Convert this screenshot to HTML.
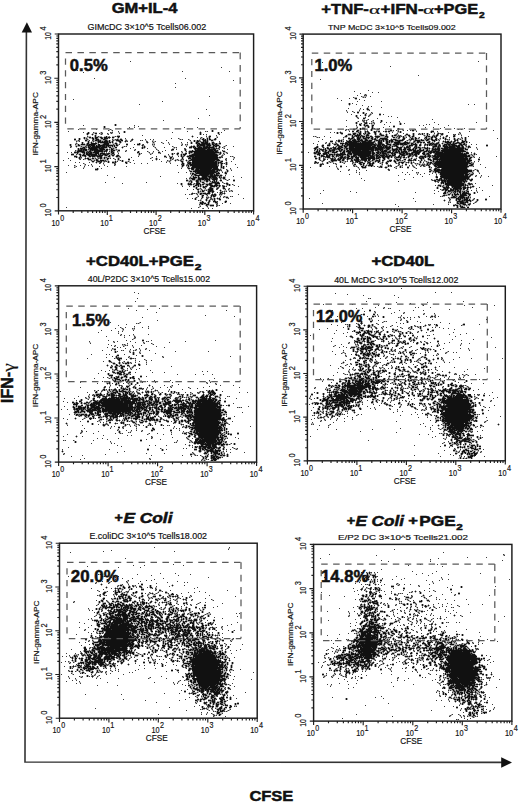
<!DOCTYPE html><html><head><meta charset="utf-8"><style>html,body{margin:0;padding:0;background:#fff;}svg{display:block}</style></head><body>
<svg width="520" height="804" viewBox="0 0 520 804">
<rect width="520" height="804" fill="#fff"/>
<path d="M26.4 31 L25 762 L502 762.4" stroke="#333" stroke-width="1.6" fill="none"/>
<path d="M26.9 22.2 L21.7 32.6 L32 32.6Z" fill="#111"/>
<path d="M512 762.5 L501.2 757.3 L501.2 767.7Z" fill="#111"/>
<text transform="translate(13.05 403.03) rotate(-90) scale(0.946 1)" font-family="Liberation Sans" font-weight="bold" font-style="normal" font-size="16.87" fill="#111"  stroke="#111" stroke-width="0.5">IFN-</text>
<text transform="translate(13.50 371.66) rotate(-90) scale(1.162 1)" font-family="Liberation Serif" font-weight="normal" font-style="normal" font-size="16.54" fill="#111"  stroke="#111" stroke-width="0.18">γ</text>
<text transform="translate(249.39 801.49) scale(1.061 1)" font-family="Liberation Sans" font-weight="bold" font-style="normal" font-size="15.55" fill="#111"  stroke="#111" stroke-width="0.5">CFSE</text>
<text transform="translate(111.69 13.10) scale(1.084 1)" font-family="Liberation Sans" font-weight="bold" font-style="normal" font-size="15.27" fill="#111"  stroke="#111" stroke-width="0.5">GM+IL-4</text>
<text transform="translate(321.34 13.85) scale(1.079 1)" font-family="Liberation Sans" font-weight="bold" font-style="normal" font-size="15.42" fill="#111"  stroke="#111" stroke-width="0.5">+TNF-</text>
<text transform="translate(369.09 13.87) scale(1.579 1)" font-family="Liberation Serif" font-weight="normal" font-style="normal" font-size="13.51" fill="#111"  stroke="#111" stroke-width="0.18">α</text>
<text transform="translate(380.53 13.85) scale(1.104 1)" font-family="Liberation Sans" font-weight="bold" font-style="normal" font-size="15.42" fill="#111"  stroke="#111" stroke-width="0.5">+IFN-</text>
<text transform="translate(423.09 13.87) scale(1.579 1)" font-family="Liberation Serif" font-weight="normal" font-style="normal" font-size="13.51" fill="#111"  stroke="#111" stroke-width="0.18">α</text>
<text transform="translate(434.05 13.70) scale(1.095 1)" font-family="Liberation Sans" font-weight="bold" font-style="normal" font-size="14.98" fill="#111"  stroke="#111" stroke-width="0.5">+PGE</text>
<text transform="translate(479.09 18.05) scale(1.079 1)" font-family="Liberation Sans" font-weight="bold" font-style="normal" font-size="9.46" fill="#111"  stroke="#111" stroke-width="0.5">2</text>
<text transform="translate(86.04 265.50) scale(1.118 1)" font-family="Liberation Sans" font-weight="bold" font-style="normal" font-size="14.98" fill="#111"  stroke="#111" stroke-width="0.5">+CD40L+PGE</text>
<text transform="translate(194.83 269.85) scale(1.221 1)" font-family="Liberation Sans" font-weight="bold" font-style="normal" font-size="9.89" fill="#111"  stroke="#111" stroke-width="0.5">2</text>
<text transform="translate(371.44 266.31) scale(1.173 1)" font-family="Liberation Sans" font-weight="bold" font-style="normal" font-size="14.28" fill="#111"  stroke="#111" stroke-width="0.5">+CD40L</text>
<text transform="translate(114.44 522.39) scale(1.107 1)" font-family="Liberation Sans" font-weight="bold" font-style="normal" font-size="13.00" fill="#111"  stroke="#111" stroke-width="0.5">+</text>
<text transform="translate(123.45 522.91) scale(1.259 1)" font-family="Liberation Sans" font-weight="bold" font-style="italic" font-size="13.74" fill="#111"  stroke="#111" stroke-width="0.5">E Coli</text>
<text transform="translate(346.63 525.26) scale(1.158 1)" font-family="Liberation Sans" font-weight="bold" font-style="normal" font-size="12.61" fill="#111"  stroke="#111" stroke-width="0.5">+</text>
<text transform="translate(355.45 526.01) scale(1.246 1)" font-family="Liberation Sans" font-weight="bold" font-style="italic" font-size="13.74" fill="#111"  stroke="#111" stroke-width="0.5">E Coli</text>
<text transform="translate(408.24 525.23) scale(1.359 1)" font-family="Liberation Sans" font-weight="bold" font-style="normal" font-size="12.22" fill="#111"  stroke="#111" stroke-width="0.5">+</text>
<text transform="translate(419.29 526.11) scale(1.194 1)" font-family="Liberation Sans" font-weight="bold" font-style="normal" font-size="14.42" fill="#111"  stroke="#111" stroke-width="0.5">PGE</text>
<text transform="translate(456.34 530.35) scale(1.292 1)" font-family="Liberation Sans" font-weight="bold" font-style="normal" font-size="9.03" fill="#111"  stroke="#111" stroke-width="0.5">2</text>
<path d="M115 124.5h1m-1 1h1m-12 1h1m-1 1h1m107 3h1m-89 1h1m87 0h1m-125 1h1m35 0h1m75 0h1m17 0h1m-132 1h2m6 0h2m103 0h1m17 0h1m-132 1h1m4 0h1m107 0h1m-106 1h1m-1 1h1m10 0h1m10 0h3m72 0h1m16 0h2m-127 1h1m4 0h2m1 0h1m2 0h3m2 0h2m2 0h3m1 0h2m2 0h2m4 0h1m90 0h1m-131 1h1m4 0h1m7 0h2m1 0h2m4 0h2m1 0h4m95 0h1m3 0h1m1 0h1m5 0h1m-142 1h2m3 0h1m13 0h1m2 0h3m4 0h2m12 0h1m2 0h2m10 0h1m69 0h2m1 0h1m1 0h1m1 0h2m3 0h2m-131 1h2m8 0h2m1 0h1m1 0h1m4 0h2m2 0h1m6 0h3m2 0h2m71 0h1m2 0h1m5 0h3m1 0h1m3 0h2m-125 1h1m9 0h3m1 0h1m1 0h4m1 0h1m2 0h1m6 0h2m4 0h1m68 0h1m2 0h2m4 0h1m1 0h1m1 0h1m-126 1h1m5 0h1m2 0h1m6 0h1m1 0h8m1 0h2m1 0h1m7 0h1m26 0h1m43 0h1m4 0h2m3 0h3m1 0h3m4 0h2m-132 1h1m4 0h2m2 0h6m7 0h5m6 0h2m22 0h1m51 0h1m4 0h1m1 0h2m2 0h6m1 0h1m2 0h1m3 0h1m2 0h2m-151 1h1m7 0h1m2 0h4m2 0h1m1 0h6m3 0h2m3 0h6m7 0h1m9 0h2m9 0h3m57 0h1m1 0h6m1 0h4m2 0h2m1 0h2m-147 1h1m7 0h2m8 0h2m1 0h4m1 0h1m1 0h7m1 0h7m1 0h1m1 0h2m24 0h1m54 0h2m1 0h5m2 0h4m2 0h2m1 0h3m-143 1h1m11 0h1m1 0h1m1 0h3m1 0h5m1 0h3m1 0h1m1 0h1m3 0h1m1 0h1m29 0h1m46 0h1m1 0h2m2 0h1m1 0h1m3 0h2m1 0h2m1 0h1m3 0h1m1 0h2m2 0h1m-137 1h2m3 0h2m1 0h9m1 0h6m2 0h2m4 0h2m5 0h1m19 0h1m1 0h1m44 0h3m1 0h1m1 0h1m2 0h4m1 0h11m5 0h1m-142 1h1m1 0h3m1 0h1m4 0h8m2 0h5m7 0h1m30 0h1m51 0h13m1 0h2m3 0h2m1 0h1m-139 1h1m2 0h1m1 0h4m3 0h8m2 0h5m1 0h2m3 0h2m59 0h2m11 0h1m9 0h1m1 0h8m2 0h9m-138 1h4m1 0h1m1 0h2m3 0h1m1 0h1m1 0h9m3 0h1m4 0h1m1 0h2m3 0h2m65 0h1m6 0h1m2 0h18m1 0h2m1 0h1m-141 1h7m5 0h2m3 0h9m1 0h1m1 0h1m4 0h2m25 0h1m50 0h25m1 0h2m6 0h2m-151 1h2m1 0h1m4 0h3m1 0h1m1 0h1m1 0h2m1 0h6m12 0h1m1 0h1m23 0h2m19 0h2m29 0h1m1 0h1m2 0h25m1 0h1m-144 1h1m6 0h1m1 0h2m1 0h3m3 0h4m1 0h5m3 0h2m2 0h2m25 0h1m32 0h1m4 0h2m6 0h2m2 0h1m4 0h21m5 0h1m-150 1h3m5 0h2m2 0h1m2 0h11m1 0h1m1 0h1m2 0h3m1 0h1m31 0h1m32 0h1m4 0h1m3 0h1m1 0h3m6 0h25m-137 1h1m1 0h4m2 0h2m1 0h6m2 0h4m2 0h2m2 0h1m2 0h2m3 0h2m62 0h1m2 0h1m4 0h29m-144 1h3m3 0h1m4 0h1m3 0h2m1 0h3m2 0h5m6 0h2m6 0h2m46 0h2m15 0h1m5 0h2m1 0h4m1 0h22m-141 1h1m2 0h1m20 0h2m2 0h1m65 0h2m10 0h1m6 0h1m2 0h26m1 0h2m-142 1h1m5 0h1m1 0h2m3 0h2m6 0h2m2 0h1m2 0h2m9 0h1m37 0h1m13 0h1m11 0h1m5 0h3m1 0h26m-130 1h3m5 0h1m10 0h1m10 0h1m9 0h2m26 0h1m34 0h28m-123 1h2m2 0h4m18 0h1m52 0h1m10 0h1m2 0h2m1 0h23m2 0h3m-128 1h2m4 0h2m1 0h1m6 0h1m6 0h1m6 0h1m58 0h2m9 0h22m1 0h2m4 0h2m-127 1h1m3 0h1m7 0h1m3 0h2m1 0h1m9 0h2m55 0h1m6 0h2m1 0h25m1 0h1m1 0h1m5 0h1m-101 1h1m55 0h2m4 0h3m1 0h25m1 0h1m2 0h2m3 0h1m-44 1h1m6 0h27m4 0h1m4 0h1m-45 1h2m4 0h1m1 0h27m4 0h1m-40 1h1m5 0h1m3 0h26m3 0h1m1 0h1m-32 1h26m3 0h1m1 0h1m-127 1h1m90 0h2m1 0h3m2 0h16m1 0h5m5 0h1m-129 1h3m94 0h2m2 0h3m1 0h11m1 0h7m-24 1h20m2 0h1m1 0h1m7 0h1m-38 1h2m1 0h22m1 0h2m9 0h1m-33 1h1m1 0h19m2 0h1m6 0h1m-34 1h2m2 0h18m2 0h4m5 0h2m-35 1h1m1 0h2m4 0h9m1 0h3m1 0h1m1 0h1m-22 1h5m1 0h7m2 0h3m1 0h5m1 0h2m-29 1h1m4 0h1m3 0h5m1 0h8m3 0h1m-27 1h4m1 0h1m3 0h5m2 0h2m1 0h5m2 0h1m3 0h2m-34 1h4m3 0h10m1 0h1m3 0h4m6 0h2m-33 1h3m3 0h3m1 0h2m1 0h5m2 0h5m-31 1h2m8 0h2m2 0h1m5 0h2m1 0h1m4 0h1m1 0h1m3 0h2m11 0h2m-44 1h1m4 0h2m2 0h1m5 0h2m4 0h1m1 0h1m1 0h1m-26 1h1m5 0h1m4 0h2m8 0h4m1 0h2m-38 1h1m6 0h1m1 0h1m5 0h4m9 0h3m3 0h5m6 0h2m-47 1h1m6 0h4m4 0h3m1 0h1m1 0h2m2 0h2m1 0h2m4 0h2m10 0h1m1 0h1m-35 1h2m1 0h1m1 0h1m6 0h1m2 0h3m1 0h4m1 0h1m9 0h1m-37 1h2m3 0h1m1 0h1m2 0h1m1 0h2m4 0h4m1 0h1m2 0h1m3 0h2m-29 1h1m6 0h2m5 0h1m12 0h1m-28 1h1m13 0h3m4 0h1m5 0h2m-28 1h2m9 0h5m-11 1h1m6 0h4m7 0h1m-23 1h1m3 0h2m4 0h3m1 0h2m-16 1h1m9 0h2m2 0h1m7 0h2m-30 1h1m7 0h2m1 0h3m1 0h3m10 0h1m3 0h1m-25 1h1m5 0h1m5 0h1m1 0h2m-14 1h2m7 0h1m1 0h1m1 0h1m-14 1h1m8 0h1m1 0h2m-13 1h1m23 0h2m-33 1h1m18 0h1m2 0h1m1 0h1m-25 1h1m10 0h1m7 0h1m4 0h2m-15 1h1m2 0h1m4 0h1m-13 1h1m6 0h1m3 0h3m9 0h2m-27 1h1m1 0h2m4 0h1m6 0h2m8 0h1m-26 1h3m1 0h2m2 0h1m-7 1h1m3 0h3m-3 1h1m3 0h4" stroke="#111" stroke-width="1"/>
<path d="M130 61.5h1m90 6h1m-145 3h1m27 0h1m76 1h1m46 0h1m-147 1h1m10 6h1m90 0h1m47 2h1m-59 3h1m-1 4h1m33 9h1m-137 3h1m88 2h1m-24 3h1m66 5h1m2 6h1m-12 3h1m-36 2h1m-81 5h1m50 0h1m3 1h1m-10 1h1m4 0h1m49 0h1m12 0h1m-120 2h1m17 0h1m13 0h1m-3 1h1m3 0h1m111 0h1m-157 1h1m49 0h1m68 0h1m17 0h1m1 0h1m-125 1h1m9 0h1m7 0h1m8 0h1m1 0h1m59 0h1m48 0h1m-123 1h1m2 0h1m4 0h1m3 0h1m7 0h1m-19 1h1m6 0h1m94 0h1m2 0h1m12 0h1m-78 1h1m73 0h1m-130 1h1m10 0h1m16 0h1m90 0h1m-10 1h1m3 0h1m15 0h1m-132 1h1m38 0h1m45 0h1m6 0h1m21 0h1m-114 1h1m17 0h1m6 0h1m2 0h1m29 0h1m4 0h1m2 0h1m26 0h1m1 0h1m5 0h1m-111 1h1m10 0h1m2 0h1m4 0h1m1 0h1m13 0h1m5 0h1m6 0h1m4 0h1m8 0h1m1 0h1m23 0h1m23 0h1m8 0h1m-124 1h1m2 0h1m13 0h1m33 0h1m2 0h1m15 0h1m5 0h1m2 0h1m44 0h1m3 0h1m1 0h1m12 0h1m-121 1h1m53 0h1m7 0h1m6 0h1m12 0h1m5 0h1m16 0h1m-129 1h1m86 0h1m33 0h1m3 0h1m6 0h1m4 0h2m-140 1h1m12 0h1m6 0h1m17 0h1m5 0h1m14 0h1m8 0h1m8 0h1m1 0h1m14 0h1m12 0h1m2 0h1m1 0h1m10 0h1m6 0h1m-120 1h2m2 0h1m14 0h1m75 0h1m17 0h1m6 0h1m8 0h1m10 0h1m-156 1h1m9 0h1m3 0h1m3 0h1m5 0h1m5 0h1m3 0h1m18 0h1m1 0h1m26 0h1m18 0h1m13 0h1m11 0h1m1 0h1m4 0h1m2 0h1m15 0h1m8 0h1m-164 1h1m15 0h1m3 0h1m9 0h1m32 0h1m21 0h1m8 0h1m9 0h1m1 0h1m17 0h1m27 0h1m-140 1h1m13 0h1m15 0h1m16 0h1m16 0h1m36 0h1m22 0h1m3 0h2m5 0h1m5 0h1m-145 1h1m1 0h1m5 0h1m10 0h1m9 0h1m6 0h1m18 0h1m20 0h1m19 0h1m19 0h1m8 0h1m13 0h1m7 0h1m-153 1h1m6 0h1m1 0h1m6 0h1m1 0h1m11 0h1m1 0h1m4 0h1m13 0h1m7 0h1m23 0h1m6 0h1m5 0h1m41 0h1m2 0h1m5 0h1m-139 1h1m2 0h1m17 0h1m3 0h1m7 0h1m7 0h1m21 0h1m5 0h1m8 0h1m18 0h1m4 0h1m27 0h1m2 0h1m-151 1h1m3 0h1m4 0h1m1 0h1m8 0h1m1 0h1m12 0h1m9 0h1m36 0h1m32 0h1m7 0h1m35 0h1m-139 1h1m17 0h2m10 0h1m22 0h1m10 0h1m7 0h1m13 0h1m40 0h1m7 0h1m3 0h1m-152 1h1m7 0h1m17 0h1m3 0h1m1 0h1m2 0h1m2 0h1m35 0h1m17 0h1m50 0h1m4 0h1m-135 1h1m6 0h2m123 0h1m-104 1h1m18 0h1m17 0h1m12 0h1m2 0h1m5 0h1m4 0h1m5 0h1m4 0h1m22 0h1m3 0h1m8 0h1m1 0h1m-152 1h1m24 0h1m13 0h1m10 0h1m20 0h1m13 0h1m23 0h1m31 0h1m11 0h1m-167 1h1m26 0h1m2 0h1m11 0h1m2 0h1m36 0h1m22 0h1m52 0h1m-147 1h1m2 0h1m13 0h1m17 0h1m43 0h1m12 0h1m4 0h1m3 0h1m1 0h1m41 0h1m7 0h1m-171 1h1m6 0h1m20 0h1m2 0h1m10 0h1m14 0h1m12 0h1m18 0h1m14 0h1m2 0h1m7 0h1m1 0h1m10 0h1m24 0h1m9 0h1m-130 1h1m2 0h1m3 0h1m1 0h1m10 0h1m10 0h1m32 0h1m7 0h1m18 0h1m25 0h1m16 0h1m-157 1h1m3 0h1m9 0h1m40 0h1m35 0h1m20 0h2m30 0h1m1 0h1m-139 1h1m15 0h1m3 0h1m10 0h1m19 0h1m6 0h1m5 0h1m22 0h1m53 0h1m-140 1h1m5 0h1m23 0h1m65 0h2m4 0h1m1 0h1m45 0h1m-168 1h1m5 0h1m5 0h1m7 0h1m15 0h1m9 0h1m62 0h1m8 0h1m31 0h1m-143 1h1m7 0h1m7 0h1m6 0h1m7 0h1m18 0h1m99 0h1m-153 1h1m112 0h1m3 0h1m45 0h1m-155 1h1m17 0h1m79 0h1m48 0h1m-40 1h1m3 0h1m3 0h1m11 0h1m8 0h1m5 0h1m-38 1h1m26 0h1m1 0h1m2 0h1m9 0h1m-17 1h1m-150 1h1m111 0h1m7 0h1m9 0h1m19 0h1m5 0h1m-33 1h1m8 1h1m9 0h1m7 0h1m-111 1h1m83 0h1m8 0h1m7 0h1m4 0h1m11 0h1m-66 1h1m46 0h1m25 0h1m-120 1h1m75 0h1m8 0h1m11 0h1m9 0h1m19 0h1m-56 1h1m2 0h1m21 0h2m4 0h1m2 0h1m-20 1h1m2 0h1m20 0h1m3 0h1m-40 1h1m7 0h1m5 0h1m8 0h1m13 0h1m-39 1h1m8 0h1m11 0h1m-106 1h1m40 0h1m49 0h1m1 0h1m17 0h1m5 0h1m-101 1h1m54 0h1m16 0h1m9 0h1m19 0h1m-32 1h1m14 0h1m2 0h1m20 0h1m-11 1h1m11 0h1m-53 1h1m6 0h1m20 0h1m15 0h1m11 0h1m-28 1h1m6 0h1m-19 1h1m4 0h1m3 0h1m19 0h1m-43 1h1m5 0h1m7 0h1m14 0h1m8 0h1m2 0h1m-25 1h1m1 0h1m1 0h1m22 0h1m-32 1h1m10 0h1m10 0h1m1 0h1m1 0h1m2 0h1m2 0h1m-16 1h1m-24 1h1m1 0h1m25 0h1m-38 1h1m3 0h1m1 0h1m5 0h1m21 0h1m1 0h1m16 0h1m-32 1h1m4 0h1m1 0h1m-17 1h1m21 0h1m3 0h1m5 0h1m1 0h1m-37 1h1m9 0h1m1 0h1m1 0h1m12 0h1m-37 1h1m4 0h1m8 0h1m5 0h1m3 0h1m16 0h1m14 0h1m-34 1h1m1 0h1m-15 1h1m1 0h1m16 1h1m-17 1h1m15 1h1m4 0h1m7 0h1m-32 1h1m16 0h1m0 1h1m1 0h1m-20 1h1m6 0h1m8 0h1m-151 1h1m131 0h1m-8 1h1m11 0h1m4 0h1m3 0h1" stroke="#3a3a3a" stroke-width="1"/>
<path d="M111 132.5h1m-11 1h1m7 3h1m-8 1h1m4 0h1m2 0h1m-14 1h1m11 0h1m-24 1h1m5 0h1m2 0h1m10 0h1m9 0h1m1 0h1m12 0h1m72 0h1m-126 1h1m13 0h1m10 0h1m2 0h1m4 0h1m7 0h1m4 0h1m6 0h1m65 0h1m7 0h1m-110 1h1m3 0h1m1 0h1m4 0h1m9 0h1m7 0h1m20 0h1m48 0h1m2 0h1m-105 1h1m12 0h1m10 0h1m26 0h1m51 0h1m20 0h1m-122 1h1m4 0h1m111 0h1m-130 1h1m15 0h1m14 0h1m24 0h1m67 0h1m3 0h1m2 0h1m-121 1h1m15 0h1m29 0h1m61 0h1m-136 1h1m15 0h1m4 0h1m15 0h1m1 0h2m31 0h1m47 0h1m1 0h1m8 0h2m7 0h1m1 0h1m1 0h1m-133 1h1m2 0h1m57 0h1m53 0h1m4 0h1m11 0h1m1 0h1m-132 1h1m2 0h1m9 0h1m5 0h1m7 0h1m72 0h1m24 0h1m4 0h1m1 0h1m1 0h1m-141 1h1m9 0h1m8 0h1m14 0h1m57 0h1m12 0h1m9 0h1m11 0h1m-130 1h1m11 0h1m13 0h2m67 0h1m-98 1h1m10 0h1m1 0h1m2 0h1m11 0h1m9 0h1m-33 1h1m10 0h1m8 0h1m2 0h1m1 0h1m85 0h1m26 0h1m-137 1h1m8 0h3m10 0h1m5 0h1m81 0h1m22 0h1m2 0h1m-121 1h1m1 0h1m10 0h2m77 0h1m25 0h1m2 0h1m-134 1h1m16 0h1m2 0h1m8 0h1m66 0h1m-100 1h1m6 0h1m3 0h2m21 0h1m63 0h1m39 0h1m-143 1h1m4 0h1m6 0h1m4 0h3m5 0h1m82 0h1m2 0h1m26 0h1m2 0h1m-142 1h1m5 0h1m12 0h1m71 0h1m19 0h1m-113 1h1m20 0h1m69 0h1m11 0h1m7 0h1m35 0h1m-129 1h1m5 0h1m76 0h1m33 0h1m-120 1h1m6 0h1m1 0h1m83 0h1m27 0h2m1 0h1m-122 1h1m1 0h1m12 0h1m76 0h1m25 0h1m-118 1h1m14 0h1m71 0h1m3 0h1m25 0h1m2 0h1m-107 1h1m73 0h1m28 0h2m-32 1h1m29 0h1m-30 2h1m33 0h1m-33 1h1m3 0h2m16 0h1m6 1h1m-27 1h2m20 0h1m4 0h1m-4 2h1m8 0h1m-32 1h1m18 0h1m-22 1h1m2 0h1m16 0h1m1 0h1m2 0h1m-25 1h1m14 0h1m9 0h1m-25 1h1m20 0h2m2 0h2m-21 1h1m5 0h2m11 0h1m-31 1h1m4 0h1m12 0h1m1 0h1m-14 1h1m19 0h1m2 0h1m-30 1h1m7 0h1m5 0h1m2 0h1m-19 1h1m22 0h1m1 0h1m-5 1h1m-23 1h1m1 0h1m11 0h1m8 0h1m1 0h1m-16 1h1m17 0h1m1 0h1m6 0h1m1 0h1m-32 1h1m8 0h1m2 0h1m3 0h1m4 0h1m1 0h1m2 0h1m-20 1h1m10 0h1m6 0h1m-18 1h1m3 0h1m7 0h1m6 0h1m-9 1h1m1 0h1m-2 1h1m-20 1h1m4 0h1m9 0h1m6 1h1m-8 1h1m8 0h1m1 0h1m-34 1h1m1 0h1m8 0h1m3 0h1m5 0h1m8 0h1m1 0h1m-32 1h1m8 0h1m3 0h1m1 0h1m3 0h1m1 0h1m6 0h1m-6 2h1m-9 1h1m3 0h1m-6 1h1m3 0h1m7 0h1m-8 1h1m-4 2h1m7 0h1m-8 1h1m7 0h1m-15 1h1m12 0h1m-16 1h1m15 0h1m-11 1h1m8 0h1m-15 3h1" stroke="#666" stroke-width="1"/>
<path d="M114 124.5h1m1 0h1m-3 1h1m1 0h1m-14 1h1m1 0h1m28 0h1m-32 1h1m1 0h1m3 2h1m1 0h1m-3 1h1m1 0h1m99 0h1m1 0h1m-102 1h1m10 0h1m1 0h1m74 0h1m5 0h1m4 0h1m1 0h1m-127 1h1m1 0h1m4 0h3m3 0h1m1 0h1m15 0h2m3 0h1m1 0h1m73 0h1m1 0h1m15 0h1m1 0h1m-134 1h1m2 0h1m2 0h3m5 0h1m7 0h1m1 0h1m1 0h1m86 0h1m1 0h1m15 0h1m1 0h1m-134 1h1m1 0h1m2 0h1m1 0h1m1 0h2m3 0h1m1 0h1m4 0h1m91 0h1m1 0h1m16 0h1m-132 1h1m4 0h1m1 0h1m1 0h1m20 0h3m72 0h1m13 0h1m2 0h2m-123 1h3m3 0h1m1 0h2m1 0h3m2 0h2m1 0h2m3 0h3m1 0h1m74 0h1m1 0h1m14 0h1m7 0h2m-135 1h1m1 0h4m2 0h1m1 0h2m3 0h2m3 0h1m10 0h1m2 0h1m1 0h1m72 0h1m7 0h1m1 0h1m3 0h3m1 0h1m5 0h1m-143 1h2m2 0h1m1 0h1m2 0h1m1 0h1m1 0h1m1 0h3m2 0h1m3 0h1m1 0h1m2 0h1m4 0h1m3 0h2m3 0h2m1 0h2m10 0h1m46 0h1m21 0h2m1 0h1m1 0h1m1 0h1m1 0h1m3 0h1m1 0h1m-139 1h1m1 0h1m3 0h2m2 0h1m5 0h1m4 0h4m4 0h1m5 0h2m4 0h1m2 0h1m2 0h2m6 0h1m45 0h1m1 0h1m7 0h1m9 0h3m4 0h1m1 0h1m2 0h3m2 0h1m-143 1h4m9 0h2m5 0h1m6 0h3m4 0h1m1 0h1m3 0h2m11 0h1m2 0h1m10 0h1m3 0h2m5 0h2m35 0h1m3 0h1m1 0h2m3 0h1m1 0h1m5 0h3m2 0h3m-139 1h2m6 0h3m1 0h1m1 0h2m1 0h3m13 0h2m1 0h1m2 0h2m3 0h2m1 0h1m6 0h1m21 0h2m35 0h2m1 0h1m1 0h1m5 0h2m5 0h1m2 0h3m-138 1h1m4 0h1m1 0h1m3 0h1m1 0h2m1 0h2m2 0h2m13 0h1m1 0h1m1 0h2m4 0h1m3 0h1m22 0h1m3 0h1m1 0h1m7 0h1m27 0h1m1 0h1m2 0h1m3 0h2m7 0h2m1 0h1m2 0h1m5 0h1m-146 1h1m1 0h1m3 0h1m1 0h2m1 0h1m2 0h2m6 0h1m2 0h3m6 0h2m1 0h3m2 0h1m1 0h2m5 0h2m9 0h2m1 0h1m6 0h1m4 0h3m7 0h1m5 0h2m11 0h2m4 0h1m2 0h1m1 0h1m2 0h1m4 0h1m9 0h2m5 0h2m-150 1h1m1 0h1m4 0h2m1 0h2m4 0h1m10 0h2m2 0h2m7 0h4m1 0h2m2 0h1m21 0h1m12 0h1m27 0h1m4 0h1m9 0h1m14 0h1m6 0h3m-152 1h1m1 0h1m3 0h3m2 0h6m9 0h1m19 0h1m2 0h1m7 0h2m9 0h3m1 0h1m2 0h1m7 0h3m27 0h1m2 0h3m3 0h1m1 0h2m1 0h1m14 0h2m6 0h1m5 0h1m-151 1h1m1 0h4m1 0h3m2 0h1m23 0h1m1 0h1m1 0h3m4 0h2m1 0h1m17 0h1m1 0h1m8 0h1m18 0h1m15 0h1m5 0h2m14 0h1m5 0h2m1 0h1m2 0h1m1 0h1m-155 1h1m4 0h1m3 0h2m5 0h1m19 0h2m2 0h4m6 0h1m1 0h1m17 0h1m3 0h1m8 0h1m18 0h1m1 0h1m16 0h1m3 0h1m18 0h1m2 0h1m1 0h1m2 0h2m-148 1h1m1 0h1m6 0h1m18 0h3m1 0h2m3 0h3m5 0h1m18 0h1m1 0h2m10 0h2m15 0h3m1 0h1m12 0h3m1 0h1m29 0h1m-147 1h1m9 0h1m17 0h1m2 0h1m1 0h1m3 0h2m1 0h3m14 0h1m22 0h1m28 0h1m29 0h3m-143 1h1m10 0h2m20 0h2m4 0h3m7 0h1m9 0h1m21 0h1m15 0h1m10 0h1m1 0h1m2 0h3m1 0h2m23 0h1m4 0h2m-151 1h1m1 0h1m8 0h1m6 0h2m13 0h1m2 0h1m3 0h1m3 0h2m6 0h1m10 0h1m1 0h1m8 0h1m9 0h2m22 0h1m2 0h1m2 0h1m29 0h1m1 0h1m1 0h1m2 0h1m-147 1h2m4 0h1m13 0h2m2 0h1m4 0h3m3 0h1m2 0h2m20 0h1m8 0h1m3 0h2m6 0h1m16 0h2m2 0h1m3 0h2m1 0h1m4 0h1m27 0h1m1 0h3m1 0h1m-157 1h6m1 0h3m1 0h1m2 0h1m13 0h1m10 0h1m3 0h1m22 0h2m1 0h1m8 0h3m6 0h2m11 0h1m1 0h1m2 0h1m4 0h4m3 0h1m1 0h3m24 0h2m2 0h1m2 0h1m1 0h1m-150 1h2m2 0h2m2 0h1m11 0h1m11 0h2m6 0h2m19 0h1m1 0h1m10 0h1m19 0h1m1 0h1m2 0h1m1 0h1m1 0h1m1 0h1m3 0h1m2 0h2m27 0h1m3 0h2m-153 1h6m2 0h1m1 0h1m4 0h1m16 0h1m4 0h1m1 0h2m2 0h1m4 0h1m18 0h2m24 0h2m2 0h2m2 0h1m4 0h2m1 0h1m1 0h1m2 0h1m1 0h2m29 0h1m2 0h1m1 0h1m-147 1h1m1 0h1m1 0h3m2 0h1m1 0h1m13 0h1m1 0h4m2 0h1m1 0h2m1 0h1m4 0h1m45 0h1m3 0h2m8 0h1m3 0h1m1 0h1m32 0h2m10 0h1m1 0h1m-160 1h2m1 0h2m8 0h4m2 0h3m6 0h2m3 0h4m5 0h4m31 0h1m4 0h1m7 0h2m3 0h1m2 0h2m7 0h1m1 0h1m3 0h1m45 0h1m-156 1h1m2 0h1m2 0h1m4 0h3m2 0h1m1 0h2m4 0h2m1 0h2m2 0h1m4 0h1m2 0h1m1 0h1m8 0h2m21 0h1m3 0h1m1 0h1m11 0h1m2 0h1m8 0h1m1 0h1m34 0h3m4 0h1m7 0h2m-151 1h2m1 0h1m3 0h5m2 0h1m2 0h6m1 0h1m5 0h1m2 0h1m1 0h1m35 0h1m1 0h1m13 0h1m1 0h1m1 0h2m1 0h1m1 0h1m5 0h1m1 0h2m29 0h1m-132 1h3m1 0h2m1 0h1m3 0h1m6 0h3m6 0h1m1 0h3m1 0h1m1 0h1m4 0h2m26 0h1m11 0h2m1 0h1m2 0h1m1 0h2m1 0h1m2 0h2m1 0h1m1 0h2m31 0h3m2 0h1m-135 1h1m2 0h1m7 0h1m4 0h1m1 0h1m2 0h3m1 0h1m4 0h1m1 0h1m1 0h3m1 0h1m36 0h3m1 0h1m4 0h1m4 0h1m2 0h1m2 0h2m2 0h1m28 0h1m6 0h1m-135 1h2m1 0h1m1 0h2m4 0h2m2 0h1m1 0h1m6 0h1m10 0h1m1 0h1m39 0h2m10 0h1m1 0h1m38 0h1m2 0h1m1 0h1m-144 1h1m11 0h1m15 0h2m11 0h1m1 0h1m53 0h1m2 0h1m34 0h1m3 0h1m1 0h1m1 0h1m-144 1h1m18 0h2m79 0h1m1 0h1m33 0h1m1 0h1m2 0h1m1 0h1m-153 1h1m8 0h2m5 0h2m22 0h1m65 0h1m2 0h1m4 0h1m30 0h1m1 0h1m3 0h1m-153 1h2m105 0h1m1 0h1m2 0h2m1 0h3m26 0h1m1 0h1m1 0h1m1 0h1m-150 1h1m7 0h2m96 0h2m6 0h1m30 0h1m3 0h1m-130 1h2m1 0h1m88 0h1m30 0h1m1 0h3m1 0h1m-127 1h1m89 0h2m4 0h1m26 0h1m5 0h1m2 0h2m-137 1h3m92 0h3m33 0h1m1 0h1m-40 1h1m2 0h1m25 0h2m1 0h2m2 0h2m1 0h1m-39 1h5m24 0h1m4 0h1m2 0h1m-37 1h1m2 0h1m20 0h1m8 0h1m-35 1h2m5 0h2m20 0h3m3 0h2m-35 1h2m28 0h1m-33 1h3m1 0h1m1 0h2m1 0h1m1 0h1m16 0h1m4 0h3m-37 1h1m1 0h2m4 0h1m2 0h1m16 0h2m3 0h1m2 0h1m-30 1h2m21 0h1m1 0h2m2 0h1m-40 1h2m1 0h3m3 0h2m13 0h2m9 0h1m1 0h2m1 0h1m1 0h1m4 0h2m-47 1h2m2 0h4m5 0h3m6 0h1m1 0h1m2 0h1m1 0h1m1 0h1m6 0h1m1 0h1m-43 1h3m3 0h1m2 0h1m3 0h1m1 0h5m2 0h2m1 0h1m5 0h2m1 0h3m10 0h2m-47 1h3m1 0h1m6 0h3m2 0h1m1 0h2m1 0h2m8 0h1m3 0h1m2 0h2m-48 1h1m1 0h1m4 0h1m5 0h1m1 0h1m4 0h1m1 0h1m2 0h4m4 0h1m9 0h1m1 0h1m2 0h1m-49 1h1m1 0h1m4 0h1m4 0h1m1 0h2m5 0h1m2 0h2m6 0h1m1 0h1m3 0h1m11 0h1m2 0h1m-53 1h2m5 0h4m1 0h2m4 0h1m1 0h3m1 0h1m2 0h1m15 0h1m1 0h3m1 0h1m2 0h1m-39 1h3m1 0h1m1 0h2m4 0h1m9 0h2m1 0h1m4 0h1m-33 1h3m1 0h1m2 0h1m1 0h1m3 0h1m5 0h3m1 0h1m2 0h1m2 0h1m-28 1h1m1 0h3m1 0h1m1 0h2m3 0h1m4 0h1m8 0h1m2 0h1m2 0h1m-33 1h1m2 0h2m1 0h1m1 0h4m5 0h1m6 0h1m2 0h2m4 0h1m-33 1h1m2 0h2m3 0h1m1 0h1m11 0h1m1 0h1m2 0h3m1 0h3m1 0h1m-36 1h1m1 0h1m1 0h1m2 0h1m2 0h1m6 0h1m6 0h1m1 0h1m1 0h1m4 0h2m-40 1h1m4 0h1m1 0h7m1 0h1m2 0h2m7 0h1m-25 1h1m1 0h3m10 0h1m3 0h2m3 0h1m5 0h1m-36 1h1m5 0h1m2 0h1m2 0h3m3 0h2m6 0h1m5 0h1m1 0h1m-28 1h2m2 0h1m4 0h1m3 0h1m5 0h1m2 0h3m-25 1h1m3 0h1m1 0h1m2 0h3m1 0h1m1 0h1m10 0h1m1 0h3m3 0h1m-37 1h1m1 0h1m3 0h1m1 0h1m5 0h1m3 0h2m2 0h1m1 0h2m3 0h2m2 0h1m-35 1h1m1 0h1m5 0h1m5 0h1m3 0h2m1 0h2m3 0h1m5 0h2m-34 1h1m1 0h1m3 0h2m3 0h1m1 0h1m1 0h1m3 0h1m1 0h1m1 0h2m-20 1h1m1 0h1m3 0h1m1 0h2m1 0h1m1 0h2m1 0h1m3 0h2m4 0h2m-27 1h2m1 0h1m2 0h1m3 0h1m13 0h1m-26 1h1m4 0h2m1 0h1m5 0h2m9 0h1m1 0h1m-28 1h1m6 0h2m1 0h1m5 0h1m-16 1h1m2 0h3m3 0h5m-15 1h2m4 0h1m2 0h2m8 0h1m-20 1h1m6 0h1m3 0h4m3 0h1m-19 1h1m7 0h2" stroke="#aaa" stroke-width="1"/>
<path d="M355 98.5h2m-8 5h1m-1 1h1m17 4h1m-1 1h2m-12 3h2m4 0h1m-1 1h1m1 1h1m13 0h2m-25 1h1m8 0h1m-10 1h1m6 2h2m16 2h1m-1 1h1m-26 1h1m9 0h1m-11 1h1m8 0h2m33 0h1m-42 1h2m3 0h1m35 0h1m-41 1h1m3 0h1m1 0h2m4 0h2m-6 1h1m3 0h1m20 0h2m-27 1h1m3 0h1m-13 1h1m1 0h3m7 0h1m25 0h1m-46 1h2m5 0h1m3 0h1m6 0h1m5 0h2m19 0h1m-42 1h2m12 0h1m18 0h2m20 0h2m-62 1h2m2 0h2m2 0h1m4 0h1m1 0h1m6 0h1m3 0h2m5 0h2m1 0h2m10 0h1m30 0h3m-97 1h1m2 0h1m19 0h1m4 0h1m2 0h1m5 0h2m24 0h1m30 0h1m-95 1h1m3 0h2m10 0h3m3 0h2m4 0h1m2 0h2m5 0h1m4 0h1m32 0h1m8 0h1m4 0h1m10 0h1m3 0h1m-95 1h3m2 0h2m2 0h1m1 0h2m6 0h1m7 0h1m4 0h1m5 0h1m19 0h2m5 0h1m8 0h1m4 0h1m9 0h1m3 0h2m-97 1h1m5 0h1m2 0h5m1 0h1m4 0h3m12 0h3m2 0h1m5 0h1m1 0h2m12 0h2m3 0h1m13 0h1m8 0h2m16 0h1m-110 1h2m5 0h1m3 0h1m1 0h1m1 0h1m1 0h3m1 0h1m3 0h2m3 0h5m5 0h3m4 0h1m6 0h1m3 0h1m5 0h1m2 0h2m12 0h1m1 0h2m2 0h1m1 0h1m1 0h1m9 0h1m6 0h2m-103 1h2m3 0h2m1 0h1m2 0h1m2 0h4m2 0h1m4 0h1m9 0h1m5 0h2m4 0h1m3 0h1m11 0h1m9 0h2m4 0h2m2 0h1m7 0h1m21 0h1m-118 1h2m1 0h2m4 0h3m3 0h3m2 0h1m2 0h2m2 0h1m4 0h7m16 0h2m6 0h2m2 0h2m9 0h1m4 0h1m4 0h1m6 0h1m1 0h1m8 0h1m10 0h1m-116 1h1m3 0h1m2 0h3m1 0h1m3 0h2m5 0h1m1 0h2m3 0h1m2 0h2m1 0h3m3 0h1m1 0h3m6 0h2m7 0h1m3 0h1m5 0h1m5 0h2m2 0h2m2 0h2m8 0h1m8 0h1m2 0h1m7 0h1m-128 1h2m1 0h1m7 0h1m2 0h4m2 0h1m1 0h3m2 0h3m1 0h3m4 0h2m1 0h1m1 0h1m1 0h1m2 0h1m2 0h1m1 0h2m2 0h3m1 0h4m12 0h5m1 0h3m2 0h2m4 0h3m1 0h1m18 0h1m1 0h1m4 0h1m2 0h1m-136 1h3m5 0h2m1 0h1m5 0h5m1 0h7m2 0h4m2 0h3m3 0h1m3 0h2m1 0h1m1 0h1m2 0h2m1 0h1m1 0h2m5 0h2m5 0h1m8 0h1m2 0h3m9 0h1m4 0h1m8 0h1m1 0h1m1 0h2m2 0h1m2 0h1m7 0h3m1 0h1m-121 1h1m1 0h9m3 0h1m1 0h12m4 0h4m4 0h2m1 0h1m4 0h6m4 0h4m9 0h2m1 0h2m1 0h2m2 0h3m8 0h1m6 0h6m2 0h1m3 0h2m2 0h3m2 0h1m-138 1h1m10 0h4m1 0h3m1 0h24m5 0h4m4 0h2m7 0h4m1 0h6m1 0h2m2 0h2m2 0h1m14 0h2m1 0h1m2 0h2m4 0h1m4 0h1m2 0h1m2 0h1m1 0h2m2 0h2m3 0h1m-136 1h1m4 0h2m1 0h1m4 0h1m2 0h1m1 0h28m3 0h3m1 0h2m3 0h4m2 0h2m1 0h3m1 0h3m1 0h3m4 0h1m1 0h4m3 0h1m4 0h1m1 0h1m1 0h2m1 0h1m1 0h3m2 0h1m4 0h3m1 0h2m1 0h4m5 0h2m1 0h2m-143 1h2m3 0h3m7 0h2m3 0h1m1 0h1m2 0h1m1 0h23m2 0h2m1 0h4m1 0h1m1 0h1m1 0h1m3 0h1m4 0h2m12 0h4m2 0h2m2 0h2m6 0h1m1 0h1m5 0h2m2 0h1m3 0h2m1 0h1m2 0h1m2 0h5m1 0h2m1 0h2m23 0h2m-171 1h1m4 0h1m16 0h3m2 0h3m2 0h22m1 0h3m2 0h5m1 0h1m1 0h2m2 0h1m2 0h1m3 0h2m9 0h1m1 0h1m5 0h2m16 0h4m1 0h1m4 0h5m1 0h6m1 0h4m2 0h1m5 0h2m-154 1h2m5 0h1m3 0h1m5 0h1m1 0h1m2 0h2m1 0h2m2 0h1m3 0h5m1 0h22m1 0h6m1 0h6m6 0h2m1 0h2m2 0h1m1 0h3m5 0h1m1 0h1m1 0h2m4 0h1m2 0h1m5 0h1m4 0h1m5 0h11m2 0h3m2 0h2m4 0h1m-155 1h2m9 0h1m1 0h2m1 0h2m2 0h2m1 0h4m5 0h2m1 0h25m1 0h8m3 0h4m2 0h1m3 0h1m2 0h2m3 0h2m3 0h1m3 0h1m1 0h2m3 0h1m4 0h3m1 0h1m2 0h1m2 0h1m1 0h3m1 0h2m1 0h4m1 0h15m1 0h1m-151 1h1m1 0h1m2 0h2m1 0h1m1 0h1m3 0h1m3 0h2m3 0h2m1 0h2m3 0h1m2 0h25m1 0h8m4 0h2m3 0h6m1 0h3m1 0h3m1 0h4m1 0h2m1 0h1m3 0h2m2 0h1m3 0h1m4 0h8m3 0h20m2 0h3m-151 1h1m1 0h1m2 0h1m2 0h2m2 0h2m1 0h3m4 0h1m1 0h1m2 0h1m2 0h2m1 0h11m1 0h7m2 0h3m1 0h1m1 0h1m2 0h1m1 0h1m1 0h3m6 0h2m1 0h1m1 0h1m2 0h1m2 0h1m4 0h3m1 0h3m1 0h2m1 0h4m2 0h2m4 0h1m2 0h1m2 0h2m1 0h23m-148 1h2m1 0h1m5 0h1m2 0h1m1 0h1m2 0h1m2 0h2m2 0h1m2 0h2m1 0h5m1 0h19m1 0h1m5 0h1m2 0h6m2 0h1m3 0h1m2 0h1m1 0h2m1 0h1m1 0h4m6 0h5m1 0h2m3 0h3m1 0h1m1 0h2m1 0h6m3 0h24m-152 1h1m1 0h1m1 0h1m6 0h4m3 0h5m5 0h3m3 0h3m1 0h19m1 0h2m2 0h3m1 0h1m1 0h2m3 0h4m1 0h1m2 0h3m1 0h1m1 0h3m1 0h2m5 0h8m3 0h2m4 0h3m1 0h2m1 0h7m1 0h17m5 0h2m-154 1h2m2 0h3m2 0h4m1 0h1m11 0h3m1 0h1m3 0h4m1 0h18m1 0h3m2 0h2m1 0h1m1 0h4m5 0h2m1 0h1m4 0h2m2 0h2m1 0h2m1 0h1m1 0h2m2 0h4m3 0h3m2 0h2m1 0h1m4 0h28m1 0h1m1 0h3m5 0h1m-158 1h3m3 0h2m1 0h1m2 0h4m1 0h1m1 0h10m1 0h1m2 0h2m2 0h16m2 0h2m2 0h1m2 0h1m3 0h1m2 0h1m5 0h1m1 0h2m4 0h4m2 0h2m1 0h2m1 0h1m1 0h3m1 0h1m4 0h2m3 0h1m6 0h31m8 0h1m-156 1h1m1 0h2m3 0h2m1 0h1m2 0h1m3 0h2m1 0h2m1 0h1m4 0h2m4 0h3m2 0h13m1 0h1m3 0h3m1 0h5m1 0h1m2 0h2m1 0h3m4 0h1m2 0h3m4 0h2m4 0h2m8 0h1m2 0h2m4 0h2m1 0h30m1 0h2m-156 1h2m5 0h1m1 0h2m1 0h4m2 0h2m2 0h1m4 0h2m5 0h2m1 0h4m1 0h1m3 0h9m1 0h4m2 0h2m1 0h1m2 0h2m1 0h5m1 0h1m6 0h2m8 0h2m6 0h1m3 0h3m1 0h2m2 0h3m2 0h37m-151 1h1m7 0h3m10 0h3m1 0h1m2 0h2m2 0h2m2 0h4m1 0h6m2 0h7m1 0h1m1 0h3m1 0h3m2 0h2m2 0h1m4 0h3m1 0h1m2 0h2m3 0h1m10 0h1m2 0h2m1 0h1m3 0h1m5 0h4m1 0h24m1 0h2m3 0h2m-157 1h2m2 0h1m12 0h1m5 0h1m1 0h2m1 0h1m3 0h4m1 0h1m3 0h3m2 0h14m1 0h3m4 0h2m3 0h1m11 0h1m10 0h1m8 0h2m1 0h1m4 0h1m4 0h5m2 0h28m1 0h2m-152 1h1m4 0h1m6 0h2m1 0h1m3 0h3m2 0h1m3 0h1m3 0h1m2 0h1m1 0h3m2 0h6m1 0h2m3 0h2m4 0h1m4 0h1m11 0h2m1 0h1m4 0h2m3 0h1m4 0h2m5 0h1m6 0h3m2 0h35m1 0h1m8 0h2m-157 1h1m7 0h6m2 0h1m2 0h2m7 0h2m2 0h4m5 0h3m1 0h2m2 0h1m3 0h2m1 0h1m2 0h2m5 0h3m2 0h1m2 0h2m9 0h4m3 0h1m5 0h1m8 0h2m1 0h1m3 0h1m1 0h1m1 0h25m1 0h5m-157 1h1m16 0h1m7 0h1m11 0h1m3 0h4m5 0h1m9 0h1m2 0h2m7 0h2m1 0h1m3 0h2m24 0h1m12 0h1m2 0h30m1 0h3m-155 1h2m10 0h1m12 0h1m16 0h1m2 0h3m5 0h2m3 0h1m4 0h1m3 0h1m3 0h1m8 0h1m3 0h1m1 0h3m4 0h1m2 0h1m8 0h1m7 0h1m1 0h2m3 0h34m-142 1h1m31 0h2m2 0h2m4 0h2m1 0h2m12 0h2m14 0h1m8 0h1m15 0h1m2 0h1m3 0h34m1 0h2m-151 1h2m32 0h2m4 0h2m1 0h1m5 0h2m1 0h1m32 0h2m12 0h1m7 0h1m7 0h33m3 0h2m-153 1h1m42 0h1m4 0h5m15 0h1m1 0h1m32 0h1m4 0h1m5 0h2m1 0h30m2 0h3m-152 1h1m19 0h2m19 0h2m2 0h1m5 0h1m8 0h2m6 0h1m11 0h1m28 0h1m5 0h2m1 0h31m-107 1h4m15 0h1m3 0h2m13 0h1m6 0h2m20 0h1m7 0h30m-32 1h2m5 0h25m-79 1h1m40 0h2m3 0h2m1 0h3m1 0h27m-34 1h38m5 0h1m-49 1h2m4 0h4m2 0h31m-37 1h1m2 0h30m-28 1h27m-27 1h24m1 0h4m2 0h2m-32 1h23m1 0h3m2 0h1m-35 1h1m3 0h28m1 0h1m-34 1h2m3 0h28m-29 1h2m2 0h25m-33 1h2m1 0h1m1 0h1m2 0h1m1 0h1m1 0h18m1 0h1m3 0h2m-39 1h2m2 0h2m1 0h5m1 0h17m1 0h1m4 0h2m-37 1h1m6 0h1m1 0h2m1 0h15m1 0h2m1 0h1m-26 1h3m1 0h1m1 0h15m2 0h1m-24 1h1m1 0h1m1 0h19m4 0h2m-25 1h19m1 0h1m3 0h2m-33 1h3m6 0h2m2 0h13m1 0h1m1 0h1m-28 1h1m5 0h1m1 0h1m3 0h9m11 0h2m-37 1h1m5 0h2m1 0h3m3 0h1m1 0h7m2 0h3m1 0h2m1 0h1m-34 1h1m6 0h2m1 0h1m5 0h9m1 0h3m1 0h1m-25 1h1m1 0h3m2 0h2m1 0h1m1 0h3m2 0h1m2 0h1m3 0h1m-23 1h2m1 0h1m1 0h4m1 0h1m1 0h2m1 0h1m-16 1h1m2 0h2m4 0h2m1 0h1m1 0h2m3 0h1m2 0h2m-25 1h2m9 0h1m3 0h2m2 0h2m1 0h1m7 0h1m-32 1h3m8 0h1m2 0h1m2 0h1m1 0h7m5 0h1m-27 1h2m2 0h1m1 0h5m1 0h1m1 0h4m3 0h2m-28 1h2m7 0h1m2 0h1m4 0h7m2 0h1m-17 1h2m4 0h5m4 0h1m-18 1h5m2 0h1m1 0h5m1 0h1m1 0h1m-13 1h3m1 0h1m1 0h1m1 0h1m1 0h2m-12 1h1m1 0h3m3 0h4m1 0h1m7 0h1m7 0h2m-43 1h1m11 0h1m2 0h1m2 0h1m1 0h1m1 0h5m6 0h1m-21 1h6m3 0h2m2 0h1m-14 1h1m2 0h4m1 0h1m1 0h1m-11 1h2m1 0h4m-1 1h3m2 0h2m-17 1h2m1 0h2m2 0h1m-4 1h1m2 0h1m1 0h1m-6 1h1m3 0h4m2 0h2" stroke="#111" stroke-width="1"/>
<path d="M478 61.5h1m-157 1h1m67 4h1m27 9h1m-99 4h1m47 11h1m-15 1h1m17 1h1m5 0h1m-19 1h1m4 1h1m-9 1h1m6 0h1m1 0h1m-6 1h1m8 0h1m-18 1h1m9 0h1m1 0h1m-29 1h1m11 0h1m9 1h1m-19 1h1m22 0h1m-8 1h1m23 0h1m-30 2h1m3 1h1m111 0h1m5 0h1m-113 1h1m5 1h1m2 0h1m9 1h1m-34 1h1m11 0h1m2 1h1m-18 1h1m12 0h1m9 0h1m-18 1h1m-6 1h1m6 0h1m16 0h1m-6 1h1m5 0h1m-22 1h1m18 0h1m12 0h1m-24 1h1m8 0h1m-2 1h1m19 0h1m2 0h1m-35 1h1m7 0h1m31 0h1m-40 1h1m18 0h1m-10 1h1m63 0h1m-87 1h1m15 0h1m1 0h1m1 0h1m6 0h1m-16 1h1m4 0h1m7 0h1m27 0h1m-36 1h1m8 0h1m6 0h1m5 0h1m3 0h1m43 0h1m41 0h1m-116 1h1m7 0h1m1 0h1m2 0h1m29 0h1m-21 1h1m41 0h1m2 0h1m8 0h1m-83 1h1m62 0h1m3 0h1m24 0h1m-103 1h1m18 0h1m23 0h1m-33 1h1m25 0h1m41 0h1m7 0h1m10 0h1m-89 1h1m17 0h1m4 0h1m60 0h1m13 0h1m9 0h1m-119 1h1m1 0h1m36 0h1m16 0h1m12 0h1m42 0h1m2 0h1m-117 1h1m47 0h1m2 0h1m6 0h1m3 0h1m2 0h1m82 0h1m-145 1h1m26 0h1m6 0h1m14 0h1m17 0h1m20 0h1m31 0h1m-140 1h1m3 0h1m23 0h1m33 0h1m55 0h1m10 0h1m-97 1h1m25 0h1m7 0h1m5 0h1m15 0h1m4 0h1m9 0h1m5 0h1m19 0h1m-97 1h1m3 0h1m12 0h1m14 0h1m21 0h1m1 0h1m8 0h1m23 0h1m1 0h1m2 0h1m-61 1h1m1 0h1m4 0h1m18 0h1m8 0h1m13 0h1m13 0h1m-149 1h1m1 0h1m8 0h1m29 0h1m2 0h1m39 0h1m3 0h1m38 0h1m27 0h1m-152 1h1m1 0h1m10 0h1m12 0h1m15 0h1m11 0h1m4 0h1m1 0h1m17 0h1m9 0h1m3 0h1m1 0h1m6 0h1m29 0h1m11 0h1m-96 1h1m31 0h1m19 0h1m5 0h1m4 0h1m10 0h1m17 0h1m3 0h1m34 0h1m-176 1h1m20 0h1m9 0h1m1 0h1m28 0h1m19 0h1m4 0h1m2 0h2m11 0h1m12 0h1m8 0h1m1 0h1m10 0h1m-125 1h1m9 0h1m3 0h1m8 0h1m18 0h1m1 0h1m6 0h1m2 0h1m7 0h1m8 0h1m2 0h1m28 0h1m14 0h1m-137 1h1m24 0h1m8 0h1m8 0h1m4 0h2m3 0h1m8 0h1m16 0h1m-72 1h1m8 0h1m9 0h1m1 0h1m9 0h2m32 0h1m17 0h1m3 0h1m18 0h1m36 0h1m-157 1h1m11 0h1m6 0h1m3 0h1m11 0h1m24 0h1m1 0h1m18 0h1m4 0h1m6 0h1m22 0h1m2 0h1m5 0h1m9 0h2m4 0h1m6 0h1m-145 1h1m28 0h1m28 0h2m4 0h1m13 0h1m7 0h1m8 0h1m18 0h1m1 0h1m13 0h1m2 0h1m8 0h1m6 0h1m4 0h1m4 0h1m-131 1h1m1 0h1m23 0h2m9 0h1m1 0h1m8 0h1m8 0h1m20 0h1m6 0h1m2 0h1m3 0h1m1 0h1m4 0h1m2 0h1m1 0h2m13 0h1m-130 1h1m1 0h1m36 0h1m8 0h1m2 0h1m6 0h1m7 0h1m3 0h1m1 0h1m30 0h2m14 0h1m7 0h1m2 0h1m-152 1h1m18 0h1m5 0h1m5 0h1m7 0h1m22 0h1m6 0h1m14 0h1m9 0h2m4 0h1m6 0h1m14 0h1m1 0h1m15 0h1m4 0h2m8 0h1m5 0h1m-161 1h1m2 0h1m13 0h1m10 0h1m29 0h1m8 0h2m12 0h1m3 0h1m6 0h1m10 0h1m13 0h1m9 0h1m4 0h1m-127 1h1m9 0h1m2 0h2m10 0h1m38 0h1m55 0h1m20 0h1m13 0h1m-164 1h1m8 0h1m7 0h1m8 0h1m8 0h1m11 0h1m7 0h2m5 0h1m1 0h1m2 0h1m8 0h1m1 0h1m2 0h1m9 0h1m2 0h1m10 0h1m9 0h1m1 0h1m1 0h2m1 0h2m-115 1h1m5 0h1m2 0h1m18 0h1m19 0h1m1 0h1m3 0h1m10 0h1m1 0h1m4 0h1m6 0h1m5 0h1m9 0h1m10 0h1m2 0h1m6 0h1m1 0h1m-134 1h1m6 0h1m1 0h1m1 0h1m4 0h1m54 0h1m1 0h1m2 0h2m8 0h1m9 0h1m2 0h1m20 0h1m3 0h1m2 0h1m7 0h1m18 0h1m8 0h1m-138 1h1m8 0h1m42 0h1m6 0h1m1 0h1m5 0h2m5 0h1m1 0h1m8 0h1m45 0h1m-141 1h1m1 0h1m20 0h2m3 0h1m16 0h1m6 0h1m4 0h1m1 0h2m2 0h1m15 0h1m6 0h1m14 0h2m1 0h1m36 0h1m4 0h1m4 0h1m-154 1h1m4 0h1m9 0h1m2 0h1m14 0h1m14 0h1m1 0h2m12 0h1m13 0h1m11 0h1m16 0h1m1 0h1m3 0h1m35 0h1m-151 1h1m15 0h1m1 0h1m4 0h1m1 0h1m7 0h1m3 0h1m9 0h1m4 0h1m3 0h1m2 0h1m2 0h1m10 0h1m5 0h1m2 0h1m7 0h1m10 0h1m3 0h1m45 0h1m22 0h1m-172 1h1m8 0h1m8 0h1m1 0h1m20 0h1m10 0h1m16 0h1m4 0h1m6 0h1m13 0h2m10 0h1m1 0h1m29 0h1m9 0h1m4 0h1m-157 1h1m6 0h2m3 0h1m8 0h2m5 0h1m43 0h1m20 0h1m5 0h1m16 0h1m-117 1h1m3 0h1m5 0h1m1 0h1m1 0h1m4 0h1m12 0h1m14 0h1m1 0h1m-53 1h1m17 0h1m15 0h1m5 0h1m1 0h2m14 0h1m21 0h1m1 0h1m10 0h1m4 0h1m5 0h1m15 0h1m25 0h1m-145 1h1m6 0h1m15 0h1m1 0h1m2 0h1m4 0h1m11 0h1m2 0h1m33 0h1m21 0h1m39 0h1m7 0h1m3 0h1m-161 1h1m11 0h1m11 0h1m10 0h1m1 0h1m3 0h1m46 0h1m6 0h1m9 0h1m45 0h1m1 0h1m-158 1h1m2 0h1m4 0h1m10 0h1m1 0h1m8 0h1m7 0h1m14 0h1m12 0h1m15 0h1m1 0h1m16 0h1m1 0h1m14 0h1m35 0h1m4 0h1m-151 1h1m12 0h1m45 0h1m16 0h1m22 0h1m1 0h1m4 0h1m3 0h2m45 0h1m-128 1h1m12 0h1m31 0h1m3 0h1m6 0h1m2 0h1m3 0h1m4 0h1m4 0h1m9 0h1m30 0h1m4 0h1m-144 1h1m6 0h1m9 0h1m7 0h1m1 0h1m17 0h1m2 0h1m13 0h1m4 0h1m16 0h1m6 0h1m3 0h1m48 0h1m-164 1h1m47 0h1m20 0h1m14 0h1m7 0h1m11 0h1m16 0h1m53 0h1m-149 1h1m58 0h1m19 0h1m-79 1h1m10 0h1m9 0h1m76 0h1m38 0h1m-128 1h1m7 0h1m9 0h1m22 0h1m22 0h1m18 0h1m41 0h1m-134 1h1m92 0h1m5 0h2m37 0h1m-123 1h1m2 0h1m42 0h1m4 0h1m8 0h1m1 0h1m53 0h1m-49 1h1m7 0h1m34 0h1m1 0h1m3 0h1m5 0h1m-131 1h1m9 0h1m45 0h1m3 0h1m7 0h1m2 0h1m8 0h1m6 0h1m-39 1h1m65 0h1m11 0h1m4 0h1m-60 1h1m45 0h1m6 0h1m12 0h1m-76 1h1m66 0h1m-120 1h1m42 1h1m26 0h1m8 0h1m4 0h1m1 0h1m21 0h1m-106 1h1m67 0h1m13 0h1m17 0h1m-67 1h1m38 0h1m3 0h1m1 0h1m2 0h1m15 0h1m2 0h1m-28 1h1m32 1h1m3 0h1m-4 1h1m-38 1h1m7 0h1m2 0h1m2 0h2m41 0h1m-51 1h1m4 0h1m13 0h1m1 0h2m-20 1h1m7 0h1m25 0h1m-34 1h1m1 0h1m1 0h1m25 0h1m-37 1h1m3 0h1m7 0h1m1 0h1m3 0h2m4 0h1m-142 1h1m110 0h1m7 0h1m6 0h1m16 0h1m4 0h1m4 0h1m5 0h1m-133 1h1m87 0h1m11 0h1m7 0h1m3 0h1m-107 1h1m58 0h1m31 0h1m3 0h1m1 0h1m11 0h1m2 0h1m8 0h1m-158 1h1m113 0h1m15 0h1m10 1h1m6 0h1m-23 1h1m-7 1h1m1 0h1m13 0h1m32 0h1m-42 1h1m10 0h1m7 0h1m2 0h1m-162 1h1m103 0h1m35 0h1m9 0h1m1 0h1m12 0h1m-25 1h1m22 0h1m-25 1h1m13 0h1m1 0h1m6 0h1m-58 1h1m47 0h1m12 0h1m-29 1h1m1 0h1m13 0h1m1 0h1m8 0h1m-154 1h1m141 0h1m5 0h1m2 0h1m-79 1h1m37 0h1m14 0h1m6 0h1m3 0h1m6 1h1m-69 1h1m62 0h1" stroke="#3a3a3a" stroke-width="1"/>
<path d="M365 95.5h1m-3 25h1m0 1h1m1 0h1m-2 1h1m-2 1h1m0 2h1m2 0h1m-2 1h1m3 2h1m1 0h1m-2 1h1m-6 1h1m30 0h1m-41 1h1m7 0h1m1 0h1m6 0h1m-35 1h1m17 0h1m7 0h1m1 0h1m-30 1h1m23 0h1m2 0h1m6 0h1m62 0h1m1 0h1m1 0h1m-87 1h1m2 0h1m7 0h1m12 0h1m15 0h1m23 0h1m18 0h1m15 0h1m-101 1h1m5 0h1m1 0h1m12 0h1m4 0h1m15 0h1m2 0h1m34 0h1m11 0h1m6 0h1m-101 1h1m1 0h1m3 0h1m1 0h1m5 0h2m3 0h1m25 0h1m1 0h1m26 0h1m5 0h1m1 0h1m11 0h1m-86 1h1m1 0h2m9 0h1m8 0h3m11 0h1m5 0h1m29 0h1m1 0h1m-87 1h1m2 0h2m5 0h1m6 0h1m6 0h1m2 0h1m9 0h1m11 0h1m13 0h1m11 0h1m2 0h1m3 0h1m2 0h1m-87 1h1m1 0h2m7 0h1m1 0h1m1 0h1m2 0h1m3 0h1m1 0h1m2 0h1m3 0h2m10 0h1m3 0h1m13 0h1m5 0h1m9 0h1m2 0h1m16 0h1m8 0h1m-116 1h1m15 0h2m6 0h1m3 0h1m5 0h2m6 0h1m2 0h1m17 0h1m10 0h1m5 0h1m7 0h1m6 0h1m9 0h1m10 0h1m-111 1h1m13 0h1m12 0h1m14 0h1m1 0h1m2 0h1m1 0h2m3 0h1m12 0h1m1 0h1m4 0h1m7 0h1m15 0h1m1 0h1m3 0h1m2 0h1m1 0h1m1 0h1m7 0h1m-107 1h1m1 0h1m12 0h1m13 0h1m3 0h1m7 0h1m2 0h1m4 0h1m5 0h1m4 0h1m17 0h1m13 0h1m2 0h1m1 0h1m2 0h1m4 0h1m-130 1h1m8 0h1m37 0h1m5 0h1m20 0h1m3 0h1m6 0h1m4 0h1m2 0h1m5 0h2m10 0h1m5 0h1m4 0h2m4 0h1m-136 1h1m7 0h1m1 0h1m38 0h1m6 0h1m1 0h1m12 0h1m7 0h1m11 0h1m4 0h1m1 0h1m1 0h1m8 0h2m16 0h1m6 0h1m2 0h1m-127 1h1m1 0h1m1 0h1m1 0h1m30 0h1m4 0h1m5 0h1m1 0h1m3 0h1m3 0h1m4 0h1m4 0h1m17 0h1m4 0h1m1 0h2m13 0h1m9 0h1m2 0h1m5 0h1m-151 1h1m6 0h1m9 0h1m8 0h1m4 0h1m23 0h1m10 0h1m5 0h1m1 0h1m2 0h1m1 0h1m14 0h1m3 0h1m9 0h1m7 0h1m4 0h1m10 0h1m12 0h1m-140 1h1m5 0h1m3 0h1m11 0h1m47 0h1m3 0h1m8 0h1m11 0h1m2 0h1m2 0h1m1 0h1m6 0h1m1 0h2m20 0h1m12 0h1m-147 1h1m5 0h1m6 0h1m4 0h1m3 0h1m2 0h1m36 0h1m4 0h1m4 0h1m2 0h1m7 0h2m2 0h1m3 0h1m9 0h1m3 0h1m5 0h1m1 0h1m27 0h1m-151 1h1m4 0h1m4 0h1m3 0h1m1 0h2m5 0h1m2 0h1m3 0h1m29 0h1m8 0h1m1 0h1m3 0h1m8 0h1m12 0h1m2 0h1m11 0h1m2 0h1m-109 1h1m20 0h2m2 0h1m27 0h1m4 0h1m3 0h1m3 0h1m1 0h1m7 0h1m1 0h2m2 0h1m8 0h1m3 0h1m11 0h1m35 0h1m-147 1h1m3 0h1m1 0h1m1 0h1m4 0h1m2 0h1m4 0h1m1 0h1m37 0h2m6 0h1m4 0h1m1 0h1m2 0h1m11 0h1m11 0h1m1 0h1m3 0h1m12 0h1m-101 1h1m6 0h1m3 0h1m19 0h1m2 0h1m11 0h1m4 0h1m1 0h1m4 0h1m1 0h1m10 0h1m8 0h1m40 0h1m6 0h1m-153 1h2m9 0h1m9 0h1m9 0h1m4 0h1m18 0h1m4 0h1m2 0h1m1 0h1m5 0h2m16 0h1m7 0h2m11 0h1m2 0h1m1 0h1m2 0h1m28 0h1m-131 1h1m1 0h1m38 0h2m2 0h1m1 0h2m5 0h1m5 0h1m5 0h1m5 0h1m2 0h1m4 0h1m3 0h1m7 0h1m8 0h1m-105 1h1m2 0h2m8 0h1m5 0h1m1 0h1m5 0h1m17 0h1m3 0h1m5 0h1m2 0h1m2 0h1m3 0h1m9 0h1m2 0h1m2 0h2m1 0h1m9 0h1m2 0h1m5 0h1m33 0h1m-143 1h1m11 0h1m6 0h1m13 0h1m21 0h1m9 0h1m1 0h1m1 0h1m5 0h1m2 0h1m6 0h1m4 0h1m3 0h1m6 0h1m5 0h1m-118 1h1m7 0h1m2 0h1m5 0h1m6 0h1m6 0h1m6 0h1m13 0h1m17 0h2m2 0h1m5 0h1m5 0h1m22 0h1m8 0h1m5 0h1m27 0h1m1 0h1m-146 1h1m8 0h2m4 0h1m2 0h1m12 0h1m19 0h1m3 0h1m7 0h1m8 0h1m22 0h1m9 0h1m8 0h1m-114 1h1m18 0h1m3 0h1m3 0h1m6 0h1m16 0h1m6 0h1m14 0h1m1 0h1m7 0h1m1 0h2m1 0h1m54 0h1m1 0h1m-147 1h1m15 0h1m6 0h1m11 0h1m1 0h1m11 0h1m1 0h1m23 0h1m12 0h1m1 0h1m21 0h1m1 0h1m-108 1h1m1 0h1m17 0h1m8 0h1m3 0h1m3 0h2m6 0h2m4 0h1m6 0h1m18 0h1m2 0h1m20 0h1m1 0h2m34 0h1m-157 1h1m2 0h1m34 0h1m3 0h1m10 0h1m2 0h1m1 0h1m14 0h1m10 0h1m1 0h1m6 0h1m19 0h1m1 0h1m3 0h2m-120 1h1m45 0h1m6 0h1m2 0h1m10 0h1m16 0h1m28 0h2m1 0h1m1 0h1m37 0h2m-151 1h1m48 0h1m26 0h1m24 0h1m2 0h1m1 0h1m1 0h1m39 0h1m2 0h1m-153 1h1m32 0h1m34 0h1m1 0h1m30 0h1m1 0h1m2 0h1m1 0h1m-67 1h1m26 0h1m32 0h1m10 0h1m2 0h1m-58 1h1m54 0h2m30 0h1m-34 1h1m2 0h2m2 0h1m-53 1h1m50 0h1m-53 1h1m41 0h1m47 0h1m-45 1h1m42 0h1m-10 1h1m3 1h1m-9 1h1m5 0h1m-35 1h1m3 0h1m28 0h1m1 0h1m-35 1h1m32 0h1m-31 1h1m28 0h1m-31 1h1m3 0h1m-6 1h1m3 0h2m22 0h1m1 0h1m1 0h1m-38 1h1m3 0h1m2 0h1m25 0h1m-33 1h1m1 0h1m1 0h1m5 1h1m1 0h1m15 0h2m-22 1h1m21 0h1m5 0h1m-7 1h1m3 0h1m2 0h1m-8 1h1m1 0h1m-24 1h1m7 0h1m13 0h1m1 0h1m2 0h1m-22 1h1m11 0h2m3 0h1m2 0h1m1 0h1m-29 1h1m7 0h1m18 0h1m-29 1h1m18 0h1m-19 1h1m3 0h1m6 0h1m1 0h1m2 0h1m7 0h1m-17 1h3m2 0h1m6 0h1m2 0h1m-13 1h1m2 0h1m4 0h1m4 0h1m-13 1h1m13 0h1m-26 1h1m21 0h1m-22 1h1m8 0h1m1 0h1m-5 1h1m2 0h1m8 0h1m-9 1h1m8 0h1m-3 1h1m1 0h1m2 0h1m-20 1h1m7 0h1m4 0h2m-6 1h1m1 0h2m2 1h2m-8 1h2m-1 1h1m5 0h1m3 0h1m-10 1h1m1 0h1m7 0h1m-16 1h1m8 0h1m4 0h1m-10 2h1" stroke="#666" stroke-width="1"/>
<path d="M364 94.5h1m1 0h1m-5 2h5m-13 1h3m5 0h1m1 0h1m-11 1h1m0 1h2m-9 4h1m1 0h1m-3 1h1m1 0h1m-2 1h1m17 2h2m-3 1h1m1 0h1m-10 1h2m5 0h1m2 0h1m-3 1h2m-23 1h2m5 0h1m3 0h3m-7 1h1m8 0h1m1 0h1m7 0h1m-16 1h2m3 0h1m1 0h2m4 0h2m7 0h2m-17 1h1m1 0h1m2 0h1m1 0h1m-17 1h1m1 0h1m6 0h1m1 0h1m1 0h1m1 0h1m8 0h2m-26 1h1m1 0h1m7 0h1m3 0h1m-14 1h1m1 0h1m4 0h2m-8 1h1m7 0h1m-4 1h3m2 0h1m-3 1h1m1 0h1m4 0h1m7 0h1m1 0h1m-26 1h1m4 0h1m9 0h2m6 0h1m1 0h1m-28 1h1m1 0h1m5 0h1m3 0h1m3 0h2m1 0h1m6 0h1m17 0h2m-46 1h1m1 0h1m1 0h2m6 0h1m2 0h1m1 0h2m25 0h1m1 0h1m-46 1h1m4 0h1m1 0h1m1 0h3m3 0h4m24 0h1m1 0h1m-43 1h1m1 0h1m1 0h1m7 0h1m21 0h2m-39 1h2m6 0h1m1 0h1m2 0h1m1 0h1m1 0h1m-18 1h1m5 0h4m1 0h1m1 0h1m1 0h1m1 0h1m19 0h2m-42 1h3m1 0h1m1 0h1m1 0h1m3 0h1m11 0h2m18 0h1m1 0h1m-55 1h1m1 0h1m7 0h5m1 0h3m1 0h1m4 0h1m8 0h1m10 0h2m5 0h1m1 0h1m3 0h1m8 0h3m-69 1h1m1 0h2m2 0h3m1 0h1m2 0h2m3 0h2m4 0h1m1 0h1m3 0h4m5 0h2m1 0h2m2 0h1m4 0h1m4 0h1m8 0h1m2 0h3m14 0h3m-94 1h1m18 0h1m1 0h1m2 0h1m8 0h1m3 0h1m6 0h1m2 0h1m2 0h4m3 0h1m1 0h1m1 0h1m10 0h2m16 0h1m-95 1h1m1 0h2m2 0h1m9 0h6m3 0h1m2 0h1m1 0h1m6 0h1m2 0h1m1 0h3m4 0h2m1 0h2m7 0h3m1 0h1m28 0h1m1 0h3m2 0h2m21 0h1m-125 1h1m1 0h1m9 0h3m1 0h1m3 0h3m2 0h1m4 0h1m3 0h1m5 0h1m2 0h1m1 0h1m4 0h1m9 0h1m9 0h2m4 0h1m1 0h1m3 0h1m1 0h2m1 0h1m2 0h1m1 0h1m14 0h1m14 0h2m-119 1h2m4 0h1m3 0h2m3 0h1m4 0h1m1 0h1m1 0h1m3 0h1m4 0h1m1 0h1m5 0h2m1 0h1m1 0h1m6 0h1m2 0h2m6 0h1m2 0h2m2 0h1m1 0h1m6 0h1m1 0h2m1 0h1m1 0h1m4 0h2m1 0h1m3 0h1m2 0h1m15 0h3m-117 1h1m1 0h5m1 0h1m9 0h3m3 0h3m4 0h4m4 0h2m1 0h1m3 0h1m1 0h1m3 0h1m3 0h1m2 0h1m1 0h2m2 0h1m1 0h1m1 0h1m8 0h1m1 0h2m1 0h2m2 0h1m2 0h1m2 0h1m1 0h3m12 0h1m-142 1h1m1 0h1m27 0h1m2 0h1m3 0h1m13 0h1m3 0h1m4 0h1m5 0h5m3 0h1m2 0h1m1 0h4m5 0h1m1 0h3m1 0h1m1 0h2m2 0h1m9 0h2m4 0h2m5 0h1m5 0h1m1 0h1m9 0h1m5 0h1m-146 1h1m1 0h1m25 0h3m1 0h2m1 0h1m2 0h1m1 0h1m4 0h1m8 0h1m2 0h1m5 0h5m4 0h1m3 0h1m2 0h1m1 0h1m2 0h1m1 0h1m2 0h1m3 0h1m1 0h1m1 0h2m1 0h1m1 0h1m5 0h1m2 0h4m2 0h1m6 0h1m1 0h1m1 0h3m6 0h2m7 0h1m1 0h1m1 0h1m-124 1h1m12 0h1m4 0h2m6 0h2m2 0h1m2 0h1m2 0h1m11 0h1m1 0h5m4 0h1m2 0h1m3 0h2m3 0h1m2 0h1m1 0h1m7 0h1m2 0h1m6 0h1m1 0h1m2 0h1m1 0h1m1 0h1m2 0h1m3 0h1m1 0h1m1 0h1m1 0h3m2 0h1m1 0h1m-129 1h2m1 0h2m5 0h1m7 0h1m6 0h1m4 0h3m6 0h2m9 0h1m1 0h1m6 0h5m6 0h1m5 0h1m2 0h4m1 0h3m5 0h1m2 0h2m2 0h1m1 0h2m3 0h1m3 0h1m4 0h1m2 0h1m1 0h2m1 0h2m1 0h1m1 0h1m-137 1h3m4 0h1m4 0h2m3 0h2m2 0h1m11 0h1m8 0h1m11 0h1m3 0h1m4 0h2m11 0h1m1 0h2m1 0h1m1 0h1m10 0h2m3 0h1m1 0h1m5 0h2m4 0h1m3 0h3m1 0h1m6 0h1m2 0h1m1 0h2m1 0h1m-132 1h3m2 0h1m1 0h1m29 0h1m2 0h3m4 0h1m1 0h2m8 0h1m6 0h2m1 0h1m1 0h2m1 0h2m5 0h1m4 0h4m1 0h2m2 0h1m1 0h2m1 0h1m2 0h2m2 0h1m6 0h1m2 0h1m5 0h1m2 0h1m5 0h1m-143 1h1m3 0h4m3 0h1m1 0h6m31 0h1m1 0h1m4 0h1m2 0h1m4 0h1m2 0h1m7 0h2m7 0h3m2 0h2m5 0h1m7 0h2m1 0h2m1 0h1m2 0h1m2 0h3m7 0h1m2 0h1m4 0h1m4 0h1m1 0h1m-142 1h1m1 0h1m1 0h1m2 0h2m2 0h1m36 0h1m1 0h2m5 0h1m1 0h1m3 0h3m1 0h1m16 0h1m3 0h1m1 0h3m2 0h1m1 0h2m2 0h1m11 0h1m1 0h1m1 0h3m5 0h1m10 0h1m2 0h2m-145 1h2m3 0h1m2 0h1m2 0h1m6 0h2m1 0h2m46 0h2m15 0h3m6 0h1m3 0h1m18 0h1m1 0h2m12 0h1m1 0h1m27 0h2m-171 1h1m3 0h1m8 0h1m3 0h3m3 0h1m47 0h1m2 0h2m5 0h1m1 0h2m2 0h3m1 0h1m4 0h2m2 0h1m3 0h1m4 0h1m1 0h1m8 0h1m4 0h1m20 0h2m3 0h2m-152 1h1m2 0h1m5 0h3m5 0h1m1 0h1m5 0h1m4 0h1m27 0h1m14 0h1m6 0h1m1 0h2m1 0h2m6 0h2m4 0h4m6 0h1m14 0h1m17 0h1m4 0h1m1 0h1m2 0h1m15 0h2m-174 1h1m3 0h1m5 0h1m1 0h1m3 0h2m4 0h2m5 0h1m3 0h2m42 0h1m10 0h2m9 0h1m7 0h1m4 0h1m1 0h2m6 0h1m3 0h4m20 0h4m-155 1h1m3 0h2m1 0h2m2 0h1m1 0h1m5 0h1m9 0h2m47 0h1m1 0h2m8 0h1m8 0h1m4 0h2m2 0h3m6 0h2m8 0h1m25 0h3m7 0h2m-162 1h1m1 0h1m7 0h2m15 0h1m1 0h1m2 0h1m35 0h1m5 0h2m10 0h1m3 0h1m9 0h3m2 0h2m1 0h2m2 0h1m2 0h1m8 0h2m22 0h1m-150 1h2m1 0h1m1 0h1m3 0h1m2 0h2m6 0h4m6 0h1m42 0h1m2 0h1m10 0h1m3 0h2m16 0h2m4 0h1m9 0h1m24 0h3m-154 1h2m4 0h1m6 0h1m7 0h1m2 0h1m3 0h1m2 0h1m29 0h2m23 0h1m6 0h1m2 0h3m9 0h1m43 0h2m-155 1h1m6 0h1m2 0h1m5 0h3m5 0h1m3 0h1m3 0h2m28 0h1m32 0h2m12 0h1m2 0h3m35 0h3m8 0h1m-162 1h1m8 0h1m6 0h5m1 0h2m1 0h2m5 0h1m29 0h1m13 0h2m5 0h3m26 0h1m7 0h1m37 0h1m1 0h1m1 0h1m-162 1h3m3 0h3m5 0h1m17 0h1m5 0h1m18 0h1m17 0h3m27 0h1m2 0h1m7 0h1m36 0h4m1 0h2m1 0h1m-162 1h2m1 0h2m1 0h1m3 0h1m6 0h1m3 0h1m8 0h3m3 0h1m1 0h1m45 0h1m1 0h1m5 0h2m9 0h1m2 0h4m2 0h1m4 0h1m38 0h2m1 0h2m-159 1h1m2 0h2m9 0h2m2 0h2m3 0h1m3 0h1m2 0h1m3 0h1m6 0h1m17 0h1m17 0h1m2 0h2m4 0h1m4 0h1m3 0h1m1 0h1m3 0h1m13 0h1m38 0h3m1 0h1m-161 1h1m1 0h1m1 0h1m1 0h2m2 0h1m5 0h1m2 0h1m1 0h2m1 0h1m10 0h2m3 0h1m4 0h1m15 0h1m5 0h1m8 0h1m1 0h1m9 0h1m2 0h1m1 0h1m1 0h1m1 0h2m3 0h1m1 0h1m7 0h3m1 0h2m36 0h1m3 0h2m-157 1h2m1 0h1m4 0h1m1 0h3m7 0h1m8 0h1m6 0h2m5 0h1m19 0h1m1 0h1m2 0h1m3 0h1m4 0h1m2 0h3m1 0h1m1 0h4m1 0h3m1 0h1m1 0h2m8 0h1m2 0h1m2 0h1m1 0h1m35 0h1m2 0h1m6 0h2m-165 1h2m1 0h1m1 0h1m9 0h1m5 0h1m4 0h1m4 0h1m2 0h2m2 0h1m6 0h1m6 0h1m7 0h1m1 0h2m1 0h1m1 0h1m2 0h1m2 0h4m2 0h2m7 0h1m12 0h1m3 0h1m1 0h3m2 0h1m3 0h2m38 0h1m-153 1h1m1 0h2m7 0h1m6 0h1m3 0h1m2 0h1m5 0h1m2 0h1m13 0h1m2 0h2m2 0h1m5 0h1m3 0h1m2 0h2m4 0h1m1 0h2m4 0h1m1 0h3m1 0h1m8 0h1m2 0h2m1 0h1m2 0h1m2 0h2m2 0h1m1 0h2m42 0h2m-166 1h1m1 0h1m4 0h1m1 0h1m4 0h1m1 0h1m3 0h3m2 0h1m1 0h4m1 0h1m6 0h1m7 0h2m3 0h1m4 0h4m5 0h1m2 0h1m2 0h1m4 0h1m1 0h1m2 0h8m1 0h1m3 0h2m2 0h1m5 0h1m1 0h1m1 0h3m1 0h2m1 0h2m39 0h1m-150 1h1m3 0h1m1 0h2m1 0h3m5 0h1m1 0h1m1 0h3m8 0h1m3 0h1m4 0h3m8 0h2m1 0h1m1 0h3m1 0h1m1 0h1m2 0h1m5 0h1m1 0h1m7 0h2m3 0h2m1 0h1m1 0h1m4 0h1m1 0h1m4 0h1m5 0h1m37 0h1m1 0h3m-159 1h1m1 0h1m1 0h2m1 0h1m2 0h1m1 0h1m5 0h1m1 0h1m6 0h1m9 0h3m2 0h1m3 0h1m11 0h1m4 0h1m1 0h1m3 0h1m9 0h1m1 0h1m3 0h1m1 0h1m1 0h2m1 0h1m1 0h1m1 0h1m1 0h1m1 0h1m1 0h3m1 0h3m1 0h1m-108 1h1m15 0h1m16 0h2m5 0h1m2 0h1m1 0h1m1 0h3m4 0h1m7 0h1m4 0h3m1 0h1m11 0h1m8 0h2m2 0h4m1 0h2m3 0h1m6 0h1m35 0h2m-151 1h1m16 0h1m3 0h2m13 0h2m3 0h3m1 0h2m1 0h1m5 0h1m6 0h3m4 0h1m9 0h1m1 0h3m3 0h2m6 0h1m5 0h2m4 0h1m7 0h1m34 0h1m4 0h1m-155 1h1m1 0h1m31 0h1m1 0h1m1 0h1m6 0h1m1 0h1m1 0h3m1 0h2m4 0h2m2 0h1m2 0h3m1 0h1m5 0h1m1 0h1m1 0h1m1 0h2m4 0h3m2 0h1m1 0h1m6 0h1m3 0h1m2 0h1m1 0h1m38 0h4m-137 1h2m2 0h2m15 0h1m3 0h1m4 0h1m11 0h1m3 0h1m1 0h1m2 0h1m7 0h2m2 0h1m1 0h1m11 0h1m1 0h1m12 0h1m1 0h1m37 0h1m-131 1h1m19 0h2m2 0h4m19 0h2m1 0h1m6 0h1m11 0h2m6 0h1m13 0h3m7 0h1m27 0h1m-131 1h1m10 0h1m38 0h1m43 0h1m1 0h1m34 0h4m2 0h1m1 0h2m-129 1h1m79 0h1m2 0h2m38 0h1m1 0h1m1 0h1m-121 1h1m74 0h2m39 0h2m-57 1h1m11 0h2m1 0h3m1 0h2m31 0h3m1 0h1m4 0h2m-121 1h1m56 0h3m16 0h2m1 0h2m28 0h1m1 0h2m-33 1h1m29 0h1m3 0h1m-6 1h1m3 0h1m2 0h1m-41 1h1m40 0h1m3 0h2m-47 1h1m0 1h2m4 0h1m26 0h1m1 0h2m-41 1h1m1 0h2m-5 1h1m4 0h1m30 0h1m1 0h1m2 0h1m-34 1h1m27 0h1m2 0h2m-37 1h1m1 0h1m2 0h1m24 0h2m1 0h2m-30 1h1m3 0h1m20 0h1m1 0h1m4 0h1m-35 1h4m1 0h2m21 0h2m-31 1h1m3 0h2m1 0h2m22 0h3m1 0h2m-37 1h3m1 0h1m2 0h2m16 0h1m5 0h1m2 0h1m2 0h1m-39 1h1m1 0h1m3 0h1m8 0h1m20 0h2m-38 1h1m1 0h1m10 0h1m2 0h1m9 0h1m3 0h1m1 0h1m-28 1h1m6 0h1m13 0h1m3 0h1m1 0h1m7 0h1m-36 1h1m2 0h1m16 0h5m2 0h1m-25 1h1m1 0h2m13 0h1m3 0h1m10 0h2m-35 1h1m2 0h1m1 0h3m1 0h1m3 0h1m1 0h1m2 0h1m11 0h1m1 0h1m-30 1h4m1 0h3m2 0h1m1 0h2m1 0h1m8 0h1m2 0h1m1 0h1m-33 1h1m1 0h3m2 0h2m1 0h1m5 0h1m7 0h1m-26 1h1m4 0h3m1 0h1m1 0h1m3 0h3m7 0h2m1 0h1m-30 1h1m1 0h2m6 0h1m5 0h2m6 0h3m1 0h2m-22 1h2m6 0h1m11 0h1m-22 1h1m1 0h6m13 0h2m2 0h1m11 0h2m-43 1h1m10 0h1m5 0h1m6 0h1m1 0h1m1 0h1m1 0h1m1 0h1m1 0h1m-36 1h1m1 0h1m4 0h1m4 0h1m1 0h1m13 0h1m1 0h1m2 0h1m1 0h1m6 0h2m-43 1h1m3 0h3m5 0h1m11 0h2m1 0h1m3 0h1m1 0h1m-29 1h1m6 0h1m11 0h1m1 0h1m3 0h1m1 0h1m-29 1h1m7 0h1m10 0h2m5 0h1m-22 1h2m1 0h3m2 0h1m4 0h2m-10 1h2m1 0h3m1 0h1m1 0h2m-16 1h2m1 0h1m1 0h2m3 0h2m1 0h3m-13 1h1m1 0h1m6 0h1" stroke="#aaa" stroke-width="1"/>
<path d="M142 340.5h2m-30 9h2m-1 2h1m-1 1h1m17 0h1m-1 1h1m-1 1h1m-17 1h2m23 0h1m-27 1h1m25 0h1m-27 1h1m0 1h1m1 0h3m8 0h2m-14 1h2m-11 1h1m9 0h1m-11 1h2m8 1h1m7 0h2m-16 1h2m4 0h1m5 0h2m1 0h1m-13 1h1m21 0h2m-33 1h1m8 0h2m2 0h2m5 0h2m5 0h2m3 0h1m-25 1h1m6 0h3m-15 1h2m3 0h2m4 0h2m-7 1h1m4 0h2m-8 1h2m5 1h1m-4 1h2m1 0h1m-10 1h2m2 0h2m2 0h1m1 0h1m5 0h2m-23 1h1m8 0h4m3 0h1m-17 1h1m10 0h3m4 0h2m-19 1h4m12 0h1m-8 1h1m5 0h3m6 0h1m6 0h2m-31 1h1m2 0h1m2 0h2m2 0h2m3 0h1m3 0h1m1 0h2m-20 1h3m4 0h1m8 0h1m2 0h2m-20 1h1m1 0h3m5 0h2m1 0h1m-14 1h1m4 0h1m1 0h2m1 0h1m2 0h1m5 0h1m-21 1h3m2 0h2m6 0h1m6 0h1m5 0h2m-33 1h1m8 0h1m18 0h1m-31 1h1m1 0h1m6 0h1m1 0h1m12 0h1m5 0h1m-23 1h2m14 0h1m-13 1h1m29 0h1m-24 1h3m-25 1h1m16 0h1m5 0h1m5 0h1m1 0h1m-15 1h1m1 0h1m5 0h1m5 0h1m3 0h3m-39 1h2m4 0h1m4 0h2m3 0h1m3 0h2m1 0h2m1 0h1m86 0h1m-113 1h1m4 0h1m3 0h1m2 0h1m2 0h1m2 0h1m6 0h1m25 0h1m53 0h1m2 0h1m3 0h1m-121 1h1m19 0h2m1 0h3m1 0h3m21 0h2m2 0h1m19 0h1m2 0h1m33 0h2m1 0h3m-119 1h2m16 0h3m1 0h1m7 0h3m1 0h1m12 0h1m3 0h1m1 0h1m2 0h1m19 0h1m2 0h1m3 0h1m24 0h1m4 0h1m1 0h1m1 0h3m-115 1h1m6 0h1m3 0h2m2 0h1m2 0h2m3 0h1m1 0h1m1 0h1m1 0h1m8 0h2m12 0h1m7 0h1m4 0h1m12 0h1m30 0h2m2 0h3m-120 1h3m1 0h2m5 0h1m1 0h1m1 0h3m5 0h2m2 0h1m1 0h2m2 0h2m2 0h1m12 0h2m3 0h2m6 0h2m4 0h1m3 0h2m16 0h1m15 0h1m6 0h3m1 0h1m5 0h1m-127 1h1m1 0h2m1 0h2m7 0h2m1 0h4m1 0h1m1 0h2m3 0h4m4 0h3m1 0h1m8 0h5m6 0h1m26 0h1m4 0h1m5 0h3m6 0h2m2 0h2m2 0h1m9 0h1m-127 1h1m3 0h1m4 0h2m1 0h1m4 0h3m5 0h4m1 0h1m1 0h2m3 0h5m11 0h1m2 0h2m2 0h2m23 0h2m1 0h1m18 0h3m1 0h3m1 0h2m4 0h3m-119 1h1m5 0h1m5 0h6m1 0h1m1 0h1m2 0h5m1 0h1m2 0h1m5 0h2m2 0h1m2 0h2m2 0h2m3 0h1m9 0h2m1 0h3m12 0h1m13 0h2m2 0h5m1 0h1m2 0h2m4 0h1m-123 1h2m7 0h5m1 0h7m1 0h3m1 0h10m1 0h2m1 0h4m1 0h2m2 0h1m1 0h1m3 0h3m3 0h1m2 0h1m3 0h3m1 0h1m8 0h1m4 0h1m8 0h1m8 0h1m3 0h5m2 0h2m1 0h3m-134 1h1m11 0h1m7 0h19m1 0h6m1 0h1m1 0h1m1 0h6m1 0h1m1 0h3m5 0h4m2 0h2m1 0h1m3 0h1m4 0h2m7 0h1m11 0h2m8 0h1m1 0h7m1 0h4m1 0h1m1 0h2m-136 1h1m11 0h2m5 0h20m1 0h9m3 0h4m1 0h2m3 0h1m2 0h1m4 0h1m3 0h2m1 0h1m5 0h1m2 0h1m5 0h8m1 0h2m5 0h1m2 0h2m1 0h2m1 0h16m1 0h2m2 0h2m-142 1h2m14 0h2m2 0h3m1 0h20m1 0h7m1 0h3m1 0h1m6 0h1m1 0h3m1 0h1m5 0h4m5 0h2m2 0h3m4 0h7m4 0h2m4 0h4m1 0h16m1 0h2m2 0h1m5 0h2m-154 1h2m2 0h1m4 0h1m4 0h2m5 0h30m1 0h11m1 0h1m1 0h7m4 0h3m2 0h1m1 0h2m1 0h2m4 0h6m5 0h3m2 0h1m1 0h1m3 0h2m1 0h1m2 0h1m1 0h1m1 0h4m1 0h13m2 0h1m1 0h1m-146 1h1m1 0h2m3 0h1m2 0h2m5 0h1m1 0h7m1 0h35m1 0h4m1 0h1m1 0h1m2 0h1m1 0h2m2 0h2m4 0h2m2 0h1m1 0h6m6 0h1m5 0h2m3 0h3m1 0h3m1 0h24m-147 1h4m13 0h5m1 0h1m1 0h2m2 0h26m1 0h4m2 0h1m1 0h4m1 0h4m2 0h1m2 0h3m1 0h3m5 0h4m1 0h1m3 0h1m1 0h3m1 0h1m1 0h4m1 0h1m3 0h1m1 0h2m2 0h1m1 0h21m1 0h1m-144 1h1m4 0h2m4 0h2m1 0h6m2 0h30m1 0h3m3 0h1m1 0h4m1 0h2m3 0h1m1 0h1m2 0h1m3 0h1m3 0h2m2 0h1m4 0h4m1 0h2m2 0h1m3 0h5m2 0h1m1 0h2m2 0h23m2 0h2m6 0h2m-157 1h1m2 0h1m1 0h3m4 0h1m1 0h1m3 0h4m1 0h3m3 0h26m1 0h4m3 0h4m1 0h1m1 0h2m1 0h2m8 0h1m2 0h3m3 0h1m4 0h2m6 0h1m1 0h2m1 0h6m1 0h3m2 0h25m-147 1h2m3 0h4m1 0h3m1 0h2m2 0h9m1 0h1m3 0h31m1 0h6m1 0h3m2 0h2m1 0h1m1 0h3m1 0h1m2 0h2m5 0h1m1 0h1m1 0h2m1 0h2m1 0h6m2 0h1m1 0h1m1 0h3m1 0h3m2 0h17m1 0h4m-147 1h1m1 0h6m1 0h2m2 0h1m2 0h2m2 0h7m1 0h2m1 0h28m1 0h1m2 0h3m1 0h3m2 0h1m2 0h2m4 0h2m1 0h1m3 0h1m5 0h4m2 0h3m1 0h8m1 0h2m1 0h1m3 0h23m2 0h1m-146 1h1m1 0h2m1 0h1m1 0h1m1 0h1m4 0h3m1 0h4m1 0h3m2 0h31m1 0h1m1 0h4m2 0h1m1 0h2m3 0h2m1 0h1m3 0h1m1 0h2m1 0h2m1 0h2m2 0h5m4 0h2m2 0h1m1 0h3m3 0h1m1 0h1m3 0h26m2 0h1m-147 1h2m2 0h2m3 0h11m1 0h3m1 0h29m1 0h2m1 0h3m1 0h1m4 0h4m4 0h1m3 0h1m4 0h1m2 0h1m1 0h6m4 0h3m2 0h4m2 0h1m1 0h1m1 0h1m2 0h27m1 0h2m-149 1h4m2 0h4m2 0h6m4 0h4m1 0h5m1 0h23m2 0h2m1 0h5m5 0h1m1 0h1m4 0h1m2 0h3m2 0h2m1 0h8m1 0h2m4 0h1m1 0h4m1 0h6m2 0h27m3 0h2m-152 1h3m1 0h1m1 0h1m3 0h1m4 0h3m3 0h1m1 0h2m1 0h1m2 0h1m4 0h4m1 0h8m1 0h2m1 0h2m1 0h4m3 0h1m1 0h2m4 0h3m2 0h1m4 0h2m2 0h2m4 0h2m1 0h5m3 0h6m1 0h1m1 0h1m3 0h6m1 0h26m1 0h2m2 0h2m-137 1h3m2 0h1m1 0h2m6 0h3m1 0h7m1 0h6m2 0h4m1 0h1m1 0h1m2 0h1m2 0h1m1 0h2m1 0h1m1 0h1m3 0h3m1 0h1m2 0h2m8 0h5m11 0h1m4 0h1m4 0h1m2 0h26m-145 1h2m3 0h3m1 0h2m2 0h1m1 0h3m3 0h4m4 0h3m4 0h4m1 0h2m1 0h1m1 0h2m4 0h1m1 0h1m3 0h2m1 0h3m1 0h1m1 0h1m5 0h1m6 0h2m9 0h1m2 0h2m3 0h3m3 0h1m3 0h1m3 0h1m1 0h1m2 0h27m2 0h2m-149 1h1m3 0h2m4 0h1m1 0h2m8 0h2m5 0h2m1 0h2m2 0h2m1 0h3m2 0h2m1 0h1m5 0h1m2 0h3m2 0h2m4 0h1m2 0h1m2 0h1m15 0h1m2 0h1m1 0h1m1 0h2m1 0h1m1 0h1m7 0h6m1 0h1m2 0h27m-137 1h1m2 0h1m3 0h2m9 0h1m1 0h3m2 0h4m1 0h3m1 0h1m1 0h1m1 0h1m7 0h2m2 0h5m2 0h1m3 0h1m1 0h1m5 0h2m9 0h1m1 0h3m2 0h2m11 0h2m1 0h3m1 0h29m-128 1h1m4 0h2m6 0h1m3 0h1m2 0h4m8 0h1m2 0h2m6 0h4m2 0h1m4 0h2m1 0h1m1 0h2m14 0h2m6 0h1m10 0h1m2 0h2m1 0h28m2 0h1m-149 1h1m13 0h3m1 0h1m16 0h1m2 0h1m11 0h2m1 0h1m4 0h5m4 0h1m3 0h3m1 0h3m8 0h1m11 0h1m2 0h2m9 0h2m1 0h1m3 0h27m1 0h2m4 0h3m-141 1h1m9 0h2m7 0h1m1 0h1m4 0h1m7 0h1m1 0h1m8 0h2m7 0h1m1 0h1m1 0h2m1 0h1m1 0h2m1 0h2m2 0h1m13 0h1m13 0h1m2 0h2m1 0h31m-117 1h3m5 0h2m1 0h1m4 0h1m2 0h1m13 0h2m6 0h2m3 0h1m1 0h2m8 0h1m7 0h1m6 0h2m1 0h2m2 0h3m2 0h25m4 0h2m1 0h1m-139 1h2m38 0h1m4 0h1m12 0h2m12 0h2m6 0h2m6 0h1m3 0h1m1 0h2m2 0h1m1 0h2m5 0h25m5 0h2m-117 1h2m10 0h1m1 0h1m9 0h2m5 0h3m12 0h1m18 0h2m3 0h1m8 0h1m4 0h28m-155 1h1m25 0h1m22 0h1m5 0h1m1 0h1m25 0h1m29 0h1m8 0h1m1 0h1m1 0h2m1 0h25m4 0h2m-134 1h1m10 0h1m21 0h1m24 0h1m10 0h1m19 0h1m8 0h1m2 0h1m1 0h24m2 0h2m1 0h1m-122 1h2m20 0h1m24 0h1m10 0h1m24 0h1m4 0h28m2 0h1m1 0h1m-78 1h1m39 0h1m1 0h2m5 0h23m1 0h2m2 0h1m-106 1h2m26 0h1m38 0h2m3 0h3m1 0h28m2 0h1m-73 1h2m38 0h29m3 0h1m1 0h1m-74 1h2m36 0h2m2 0h23m1 0h1m1 0h1m2 0h1m1 0h1m-76 1h2m17 0h2m22 0h1m1 0h27m1 0h1m-106 1h1m70 0h2m2 0h1m1 0h24m6 0h1m-108 1h1m73 0h2m1 0h2m1 0h22m5 0h1m-43 1h2m3 0h3m3 0h24m1 0h1m5 0h1m1 0h1m8 0h2m-48 1h2m4 0h22m2 0h1m6 0h1m1 0h2m-43 1h1m5 0h1m2 0h20m2 0h1m1 0h2m-148 1h1m111 0h2m4 0h1m4 0h19m2 0h1m3 0h3m-28 1h20m1 0h3m-26 1h2m2 0h2m1 0h12m1 0h2m2 0h2m-28 1h4m1 0h1m1 0h14m1 0h2m1 0h3m-83 1h2m53 0h3m1 0h18m1 0h2m2 0h1m-148 1h1m119 0h2m1 0h19m2 0h1m1 0h1m-147 1h1m118 0h11m1 0h10m1 0h5m3 0h1m-32 1h2m1 0h7m1 0h1m1 0h7m1 0h6m2 0h1m10 0h1m-34 1h10m1 0h5m1 0h2m1 0h4m1 0h2m6 0h1m-46 1h1m11 0h2m3 0h5m1 0h4m5 0h2m-28 1h1m3 0h8m1 0h3m1 0h4m-21 1h2m2 0h2m2 0h3m1 0h5m1 0h4m2 0h2m-22 1h2m1 0h1m1 0h2m2 0h2m1 0h4m3 0h2m3 0h1m-77 1h2m13 0h1m31 0h3m3 0h1m1 0h2m1 0h2m3 0h3m2 0h1m7 0h1m-62 1h1m36 0h2m6 0h6m2 0h6m-159 1h1m136 0h2m6 0h2m1 0h4m1 0h3m1 0h1m-15 1h1m1 0h1m3 0h1m1 0h5m3 0h1m-18 1h3m4 0h1m2 0h4m1 0h1m1 0h1m-32 1h2m23 0h1m2 0h2m7 0h1m-21 1h1m3 0h2m2 0h1m4 0h2m1 0h2m2 0h1m-23 1h1m1 0h1m3 0h1m1 0h2m1 0h2m9 0h1m-25 1h1m2 0h1m4 0h4m1 0h1m1 0h3m-18 1h1m7 0h1m1 0h3m1 0h2m-6 1h4m-6 1h2m1 0h2" stroke="#111" stroke-width="1"/>
<path d="M134 292.5h1m3 1h1m-2 5h1m-3 3h1m-8 7h1m30 0h1m-13 1h1m-12 1h1m89 0h1m-71 2h1m48 3h1m28 1h1m-93 1h1m14 3h1m-48 2h1m29 0h1m-5 1h1m1 0h1m-13 1h1m-9 1h1m15 1h1m13 0h1m-29 1h1m4 0h1m16 0h1m-28 1h1m6 0h1m9 0h1m1 0h1m13 0h1m-26 1h1m-23 1h1m9 0h1m21 0h1m-16 1h1m3 0h1m-25 1h1m19 1h1m2 1h1m11 0h1m14 0h1m-29 1h1m3 0h1m4 0h1m-24 1h1m27 0h1m-11 1h1m10 0h1m-2 1h1m-3 1h1m-25 1h1m17 0h1m24 0h1m63 0h1m-127 1h1m23 0h1m3 0h1m12 0h1m15 0h1m1 0h1m36 0h1m-72 1h1m20 0h1m7 0h1m25 0h1m-80 1h1m36 0h1m16 0h1m6 0h1m-44 1h1m13 0h1m1 0h1m28 0h1m-43 1h1m3 0h1m9 0h1m1 0h1m4 0h1m8 0h1m-28 1h1m8 0h1m32 0h1m-50 1h1m9 0h1m2 0h1m12 0h1m30 0h1m-53 1h1m12 0h1m13 0h1m6 0h1m-17 1h1m5 0h1m8 0h1m-44 1h1m8 0h1m9 0h1m1 0h1m9 0h1m1 0h1m4 0h1m8 0h1m-33 1h1m11 0h1m45 0h1m32 0h1m-79 1h1m8 0h1m0 1h1m14 0h1m-65 1h1m14 0h1m2 0h1m14 0h1m11 1h1m-25 1h1m16 0h1m32 0h1m67 0h1m-125 1h1m11 0h1m9 0h1m34 0h1m-77 1h1m26 0h1m3 0h1m14 0h1m1 0h1m-10 1h1m17 0h1m-10 1h1m10 0h1m4 0h1m-49 1h1m20 0h1m14 0h1m-29 1h1m10 0h1m7 0h1m4 0h1m10 0h1m-24 1h1m7 0h1m14 1h1m-36 1h1m0 1h1m6 0h1m1 0h1m7 0h1m3 0h1m37 0h1m-40 1h1m-6 1h1m2 0h1m8 0h1m-28 1h1m10 0h1m7 0h1m4 0h1m-36 1h1m7 0h1m4 0h1m2 0h1m7 0h1m1 0h1m22 0h1m-46 1h1m6 0h1m11 0h1m77 0h1m4 0h1m-88 1h1m14 0h1m16 0h1m11 0h1m-67 1h1m16 0h1m12 0h1m-6 1h1m6 0h1m46 0h1m17 0h1m7 0h1m8 0h1m-102 2h1m4 0h1m29 0h1m-44 1h1m3 0h1m8 0h1m-23 1h1m14 0h1m7 0h1m20 0h1m75 0h1m-103 1h1m3 0h1m22 0h1m-27 1h1m40 0h1m15 0h1m38 0h1m-108 1h1m3 0h1m25 0h1m14 0h1m-68 1h1m45 0h1m2 0h1m12 0h1m12 0h1m16 0h1m33 0h1m3 0h1m-114 1h1m14 0h1m10 0h1m4 0h1m78 0h1m7 0h1m-81 1h1m42 0h1m37 0h1m-107 1h1m10 0h1m7 0h1m9 0h1m24 0h1m7 0h1m47 0h1m12 0h1m-129 1h1m16 0h1m11 0h1m17 0h1m17 0h1m38 0h1m-130 1h1m28 0h1m7 0h1m29 0h1m12 0h1m6 0h1m3 0h1m16 0h1m14 0h1m35 0h1m-115 1h1m17 0h1m9 0h1m36 0h1m6 0h1m-92 1h1m4 0h1m25 0h1m4 0h1m3 0h1m4 0h1m17 0h1m12 0h1m-89 1h1m3 0h1m3 0h1m11 0h2m7 0h1m15 0h1m17 0h1m48 0h1m-147 1h1m40 0h1m5 0h1m2 0h1m1 0h1m9 0h1m5 0h1m1 0h1m2 0h1m2 0h1m8 0h1m7 0h1m14 0h1m31 0h1m1 0h1m19 0h1m-136 1h1m20 0h1m7 0h1m5 0h1m9 0h1m4 0h1m20 0h1m3 0h1m13 0h1m8 0h1m4 0h1m6 0h1m1 0h1m9 0h1m1 0h1m27 0h1m7 0h1m-135 1h1m12 0h1m3 0h2m2 0h1m38 0h1m18 0h1m5 0h1m13 0h1m-124 1h1m3 0h1m5 0h1m4 0h1m3 0h1m5 0h1m9 0h1m6 0h1m8 0h1m13 0h1m12 0h1m9 0h1m1 0h1m1 0h1m1 0h1m6 0h1m17 0h1m-117 1h1m8 0h2m17 0h1m13 0h1m2 0h1m28 0h1m4 0h1m39 0h1m1 0h1m-136 1h1m9 0h1m10 0h1m5 0h1m17 0h1m1 0h1m44 0h1m19 0h1m1 0h1m34 0h1m1 0h1m-145 1h1m3 0h1m7 0h1m8 0h1m10 0h1m1 0h1m1 0h2m5 0h1m2 0h1m1 0h1m17 0h2m2 0h1m1 0h1m1 0h1m16 0h1m1 0h1m5 0h1m1 0h1m1 0h1m2 0h1m27 0h1m-156 1h1m9 0h1m11 0h1m28 0h1m3 0h1m10 0h1m2 0h1m8 0h1m27 0h1m5 0h2m23 0h1m6 0h1m11 0h1m4 0h1m10 0h1m-149 1h1m31 0h1m6 0h1m1 0h1m1 0h1m8 0h1m22 0h1m1 0h1m9 0h1m1 0h1m2 0h1m5 0h1m4 0h1m7 0h1m12 0h1m1 0h1m-139 1h1m14 0h1m5 0h1m22 0h1m9 0h1m1 0h1m4 0h1m4 0h1m5 0h1m8 0h1m27 0h1m11 0h1m-135 1h1m26 0h1m3 0h1m2 0h1m4 0h1m20 0h1m7 0h1m3 0h1m3 0h1m4 0h1m8 0h2m7 0h1m9 0h1m1 0h1m21 0h1m16 0h1m-147 1h1m21 0h1m33 0h1m13 0h1m17 0h1m19 0h1m16 0h1m1 0h1m6 0h1m13 0h1m2 0h1m-131 1h1m3 0h1m43 0h1m6 0h1m4 0h1m2 0h1m4 0h1m7 0h1m17 0h1m3 0h1m4 0h1m41 0h1m-157 1h1m8 0h1m8 0h1m1 0h1m2 0h1m27 0h1m12 0h1m7 0h1m17 0h1m1 0h1m14 0h1m5 0h1m5 0h1m-69 1h1m3 0h1m11 0h1m3 0h1m2 0h1m1 0h2m10 0h1m24 0h1m32 0h1m2 0h1m-163 1h1m23 0h1m6 0h1m3 0h1m1 0h1m26 0h1m6 0h1m4 0h1m23 0h1m4 0h1m12 0h1m6 0h1m30 0h1m27 0h1m-167 1h1m19 0h1m33 0h1m6 0h1m20 0h1m4 0h1m1 0h1m5 0h1m6 0h2m1 0h1m5 0h1m4 0h1m17 0h1m20 0h1m1 0h1m1 0h1m-160 1h1m5 0h2m2 0h2m41 0h2m3 0h1m3 0h1m12 0h1m3 0h1m10 0h1m4 0h1m11 0h1m27 0h2m1 0h1m-160 1h1m5 0h1m7 0h1m2 0h1m1 0h1m1 0h1m2 0h1m1 0h1m3 0h1m4 0h1m49 0h1m32 0h1m8 0h1m1 0h1m-94 1h1m33 0h1m2 0h1m6 0h1m7 0h1m15 0h1m24 0h1m-84 1h1m24 0h1m18 0h1m-60 1h1m6 0h1m12 0h1m11 0h1m2 0h1m28 0h1m8 0h1m16 0h1m37 0h1m21 0h1m-135 1h1m7 0h1m6 0h1m5 0h1m1 0h1m5 0h1m1 0h1m4 0h1m9 0h1m3 0h1m14 0h1m7 0h1m2 0h1m9 0h1m-126 1h1m4 0h1m4 0h1m24 0h1m11 0h1m4 0h1m7 0h1m3 0h1m2 0h1m10 0h1m16 0h1m25 0h1m35 0h1m-149 1h1m5 0h2m8 0h1m1 0h1m10 0h1m3 0h1m2 0h1m7 0h1m2 0h1m1 0h1m2 0h1m4 0h1m33 0h1m1 0h1m2 0h1m8 0h1m7 0h1m2 0h1m-116 1h1m20 0h1m13 0h1m5 0h1m5 0h1m31 0h1m4 0h1m6 0h1m9 0h1m6 0h1m3 0h1m34 0h1m7 0h1m-149 1h1m14 0h1m15 0h1m17 0h1m15 0h1m8 0h1m10 0h1m6 0h1m3 0h1m5 0h1m-126 1h1m20 0h1m10 0h1m11 0h1m9 0h1m5 0h1m7 0h1m21 0h1m6 0h1m-94 1h1m14 0h1m20 0h1m2 0h1m3 0h1m28 0h1m7 0h1m2 0h1m1 0h1m10 0h1m14 0h1m14 0h1m32 0h1m-128 1h1m12 0h1m9 0h1m8 0h1m20 0h1m11 0h1m11 0h1m44 0h1m2 0h1m-145 1h1m16 0h1m8 0h1m22 0h1m6 0h1m2 0h1m3 0h1m27 0h1m21 0h1m28 0h1m9 0h1m-133 1h1m2 0h1m18 0h1m63 0h1m35 0h1m3 0h1m-121 1h1m10 0h1m17 0h1m37 0h1m20 0h1m32 0h1m-130 1h1m6 0h1m1 0h1m19 0h1m1 0h1m6 0h1m1 0h1m16 0h1m27 0h1m8 0h1m30 0h1m5 0h1m-163 1h1m14 0h1m25 0h1m25 0h1m4 0h1m3 0h1m4 0h1m3 0h1m10 0h1m3 0h1m1 0h1m52 0h1m2 0h1m-115 1h1m2 0h1m8 0h1m6 0h1m5 0h1m37 0h1m8 0h1m9 0h2m23 0h1m31 0h1m-129 1h1m59 0h1m10 0h1m-110 1h1m25 0h1m12 0h1m12 0h1m26 0h1m9 0h1m2 0h1m2 0h1m9 0h1m31 0h2m-105 1h1m99 0h1m1 0h1m-140 1h1m35 0h1m8 0h1m4 0h1m4 0h1m5 0h1m36 0h1m15 0h1m-114 1h1m3 0h1m11 0h1m42 0h1m41 0h1m36 0h1m7 0h1m-148 1h1m46 0h1m1 0h1m40 0h1m14 0h1m1 0h1m6 0h1m2 0h1m25 0h1m-145 1h1m12 0h1m21 0h1m4 0h1m1 0h1m26 0h1m7 0h1m24 0h1m36 0h1m2 0h1m-156 1h1m79 0h1m15 0h1m7 0h1m14 0h1m7 0h1m29 0h1m-122 1h1m23 0h1m3 0h1m62 0h1m-132 1h1m18 0h1m68 0h1m43 0h1m2 0h1m23 0h1m-71 1h1m19 0h1m13 0h1m8 0h1m2 0h1m20 0h1m15 0h1m-139 1h1m4 0h1m15 0h1m32 0h1m35 0h1m4 0h1m3 0h1m2 0h2m2 0h1m12 0h1m8 0h1m1 0h1m10 0h1m-132 1h1m38 0h1m13 0h1m27 0h1m10 0h1m1 0h1m17 0h1m4 0h1m-162 1h1m1 0h1m7 0h1m19 0h1m83 0h1m12 0h1m30 0h1m-112 1h1m80 0h1m5 0h1m20 0h1m4 0h1m2 0h1m-53 1h1m1 0h1m12 0h1m2 0h1m23 0h1m-126 1h1m19 0h1m2 0h1m89 0h1m1 0h1m7 0h1m16 0h1m-47 1h1m25 0h1m5 0h1m11 0h1m-113 1h1m31 0h1m5 0h1m10 0h1m25 0h1m12 0h1m-85 1h1m75 0h1m9 0h1m8 0h1m6 0h1m-156 1h1m123 0h1m9 0h1m3 0h1m5 0h1m11 0h1m7 0h1m-73 1h1m22 0h1m2 0h1m16 0h1m3 0h1m2 0h1m23 0h1m2 0h1m-176 1h1m46 0h1m56 0h1m40 0h1m5 0h1m4 0h1m7 0h1m3 0h1m5 0h1m-33 1h1m1 0h1m6 0h1m-90 1h1m89 0h1m8 0h1m2 0h1m-110 1h1m74 0h1m37 0h1m13 0h1m-181 1h1m81 0h1m17 0h1m28 0h1m24 0h1m5 0h1m-162 1h1m41 0h1m88 0h1m13 0h1m4 0h2m7 0h1m-141 1h1m68 0h1m30 0h1m12 0h1m1 0h1m2 0h1m12 0h1m-143 1h1m119 0h1m10 0h1m9 0h1m2 0h1m1 1h1m4 0h1m-139 1h1m64 0h1m55 0h1m6 0h1m-133 1h1m69 0h1m51 0h1m3 0h1m1 0h1m-8 1h1m2 0h1" stroke="#3a3a3a" stroke-width="1"/>
<path d="M134 337.5h1m-18 20h1m-2 1h1m15 0h1m-16 1h1m0 1h1m0 1h1m7 2h1m-17 3h1m4 0h1m-2 2h1m6 1h1m-10 2h1m7 0h1m1 0h1m-12 1h1m6 0h1m2 0h1m1 0h1m3 0h1m-8 1h1m1 0h1m5 0h1m-6 1h1m-1 1h1m1 0h1m-10 1h1m14 0h1m-2 1h1m0 1h1m-19 2h1m4 0h1m7 0h1m-2 1h1m1 0h1m-2 1h1m-20 1h1m11 2h1m-17 1h1m16 0h1m11 0h1m-29 1h1m28 0h1m-31 1h1m10 0h1m6 0h1m1 0h1m17 0h1m-30 1h1m2 0h1m5 0h1m2 0h1m-23 1h1m8 0h1m8 0h1m34 0h1m54 0h1m1 0h1m-101 1h1m1 0h1m10 0h1m2 0h1m16 0h1m56 0h1m6 0h1m-104 1h1m3 0h2m10 0h1m4 0h1m9 0h1m6 0h1m1 0h1m50 0h1m3 0h1m-93 1h1m3 0h1m5 0h1m16 0h1m8 0h1m4 0h1m51 0h1m4 0h1m2 0h1m-102 1h1m7 0h1m13 0h1m12 0h1m20 0h1m11 0h1m3 0h1m30 0h1m-121 1h1m4 0h1m4 0h1m2 0h2m2 0h1m4 0h1m1 0h1m4 0h1m4 0h1m2 0h1m5 0h1m17 0h1m15 0h1m38 0h1m-113 1h1m4 0h1m4 0h1m6 0h1m1 0h1m1 0h1m27 0h1m44 0h1m12 0h1m-107 1h1m4 0h2m4 0h1m33 0h1m14 0h1m4 0h1m2 0h1m3 0h1m4 0h1m1 0h1m2 0h1m24 0h1m5 0h1m-74 1h1m2 0h1m10 0h1m1 0h1m1 0h1m8 0h1m1 0h1m20 0h1m11 0h1m6 0h1m7 0h1m-122 1h1m5 0h1m37 0h1m25 0h1m1 0h1m12 0h1m27 0h1m-128 1h1m14 0h1m3 0h1m40 0h1m3 0h1m2 0h1m1 0h2m1 0h1m9 0h1m2 0h1m2 0h1m12 0h1m4 0h1m7 0h1m19 0h1m3 0h1m-138 1h1m16 0h1m39 0h1m1 0h1m1 0h1m5 0h1m1 0h2m15 0h1m17 0h1m31 0h1m1 0h1m-143 1h1m10 0h1m56 0h1m1 0h2m4 0h1m4 0h1m20 0h1m6 0h1m2 0h1m6 0h1m19 0h1m-144 1h1m1 0h1m2 0h1m7 0h1m13 0h1m40 0h1m3 0h1m6 0h1m2 0h1m1 0h1m18 0h1m1 0h1m2 0h1m3 0h1m1 0h1m7 0h1m-109 1h2m12 0h1m34 0h1m10 0h1m2 0h1m3 0h1m22 0h1m1 0h1m6 0h1m31 0h1m1 0h1m-135 1h1m2 0h1m6 0h1m39 0h1m4 0h1m3 0h1m4 0h1m4 0h1m1 0h1m5 0h1m4 0h1m11 0h2m5 0h2m30 0h1m-139 1h1m8 0h1m43 0h1m7 0h1m2 0h1m2 0h2m2 0h1m1 0h2m16 0h1m3 0h1m2 0h1m-90 1h1m9 0h1m2 0h2m42 0h1m3 0h1m1 0h1m3 0h1m2 0h1m13 0h1m14 0h1m7 0h1m-125 1h1m1 0h1m9 0h1m15 0h1m2 0h1m28 0h1m11 0h1m2 0h1m3 0h1m1 0h1m4 0h1m26 0h1m4 0h2m-120 1h1m10 0h1m15 0h1m32 0h1m1 0h1m4 0h2m1 0h1m13 0h1m2 0h1m6 0h1m8 0h1m3 0h1m1 0h1m11 0h1m27 0h1m-149 1h1m1 0h1m6 0h1m54 0h1m1 0h1m7 0h1m4 0h1m3 0h1m4 0h1m25 0h1m32 0h1m-148 1h1m5 0h1m20 0h1m33 0h1m8 0h2m1 0h1m4 0h1m1 0h1m8 0h1m8 0h1m4 0h2m13 0h1m-116 1h1m1 0h1m1 0h1m23 0h3m13 0h1m10 0h1m3 0h1m2 0h2m30 0h1m1 0h1m6 0h1m3 0h1m1 0h1m-113 1h2m13 0h1m3 0h1m2 0h1m7 0h1m19 0h1m9 0h1m17 0h1m18 0h1m4 0h2m5 0h1m4 0h4m29 0h1m-144 1h1m1 0h1m3 0h1m5 0h1m19 0h2m12 0h2m1 0h1m3 0h2m7 0h1m12 0h1m1 0h1m13 0h1m3 0h1m8 0h1m5 0h1m3 0h1m28 0h1m-145 1h1m1 0h1m7 0h1m4 0h2m3 0h1m2 0h1m9 0h1m8 0h1m4 0h1m1 0h1m1 0h1m2 0h1m4 0h1m2 0h1m16 0h1m10 0h1m8 0h1m7 0h1m8 0h1m-108 1h1m12 0h1m4 0h1m4 0h1m8 0h1m6 0h1m7 0h1m13 0h1m23 0h1m49 0h1m-132 1h1m9 0h1m6 0h1m3 0h2m13 0h1m4 0h1m14 0h1m14 0h1m10 0h2m3 0h1m8 0h1m2 0h1m2 0h1m-87 1h1m4 0h1m4 0h1m7 0h1m2 0h1m1 0h1m19 0h1m24 0h1m3 0h1m10 0h1m1 0h1m1 0h1m27 0h1m2 0h1m-113 1h1m4 0h1m7 0h1m19 0h1m15 0h1m11 0h1m15 0h2m34 0h1m-115 1h1m6 0h1m13 0h1m13 0h1m4 0h1m1 0h1m1 0h1m4 0h1m4 0h1m1 0h1m7 0h1m16 0h1m25 0h2m-99 1h1m9 0h1m1 0h1m8 0h1m23 0h1m7 0h1m1 0h1m9 0h1m2 0h1m29 0h1m-100 1h1m11 0h1m54 0h1m4 0h1m31 0h2m-110 1h1m5 0h1m27 0h1m4 0h1m64 0h3m3 0h1m-123 1h1m1 0h1m42 0h1m32 0h1m11 0h1m25 0h1m4 0h1m-7 1h2m3 0h1m-33 1h1m28 0h1m-99 1h1m65 0h1m1 1h1m-40 1h1m41 0h1m27 0h1m-32 1h1m-111 1h1m111 0h1m1 0h1m-5 1h1m-6 1h1m7 0h1m26 0h1m-32 1h1m4 0h2m23 0h1m1 0h1m-5 1h1m2 0h1m2 0h1m-7 1h1m2 0h1m-71 1h1m42 0h1m28 0h1m-1 1h1m-8 1h1m-19 1h1m18 0h1m2 0h1m-27 1h1m22 0h1m2 0h1m1 0h1m2 0h1m-21 1h1m20 0h1m-31 1h1m24 0h1m-22 1h1m19 0h1m-18 1h1m7 0h1m4 0h1m6 0h1m-28 1h1m14 0h1m-11 1h1m15 0h2m4 0h1m-23 1h1m14 0h2m-19 1h1m4 0h1m3 0h2m9 0h1m-158 1h1m151 0h1m-9 1h1m2 0h1m8 0h1m-15 1h1m1 0h1m5 0h1m0 1h1m2 1h2m3 0h1m2 0h1m-11 1h1m1 0h1m5 0h1m-17 1h1m11 0h1m-14 1h1m9 0h1m-10 1h1m9 0h1m-6 1h2m0 1h1" stroke="#666" stroke-width="1"/>
<path d="M139 322.5h1m-3 1h1m1 0h1m-19 4h1m12 0h1m13 0h1m-28 1h1m1 0h1m9 0h1m-12 1h1m9 0h3m-13 1h2m-6 2h1m1 2h1m0 1h1m11 0h2m-11 1h1m10 0h1m-3 2h1m1 0h1m-3 1h1m8 0h2m-30 2h1m27 0h2m3 0h1m-59 1h2m22 0h1m30 0h1m-2 1h1m8 0h1m-30 1h1m1 0h1m1 0h1m24 0h1m-39 1h1m7 0h3m1 0h1m-12 1h1m8 0h1m7 0h2m-21 2h3m29 0h1m-35 1h3m21 0h1m3 0h2m5 0h1m-33 1h2m6 0h1m6 0h2m3 0h1m1 0h1m-23 1h1m1 0h1m13 0h1m2 0h1m5 0h2m-27 1h1m1 0h1m12 0h1m2 0h1m1 0h1m5 0h1m-9 1h1m1 0h1m4 0h1m-23 1h2m13 0h1m1 0h1m-19 1h1m24 0h1m1 0h1m-29 1h1m1 0h2m9 0h1m12 0h1m1 0h1m19 0h1m-49 1h1m3 0h3m7 0h3m30 0h1m-48 1h1m13 0h1m4 0h1m-15 1h2m8 0h2m3 0h1m9 0h1m-38 1h1m1 0h1m9 0h1m24 0h1m-38 1h1m2 0h1m11 0h1m3 0h2m6 0h1m10 0h1m-38 1h2m1 0h3m3 0h1m1 0h1m2 0h4m2 0h1m1 0h1m-20 1h1m2 0h1m2 0h1m1 0h1m1 0h1m1 0h1m4 0h2m7 0h2m6 0h1m-40 1h1m5 0h3m1 0h1m1 0h3m3 0h4m5 0h2m4 0h1m-35 1h1m1 0h1m3 0h1m2 0h1m2 0h2m2 0h3m4 0h1m3 0h1m4 0h1m1 0h1m-34 1h1m2 0h1m3 0h1m2 0h2m1 0h1m6 0h2m3 0h1m1 0h2m-24 1h1m1 0h1m2 0h1m2 0h1m2 0h2m4 0h3m1 0h1m-24 1h3m4 0h1m2 0h1m2 0h1m7 0h2m-20 1h2m2 0h1m3 0h1m2 0h1m2 0h1m2 0h1m-19 1h2m1 0h2m1 0h4m1 0h2m1 0h1m-13 1h1m2 0h2m6 0h1m3 0h2m-16 1h2m-10 1h1m1 0h1m3 0h2m1 0h1m8 0h3m2 0h1m-24 1h1m1 0h4m4 0h2m3 0h1m2 0h1m2 0h2m-22 1h1m9 0h4m1 0h1m3 0h1m12 0h2m-33 1h2m1 0h1m2 0h1m3 0h1m1 0h3m3 0h1m6 0h1m-27 1h1m1 0h1m1 0h2m1 0h1m3 0h2m2 0h3m1 0h1m1 0h1m4 0h1m5 0h2m-34 1h1m1 0h4m4 0h3m1 0h1m2 0h2m2 0h1m1 0h1m7 0h1m-27 1h2m5 0h5m2 0h1m1 0h1m3 0h2m3 0h1m-27 1h1m3 0h3m2 0h1m2 0h1m1 0h1m2 0h1m3 0h1m1 0h1m3 0h3m-29 1h1m3 0h2m2 0h3m1 0h1m3 0h1m3 0h1m1 0h1m6 0h1m11 0h2m53 0h2m-105 1h3m1 0h1m3 0h4m1 0h2m7 0h1m1 0h3m3 0h1m1 0h1m1 0h2m65 0h1m-102 1h1m3 0h1m4 0h1m1 0h1m1 0h1m7 0h1m1 0h2m1 0h1m3 0h1m1 0h1m67 0h1m9 0h1m-110 1h1m1 0h2m6 0h3m8 0h3m1 0h1m3 0h1m12 0h1m65 0h1m-101 1h2m1 0h1m3 0h1m3 0h3m1 0h1m3 0h2m12 0h1m1 0h1m20 0h1m-63 1h2m8 0h1m9 0h1m5 0h1m13 0h1m21 0h2m-70 1h1m16 0h1m1 0h2m1 0h2m1 0h2m2 0h1m3 0h1m2 0h3m10 0h2m16 0h1m18 0h1m-87 1h1m5 0h1m4 0h1m5 0h1m5 0h3m1 0h1m2 0h2m1 0h1m1 0h1m7 0h2m4 0h1m36 0h1m-88 1h1m2 0h1m2 0h1m1 0h1m1 0h1m5 0h1m1 0h2m6 0h1m1 0h1m5 0h1m1 0h4m1 0h1m8 0h1m2 0h1m56 0h1m2 0h1m1 0h1m-123 1h1m1 0h1m3 0h1m3 0h4m1 0h2m5 0h2m1 0h1m3 0h5m1 0h1m5 0h3m6 0h4m2 0h1m2 0h1m13 0h2m37 0h2m1 0h1m4 0h1m1 0h1m-124 1h2m1 0h1m4 0h1m5 0h2m1 0h1m2 0h1m3 0h1m8 0h1m3 0h2m4 0h1m4 0h1m6 0h2m1 0h1m1 0h2m1 0h2m11 0h1m1 0h2m1 0h1m23 0h1m1 0h1m5 0h1m6 0h1m-118 1h1m2 0h2m7 0h2m7 0h4m2 0h1m5 0h2m1 0h2m1 0h1m2 0h1m1 0h1m1 0h1m5 0h2m1 0h2m5 0h1m1 0h1m8 0h1m1 0h2m1 0h1m1 0h1m1 0h1m11 0h1m8 0h1m3 0h1m2 0h1m7 0h1m-121 1h5m1 0h1m4 0h1m1 0h2m6 0h2m4 0h1m1 0h1m3 0h1m3 0h2m6 0h1m1 0h1m4 0h2m4 0h1m4 0h2m1 0h1m2 0h1m1 0h1m2 0h4m1 0h1m1 0h2m1 0h1m10 0h2m5 0h1m1 0h1m-108 1h1m1 0h2m6 0h2m2 0h1m8 0h2m4 0h2m4 0h2m5 0h2m1 0h3m4 0h1m3 0h1m4 0h1m1 0h1m5 0h1m2 0h1m3 0h1m2 0h1m8 0h1m5 0h1m1 0h1m2 0h5m6 0h1m1 0h1m1 0h2m1 0h1m5 0h1m3 0h1m1 0h1m-134 1h2m5 0h1m8 0h1m16 0h1m7 0h1m19 0h4m3 0h1m2 0h2m4 0h1m1 0h1m1 0h1m9 0h3m1 0h1m2 0h1m1 0h1m1 0h1m1 0h1m8 0h1m2 0h2m2 0h1m3 0h1m1 0h4m1 0h1m1 0h1m-133 1h1m3 0h1m1 0h2m3 0h1m7 0h3m4 0h1m12 0h1m1 0h1m5 0h4m2 0h1m1 0h2m2 0h2m2 0h2m2 0h1m7 0h6m1 0h1m6 0h1m2 0h1m1 0h1m2 0h4m3 0h5m2 0h1m7 0h1m5 0h1m3 0h3m7 0h1m-143 1h1m1 0h1m4 0h2m5 0h1m1 0h1m7 0h1m19 0h1m3 0h4m2 0h2m2 0h1m2 0h2m4 0h1m2 0h1m5 0h1m16 0h1m1 0h1m1 0h1m1 0h1m1 0h1m1 0h2m1 0h1m2 0h1m2 0h2m7 0h1m4 0h3m1 0h3m1 0h1m-136 1h1m1 0h3m2 0h1m6 0h1m1 0h1m5 0h1m36 0h1m1 0h1m1 0h1m8 0h1m1 0h1m1 0h1m6 0h2m4 0h1m3 0h2m1 0h1m4 0h1m3 0h2m4 0h2m1 0h1m11 0h1m4 0h1m2 0h1m-140 1h1m1 0h1m4 0h1m4 0h1m51 0h3m1 0h1m5 0h1m2 0h1m1 0h1m1 0h1m7 0h1m3 0h2m3 0h1m3 0h2m1 0h1m1 0h1m2 0h1m1 0h2m1 0h3m19 0h1m1 0h2m-142 1h1m2 0h1m7 0h1m1 0h1m3 0h1m1 0h1m42 0h1m3 0h1m7 0h2m4 0h1m3 0h1m2 0h1m2 0h2m1 0h1m11 0h1m2 0h2m1 0h2m25 0h1m6 0h2m-154 1h2m2 0h1m9 0h2m1 0h1m1 0h1m1 0h1m43 0h1m3 0h1m10 0h1m6 0h3m1 0h1m2 0h1m4 0h1m1 0h1m8 0h2m4 0h4m24 0h1m3 0h1m-147 1h2m3 0h2m1 0h1m1 0h2m4 0h3m42 0h1m10 0h1m5 0h1m8 0h4m6 0h1m8 0h1m1 0h1m1 0h1m6 0h1m28 0h1m3 0h2m-154 1h1m7 0h1m1 0h2m3 0h1m1 0h2m55 0h1m11 0h1m2 0h2m8 0h1m2 0h2m4 0h1m39 0h1m-140 1h2m1 0h2m3 0h1m43 0h2m11 0h1m11 0h5m7 0h2m1 0h1m14 0h1m4 0h2m26 0h1m6 0h2m-157 1h3m1 0h4m4 0h1m11 0h1m36 0h1m11 0h1m12 0h1m2 0h1m3 0h1m6 0h1m2 0h2m1 0h1m13 0h2m23 0h1m3 0h1m4 0h1m-156 1h1m1 0h2m1 0h1m4 0h3m1 0h1m13 0h1m32 0h1m16 0h1m2 0h1m3 0h2m3 0h1m5 0h1m4 0h3m1 0h1m15 0h2m26 0h1m6 0h2m-158 1h1m2 0h3m8 0h1m2 0h1m58 0h1m10 0h1m3 0h1m1 0h1m1 0h1m53 0h1m16 0h1m1 0h1m-155 1h1m60 0h1m3 0h1m11 0h3m1 0h1m5 0h1m19 0h1m29 0h1m-138 1h1m14 0h1m45 0h1m3 0h1m1 0h1m1 0h1m7 0h1m2 0h1m6 0h3m10 0h2m4 0h1m28 0h1m2 0h1m-150 1h1m3 0h2m3 0h2m15 0h1m40 0h2m6 0h2m3 0h1m2 0h3m2 0h1m8 0h4m3 0h2m4 0h2m5 0h2m30 0h2m-147 1h1m5 0h2m6 0h4m34 0h1m9 0h1m1 0h1m5 0h2m4 0h1m3 0h2m14 0h2m3 0h1m4 0h1m7 0h1m27 0h3m2 0h1m-154 1h1m8 0h2m1 0h1m1 0h2m5 0h1m1 0h1m4 0h2m1 0h1m28 0h2m6 0h2m3 0h2m1 0h4m2 0h1m3 0h1m1 0h2m30 0h1m29 0h2m-149 1h11m7 0h1m4 0h2m2 0h1m29 0h1m2 0h1m5 0h1m3 0h3m6 0h1m7 0h3m6 0h1m1 0h2m2 0h2m5 0h2m6 0h1m28 0h5m-152 1h1m11 0h2m5 0h3m11 0h2m9 0h1m6 0h1m15 0h1m1 0h3m1 0h1m1 0h2m6 0h1m6 0h2m1 0h1m3 0h1m1 0h1m3 0h1m1 0h1m2 0h2m1 0h2m5 0h1m28 0h1m2 0h1m-151 1h1m6 0h2m6 0h2m3 0h1m7 0h2m36 0h2m1 0h2m1 0h2m1 0h1m3 0h2m1 0h2m4 0h2m1 0h1m11 0h1m1 0h3m39 0h3m1 0h1m-149 1h1m1 0h2m2 0h1m2 0h1m1 0h1m4 0h1m3 0h1m2 0h2m5 0h1m13 0h1m1 0h1m2 0h4m3 0h1m5 0h2m1 0h1m1 0h1m3 0h2m1 0h2m5 0h1m4 0h1m1 0h1m7 0h6m1 0h4m-110 1h1m8 0h2m1 0h3m1 0h2m1 0h1m7 0h2m1 0h1m3 0h1m9 0h1m3 0h2m2 0h1m2 0h1m1 0h3m5 0h2m1 0h1m5 0h1m4 0h2m3 0h1m7 0h1m2 0h1m4 0h1m3 0h1m1 0h1m3 0h1m35 0h2m1 0h1m3 0h3m-157 1h1m1 0h1m6 0h1m1 0h1m6 0h1m1 0h1m3 0h4m6 0h2m2 0h1m1 0h2m14 0h1m1 0h1m5 0h2m1 0h1m1 0h3m8 0h1m1 0h2m4 0h1m5 0h2m2 0h1m2 0h1m10 0h1m5 0h1m34 0h1m-153 1h1m7 0h1m5 0h1m1 0h1m7 0h1m2 0h1m4 0h2m4 0h1m1 0h1m3 0h1m2 0h2m3 0h2m2 0h1m1 0h2m2 0h2m1 0h4m11 0h1m2 0h2m2 0h1m1 0h1m1 0h1m8 0h3m3 0h2m1 0h2m1 0h1m39 0h4m-144 1h2m9 0h1m1 0h2m4 0h2m7 0h1m4 0h1m2 0h1m1 0h2m1 0h1m1 0h1m4 0h2m2 0h2m2 0h3m2 0h1m9 0h2m3 0h1m4 0h1m4 0h1m3 0h4m2 0h1m2 0h2m3 0h1m28 0h1m5 0h1m-129 1h3m6 0h4m5 0h2m1 0h1m2 0h3m1 0h1m1 0h1m1 0h1m3 0h2m4 0h2m2 0h1m2 0h1m1 0h2m3 0h5m19 0h1m1 0h1m2 0h2m5 0h1m29 0h1m2 0h1m2 0h1m-161 1h1m20 0h2m17 0h1m8 0h1m8 0h1m10 0h2m2 0h1m3 0h1m1 0h2m2 0h1m4 0h1m1 0h1m2 0h2m6 0h2m4 0h1m2 0h1m1 0h1m1 0h3m2 0h1m3 0h1m31 0h1m1 0h1m3 0h1m-163 1h1m1 0h1m23 0h1m1 0h1m9 0h1m1 0h1m1 0h1m1 0h2m3 0h1m5 0h1m3 0h1m8 0h2m1 0h1m3 0h3m5 0h1m25 0h2m2 0h1m1 0h2m5 0h1m1 0h1m1 0h1m31 0h1m4 0h1m-163 1h2m23 0h1m1 0h1m8 0h1m5 0h1m6 0h1m7 0h2m1 0h1m1 0h1m5 0h2m1 0h1m1 0h1m8 0h1m2 0h1m8 0h1m1 0h1m17 0h1m8 0h1m1 0h1m27 0h1m8 0h1m-127 1h1m2 0h1m1 0h1m16 0h1m1 0h1m2 0h2m4 0h2m1 0h1m8 0h1m1 0h1m1 0h1m8 0h1m1 0h1m5 0h1m12 0h1m1 0h1m1 0h1m1 0h4m-88 1h2m13 0h2m2 0h1m1 0h2m9 0h1m9 0h1m1 0h1m34 0h1m1 0h2m1 0h1m2 0h2m30 0h1m1 0h2m-116 1h2m24 0h1m8 0h1m1 0h1m4 0h2m19 0h2m8 0h2m2 0h2m33 0h2m1 0h1m-108 1h2m2 0h1m31 0h1m30 0h2m3 0h1m32 0h1m1 0h1m1 0h1m-111 1h1m18 0h1m14 0h1m18 0h2m7 0h1m10 0h1m2 0h1m29 0h1m1 0h1m1 0h1m-146 1h1m35 0h2m21 0h1m11 0h2m35 0h1m1 0h2m29 0h1m1 0h2m-109 1h1m1 0h1m9 0h2m10 0h1m8 0h2m17 0h2m17 0h1m2 0h1m28 0h2m1 0h2m1 0h1m-148 1h1m1 0h1m35 0h1m1 0h1m8 0h1m52 0h4m1 0h1m1 0h2m1 0h1m28 0h1m1 0h1m1 0h1m1 0h2m8 0h2m-158 1h1m37 0h1m1 0h1m26 0h1m22 0h1m11 0h1m4 0h1m3 0h2m29 0h3m1 0h1m1 0h3m-84 1h1m35 0h2m3 0h1m3 0h1m25 0h1m3 0h1m1 0h1m1 0h1m1 0h1m7 0h2m-163 1h1m111 0h1m1 0h3m3 0h2m21 0h1m5 0h2m3 0h2m-157 1h1m1 0h1m74 0h1m34 0h1m2 0h1m2 0h1m25 0h1m3 0h1m-148 1h1m110 0h3m6 0h2m26 0h4m-76 1h1m33 0h1m1 0h1m6 0h1m23 0h2m3 0h1m1 0h1m-87 1h2m45 0h1m1 0h1m33 0h1m1 0h1m-162 1h1m9 0h1m114 0h1m1 0h1m31 0h2m-151 1h1m1 0h1m63 0h2m34 0h2m11 0h2m1 0h1m31 0h1m-151 1h1m1 0h1m33 0h2m63 0h1m14 0h2m1 0h1m28 0h3m-32 1h1m28 0h1m1 0h4m2 0h1m2 0h1m1 0h1m-47 1h1m4 0h2m1 0h2m26 0h1m2 0h1m1 0h1m2 0h1m1 0h1m-48 1h1m1 0h1m8 0h2m3 0h1m13 0h3m3 0h1m1 0h2m-39 1h1m2 0h1m1 0h1m3 0h1m20 0h4m1 0h1m-31 1h1m2 0h2m34 0h1m-87 1h2m12 0h1m32 0h3m1 0h1m7 0h1m8 0h1m4 0h1m1 0h1m1 0h1m8 0h1m1 0h2m-76 1h1m1 0h1m37 0h1m12 0h1m1 0h2m2 0h1m1 0h1m1 0h1m10 0h1m1 0h1m-91 1h2m12 0h1m1 0h1m30 0h3m1 0h1m2 0h3m1 0h1m17 0h1m2 0h1m-166 1h1m1 0h1m134 0h1m2 0h1m2 0h2m14 0h3m-161 1h1m130 0h1m5 0h2m7 0h1m1 0h1m7 0h3m1 0h3m-162 1h1m126 0h3m1 0h1m8 0h1m3 0h2m1 0h1m1 0h1m7 0h1m1 0h2m3 0h1m-164 1h1m127 0h2m1 0h1m8 0h4m3 0h2m7 0h1m2 0h1m2 0h1m1 0h1m-39 1h2m2 0h1m1 0h1m4 0h1m3 0h2m1 0h1m1 0h1m6 0h3m5 0h2m1 0h1m-28 1h1m1 0h2m3 0h1m1 0h1m8 0h6m1 0h1m1 0h1m-27 1h1m1 0h1m2 0h1m2 0h1m10 0h1m-72 1h1m51 0h1m1 0h1m5 0h1m8 0h2m-72 1h1m51 0h1m1 0h3m1 0h1m9 0h2m-17 1h2m1 0h1m4 0h1m5 0h1" stroke="#aaa" stroke-width="1"/>
<path d="M369 310.5h2m-8 4h2m8 0h2m-3 2h2m9 0h1m47 0h2m-50 1h1m-15 1h1m-1 1h1m-9 2h1m8 0h2m35 0h1m-47 1h1m45 0h1m-47 1h1m-13 1h1m8 0h1m13 0h1m63 0h1m26 0h2m-116 1h1m9 0h1m4 0h1m3 0h2m2 0h1m52 0h1m10 0h2m-89 1h1m9 0h1m8 0h2m41 0h1m8 0h1m-63 1h3m7 0h1m42 0h1m8 0h1m-73 1h1m11 0h4m12 0h1m34 0h1m8 0h1m-73 1h1m43 0h2m33 0h2m-75 1h1m6 0h2m5 0h1m26 0h2m24 0h1m10 0h2m-80 1h1m4 0h1m4 0h1m2 0h2m1 0h2m4 0h2m9 0h1m10 0h1m-43 1h5m3 0h2m1 0h2m2 0h1m4 0h1m10 0h1m14 0h1m3 0h1m3 0h1m-53 1h1m4 0h2m3 0h2m9 0h1m22 0h1m3 0h1m3 0h1m-51 1h1m1 0h2m5 0h2m8 0h2m3 0h1m15 0h1m-41 1h1m1 0h2m7 0h3m14 0h1m2 0h2m6 0h1m12 0h2m-64 1h2m9 0h1m5 0h1m5 0h3m7 0h3m2 0h2m9 0h1m4 0h2m16 0h2m-72 1h1m14 0h1m1 0h1m3 0h1m2 0h1m6 0h1m26 0h1m-54 1h2m2 0h1m1 0h3m1 0h4m6 0h1m5 0h1m2 0h1m22 0h2m5 0h1m17 0h1m-78 1h1m3 0h1m1 0h2m2 0h1m2 0h1m10 0h2m3 0h1m22 0h1m3 0h1m-56 1h2m3 0h1m3 0h2m14 0h1m8 0h3m3 0h1m14 0h2m-60 1h3m6 0h1m2 0h2m2 0h3m9 0h1m8 0h1m5 0h1m4 0h1m33 0h2m-82 1h1m1 0h2m6 0h3m1 0h1m31 0h2m12 0h1m-58 1h2m8 0h1m1 0h2m14 0h2m7 0h2m6 0h1m1 0h2m7 0h2m9 0h1m-64 1h1m2 0h2m1 0h2m1 0h2m4 0h1m17 0h1m7 0h1m17 0h2m-62 1h1m7 0h1m4 0h2m1 0h1m6 0h2m8 0h2m39 0h1m-77 1h3m2 0h1m1 0h2m2 0h1m3 0h2m1 0h1m16 0h1m40 0h1m-87 1h4m7 0h1m2 0h1m1 0h6m5 0h1m2 0h1m3 0h1m37 0h1m-67 1h1m2 0h6m1 0h4m6 0h1m7 0h1m1 0h2m32 0h3m-71 1h1m3 0h2m2 0h3m1 0h2m4 0h2m2 0h2m1 0h1m12 0h1m13 0h1m16 0h1m4 0h1m2 0h1m-78 1h1m6 0h1m5 0h1m1 0h3m4 0h1m6 0h1m8 0h1m13 0h1m21 0h1m7 0h1m-83 1h1m3 0h1m3 0h2m3 0h1m2 0h1m12 0h1m3 0h1m48 0h1m-74 1h1m6 0h1m2 0h1m8 0h2m3 0h1m13 0h1m8 0h2m-51 1h2m1 0h2m2 0h2m3 0h3m25 0h1m11 0h3m-60 1h2m6 0h3m1 0h3m3 0h2m3 0h2m13 0h1m16 0h2m13 0h1m-70 1h1m1 0h1m4 0h1m2 0h3m6 0h1m1 0h2m46 0h1m-58 1h1m3 0h1m2 0h1m2 0h1m22 0h1m3 0h2m-47 1h1m2 0h1m8 0h1m39 0h2m10 0h2m-67 1h2m1 0h1m3 0h3m1 0h1m22 0h1m3 0h2m1 0h1m25 0h1m10 0h2m-89 1h1m19 0h2m21 0h1m6 0h1m4 0h1m1 0h1m2 0h1m15 0h1m6 0h1m-77 1h3m5 0h2m34 0h1m3 0h1m1 0h1m2 0h1m17 0h2m-67 1h2m29 0h1m6 0h1m27 0h1m-87 1h1m11 0h3m6 0h1m9 0h2m18 0h1m5 0h2m23 0h1m-67 1h1m4 0h1m11 0h2m9 0h2m36 0h1m4 0h2m-76 1h2m1 0h3m6 0h1m17 0h1m34 0h2m-67 1h1m8 0h1m2 0h1m17 0h1m-28 1h1m5 0h2m2 0h1m28 0h1m16 0h1m7 0h2m1 0h1m-67 1h1m7 0h1m29 0h1m4 0h1m11 0h1m5 0h3m2 0h1m8 0h1m-76 1h1m1 0h2m4 0h1m26 0h2m21 0h1m-59 1h1m1 0h1m5 0h1m1 0h1m27 0h2m3 0h2m13 0h2m8 0h1m-70 1h3m7 0h2m2 0h1m8 0h2m1 0h1m13 0h2m3 0h1m12 0h2m9 0h1m-66 1h2m2 0h1m1 0h1m8 0h2m3 0h2m22 0h2m-44 1h1m1 0h2m4 0h2m3 0h1m10 0h1m30 0h1m4 0h1m6 0h1m16 0h1m-95 1h4m2 0h2m1 0h2m7 0h1m4 0h1m10 0h1m4 0h1m7 0h1m18 0h1m3 0h1m6 0h1m-83 1h1m1 0h1m7 0h1m1 0h1m1 0h3m4 0h1m1 0h3m2 0h1m15 0h2m5 0h2m5 0h2m14 0h2m11 0h3m-90 1h1m6 0h1m1 0h1m15 0h1m1 0h2m29 0h1m33 0h2m1 0h2m-89 1h3m4 0h1m2 0h1m7 0h1m1 0h2m9 0h1m7 0h2m3 0h2m5 0h5m2 0h1m11 0h1m-78 1h1m2 0h1m4 0h2m4 0h2m1 0h1m4 0h1m1 0h2m1 0h1m31 0h1m4 0h2m4 0h1m-77 1h2m2 0h3m2 0h2m5 0h3m2 0h4m3 0h1m2 0h1m7 0h1m25 0h1m10 0h1m2 0h1m2 0h1m-89 1h2m13 0h2m3 0h6m3 0h1m1 0h2m1 0h1m1 0h1m7 0h2m10 0h2m1 0h1m9 0h1m13 0h1m4 0h3m-85 1h2m1 0h2m2 0h2m1 0h2m2 0h3m1 0h1m1 0h2m2 0h1m1 0h1m3 0h5m1 0h2m11 0h1m3 0h1m6 0h1m2 0h1m1 0h2m9 0h1m8 0h1m1 0h1m33 0h1m-128 1h2m5 0h1m1 0h2m5 0h6m1 0h2m1 0h2m1 0h1m2 0h3m2 0h5m1 0h3m2 0h2m5 0h1m10 0h1m8 0h2m14 0h1m11 0h1m23 0h1m-119 1h2m2 0h1m2 0h1m2 0h3m1 0h2m1 0h1m2 0h1m2 0h1m1 0h7m1 0h1m22 0h1m7 0h2m4 0h1m2 0h1m9 0h1m1 0h1m1 0h1m7 0h1m-108 1h2m4 0h1m4 0h4m2 0h2m1 0h7m2 0h5m2 0h1m2 0h3m3 0h1m3 0h1m9 0h1m8 0h1m4 0h1m4 0h1m3 0h1m2 0h1m1 0h1m7 0h3m1 0h1m2 0h1m4 0h1m7 0h2m-111 1h1m2 0h1m1 0h3m4 0h2m1 0h4m1 0h1m1 0h5m3 0h2m11 0h1m9 0h1m3 0h2m4 0h1m3 0h1m3 0h2m1 0h2m18 0h1m1 0h1m1 0h2m6 0h1m1 0h2m-124 1h2m5 0h2m1 0h2m4 0h19m2 0h6m3 0h1m24 0h1m29 0h3m4 0h1m1 0h1m9 0h1m2 0h3m2 0h1m3 0h2m-131 1h1m7 0h1m2 0h2m1 0h1m1 0h8m2 0h14m3 0h1m7 0h1m29 0h2m9 0h2m5 0h1m2 0h2m13 0h1m6 0h2m2 0h4m-132 1h1m3 0h4m3 0h1m1 0h1m2 0h20m1 0h2m2 0h4m5 0h3m11 0h1m1 0h1m14 0h2m1 0h2m34 0h1m8 0h1m-119 1h1m4 0h1m2 0h15m4 0h2m1 0h2m1 0h3m5 0h2m6 0h2m4 0h1m13 0h1m19 0h1m13 0h1m4 0h2m6 0h2m1 0h1m3 0h2m2 0h2m-144 1h1m6 0h1m6 0h4m2 0h1m1 0h8m1 0h5m2 0h2m2 0h1m2 0h2m1 0h2m24 0h2m8 0h1m2 0h2m12 0h1m3 0h1m10 0h3m3 0h2m4 0h3m3 0h1m2 0h3m1 0h2m-143 1h1m1 0h2m9 0h7m1 0h10m1 0h3m4 0h1m9 0h1m8 0h1m4 0h1m11 0h1m28 0h3m5 0h2m1 0h5m2 0h2m1 0h5m4 0h1m-129 1h1m1 0h2m5 0h6m1 0h13m1 0h2m2 0h1m1 0h1m3 0h1m16 0h1m4 0h1m6 0h1m16 0h2m7 0h1m3 0h1m3 0h2m3 0h3m2 0h4m3 0h3m1 0h2m1 0h3m1 0h2m-149 1h1m11 0h1m1 0h1m1 0h1m1 0h4m1 0h2m2 0h13m1 0h3m2 0h1m3 0h1m1 0h3m2 0h1m1 0h1m5 0h1m2 0h1m9 0h1m6 0h1m9 0h1m15 0h1m1 0h3m3 0h2m5 0h1m4 0h3m1 0h4m2 0h1m1 0h3m2 0h1m-149 1h1m5 0h1m11 0h2m4 0h2m1 0h2m2 0h12m3 0h2m7 0h1m1 0h2m7 0h1m1 0h2m3 0h1m4 0h1m2 0h1m3 0h1m4 0h2m3 0h1m6 0h2m7 0h1m8 0h1m2 0h2m1 0h1m8 0h8m3 0h1m-153 1h2m10 0h1m5 0h1m1 0h1m2 0h2m2 0h2m1 0h4m1 0h1m2 0h13m9 0h1m12 0h2m3 0h1m1 0h2m5 0h2m12 0h1m6 0h2m6 0h2m1 0h2m8 0h1m3 0h1m6 0h1m5 0h5m1 0h2m3 0h3m-142 1h3m3 0h10m1 0h2m1 0h3m2 0h2m2 0h4m3 0h1m4 0h3m2 0h1m1 0h1m13 0h1m2 0h2m12 0h2m3 0h2m3 0h1m11 0h1m1 0h1m2 0h1m4 0h2m2 0h3m4 0h1m1 0h2m1 0h10m2 0h3m12 0h2m-162 1h1m3 0h1m2 0h2m1 0h15m2 0h2m1 0h2m2 0h3m3 0h3m1 0h3m1 0h5m1 0h1m13 0h1m10 0h1m15 0h1m4 0h5m2 0h1m1 0h1m2 0h1m7 0h1m1 0h4m1 0h2m1 0h1m1 0h9m1 0h2m3 0h2m-155 1h1m10 0h2m1 0h1m4 0h13m9 0h1m1 0h2m3 0h1m1 0h1m5 0h2m8 0h1m16 0h4m20 0h1m7 0h3m8 0h1m3 0h5m1 0h15m3 0h1m-155 1h1m5 0h2m2 0h2m2 0h3m2 0h11m2 0h4m3 0h3m2 0h2m20 0h1m10 0h1m28 0h2m2 0h1m4 0h2m8 0h4m2 0h15m3 0h2m-148 1h1m2 0h5m4 0h7m1 0h5m1 0h2m2 0h5m1 0h1m15 0h2m20 0h1m25 0h1m1 0h1m4 0h2m2 0h2m5 0h3m1 0h3m2 0h21m14 0h1m-163 1h1m1 0h6m1 0h12m2 0h2m1 0h3m1 0h4m1 0h1m20 0h1m5 0h1m37 0h3m17 0h1m1 0h27m1 0h2m10 0h1m-161 1h1m3 0h2m2 0h1m2 0h1m3 0h1m3 0h4m1 0h7m6 0h2m11 0h1m3 0h1m5 0h1m51 0h2m6 0h27m1 0h2m-146 1h2m1 0h1m2 0h6m1 0h9m1 0h1m2 0h1m4 0h2m12 0h2m26 0h1m33 0h1m7 0h28m3 0h1m6 0h1m-168 1h1m2 0h1m1 0h2m1 0h2m4 0h2m1 0h1m1 0h1m7 0h2m2 0h2m1 0h4m34 0h1m13 0h2m8 0h1m3 0h1m6 0h3m2 0h1m8 0h2m3 0h1m4 0h1m1 0h25m3 0h1m5 0h1m-165 1h1m1 0h1m8 0h3m1 0h1m4 0h8m1 0h1m1 0h1m9 0h1m29 0h2m20 0h1m1 0h1m1 0h1m11 0h1m4 0h2m5 0h2m1 0h2m6 0h24m4 0h1m-150 1h1m3 0h1m3 0h9m1 0h1m1 0h1m1 0h2m1 0h1m1 0h1m2 0h1m1 0h1m30 0h2m19 0h1m26 0h1m2 0h1m2 0h1m2 0h25m2 0h1m1 0h1m-157 1h1m5 0h1m1 0h3m1 0h1m3 0h2m1 0h1m2 0h3m3 0h2m1 0h2m1 0h1m4 0h1m52 0h2m24 0h1m1 0h31m2 0h2m1 0h1m-157 1h1m5 0h1m1 0h1m4 0h4m2 0h1m4 0h1m1 0h1m3 0h3m78 0h1m6 0h1m1 0h1m1 0h5m2 0h24m-154 1h1m4 0h1m1 0h1m1 0h1m4 0h3m3 0h1m4 0h4m1 0h2m9 0h2m54 0h1m15 0h1m1 0h1m3 0h1m3 0h29m-152 1h2m7 0h1m5 0h1m4 0h1m3 0h1m1 0h1m1 0h1m1 0h1m11 0h1m70 0h1m2 0h2m2 0h1m3 0h32m8 0h1m-146 1h1m4 0h1m9 0h3m79 0h1m2 0h2m1 0h3m2 0h23m1 0h2m1 0h2m8 0h1m-166 1h1m8 0h1m3 0h4m99 0h3m1 0h1m2 0h3m2 0h26m1 0h1m-159 1h1m2 0h2m13 0h2m20 0h1m82 0h2m2 0h1m1 0h25m1 0h4m1 0h2m-162 1h1m3 0h1m7 0h1m4 0h1m8 0h1m86 0h2m12 0h27m1 0h1m3 0h1m8 0h2m-164 1h1m5 0h2m1 0h2m6 0h1m1 0h2m84 0h2m13 0h31m3 0h2m-150 1h1m5 0h1m4 0h1m98 0h1m6 0h31m-142 1h1m103 0h1m4 0h2m1 0h30m-154 1h2m115 0h2m1 0h1m2 0h1m1 0h27m3 0h2m-37 1h1m2 0h29m4 0h1m-35 1h2m1 0h25m2 0h1m-37 1h3m3 0h28m5 0h2m-41 1h1m5 0h2m1 0h23m8 0h1m-33 1h1m2 0h21m2 0h2m-27 1h5m1 0h13m1 0h6m-26 1h1m2 0h2m1 0h16m6 0h1m24 0h1m-61 1h1m6 0h1m1 0h2m1 0h19m4 0h2m5 0h2m-37 1h1m3 0h4m1 0h11m1 0h1m1 0h2m-25 1h1m1 0h17m1 0h2m2 0h1m-23 1h4m1 0h12m1 0h1m1 0h2m1 0h2m-28 1h2m1 0h1m1 0h6m1 0h7m4 0h1m2 0h3m-29 1h1m4 0h4m1 0h3m1 0h7m-17 1h7m2 0h6m2 0h2m-17 1h6m1 0h2m2 0h1m-11 1h1m1 0h2m1 0h5m1 0h2m4 0h1m-26 1h1m3 0h1m1 0h2m1 0h1m2 0h6m2 0h1m3 0h3m-27 1h1m4 0h1m4 0h1m1 0h1m3 0h2m2 0h2m2 0h7m-22 1h2m2 0h2m2 0h1m6 0h1m9 0h1m-26 1h4m1 0h1m1 0h2m6 0h1m9 0h1m2 0h1m-26 1h2m1 0h4m2 0h2m1 0h3m10 0h1m-30 1h1m4 0h2m5 0h6m-18 1h1m5 0h3m2 0h4m3 0h1m-14 1h2m2 0h2m2 0h5m3 0h2m2 0h1m-23 1h1m1 0h1m2 0h2m8 0h2m5 0h1m-28 1h2m3 0h2m4 0h1m4 0h1m-6 1h1m4 0h1m11 0h1m-34 1h2m4 0h2m19 0h4m2 0h1m-18 1h1m3 0h1m2 0h2m3 0h1m2 0h1m1 0h1m1 0h2m-24 1h2m1 0h1m1 0h1m1 0h1m5 0h2m3 0h1m-5 1h3m1 0h1m3 0h2m-16 1h2m7 0h4m-25 1h2m8 0h2m1 0h3m-7 1h3m3 0h1m1 0h2m2 0h1m-13 1h1m1 0h2m2 0h1m4 0h2m-20 1h2m4 0h2m2 0h1m1 0h1m1 0h1m1 0h2m1 0h3m-16 1h1m5 0h1m1 0h1m4 0h2m-5 1h2m1 0h2m-8 1h1m1 0h3m-13 1h1m7 0h4m-12 1h1m2 0h1m2 0h1m4 0h1" stroke="#111" stroke-width="1"/>
<path d="M401 288.5h1m33 4h1m15 0h1m-117 1h1m11 1h1m15 1h1m30 0h1m3 2h1m-31 1h1m1 0h1m-5 3h1m96 0h1m-68 1h1m30 0h1m-18 1h1m-88 1h1m28 0h1m35 0h1m33 0h1m-45 1h1m44 0h1m40 0h1m29 0h1m-120 2h1m8 0h1m30 0h1m2 0h1m11 0h1m41 0h1m-117 1h1m5 0h1m20 0h1m4 0h1m1 0h1m58 1h1m-118 1h1m66 0h1m13 0h1m9 0h1m-60 1h1m9 0h1m0 1h1m18 0h1m9 0h1m-14 1h1m11 0h1m20 0h1m9 0h1m-74 1h1m15 0h1m45 0h1m-65 1h1m41 0h1m33 0h1m-99 1h1m29 0h1m7 0h1m2 0h1m39 0h1m7 0h1m7 0h1m3 0h1m-108 1h1m25 0h1m3 0h1m36 0h1m1 0h1m2 0h1m3 0h1m2 0h1m3 0h1m4 0h1m10 0h1m4 0h1m-91 1h1m25 0h1m32 0h1m-86 1h1m37 0h1m2 0h1m40 0h1m8 0h1m21 0h1m53 0h1m-128 1h1m12 0h1m5 0h1m21 0h1m5 0h1m-23 1h1m1 0h1m30 0h1m-77 1h1m40 0h1m13 0h1m23 0h1m19 0h1m-85 1h1m19 0h1m23 0h1m2 0h1m45 0h1m-119 1h1m13 0h1m1 0h1m30 0h1m49 0h1m1 0h1m3 0h1m44 0h1m-143 1h1m54 0h1m21 0h1m14 0h1m31 0h1m-115 1h1m8 0h1m17 0h1m8 0h1m6 0h1m6 0h1m17 0h1m1 0h1m5 0h1m-81 1h1m27 0h1m3 0h1m5 0h1m4 0h1m13 0h1m8 0h1m8 0h1m13 0h1m2 0h1m3 0h1m-113 1h1m54 0h1m19 0h1m5 0h1m34 0h1m4 0h1m-130 1h1m39 0h1m12 0h1m24 0h1m12 0h1m2 0h1m40 0h1m-119 1h1m29 0h2m10 0h1m4 0h1m-32 1h1m16 0h1m4 0h1m6 0h1m10 0h1m7 0h1m7 0h1m9 0h1m11 0h1m-84 1h1m30 0h1m1 0h1m13 0h1m22 0h1m8 0h1m26 0h1m-120 1h1m8 0h1m22 0h1m8 0h1m23 0h1m12 0h1m53 0h1m-111 1h1m17 0h1m15 0h1m42 0h1m15 0h1m10 0h1m-151 1h1m50 0h1m22 0h1m9 0h1m8 0h1m4 0h1m18 0h1m1 0h1m-84 1h1m15 0h1m2 0h1m6 0h1m3 0h2m1 0h1m37 0h1m37 0h1m-94 1h1m5 0h1m8 0h1m17 0h1m18 0h1m76 0h1m-160 1h1m47 0h1m11 0h1m3 0h1m2 0h1m1 0h1m25 0h1m-70 1h1m9 0h1m9 0h1m18 0h1m54 0h1m20 0h1m-120 1h1m20 0h1m28 0h1m6 0h1m49 0h1m-131 1h1m30 0h1m18 0h1m6 0h1m11 0h1m4 0h1m4 0h1m9 0h1m3 0h1m-76 1h1m4 0h1m6 0h1m8 0h1m20 0h1m7 0h1m1 0h1m11 0h1m7 0h1m4 0h1m3 0h1m18 0h1m-102 1h1m22 0h1m20 0h1m1 0h1m7 0h1m35 0h1m5 0h1m16 0h1m7 0h1m-129 1h1m13 0h1m1 0h1m-23 1h1m22 0h1m5 0h2m15 0h1m2 0h1m54 0h1m20 0h1m-128 1h1m9 0h1m12 0h1m25 0h1m20 0h1m7 0h1m19 0h1m-93 1h1m6 0h1m11 0h1m2 0h1m1 0h1m2 0h1m10 0h1m14 0h1m8 0h1m7 0h1m10 0h1m74 0h1m-146 1h1m15 0h1m4 0h1m4 0h1m1 0h1m20 0h1m2 0h1m22 0h1m2 0h1m14 0h1m16 0h1m7 0h1m-99 1h1m6 0h1m3 0h1m13 0h1m21 0h1m6 0h1m8 0h1m6 0h1m-98 1h1m17 0h1m17 0h1m14 0h1m17 0h1m2 0h1m9 0h1m43 0h1m-138 1h1m22 0h1m18 0h1m9 0h1m4 0h1m2 0h1m2 0h1m3 0h1m3 0h1m7 0h1m36 0h1m-106 1h1m12 0h1m4 0h1m3 0h1m10 0h1m25 0h1m3 0h1m18 0h1m2 0h1m17 0h1m6 0h1m2 0h1m-116 1h1m3 0h1m23 0h2m12 0h1m5 0h1m8 0h1m4 0h1m12 0h1m3 0h1m16 0h1m7 0h1m-111 1h1m15 0h1m14 0h1m9 0h1m14 0h1m12 0h1m33 0h1m-94 1h1m25 0h1m12 0h1m28 0h1m19 0h1m2 0h1m-91 1h1m12 0h1m4 0h1m18 0h1m3 0h1m7 0h1m26 0h1m-69 1h1m10 0h1m20 0h1m4 0h1m16 0h1m12 0h1m19 0h1m17 0h1m-107 1h1m1 0h1m8 0h1m15 0h1m4 0h1m9 0h1m10 0h1m12 0h1m22 0h1m28 0h1m30 0h1m-128 1h1m42 0h1m22 0h1m11 0h1m-109 1h1m23 0h1m2 0h1m14 0h1m3 0h1m25 0h1m2 0h1m22 0h1m-74 1h1m5 0h1m34 0h1m2 0h1m1 0h1m-51 1h1m4 0h1m6 0h1m1 0h1m9 0h1m1 0h1m11 0h1m5 0h1m7 0h1m17 0h1m7 0h1m4 0h1m-109 1h1m8 0h1m48 0h1m6 0h1m13 0h1m2 0h1m4 0h1m-82 1h1m3 0h1m14 0h1m8 0h1m8 0h1m17 0h1m10 0h1m-84 1h1m14 0h1m17 0h1m2 0h1m7 0h1m7 0h1m8 0h1m25 0h1m7 0h1m-86 1h1m8 0h1m11 0h1m11 0h1m2 0h1m19 0h1m11 0h1m30 0h1m47 0h1m-146 1h1m10 0h1m18 0h1m6 0h1m2 0h1m9 0h1m8 0h1m7 0h1m44 0h1m-117 1h1m4 0h1m29 0h1m6 0h1m3 0h1m3 0h1m2 0h1m19 0h1m72 0h1m-136 1h1m2 0h1m2 0h1m2 0h1m7 0h1m2 0h1m53 0h1m7 0h1m3 0h1m31 0h1m-114 1h1m10 0h1m2 0h1m8 0h1m2 0h1m14 0h1m16 0h1m12 0h1m11 0h1m-90 1h1m24 0h1m2 0h1m9 0h1m15 0h1m2 0h1m7 0h1m1 0h1m7 0h1m18 0h1m21 0h1m-128 1h1m11 0h1m32 0h1m12 0h1m14 0h1m3 0h1m1 0h1m5 0h1m5 0h1m6 0h1m-93 1h1m30 0h1m5 0h1m36 0h1m5 0h1m31 0h1m-111 1h1m1 0h1m6 0h1m6 0h1m24 0h1m12 0h1m20 0h1m33 0h1m1 0h1m5 0h1m3 0h1m8 0h1m-143 1h1m24 0h1m1 0h1m6 0h1m1 0h1m34 0h1m1 0h1m2 0h1m19 0h1m5 0h1m4 0h1m18 0h1m4 0h1m3 0h1m-114 1h1m7 0h1m6 0h1m10 0h1m12 0h1m5 0h1m36 0h1m11 0h1m-102 1h1m18 0h1m28 0h1m11 0h2m20 0h1m1 0h1m2 0h1m8 0h1m14 0h1m3 0h1m-144 1h1m7 0h1m28 0h1m30 0h1m5 0h1m10 0h1m28 0h1m5 0h1m7 0h1m11 0h1m-138 1h1m3 0h1m15 0h1m23 0h1m1 0h1m6 0h1m13 0h1m1 0h1m21 0h1m1 0h1m3 0h2m30 0h1m1 0h1m3 0h1m20 0h1m4 0h1m14 0h1m-167 1h1m28 0h1m5 0h1m14 0h1m1 0h1m27 0h1m4 0h1m21 0h1m3 0h1m8 0h1m-132 1h1m51 0h1m25 0h1m8 0h1m12 0h1m2 0h1m2 0h1m26 0h1m-125 1h1m11 0h1m1 0h1m11 0h1m3 0h1m5 0h1m4 0h1m19 0h1m9 0h1m29 0h1m6 0h1m18 0h1m5 0h1m-122 1h2m28 0h1m16 0h1m7 0h1m2 0h1m20 0h1m3 0h1m44 0h1m11 0h1m-128 1h1m4 0h1m7 0h1m13 0h1m3 0h1m5 0h1m25 0h1m4 0h1m9 0h1m20 0h1m-124 1h1m30 0h2m12 0h1m6 0h1m12 0h1m3 0h1m9 0h1m3 0h1m47 0h1m1 0h1m-133 1h1m10 0h1m1 0h1m8 0h1m16 0h2m28 0h1m5 0h1m8 0h1m25 0h1m23 0h1m-153 1h1m10 0h1m16 0h1m26 0h1m14 0h1m1 0h1m13 0h1m7 0h1m32 0h1m18 0h1m1 0h1m4 0h1m-155 1h1m14 0h1m9 0h1m5 0h1m3 0h1m24 0h1m5 0h1m19 0h1m2 0h1m1 0h1m1 0h1m9 0h1m7 0h1m1 0h1m7 0h1m-111 1h1m10 0h1m1 0h1m9 0h1m8 0h1m19 0h2m2 0h1m36 0h1m4 0h1m6 0h2m6 0h1m8 0h1m5 0h1m24 0h1m-142 1h1m20 0h1m11 0h1m16 0h1m5 0h1m3 0h1m2 0h1m11 0h1m8 0h1m2 0h1m10 0h1m15 0h1m5 0h1m1 0h1m2 0h1m10 0h1m-140 1h1m2 0h1m10 0h1m21 0h1m12 0h1m20 0h1m4 0h1m5 0h1m7 0h1m7 0h1m18 0h1m1 0h1m3 0h1m-143 1h1m12 0h1m15 0h1m13 0h1m6 0h2m6 0h1m16 0h1m3 0h1m12 0h1m27 0h1m7 0h1m49 0h1m-159 1h1m12 0h1m12 0h1m10 0h1m12 0h1m32 0h1m4 0h1m28 0h1m8 0h1m23 0h1m-155 1h1m5 0h1m3 0h1m4 0h1m1 0h2m23 0h1m6 0h1m1 0h1m5 0h1m50 0h1m13 0h1m9 0h1m11 0h1m2 0h1m1 0h1m-146 1h1m17 0h1m3 0h1m43 0h1m21 0h1m14 0h1m9 0h1m1 0h1m28 0h1m10 0h1m-180 1h1m59 0h1m26 0h1m6 0h1m15 0h1m28 0h1m4 0h1m9 0h1m4 0h1m4 0h1m-150 1h1m6 0h1m16 0h1m7 0h1m1 0h1m8 0h1m1 0h1m19 0h1m5 0h1m26 0h1m20 0h1m7 0h1m23 0h1m20 0h1m-189 1h1m4 0h1m33 0h1m10 0h1m15 0h1m12 0h1m2 0h1m5 0h1m1 0h1m8 0h1m5 0h1m14 0h1m17 0h1m21 0h1m5 0h1m2 0h1m14 0h1m-183 1h1m27 0h1m19 0h1m17 0h1m18 0h1m14 0h1m29 0h1m4 0h1m21 0h1m5 0h1m-134 1h1m3 0h1m8 0h1m6 0h1m5 0h1m11 0h1m7 0h1m3 0h1m1 0h1m5 0h1m2 0h1m2 0h1m85 0h1m-169 1h1m8 0h1m1 0h3m3 0h1m4 0h1m60 0h1m2 0h1m29 0h1m1 0h1m48 0h1m-177 1h1m1 0h1m31 0h1m6 0h1m6 0h1m14 0h1m7 0h1m4 0h1m46 0h1m37 0h1m-160 1h1m11 0h1m1 0h1m4 0h2m4 0h1m3 0h1m35 0h1m46 0h1m15 0h1m26 0h1m-163 1h1m12 0h1m6 0h1m29 0h1m2 0h1m10 0h1m20 0h1m6 0h1m12 0h1m7 0h1m21 0h1m1 0h1m-124 1h1m8 0h1m46 0h1m27 0h1m11 0h1m5 0h1m8 0h1m4 0h1m4 0h2m34 0h1m13 0h1m-169 1h1m10 0h1m11 0h1m5 0h1m11 0h1m24 0h1m7 0h1m22 0h1m8 0h1m37 0h2m11 0h1m-171 1h1m8 0h1m3 0h1m9 0h1m5 0h1m5 0h1m25 0h1m24 0h1m14 0h1m11 0h1m13 0h1m6 0h1m37 0h1m3 0h1m-164 1h1m3 0h1m19 0h1m19 0h1m18 0h1m35 0h1m6 0h1m37 0h1m-149 1h1m6 0h1m15 0h1m4 0h1m24 0h1m14 0h1m6 0h1m19 0h1m4 0h1m3 0h1m10 0h1m-127 1h1m109 0h1m2 0h1m18 0h1m24 0h1m19 0h1m-169 1h1m2 0h1m15 0h1m5 0h1m1 0h1m49 0h1m4 0h1m68 0h1m-150 1h1m5 0h1m2 0h1m5 0h1m3 0h1m51 0h1m21 0h1m16 0h1m9 0h1m25 0h1m4 0h1m-158 1h1m6 0h1m12 0h1m1 0h1m8 0h1m74 0h1m-88 1h1m6 0h1m1 0h1m13 0h1m2 0h1m49 0h1m5 0h1m12 0h1m46 0h1m1 0h1m-168 1h1m1 0h1m3 0h1m37 0h1m43 0h1m26 0h1m3 0h1m2 0h1m7 0h1m-119 1h1m2 0h1m6 0h1m4 0h1m7 0h1m95 0h1m33 0h1m22 0h1m-184 1h1m5 0h1m4 0h1m2 0h1m20 0h1m65 0h1m8 0h1m14 0h1m1 0h1m27 0h1m13 0h1m-173 1h1m3 0h1m18 0h1m6 0h1m90 0h1m37 0h1m-163 1h1m12 0h1m5 0h1m21 0h1m91 0h1m25 0h1m-150 1h1m3 0h1m10 0h1m93 0h1m9 0h1m30 0h1m1 0h1m13 0h1m-168 1h1m23 0h1m51 0h1m47 0h1m24 0h1m4 0h1m10 0h1m-174 1h1m20 0h1m101 0h1m32 0h1m15 0h1m-62 1h1m19 0h1m-133 1h1m1 0h1m16 0h1m89 0h1m20 0h1m4 0h2m19 0h2m2 0h1m-153 1h1m8 0h1m103 0h1m10 0h1m26 0h1m-46 1h1m22 0h1m4 0h1m11 0h1m11 0h1m5 0h1m-156 1h1m101 0h1m12 0h1m31 0h1m4 0h1m-81 1h1m37 0h1m3 0h1m8 0h1m14 0h1m-150 1h1m18 0h1m35 0h1m57 0h1m9 0h1m14 0h1m7 0h1m-18 1h1m6 0h1m3 0h1m11 0h1m12 0h1m-123 1h1m71 0h1m10 0h1m24 0h1m1 0h1m1 0h1m4 0h1m-82 1h1m63 0h1m10 0h1m-33 1h1m1 0h1m2 0h1m1 0h1m5 0h1m2 0h1m-37 1h1m8 0h1m17 1h1m9 0h1m23 0h1m-171 1h1m124 0h1m13 0h1m4 0h2m-24 1h1m13 0h1m9 0h1m4 0h2m8 0h1m10 0h1m-40 1h1m13 0h1m8 0h1m-22 1h1m8 0h2m6 0h1m6 0h2m2 0h1m4 0h1m-111 1h1m87 0h1m4 0h1m4 0h1m1 0h1m2 0h1m3 0h1m-28 1h1m10 0h1m2 0h1m-19 1h1m7 0h1m-11 1h1m14 0h1m13 0h1m-20 1h1m3 0h1m1 0h1m4 0h1m5 0h1m-56 1h1m42 0h1m-18 1h1m11 0h1m18 0h1m-23 1h1m22 0h1m-19 1h1m13 0h1m-14 1h1m4 0h1m22 0h1m-40 1h1m27 0h1m5 0h1m-23 1h1m2 0h1m21 0h1m-24 1h1m18 0h1m2 0h1m-43 1h1m29 0h1m-19 1h1m20 0h1m4 0h1m-63 1h1m38 0h1m5 0h1m10 0h1m2 0h1m-34 1h1m20 0h1m2 0h1m4 0h1m14 0h1" stroke="#3a3a3a" stroke-width="1"/>
<path d="M435 316.5h1m-76 7h1m1 0h1m-4 1h1m1 0h1m67 0h1m-72 1h1m17 2h1m-18 1h1m15 0h1m-14 1h1m2 2h1m12 0h1m20 0h1m-34 1h1m2 0h1m7 0h1m1 0h1m-23 1h1m7 0h1m1 0h1m12 0h1m19 0h1m-37 1h1m3 0h1m2 0h1m27 0h1m-30 1h1m3 0h1m25 0h1m-49 1h1m45 0h1m1 0h1m-50 1h1m9 0h1m8 0h1m4 0h1m8 0h1m14 0h1m-38 1h1m13 0h1m6 1h1m26 0h1m3 0h1m-58 1h1m6 0h1m-11 1h1m3 0h2m3 0h1m18 0h1m16 0h1m4 0h1m-49 1h1m1 0h1m13 0h1m19 0h1m5 0h1m1 0h1m1 0h1m2 0h1m21 0h1m-71 1h1m1 0h1m8 0h2m56 0h1m-64 1h1m1 0h1m6 0h1m-8 2h1m1 0h1m2 0h2m6 0h1m2 0h1m-18 1h1m17 0h1m-30 1h1m4 0h1m22 0h1m42 0h1m-65 1h1m3 0h1m2 0h1m55 0h1m1 0h1m-69 1h1m4 0h1m8 0h1m23 0h1m-40 1h1m3 0h1m20 0h1m28 0h1m-54 1h1m9 0h1m35 0h1m7 0h1m-56 1h1m5 0h1m2 0h2m43 0h1m-41 1h1m4 0h1m1 0h1m14 0h1m-36 1h1m1 0h1m4 0h2m3 0h1m6 0h1m-19 1h1m4 0h1m-5 1h1m2 0h1m1 0h1m-11 1h1m6 0h1m1 0h1m1 0h1m5 0h1m69 0h1m-70 1h1m33 0h1m-43 1h1m5 0h2m39 0h1m-47 1h1m44 0h1m-48 1h1m1 0h1m10 0h2m-3 1h1m2 0h1m-14 1h1m1 0h1m-9 1h1m1 0h1m2 0h1m4 0h1m-10 1h1m7 0h1m56 0h1m-67 1h1m9 0h1m3 0h1m22 0h1m5 0h1m0 1h1m31 0h1m-77 1h1m1 0h1m11 0h1m43 0h1m-39 1h1m4 0h1m1 0h1m16 0h1m-39 1h1m2 0h1m8 0h1m2 0h1m1 0h1m2 0h1m20 0h1m7 0h1m-51 1h1m14 0h1m35 0h1m5 0h1m1 0h1m-70 1h1m5 0h1m2 0h1m2 0h1m28 0h1m24 0h1m1 0h1m1 0h1m-74 1h1m1 0h1m1 0h1m1 0h1m1 0h1m7 0h1m4 0h1m82 0h1m-91 1h2m1 0h1m5 0h1m1 0h1m51 0h1m-72 1h1m11 0h1m5 0h1m1 0h1m30 0h1m20 0h1m-80 1h1m4 0h1m2 0h1m10 0h1m41 0h1m-53 1h2m14 0h1m7 0h1m12 0h1m25 0h1m-67 1h1m15 0h1m9 0h1m11 0h1m2 0h1m55 0h1m-114 1h1m13 0h1m2 0h2m5 0h1m5 0h1m1 0h2m6 0h1m3 0h1m24 0h1m4 0h1m7 0h1m8 0h1m-87 1h1m6 0h1m11 0h1m2 0h1m1 0h1m5 0h1m5 0h1m31 0h1m7 0h1m21 0h1m-102 1h1m1 0h1m2 0h1m5 0h1m2 0h1m7 0h1m1 0h1m47 0h1m7 0h1m11 0h1m7 0h1m-98 1h1m6 0h1m2 0h1m7 0h1m10 0h1m3 0h1m26 0h1m7 0h1m10 0h1m9 0h1m-106 1h1m14 0h1m5 0h1m2 0h1m20 0h1m9 0h1m16 0h1m2 0h1m10 0h1m2 0h1m4 0h1m11 0h1m16 0h1m-123 1h1m11 0h1m30 0h1m26 0h1m54 0h1m3 0h1m2 0h1m-134 1h1m2 0h1m3 0h3m17 0h1m24 0h1m19 0h1m61 0h1m-125 1h1m5 0h1m21 0h1m12 0h1m3 0h1m11 0h1m20 0h1m41 0h1m-124 1h3m4 0h2m3 0h1m16 0h1m2 0h1m2 0h1m6 0h1m2 0h2m18 0h1m26 0h1m1 0h1m1 0h1m16 0h1m7 0h1m2 0h1m7 0h1m-134 1h1m1 0h1m7 0h1m17 0h1m6 0h1m29 0h1m26 0h1m1 0h1m16 0h1m1 0h1m2 0h2m1 0h1m3 0h1m-126 1h1m2 0h1m10 0h1m14 0h1m2 0h1m1 0h1m1 0h1m3 0h1m12 0h1m14 0h1m21 0h1m4 0h1m12 0h1m5 0h2m9 0h1m1 0h1m-132 1h1m2 0h1m8 0h1m20 0h1m3 0h1m7 0h1m1 0h1m5 0h1m2 0h1m58 0h1m14 0h1m3 0h1m-136 1h1m1 0h1m1 0h1m1 0h1m4 0h1m2 0h1m18 0h1m6 0h1m4 0h1m1 0h1m7 0h1m6 0h1m42 0h1m22 0h2m1 0h1m-131 1h1m1 0h1m5 0h2m1 0h1m2 0h1m2 0h1m18 0h1m7 0h1m2 0h1m5 0h1m6 0h1m41 0h1m17 0h1m-67 1h1m2 0h1m1 0h1m1 0h1m27 0h1m18 0h1m3 0h1m4 0h1m6 0h1m2 0h1m21 0h1m-156 1h1m24 0h1m4 0h1m3 0h1m10 0h1m50 0h1m11 0h1m18 0h1m1 0h1m13 0h1m-139 1h2m2 0h1m15 0h1m6 0h1m4 0h2m41 0h1m40 0h1m7 0h1m14 0h2m-146 1h1m3 0h1m2 0h1m19 0h1m24 0h1m15 0h1m5 0h1m27 0h1m16 0h1m-118 1h1m9 0h1m11 0h1m5 0h1m20 0h1m21 0h1m25 0h1m5 0h1m35 0h2m2 0h1m-141 1h1m2 0h1m13 0h1m9 0h1m2 0h1m62 0h1m1 0h1m-96 1h1m13 0h1m13 0h1m2 0h1m79 0h1m1 0h1m27 0h1m-142 1h2m1 0h1m6 0h2m13 0h1m1 0h1m2 0h1m-44 1h1m1 0h1m10 0h1m2 0h1m6 0h1m20 0h1m24 0h1m49 0h1m5 0h1m30 0h1m1 0h1m-149 1h1m6 0h1m1 0h1m2 0h2m3 0h1m42 0h2m50 0h1m1 0h1m1 0h1m28 0h1m1 0h1m-142 1h1m11 0h1m1 0h1m1 0h3m8 0h1m26 0h1m52 0h1m4 0h1m29 0h1m-149 1h1m1 0h3m1 0h1m11 0h1m3 0h1m2 0h1m1 0h1m4 0h1m1 0h1m26 0h1m54 0h1m30 0h1m1 0h1m-145 1h1m1 0h1m6 0h2m-18 1h2m3 0h1m8 0h1m6 0h1m1 0h1m68 0h1m15 0h1m1 0h1m12 0h1m25 0h1m-154 1h1m2 0h1m1 0h1m3 0h1m2 0h1m3 0h1m11 0h1m66 0h1m11 0h1m3 0h1m3 0h1m3 0h1m32 0h1m-149 1h1m8 0h1m1 0h1m2 0h1m5 0h1m5 0h1m83 0h1m7 0h1m-109 1h1m4 0h1m96 0h1m3 0h1m4 0h1m26 0h1m-135 1h1m16 0h1m83 0h1m34 0h1m-158 1h1m6 0h1m2 0h1m-10 1h1m12 0h1m1 0h1m4 0h1m1 0h1m128 0h1m1 0h1m1 0h1m1 0h1m-144 1h1m4 0h1m1 0h1m88 0h1m45 0h1m-147 1h1m3 1h1m1 0h1m-12 1h1m9 0h1m140 0h1m-32 1h1m29 0h1m-33 1h1m30 0h1m1 0h1m-33 1h1m30 0h1m1 0h1m-7 1h1m6 0h1m-33 1h1m1 0h2m22 0h1m-26 1h1m5 0h1m20 0h1m-22 1h1m19 0h1m-27 1h1m1 0h1m2 0h1m19 0h1m-3 1h1m-4 1h1m2 0h2m-5 1h1m4 0h1m-24 1h1m1 0h1m19 0h1m-24 1h1m24 0h1m-16 1h1m13 0h1m1 0h1m-23 1h1m6 0h1m2 0h1m-13 1h1m2 0h1m10 0h1m5 0h1m-22 1h1m1 0h1m2 0h1m1 0h2m11 0h1m-20 1h1m1 0h1m2 0h1m1 0h1m4 1h1m8 0h1m-11 1h1m6 0h1m2 0h1m-15 1h1m3 1h1m1 1h1m6 0h1m2 0h1m-8 1h1m5 0h1m-15 1h1m1 0h1m3 0h1m6 0h1m-13 1h1m0 1h1m-6 1h1m8 2h1m1 0h1m10 1h1m-21 1h1m10 1h1m-3 2h1m5 0h1m6 0h1m-7 1h1m2 0h1m3 0h1m-16 1h1m5 0h1m1 0h1m1 0h1m-12 1h1m12 1h1m-10 2h1" stroke="#666" stroke-width="1"/>
<path d="M369 298.5h1m53 6h1m-2 1h1m-40 2h1m0 1h1m4 0h1m-21 1h2m-2 2h2m4 0h1m-2 1h1m28 0h1m-41 1h2m8 0h3m28 0h1m18 0h1m-64 1h1m1 0h1m61 0h1m9 0h2m-76 1h1m2 0h2m7 0h4m1 0h2m52 0h2m1 0h1m-61 1h1m7 0h1m1 0h1m15 0h2m17 0h1m10 0h1m2 0h1m-63 1h3m8 0h1m1 0h1m14 0h1m4 0h1m13 0h1m12 0h2m1 0h1m-78 1h1m2 0h2m6 0h1m1 0h1m29 0h2m1 0h1m6 0h1m-53 1h2m8 0h1m1 0h3m27 0h1m-43 1h1m1 0h2m7 0h3m29 0h1m5 0h1m-48 1h1m1 0h1m9 0h1m10 0h1m1 0h1m20 0h1m1 0h1m-49 1h1m1 0h1m7 0h2m11 0h1m22 0h1m1 0h1m-52 1h2m18 0h1m85 0h2m-119 1h1m1 0h1m1 0h1m6 0h1m6 0h1m3 0h2m1 0h1m1 0h1m3 0h1m47 0h1m9 0h1m1 0h1m24 0h1m-116 1h2m1 0h1m9 0h1m2 0h1m1 0h1m1 0h1m2 0h2m1 0h1m17 0h1m23 0h1m8 0h1m1 0h1m1 0h1m1 0h1m4 0h1m26 0h3m-117 1h1m1 0h1m6 0h2m1 0h1m3 0h1m2 0h1m2 0h4m1 0h1m6 0h1m8 0h1m18 0h1m1 0h1m1 0h1m1 0h1m1 0h2m1 0h1m2 0h2m9 0h3m-91 1h3m7 0h1m3 0h3m3 0h1m1 0h2m3 0h1m7 0h2m17 0h1m6 0h1m1 0h1m1 0h1m4 0h1m1 0h1m1 0h1m-75 1h1m1 0h1m8 0h1m12 0h2m4 0h1m3 0h1m10 0h2m7 0h1m7 0h2m1 0h1m6 0h1m1 0h1m5 0h2m-82 1h1m1 0h1m10 0h2m1 0h1m4 0h1m7 0h1m5 0h2m10 0h3m12 0h1m1 0h2m7 0h2m10 0h2m-81 1h1m1 0h1m3 0h2m2 0h3m3 0h4m3 0h2m4 0h1m9 0h3m2 0h2m21 0h1m1 0h1m4 0h2m2 0h1m-79 1h1m1 0h4m1 0h4m2 0h1m5 0h1m2 0h1m4 0h1m1 0h1m3 0h1m1 0h1m4 0h5m3 0h1m5 0h1m1 0h2m6 0h1m3 0h1m9 0h3m-79 1h1m7 0h1m6 0h1m1 0h1m1 0h2m5 0h1m4 0h1m1 0h1m4 0h1m4 0h4m1 0h1m1 0h1m1 0h1m1 0h1m1 0h1m6 0h1m-63 1h1m2 0h2m1 0h1m7 0h2m2 0h1m1 0h1m1 0h1m5 0h1m16 0h1m1 0h1m1 0h1m1 0h1m1 0h1m1 0h1m-55 1h1m1 0h1m1 0h1m10 0h2m1 0h1m2 0h1m4 0h1m1 0h1m3 0h1m1 0h2m8 0h3m8 0h2m-64 1h2m7 0h1m4 0h1m4 0h1m5 0h1m3 0h2m2 0h1m1 0h1m1 0h1m1 0h2m2 0h1m4 0h1m5 0h2m16 0h2m4 0h1m-80 1h1m10 0h1m2 0h2m1 0h1m1 0h2m1 0h1m6 0h1m3 0h1m4 0h1m2 0h3m1 0h2m7 0h1m8 0h3m-65 1h1m2 0h1m3 0h2m4 0h4m5 0h1m1 0h1m4 0h2m1 0h1m2 0h2m1 0h2m6 0h1m7 0h2m3 0h1m1 0h1m3 0h3m4 0h2m10 0h1m-83 1h1m3 0h1m2 0h2m5 0h1m4 0h1m6 0h2m1 0h2m1 0h2m1 0h1m7 0h1m1 0h2m1 0h1m7 0h1m2 0h1m1 0h3m1 0h1m15 0h1m1 0h1m-80 1h1m2 0h2m1 0h1m2 0h2m2 0h1m1 0h1m5 0h1m1 0h2m4 0h1m1 0h1m4 0h3m1 0h1m1 0h2m8 0h1m2 0h2m3 0h1m17 0h1m-80 1h2m3 0h3m3 0h1m2 0h6m6 0h2m1 0h1m6 0h1m5 0h1m1 0h1m3 0h1m1 0h1m3 0h2m1 0h1m2 0h1m21 0h2m-79 1h2m3 0h2m2 0h2m3 0h1m9 0h1m6 0h1m1 0h2m2 0h1m3 0h2m8 0h1m1 0h2m6 0h1m3 0h1m-78 1h1m6 0h1m6 0h1m1 0h1m1 0h1m6 0h1m9 0h1m4 0h3m6 0h1m9 0h2m7 0h1m1 0h1m1 0h1m4 0h1m11 0h2m-90 1h1m4 0h2m6 0h1m1 0h1m2 0h1m6 0h1m15 0h2m1 0h1m2 0h1m2 0h1m1 0h1m1 0h2m1 0h1m11 0h1m4 0h2m3 0h1m-73 1h1m1 0h1m1 0h2m4 0h1m2 0h1m5 0h4m1 0h1m5 0h4m6 0h1m1 0h1m5 0h1m1 0h3m7 0h2m9 0h1m9 0h3m20 0h2m-128 1h1m20 0h3m3 0h2m3 0h5m1 0h4m2 0h1m1 0h1m1 0h2m1 0h1m9 0h1m2 0h1m24 0h2m11 0h1m1 0h1m-105 1h1m16 0h5m1 0h2m5 0h1m8 0h1m1 0h1m4 0h1m2 0h5m7 0h1m1 0h1m4 0h1m7 0h1m25 0h1m1 0h1m-89 1h1m4 0h3m1 0h2m12 0h1m2 0h1m2 0h2m3 0h1m1 0h3m11 0h1m1 0h2m6 0h1m10 0h2m1 0h1m-74 1h2m1 0h1m1 0h1m2 0h1m12 0h1m2 0h1m8 0h1m1 0h1m4 0h2m7 0h2m18 0h1m5 0h2m1 0h2m-79 1h1m1 0h1m1 0h1m2 0h1m8 0h2m4 0h1m4 0h2m1 0h1m4 0h2m1 0h1m1 0h1m1 0h1m9 0h1m1 0h1m9 0h1m4 0h1m4 0h1m1 0h2m1 0h1m2 0h1m33 0h2m-118 1h1m1 0h1m3 0h2m3 0h1m1 0h1m1 0h1m4 0h1m1 0h1m1 0h1m1 0h1m1 0h2m1 0h1m6 0h1m1 0h2m10 0h1m1 0h1m4 0h1m4 0h1m7 0h1m1 0h1m1 0h1m1 0h1m3 0h1m1 0h1m-94 1h1m8 0h1m1 0h1m3 0h1m4 0h1m1 0h1m1 0h2m1 0h1m2 0h1m1 0h2m6 0h1m1 0h1m1 0h1m2 0h2m1 0h2m5 0h1m1 0h1m1 0h3m2 0h1m2 0h1m12 0h1m1 0h2m5 0h1m1 0h1m10 0h1m-106 1h1m1 0h1m10 0h1m4 0h1m2 0h2m1 0h1m1 0h1m1 0h2m1 0h3m4 0h1m2 0h3m1 0h1m1 0h1m8 0h2m1 0h1m10 0h3m30 0h1m1 0h1m-106 1h1m1 0h1m10 0h1m15 0h1m3 0h2m1 0h2m1 0h2m7 0h1m2 0h1m5 0h1m1 0h2m1 0h1m4 0h1m1 0h1m3 0h1m9 0h1m12 0h1m7 0h1m-102 1h1m11 0h2m1 0h3m8 0h2m10 0h2m5 0h1m3 0h1m8 0h1m8 0h3m9 0h1m1 0h1m9 0h2m-92 1h1m8 0h1m6 0h1m7 0h1m1 0h3m4 0h1m3 0h1m9 0h1m7 0h1m2 0h3m3 0h3m11 0h1m1 0h1m10 0h1m-93 1h1m14 0h1m4 0h3m1 0h1m1 0h1m1 0h2m1 0h2m1 0h1m4 0h1m1 0h1m13 0h1m1 0h1m4 0h1m4 0h2m7 0h1m1 0h3m-73 1h1m1 0h1m5 0h1m4 0h3m2 0h1m1 0h1m1 0h1m9 0h1m1 0h1m4 0h1m2 0h1m1 0h2m1 0h2m3 0h3m12 0h1m1 0h2m2 0h1m10 0h2m3 0h1m-93 1h1m18 0h1m2 0h1m13 0h1m5 0h1m1 0h1m1 0h1m2 0h1m1 0h1m3 0h1m1 0h2m3 0h2m4 0h1m1 0h1m3 0h2m1 0h1m5 0h1m-85 1h1m1 0h1m5 0h4m1 0h1m1 0h6m22 0h1m1 0h1m2 0h3m1 0h1m2 0h1m3 0h2m1 0h1m5 0h1m1 0h2m4 0h1m1 0h3m2 0h1m1 0h1m2 0h2m3 0h2m-94 1h1m12 0h1m11 0h2m15 0h3m5 0h1m1 0h1m1 0h1m1 0h1m1 0h2m6 0h1m1 0h2m7 0h1m2 0h1m2 0h1m8 0h1m-100 1h1m11 0h5m6 0h1m2 0h1m1 0h2m1 0h2m1 0h1m12 0h4m1 0h1m4 0h1m1 0h1m1 0h2m9 0h1m1 0h2m9 0h1m1 0h1m12 0h2m-103 1h1m1 0h1m13 0h1m11 0h1m8 0h1m7 0h3m1 0h1m1 0h1m1 0h1m3 0h1m2 0h1m2 0h1m5 0h1m5 0h1m1 0h1m4 0h1m1 0h1m1 0h4m-90 1h2m7 0h1m3 0h4m1 0h2m1 0h1m1 0h2m1 0h1m5 0h1m11 0h1m2 0h1m10 0h3m2 0h1m13 0h1m1 0h2m1 0h1m1 0h1m2 0h1m-84 1h1m3 0h1m4 0h1m2 0h1m3 0h3m4 0h1m4 0h1m1 0h2m5 0h1m1 0h1m1 0h2m31 0h1m2 0h1m1 0h1m4 0h2m-86 1h1m8 0h1m1 0h1m2 0h1m1 0h1m4 0h1m5 0h1m1 0h2m6 0h1m1 0h1m1 0h1m28 0h1m4 0h4m1 0h1m-86 1h1m16 0h1m3 0h1m1 0h1m2 0h1m2 0h1m1 0h1m1 0h2m6 0h1m8 0h2m4 0h1m1 0h1m3 0h1m5 0h1m4 0h1m1 0h1m4 0h2m4 0h1m7 0h1m-95 1h1m1 0h1m17 0h3m1 0h3m12 0h2m1 0h1m7 0h1m3 0h1m1 0h1m1 0h1m4 0h1m3 0h1m1 0h1m3 0h1m1 0h1m7 0h2m1 0h1m6 0h1m1 0h1m-95 1h1m9 0h2m5 0h1m1 0h1m5 0h1m1 0h1m2 0h1m6 0h1m1 0h1m1 0h1m8 0h1m4 0h3m4 0h1m5 0h1m6 0h1m1 0h1m1 0h3m-71 1h2m8 0h1m1 0h1m1 0h1m3 0h1m8 0h1m1 0h4m9 0h3m2 0h1m1 0h1m2 0h1m5 0h2m11 0h1m2 0h1m1 0h1m6 0h1m-89 1h2m3 0h1m1 0h1m2 0h1m3 0h3m1 0h2m3 0h2m1 0h1m1 0h1m1 0h1m2 0h1m16 0h1m2 0h2m2 0h1m1 0h2m4 0h1m2 0h1m2 0h1m3 0h2m2 0h1m1 0h1m6 0h1m-88 1h1m9 0h4m3 0h1m3 0h1m3 0h2m19 0h1m3 0h3m1 0h2m4 0h1m2 0h1m3 0h3m1 0h1m1 0h1m1 0h2m2 0h1m20 0h1m-102 1h1m6 0h4m2 0h3m2 0h1m2 0h1m2 0h1m2 0h1m1 0h1m2 0h2m1 0h2m3 0h1m1 0h1m3 0h1m7 0h1m4 0h3m3 0h1m3 0h1m1 0h1m4 0h1m1 0h1m4 0h1m1 0h1m14 0h1m1 0h1m-107 1h1m4 0h2m1 0h1m6 0h1m7 0h2m2 0h2m2 0h1m1 0h1m1 0h1m1 0h1m6 0h1m1 0h1m2 0h1m7 0h1m1 0h1m4 0h3m5 0h1m9 0h1m4 0h1m1 0h1m3 0h3m9 0h1m4 0h1m1 0h1m-113 1h1m1 0h1m2 0h1m6 0h1m1 0h1m4 0h1m6 0h1m5 0h2m1 0h1m13 0h1m6 0h1m2 0h1m3 0h1m13 0h1m1 0h1m2 0h1m9 0h1m3 0h1m1 0h2m1 0h2m16 0h1m1 0h1m1 0h1m-119 1h1m1 0h2m1 0h3m5 0h3m5 0h2m1 0h1m5 0h1m9 0h1m4 0h2m1 0h7m1 0h1m1 0h1m2 0h4m10 0h2m10 0h4m1 0h1m2 0h1m18 0h1m1 0h1m1 0h1m-118 1h2m2 0h1m1 0h1m4 0h1m2 0h1m1 0h2m12 0h1m7 0h1m1 0h1m4 0h2m2 0h1m1 0h1m2 0h1m9 0h2m1 0h1m9 0h1m2 0h1m4 0h2m5 0h5m12 0h1m3 0h2m-120 1h3m1 0h1m2 0h2m3 0h1m3 0h4m5 0h1m1 0h1m1 0h1m2 0h1m1 0h1m8 0h2m4 0h2m1 0h2m3 0h2m8 0h3m2 0h1m2 0h1m1 0h1m1 0h1m2 0h3m1 0h1m1 0h2m1 0h1m11 0h2m10 0h1m-134 1h1m11 0h2m3 0h1m2 0h2m3 0h2m2 0h1m1 0h1m5 0h2m4 0h3m1 0h1m2 0h1m7 0h1m3 0h1m3 0h1m1 0h1m12 0h2m1 0h1m2 0h3m3 0h1m2 0h1m1 0h2m1 0h3m2 0h1m1 0h1m22 0h2m-132 1h1m15 0h3m1 0h6m3 0h2m6 0h2m7 0h1m2 0h3m1 0h1m3 0h1m3 0h1m1 0h1m1 0h1m5 0h1m5 0h1m1 0h1m1 0h3m1 0h1m1 0h1m1 0h1m1 0h1m3 0h2m1 0h1m3 0h1m1 0h1m7 0h1m18 0h1m-138 1h2m15 0h1m4 0h1m2 0h1m2 0h1m16 0h1m6 0h1m11 0h3m4 0h1m1 0h3m1 0h1m4 0h1m1 0h2m4 0h1m2 0h3m1 0h2m6 0h3m3 0h1m7 0h3m8 0h1m1 0h2m9 0h1m1 0h1m-127 1h1m5 0h1m2 0h1m2 0h2m6 0h1m8 0h1m14 0h2m6 0h1m1 0h1m3 0h1m1 0h1m2 0h1m1 0h1m1 0h1m1 0h3m5 0h1m10 0h1m1 0h3m5 0h3m2 0h1m9 0h1m10 0h1m1 0h1m-132 1h2m1 0h2m5 0h1m3 0h2m2 0h1m14 0h2m9 0h1m1 0h4m1 0h2m2 0h1m1 0h3m4 0h2m1 0h1m1 0h1m3 0h1m5 0h1m1 0h1m1 0h2m2 0h1m1 0h2m3 0h1m5 0h1m1 0h1m5 0h1m6 0h2m12 0h1m-125 1h1m4 0h1m4 0h1m12 0h1m5 0h2m8 0h1m1 0h1m1 0h1m1 0h1m4 0h4m1 0h1m2 0h2m1 0h2m4 0h1m1 0h1m1 0h1m2 0h3m1 0h2m4 0h1m4 0h1m5 0h2m1 0h4m1 0h1m5 0h1m-123 1h1m6 0h5m1 0h1m1 0h1m2 0h1m4 0h2m10 0h1m6 0h2m3 0h1m1 0h1m4 0h1m3 0h1m7 0h1m1 0h3m7 0h1m1 0h1m1 0h1m1 0h1m7 0h2m3 0h1m3 0h5m3 0h1m1 0h1m2 0h1m4 0h1m1 0h1m3 0h2m1 0h1m3 0h2m-131 1h1m1 0h2m2 0h1m2 0h1m2 0h1m27 0h2m2 0h1m6 0h2m1 0h1m10 0h1m1 0h1m3 0h1m2 0h1m2 0h3m1 0h3m1 0h2m5 0h2m7 0h4m1 0h1m1 0h3m5 0h1m1 0h2m3 0h1m2 0h1m6 0h1m1 0h1m-139 1h1m1 0h1m3 0h2m4 0h2m29 0h1m3 0h1m7 0h3m9 0h1m1 0h1m11 0h1m1 0h1m2 0h3m12 0h1m1 0h2m2 0h1m6 0h1m4 0h1m1 0h1m1 0h4m2 0h1m8 0h1m1 0h1m-155 1h1m15 0h1m1 0h1m1 0h1m6 0h1m4 0h1m29 0h2m8 0h1m4 0h2m1 0h1m3 0h1m1 0h1m1 0h2m3 0h2m1 0h2m2 0h1m8 0h3m4 0h2m1 0h3m7 0h1m6 0h1m1 0h1m2 0h2m1 0h1m3 0h1m1 0h4m1 0h2m-156 1h1m9 0h4m1 0h1m3 0h2m4 0h2m4 0h1m19 0h1m12 0h1m5 0h1m9 0h2m1 0h1m3 0h1m1 0h1m1 0h1m1 0h1m1 0h1m1 0h5m1 0h1m5 0h1m1 0h1m15 0h3m1 0h1m5 0h1m2 0h2m5 0h3m2 0h1m-142 1h1m1 0h3m2 0h1m5 0h2m5 0h1m17 0h1m2 0h2m2 0h1m2 0h1m4 0h2m1 0h4m4 0h4m3 0h1m5 0h1m6 0h1m1 0h2m2 0h2m4 0h1m1 0h2m7 0h1m1 0h1m3 0h2m1 0h1m16 0h2m1 0h1m4 0h1m2 0h1m-145 1h1m1 0h1m5 0h2m2 0h2m23 0h2m6 0h2m2 0h1m1 0h1m6 0h1m4 0h1m1 0h1m2 0h1m1 0h1m6 0h1m7 0h1m1 0h3m2 0h3m1 0h1m7 0h1m3 0h1m1 0h3m25 0h3m1 0h2m-143 1h1m2 0h2m6 0h1m1 0h1m24 0h1m2 0h1m2 0h2m11 0h1m4 0h1m1 0h1m1 0h2m1 0h1m4 0h1m1 0h1m1 0h1m6 0h1m8 0h2m1 0h1m2 0h1m1 0h2m2 0h3m2 0h3m4 0h1m5 0h1m14 0h1m-151 1h1m1 0h1m43 0h1m3 0h1m10 0h1m3 0h1m2 0h1m1 0h1m7 0h1m1 0h1m4 0h1m1 0h1m1 0h1m1 0h3m1 0h1m1 0h1m5 0h2m1 0h2m3 0h1m1 0h1m5 0h1m2 0h1m1 0h2m2 0h1m1 0h2m3 0h1m11 0h2m1 0h1m-156 1h2m3 0h1m1 0h1m3 0h1m1 0h1m8 0h1m5 0h1m21 0h2m6 0h2m10 0h1m5 0h1m3 0h4m1 0h2m1 0h1m1 0h1m1 0h1m2 0h1m4 0h1m1 0h1m4 0h1m2 0h1m5 0h1m1 0h2m1 0h1m3 0h1m1 0h2m2 0h1m1 0h1m3 0h1m1 0h1m10 0h2m1 0h2m-144 1h1m1 0h1m3 0h1m3 0h2m3 0h1m24 0h4m4 0h1m3 0h2m2 0h1m1 0h1m1 0h1m10 0h3m1 0h1m2 0h1m6 0h3m1 0h1m1 0h2m2 0h1m3 0h2m6 0h1m2 0h1m6 0h1m3 0h1m1 0h1m4 0h1m3 0h2m9 0h1m1 0h1m15 0h2m-175 1h3m14 0h2m3 0h2m11 0h1m16 0h3m1 0h2m1 0h1m3 0h2m1 0h1m1 0h1m5 0h2m3 0h2m1 0h2m2 0h4m1 0h1m10 0h1m4 0h1m2 0h2m1 0h7m3 0h2m1 0h1m1 0h2m2 0h2m4 0h1m6 0h1m11 0h1m3 0h1m2 0h1m2 0h1m1 0h1m-158 1h1m1 0h1m1 0h1m22 0h1m2 0h1m3 0h1m5 0h1m3 0h1m9 0h1m1 0h1m11 0h1m1 0h1m1 0h3m3 0h2m6 0h2m3 0h2m2 0h1m1 0h1m1 0h2m6 0h1m1 0h1m1 0h2m1 0h1m3 0h3m29 0h1m2 0h1m7 0h2m-176 1h2m5 0h1m1 0h1m5 0h1m1 0h1m6 0h3m15 0h4m1 0h1m5 0h3m1 0h1m2 0h1m1 0h2m9 0h1m1 0h1m4 0h1m5 0h1m3 0h1m4 0h1m21 0h2m1 0h3m3 0h1m9 0h2m21 0h3m1 0h1m1 0h2m1 0h1m-168 1h1m5 0h1m1 0h1m3 0h1m3 0h1m2 0h2m23 0h2m4 0h1m11 0h2m2 0h1m5 0h1m1 0h1m4 0h2m2 0h1m1 0h1m2 0h1m1 0h4m21 0h2m3 0h2m2 0h1m3 0h4m4 0h1m16 0h1m6 0h1m3 0h1m1 0h2m-168 1h1m8 0h1m1 0h2m6 0h2m17 0h2m7 0h1m2 0h3m11 0h3m1 0h1m3 0h2m3 0h2m2 0h1m1 0h1m1 0h1m1 0h1m1 0h1m19 0h1m4 0h1m1 0h1m2 0h2m2 0h1m11 0h1m23 0h3m3 0h1m5 0h1m1 0h1m-165 1h1m1 0h1m27 0h1m10 0h1m11 0h2m1 0h1m1 0h2m2 0h1m1 0h1m8 0h1m1 0h1m11 0h1m12 0h1m3 0h1m3 0h2m2 0h2m1 0h2m2 0h1m33 0h1m8 0h1m1 0h1m6 0h1m-170 1h1m2 0h2m31 0h1m3 0h2m8 0h1m1 0h1m1 0h1m1 0h1m3 0h1m1 0h1m6 0h2m7 0h1m5 0h1m14 0h3m10 0h1m2 0h1m1 0h1m1 0h1m28 0h1m2 0h1m18 0h1m-180 1h2m4 0h1m1 0h3m2 0h1m4 0h1m19 0h2m1 0h1m2 0h1m3 0h2m11 0h1m2 0h1m4 0h2m15 0h1m1 0h1m7 0h2m9 0h3m10 0h1m2 0h2m1 0h2m29 0h2m3 0h1m3 0h1m1 0h1m-170 1h1m1 0h2m4 0h1m2 0h1m10 0h1m16 0h1m4 0h5m2 0h1m8 0h3m9 0h1m3 0h1m12 0h1m6 0h1m1 0h1m1 0h1m1 0h1m8 0h2m1 0h1m3 0h2m1 0h1m2 0h2m3 0h1m1 0h1m31 0h2m2 0h1m1 0h1m-169 1h1m1 0h1m1 0h1m1 0h1m1 0h2m1 0h1m1 0h1m6 0h1m1 0h1m18 0h1m1 0h1m1 0h1m26 0h1m3 0h3m7 0h3m6 0h1m1 0h1m1 0h1m1 0h1m5 0h3m1 0h1m1 0h1m2 0h1m4 0h3m5 0h1m3 0h1m25 0h1m2 0h1m1 0h1m2 0h2m-159 1h1m1 0h1m8 0h1m11 0h1m8 0h2m31 0h2m2 0h1m8 0h2m6 0h2m1 0h2m9 0h3m4 0h2m2 0h1m1 0h2m1 0h1m3 0h1m28 0h1m4 0h1m-159 1h1m1 0h1m1 0h3m8 0h2m9 0h3m5 0h1m1 0h1m1 0h2m1 0h1m29 0h3m7 0h1m10 0h1m2 0h1m10 0h3m3 0h2m1 0h1m2 0h1m1 0h1m35 0h1m1 0h1m7 0h1m-167 1h1m1 0h1m8 0h3m7 0h1m1 0h1m5 0h1m4 0h1m5 0h3m39 0h1m10 0h3m11 0h1m3 0h1m2 0h1m3 0h1m1 0h1m34 0h1m10 0h1m-168 1h1m11 0h1m7 0h1m1 0h1m2 0h1m8 0h1m9 0h1m12 0h2m14 0h1m25 0h1m18 0h2m2 0h2m31 0h2m-157 1h1m8 0h1m1 0h1m1 0h1m8 0h1m1 0h1m5 0h1m3 0h4m4 0h1m1 0h1m27 0h1m25 0h2m4 0h1m1 0h3m4 0h1m1 0h1m3 0h1m2 0h2m33 0h1m6 0h1m1 0h1m-167 1h4m1 0h2m2 0h2m1 0h4m3 0h1m2 0h1m1 0h1m1 0h6m2 0h1m45 0h1m24 0h2m1 0h1m5 0h1m1 0h1m2 0h1m37 0h1m6 0h1m1 0h1m-168 1h1m1 0h2m1 0h2m2 0h1m1 0h1m1 0h1m4 0h1m3 0h1m1 0h3m3 0h1m5 0h2m78 0h1m3 0h1m6 0h2m29 0h2m6 0h1m-170 1h1m1 0h1m3 0h1m1 0h1m5 0h1m1 0h2m3 0h1m1 0h1m1 0h3m6 0h1m5 0h1m1 0h1m71 0h2m4 0h4m45 0h2m-171 1h1m1 0h1m3 0h2m1 0h1m2 0h1m1 0h3m3 0h1m1 0h1m5 0h2m11 0h1m70 0h2m2 0h1m7 0h2m1 0h1m30 0h1m3 0h1m-162 1h1m3 0h2m1 0h1m3 0h1m2 0h1m3 0h1m8 0h1m1 0h1m13 0h1m70 0h2m1 0h1m39 0h2m3 0h1m1 0h1m3 0h2m-171 1h1m5 0h2m4 0h1m3 0h3m1 0h4m1 0h3m16 0h1m67 0h2m3 0h1m4 0h1m1 0h1m2 0h2m32 0h2m1 0h1m-161 1h2m1 0h2m1 0h1m1 0h2m1 0h1m9 0h1m88 0h1m7 0h1m1 0h2m1 0h1m33 0h3m-159 1h2m4 0h1m2 0h1m107 0h2m2 0h1m1 0h1m32 0h1m2 0h1m-161 1h1m1 0h3m1 0h2m5 0h2m20 0h1m83 0h4m1 0h1m32 0h2m1 0h1m-153 1h1m10 0h2m97 0h4m2 0h1m33 0h2m-157 1h1m3 0h1m110 0h1m3 0h1m30 0h1m6 0h1m8 0h1m-166 1h1m113 0h1m1 0h2m2 0h1m28 0h2m1 0h1m3 0h1m6 0h1m1 0h1m-51 1h1m5 0h1m42 0h1m-175 1h3m128 0h1m21 0h1m33 0h1m-187 1h1m16 0h1m108 0h1m3 0h3m24 0h1m2 0h1m1 0h1m5 0h2m15 0h1m1 0h1m-171 1h1m107 0h1m1 0h1m2 0h1m28 0h2m9 0h1m15 0h1m-171 1h1m109 0h1m4 0h2m1 0h2m22 0h1m2 0h4m3 0h3m-41 1h1m1 0h1m1 0h1m23 0h2m4 0h1m-47 1h1m8 0h1m1 0h1m1 0h4m25 0h1m-34 1h1m1 0h1m1 0h1m20 0h3m2 0h1m-27 1h1m3 0h2m16 0h4m2 0h2m-29 1h1m2 0h1m8 0h1m6 0h2m2 0h1m-25 1h2m3 0h1m13 0h2m1 0h2m1 0h1m1 0h1m1 0h1m-33 1h1m1 0h2m1 0h1m3 0h1m14 0h1m4 0h1m-28 1h1m1 0h1m16 0h2m1 0h1m5 0h4m-32 1h1m1 0h1m5 0h1m6 0h2m2 0h2m-17 1h1m1 0h1m2 0h1m6 0h1m2 0h4m1 0h1m2 0h5m2 0h1m1 0h1m1 0h1m-30 1h1m14 0h1m2 0h2m5 0h1m1 0h2m1 0h1m-38 1h3m4 0h2m9 0h2m6 0h2m5 0h3m1 0h1m-38 1h1m5 0h1m1 0h1m6 0h3m9 0h2m1 0h1m4 0h1m-30 1h1m1 0h1m19 0h3m1 0h1m-26 1h2m2 0h1m2 0h1m11 0h2m2 0h2m1 0h1m-35 1h1m4 0h4m1 0h1m4 0h1m5 0h4m3 0h3m1 0h1m1 0h1m-35 1h1m7 0h3m4 0h2m1 0h1m2 0h1m1 0h1m2 0h2m5 0h2m-34 1h2m3 0h3m1 0h3m3 0h1m1 0h1m2 0h1m1 0h1m3 0h5m1 0h1m1 0h1m-23 1h1m1 0h1m1 0h1m2 0h3m1 0h4m4 0h2m1 0h3m-37 1h2m3 0h3m5 0h3m1 0h3m1 0h1m3 0h2m2 0h2m1 0h1m1 0h1m-20 1h1m5 0h1m1 0h3m3 0h2m1 0h1m2 0h2m-26 1h1m1 0h2m1 0h1m1 0h1m1 0h4m1 0h2m5 0h3m-26 1h1m9 0h2m2 0h2m2 0h3m4 0h3m-26 1h2m2 0h2m1 0h1m6 0h3m1 0h5m-25 1h3m1 0h2m2 0h1m3 0h3m1 0h1m2 0h2m1 0h1m1 0h2m1 0h1m-26 1h3m1 0h1m1 0h1m4 0h2m2 0h3m2 0h1m5 0h1m-25 1h1m2 0h1m2 0h2m1 0h1m-12 1h2m3 0h1m5 0h1m6 0h1m-14 1h1m6 0h3m-11 1h2m6 0h1m5 0h1m-15 1h1m1 0h1m1 0h2m1 0h2m4 0h1m-15 1h2m1 0h2m1 0h1m2 0h4m1 0h1" stroke="#aaa" stroke-width="1"/>
<path d="M107 579.5h1m-1 1h1m-7 4h1m39 0h2m-23 1h2m28 0h1m21 0h1m-50 1h1m5 0h1m3 0h1m5 0h2m9 0h1m-45 1h1m16 0h2m3 0h2m11 0h1m8 0h2m-37 1h1m3 0h2m3 0h1m6 0h1m-14 1h1m12 0h1m9 0h3m-29 1h1m2 0h1m40 0h2m-46 1h1m2 0h2m16 0h1m-33 1h2m9 0h3m1 0h1m13 0h1m1 0h2m28 0h2m-64 1h2m10 0h1m6 0h1m10 0h1m7 0h2m9 0h1m19 0h1m-70 1h1m12 0h1m4 0h1m1 0h2m1 0h1m44 0h3m-51 1h1m1 0h2m15 0h1m16 0h2m8 0h1m7 0h1m-60 1h5m5 0h2m11 0h2m10 0h3m16 0h2m1 0h1m1 0h1m-59 1h1m2 0h1m2 0h1m2 0h2m9 0h1m46 0h1m-84 1h2m9 0h2m1 0h1m1 0h2m2 0h1m5 0h3m7 0h1m25 0h1m20 0h1m-84 1h1m13 0h1m7 0h2m3 0h1m11 0h2m11 0h2m8 0h1m17 0h1m-83 1h2m20 0h2m2 0h1m1 0h2m26 0h1m6 0h2m-67 1h1m2 0h1m9 0h2m2 0h3m5 0h4m6 0h2m6 0h1m8 0h1m-53 1h1m20 0h2m10 0h2m3 0h1m4 0h3m1 0h1m3 0h1m4 0h1m6 0h1m3 0h1m3 0h1m15 0h1m-84 1h3m3 0h1m1 0h2m5 0h1m3 0h2m13 0h1m4 0h3m1 0h1m23 0h1m12 0h2m1 0h1m-84 1h1m5 0h2m2 0h1m1 0h1m1 0h4m2 0h1m2 0h1m2 0h1m1 0h1m5 0h2m1 0h1m2 0h1m22 0h1m2 0h3m-71 1h2m1 0h1m1 0h1m3 0h2m1 0h1m1 0h3m2 0h3m1 0h1m1 0h2m1 0h2m4 0h2m1 0h1m7 0h1m2 0h1m54 0h2m-104 1h3m1 0h1m2 0h1m3 0h2m1 0h2m3 0h1m3 0h4m2 0h1m4 0h1m2 0h1m5 0h7m-49 1h1m1 0h1m1 0h8m1 0h1m1 0h2m1 0h1m1 0h6m1 0h3m6 0h2m4 0h3m3 0h2m17 0h2m4 0h1m9 0h1m8 0h2m7 0h2m-110 1h1m2 0h1m5 0h2m4 0h2m8 0h1m1 0h1m1 0h1m1 0h2m1 0h6m2 0h1m3 0h2m4 0h2m3 0h1m15 0h1m3 0h1m2 0h1m12 0h1m-94 1h1m2 0h1m11 0h1m2 0h1m1 0h2m1 0h4m1 0h1m1 0h2m3 0h1m1 0h3m2 0h3m3 0h1m3 0h1m3 0h2m1 0h1m13 0h1m3 0h1m11 0h2m2 0h1m13 0h1m-96 1h1m1 0h1m3 0h1m2 0h4m2 0h3m1 0h1m1 0h2m3 0h1m5 0h1m4 0h4m6 0h1m1 0h1m11 0h1m2 0h2m1 0h1m4 0h4m1 0h1m3 0h1m-92 1h1m11 0h2m1 0h2m1 0h1m1 0h5m2 0h2m3 0h4m2 0h1m7 0h1m2 0h1m4 0h2m2 0h3m4 0h1m6 0h1m2 0h1m1 0h1m5 0h1m1 0h1m18 0h1m-106 1h2m10 0h1m2 0h2m1 0h1m2 0h3m1 0h4m3 0h2m1 0h5m5 0h1m1 0h1m1 0h1m3 0h4m2 0h1m2 0h2m2 0h1m6 0h3m25 0h1m3 0h1m-106 1h1m5 0h1m5 0h5m4 0h2m2 0h4m2 0h2m3 0h1m2 0h4m2 0h2m2 0h1m2 0h1m3 0h1m3 0h1m1 0h1m5 0h1m6 0h1m21 0h3m1 0h2m-96 1h1m1 0h1m2 0h2m4 0h1m1 0h10m1 0h1m2 0h3m1 0h2m8 0h1m1 0h1m1 0h1m1 0h4m4 0h1m5 0h1m2 0h4m5 0h1m4 0h2m6 0h3m2 0h1m-96 1h1m5 0h1m3 0h1m1 0h1m2 0h6m1 0h8m2 0h1m5 0h2m5 0h5m4 0h2m4 0h1m8 0h1m6 0h2m4 0h2m7 0h1m3 0h1m12 0h1m-109 1h1m5 0h2m3 0h3m4 0h1m1 0h1m2 0h5m1 0h1m3 0h2m1 0h3m2 0h2m1 0h1m1 0h1m4 0h1m4 0h1m4 0h1m5 0h2m5 0h4m2 0h2m1 0h2m8 0h1m7 0h2m5 0h1m-110 1h2m6 0h1m1 0h9m1 0h1m3 0h5m3 0h4m2 0h2m2 0h1m2 0h1m6 0h2m4 0h2m2 0h2m4 0h2m9 0h2m1 0h1m3 0h2m13 0h1m-100 1h1m6 0h4m3 0h7m1 0h5m1 0h2m2 0h1m1 0h8m2 0h1m13 0h1m6 0h2m9 0h2m4 0h1m2 0h1m2 0h1m13 0h2m-104 1h1m1 0h1m2 0h2m3 0h4m1 0h6m1 0h4m3 0h6m3 0h5m1 0h3m3 0h2m4 0h1m2 0h1m5 0h2m5 0h2m1 0h1m1 0h1m2 0h1m1 0h1m2 0h1m7 0h3m-103 1h4m2 0h2m1 0h1m1 0h1m4 0h1m2 0h13m1 0h1m1 0h3m1 0h2m4 0h1m1 0h1m4 0h3m1 0h4m2 0h3m1 0h3m4 0h1m2 0h3m2 0h2m1 0h1m2 0h1m6 0h4m2 0h3m4 0h1m11 0h2m-119 1h1m1 0h1m5 0h1m3 0h3m2 0h11m1 0h1m1 0h4m2 0h3m1 0h2m2 0h4m1 0h1m2 0h1m1 0h2m1 0h4m2 0h3m1 0h1m1 0h2m2 0h1m5 0h2m5 0h1m1 0h2m6 0h1m-96 1h1m6 0h1m1 0h1m1 0h2m1 0h12m2 0h3m2 0h1m6 0h2m1 0h2m1 0h1m1 0h2m1 0h2m1 0h1m3 0h2m7 0h1m4 0h1m1 0h2m9 0h2m5 0h2m1 0h1m16 0h1m-114 1h1m3 0h6m2 0h1m1 0h2m1 0h7m1 0h7m2 0h2m5 0h1m1 0h2m2 0h3m2 0h1m2 0h2m3 0h4m1 0h2m1 0h1m3 0h1m3 0h1m2 0h1m5 0h1m1 0h1m5 0h1m1 0h2m7 0h2m5 0h3m-114 1h3m6 0h1m2 0h1m1 0h7m2 0h11m6 0h2m2 0h1m4 0h1m1 0h6m2 0h3m1 0h2m4 0h3m1 0h1m3 0h1m2 0h1m1 0h1m2 0h1m4 0h2m4 0h1m8 0h1m5 0h1m2 0h1m-115 1h2m5 0h1m2 0h3m1 0h7m1 0h14m2 0h1m1 0h1m3 0h2m1 0h2m2 0h5m3 0h1m1 0h2m2 0h1m3 0h1m3 0h3m1 0h1m1 0h3m1 0h1m1 0h2m2 0h2m4 0h2m8 0h2m1 0h2m1 0h1m-111 1h2m4 0h5m1 0h17m1 0h9m2 0h2m1 0h1m2 0h2m1 0h1m2 0h3m4 0h1m4 0h1m3 0h1m2 0h1m2 0h1m2 0h2m2 0h1m2 0h1m1 0h1m1 0h1m1 0h1m2 0h2m2 0h1m4 0h2m-99 1h1m1 0h3m1 0h22m1 0h5m7 0h1m2 0h1m2 0h1m1 0h1m1 0h4m1 0h1m1 0h2m4 0h5m1 0h4m1 0h3m1 0h4m1 0h7m1 0h4m2 0h2m8 0h1m-118 1h1m5 0h4m1 0h23m2 0h5m4 0h1m2 0h1m1 0h2m1 0h4m1 0h1m1 0h1m3 0h2m1 0h4m1 0h4m1 0h1m3 0h3m1 0h1m7 0h1m3 0h3m2 0h1m2 0h1m1 0h2m5 0h1m3 0h2m-120 1h1m1 0h2m4 0h8m1 0h18m1 0h4m2 0h7m2 0h2m2 0h2m8 0h1m2 0h1m1 0h1m1 0h2m2 0h1m3 0h3m3 0h2m1 0h2m2 0h1m4 0h3m3 0h2m8 0h1m4 0h1m-118 1h1m4 0h1m1 0h25m1 0h7m3 0h4m1 0h3m3 0h1m6 0h1m1 0h1m4 0h1m2 0h1m1 0h3m2 0h3m1 0h2m1 0h1m1 0h2m1 0h4m3 0h2m3 0h1m2 0h3m-106 1h4m3 0h20m1 0h2m3 0h5m2 0h1m1 0h2m4 0h1m3 0h2m2 0h2m1 0h2m2 0h1m2 0h1m2 0h1m2 0h3m1 0h2m1 0h3m1 0h2m1 0h1m2 0h2m7 0h2m1 0h2m1 0h1m2 0h1m25 0h1m-127 1h23m1 0h1m2 0h4m2 0h1m2 0h1m1 0h3m11 0h1m3 0h2m1 0h1m5 0h4m3 0h1m5 0h3m1 0h2m6 0h2m4 0h1m3 0h1m11 0h1m13 0h1m-134 1h2m4 0h26m1 0h1m6 0h1m2 0h1m4 0h1m1 0h1m5 0h1m5 0h1m9 0h1m3 0h2m1 0h2m3 0h2m2 0h3m1 0h1m5 0h2m1 0h1m1 0h1m4 0h1m10 0h1m-115 1h26m2 0h2m3 0h1m3 0h4m3 0h5m1 0h1m1 0h1m2 0h1m11 0h3m1 0h1m1 0h2m4 0h5m2 0h1m6 0h1m2 0h1m1 0h1m4 0h1m1 0h1m2 0h1m-122 1h1m12 0h25m1 0h1m1 0h2m3 0h2m7 0h1m2 0h1m3 0h3m1 0h2m5 0h3m10 0h3m2 0h6m2 0h3m3 0h3m1 0h1m1 0h1m5 0h2m2 0h1m2 0h1m-125 1h1m8 0h2m1 0h29m2 0h2m1 0h1m3 0h1m2 0h1m1 0h3m16 0h2m9 0h5m2 0h1m2 0h1m5 0h1m10 0h4m4 0h1m-120 1h1m6 0h3m2 0h4m1 0h25m2 0h2m3 0h1m2 0h1m1 0h1m9 0h2m8 0h1m5 0h2m1 0h3m5 0h1m3 0h1m4 0h1m9 0h2m3 0h2m1 0h2m-120 1h1m12 0h23m1 0h4m2 0h1m7 0h3m3 0h1m4 0h1m1 0h1m2 0h1m3 0h1m8 0h2m1 0h1m1 0h4m2 0h1m2 0h3m1 0h2m2 0h3m4 0h4m10 0h1m-131 1h2m12 0h2m1 0h34m2 0h2m6 0h1m2 0h1m4 0h1m4 0h1m3 0h2m6 0h2m1 0h1m1 0h2m5 0h3m2 0h3m2 0h6m3 0h1m4 0h2m6 0h1m-117 1h3m1 0h34m2 0h1m6 0h2m2 0h2m6 0h2m7 0h2m1 0h2m8 0h2m1 0h2m3 0h3m1 0h3m8 0h2m12 0h1m4 0h2m-126 1h4m1 0h2m1 0h24m2 0h2m4 0h2m3 0h1m1 0h3m2 0h1m1 0h5m2 0h1m3 0h1m5 0h3m5 0h1m2 0h1m2 0h1m4 0h1m2 0h1m6 0h2m3 0h1m8 0h1m2 0h3m-124 1h4m2 0h28m1 0h1m1 0h2m6 0h1m1 0h2m3 0h1m3 0h1m3 0h1m8 0h1m6 0h2m2 0h1m7 0h2m3 0h1m3 0h1m2 0h1m1 0h1m1 0h3m2 0h1m4 0h2m2 0h1m3 0h1m-125 1h2m5 0h6m1 0h21m1 0h3m1 0h2m4 0h1m3 0h1m20 0h1m1 0h1m1 0h1m3 0h1m6 0h2m2 0h1m1 0h1m3 0h2m3 0h2m1 0h6m1 0h1m7 0h2m3 0h1m-124 1h1m1 0h1m1 0h4m1 0h32m4 0h1m18 0h1m7 0h1m2 0h1m1 0h2m4 0h1m5 0h1m1 0h1m4 0h3m1 0h3m2 0h1m4 0h1m1 0h1m1 0h2m5 0h1m-120 1h4m3 0h2m1 0h24m1 0h3m2 0h2m1 0h2m1 0h2m14 0h2m3 0h3m3 0h1m2 0h2m3 0h2m6 0h1m1 0h2m1 0h2m3 0h3m1 0h1m1 0h2m2 0h3m2 0h1m4 0h2m4 0h3m-129 1h1m2 0h1m2 0h3m5 0h1m1 0h18m1 0h2m1 0h1m1 0h4m1 0h1m2 0h1m15 0h1m4 0h2m3 0h2m16 0h3m9 0h1m1 0h1m3 0h3m1 0h2m2 0h2m1 0h1m12 0h1m-145 1h2m8 0h1m2 0h8m2 0h13m2 0h5m4 0h1m5 0h2m8 0h1m5 0h1m8 0h2m5 0h3m16 0h1m6 0h2m2 0h2m3 0h3m2 0h2m2 0h3m12 0h1m-145 1h2m7 0h3m1 0h30m3 0h3m5 0h1m8 0h1m5 0h1m14 0h1m5 0h2m17 0h1m1 0h2m4 0h6m2 0h5m2 0h2m3 0h1m-138 1h3m5 0h1m3 0h4m1 0h13m1 0h12m28 0h1m12 0h1m4 0h1m5 0h1m2 0h2m6 0h2m1 0h1m2 0h2m1 0h6m1 0h2m5 0h2m-131 1h2m6 0h3m4 0h1m1 0h27m1 0h1m1 0h1m20 0h1m2 0h3m8 0h1m12 0h1m9 0h2m3 0h2m1 0h1m1 0h6m1 0h3m1 0h1m-127 1h5m1 0h1m3 0h1m3 0h5m1 0h2m1 0h13m3 0h4m1 0h2m1 0h1m20 0h1m2 0h1m10 0h1m7 0h2m7 0h1m2 0h2m6 0h1m2 0h15m2 0h2m3 0h2m4 0h1m-141 1h2m1 0h1m1 0h3m1 0h1m3 0h12m1 0h5m3 0h2m1 0h3m1 0h5m1 0h2m14 0h2m5 0h1m10 0h1m16 0h1m2 0h1m1 0h1m1 0h3m1 0h2m1 0h1m1 0h3m1 0h10m1 0h2m4 0h1m1 0h1m2 0h1m-145 1h1m4 0h1m4 0h2m2 0h2m2 0h8m1 0h2m1 0h7m1 0h1m4 0h1m1 0h2m2 0h1m1 0h2m10 0h1m27 0h2m12 0h1m1 0h1m3 0h1m1 0h4m1 0h12m1 0h4m3 0h2m1 0h2m-137 1h1m1 0h1m3 0h2m1 0h1m2 0h4m2 0h3m1 0h2m1 0h1m1 0h3m1 0h1m1 0h1m3 0h1m1 0h1m6 0h1m10 0h1m6 0h2m14 0h1m4 0h1m4 0h1m9 0h2m2 0h2m1 0h3m1 0h15m7 0h5m-151 1h1m7 0h2m3 0h2m1 0h2m2 0h3m1 0h2m1 0h1m4 0h1m2 0h3m2 0h1m1 0h3m1 0h1m1 0h3m10 0h3m4 0h1m22 0h1m1 0h1m9 0h1m15 0h22m1 0h1m3 0h1m-147 1h2m12 0h3m3 0h3m1 0h2m1 0h1m3 0h9m3 0h3m4 0h1m17 0h1m22 0h1m13 0h3m2 0h3m6 0h22m1 0h1m1 0h2m2 0h1m2 0h1m-154 1h1m2 0h1m10 0h1m1 0h3m2 0h3m1 0h4m3 0h6m1 0h4m1 0h1m2 0h1m4 0h2m22 0h1m23 0h1m8 0h1m6 0h4m1 0h1m1 0h21m1 0h2m3 0h1m2 0h1m-154 1h1m2 0h2m2 0h1m1 0h2m5 0h2m1 0h4m1 0h5m3 0h6m1 0h3m6 0h1m3 0h3m21 0h1m32 0h1m4 0h2m2 0h1m2 0h23m4 0h1m1 0h1m-148 1h1m5 0h1m3 0h2m1 0h2m2 0h4m2 0h5m1 0h2m1 0h4m2 0h2m7 0h2m2 0h1m44 0h1m11 0h2m5 0h27m1 0h1m5 0h3m-155 1h1m2 0h1m5 0h2m2 0h3m2 0h1m4 0h8m1 0h1m2 0h1m15 0h1m11 0h1m35 0h1m1 0h1m3 0h1m6 0h1m6 0h30m4 0h1m3 0h1m-155 1h1m9 0h2m2 0h1m1 0h2m1 0h8m2 0h1m2 0h1m1 0h2m6 0h2m4 0h1m11 0h1m36 0h2m3 0h1m5 0h1m3 0h1m1 0h32m1 0h1m2 0h1m-146 1h4m3 0h4m1 0h13m4 0h1m11 0h2m20 0h2m4 0h2m3 0h1m28 0h1m6 0h1m1 0h33m2 0h1m4 0h1m-155 1h2m1 0h1m1 0h1m4 0h3m1 0h1m1 0h2m2 0h1m1 0h3m6 0h2m2 0h1m7 0h1m32 0h1m29 0h6m2 0h27m3 0h1m4 0h1m4 0h1m-147 1h4m2 0h1m1 0h2m3 0h5m8 0h1m15 0h1m33 0h1m25 0h1m3 0h28m1 0h2m2 0h1m1 0h1m-151 1h3m6 0h3m11 0h2m2 0h2m4 0h1m2 0h2m47 0h1m19 0h1m2 0h2m5 0h2m1 0h28m1 0h2m5 0h1m-162 1h1m2 0h1m6 0h1m4 0h6m1 0h2m3 0h1m7 0h1m4 0h2m2 0h1m47 0h1m19 0h1m3 0h1m4 0h27m1 0h4m1 0h1m6 0h1m-162 1h1m7 0h2m3 0h2m2 0h1m2 0h1m1 0h3m2 0h1m7 0h1m86 0h32m1 0h1m5 0h1m-162 1h1m12 0h4m1 0h9m92 0h2m1 0h28m2 0h1m2 0h2m-150 1h1m2 0h2m2 0h1m3 0h1m1 0h3m96 0h1m2 0h25m1 0h5m3 0h1m3 0h2m-155 1h1m8 0h4m7 0h1m73 0h2m4 0h2m9 0h2m2 0h29m5 0h1m-156 1h2m6 0h1m9 0h1m2 0h1m4 0h1m95 0h28m1 0h1m-141 1h2m7 0h2m100 0h28m1 0h1m2 0h1m-144 1h1m105 0h2m1 0h1m1 0h29m2 0h2m1 0h1m-42 1h3m1 0h1m2 0h28m3 0h1m2 0h2m-142 1h1m98 0h1m2 0h1m1 0h1m1 0h32m-138 1h1m4 0h1m93 0h2m1 0h1m1 0h4m1 0h27m1 0h1m1 0h2m-41 1h1m1 0h1m3 0h1m3 0h23m1 0h1m4 0h1m-40 1h1m4 0h28m2 0h3m-39 1h3m4 0h33m-36 1h2m2 0h2m1 0h26m1 0h1m-35 1h2m2 0h2m1 0h22m1 0h2m2 0h1m-34 1h1m1 0h3m2 0h21m1 0h1m-28 1h1m4 0h23m1 0h1m1 0h1m-29 1h2m1 0h17m1 0h1m1 0h4m2 0h2m-39 1h2m6 0h1m2 0h16m1 0h2m2 0h2m-32 1h1m8 0h1m1 0h8m1 0h7m3 0h4m-34 1h1m2 0h1m5 0h1m2 0h6m1 0h9m1 0h1m8 0h1m-36 1h2m1 0h1m3 0h7m1 0h2m2 0h5m1 0h2m1 0h1m6 0h2m-35 1h4m2 0h3m1 0h11m1 0h3m1 0h1m-25 1h1m1 0h1m1 0h3m1 0h1m1 0h2m2 0h3m1 0h1m1 0h2m1 0h4m-40 1h2m7 0h2m4 0h1m1 0h3m3 0h2m1 0h5m1 0h2m1 0h1m2 0h1m4 0h1m-27 1h2m4 0h1m5 0h7m5 0h3m-39 1h1m3 0h3m7 0h1m3 0h1m1 0h2m3 0h6m6 0h1m-34 1h1m8 0h4m3 0h1m4 0h4m6 0h1m-28 1h2m4 0h1m1 0h2m5 0h2m2 0h1m6 0h2m-22 1h1m4 0h1m2 0h2m10 0h1m-20 1h2m5 0h3m7 0h3m2 0h2m2 0h1m-26 1h2m4 0h1m2 0h2m3 0h2m1 0h2m6 0h1m-34 1h2m1 0h2m1 0h2m7 0h1m1 0h1m5 0h2m1 0h2m5 0h1m-36 1h2m3 0h1m7 0h3m1 0h1m1 0h1m6 0h2m-23 1h1m11 0h3m5 0h2m2 0h2m-22 1h1m1 0h1m3 0h1m2 0h2m2 0h2m2 0h2m-19 1h2m4 0h1m2 0h1m2 0h1m3 0h1m14 0h1m1 0h2m-31 1h1m4 0h1m2 0h3m2 0h2m2 0h1m9 0h1m-28 1h2m6 0h2m7 0h3m2 0h1m-29 1h1m7 0h1m1 0h2m2 0h2m3 0h1m8 0h2m-30 1h1m9 0h1m7 0h2m3 0h2m2 0h2m-28 1h2m14 0h3m2 0h1m-8 1h2m1 0h1m3 0h1m-7 1h1m1 0h1m1 0h2m-7 1h1m2 0h3m-6 1h3m-3 1h2m0 1h2m-2 1h1" stroke="#111" stroke-width="1"/>
<path d="M154 547.5h1m74 0h1m-2 2h1m-118 1h1m-9 1h1m70 0h1m-105 1h1m54 6h1m47 6h1m-41 1h1m10 0h1m38 0h1m-97 1h1m30 1h1m21 0h1m19 6h1m14 0h1m-78 1h1m1 0h1m36 0h1m52 0h1m-40 1h1m26 0h1m-111 1h1m33 0h1m1 0h1m9 0h1m3 0h1m-8 1h1m3 0h1m92 0h1m-87 1h1m9 0h1m30 0h1m-49 1h1m38 0h1m-27 1h1m17 0h1m4 0h1m-50 1h1m8 0h1m14 0h1m13 0h1m36 0h1m-82 1h1m12 0h1m17 0h1m39 0h1m16 0h1m2 0h1m-93 1h1m12 0h1m29 0h1m17 0h1m-35 1h1m5 0h1m-11 1h1m13 0h1m2 0h1m48 0h1m-68 1h1m38 0h1m12 0h1m-34 1h1m10 0h1m49 0h1m-107 1h1m19 0h1m5 0h1m34 0h1m2 0h1m38 0h1m-92 1h1m18 0h1m6 0h1m26 0h1m-60 1h1m57 0h1m14 0h1m56 0h1m-129 1h1m7 0h1m5 0h1m7 0h1m4 0h1m1 0h1m33 0h1m36 0h1m-76 1h1m2 0h1m21 0h1m8 0h1m29 0h1m5 0h1m10 0h1m-90 1h1m28 0h1m4 0h1m5 0h1m11 0h1m12 0h1m-82 1h1m12 0h1m8 0h1m8 0h1m16 0h1m5 0h1m21 0h1m-80 1h1m1 0h1m4 0h1m1 0h1m14 0h1m10 0h1m2 0h1m11 0h1m42 0h1m18 0h1m-110 1h1m13 0h1m19 0h1m28 0h1m3 0h1m2 0h1m11 0h1m8 0h1m43 0h1m-100 1h1m11 0h1m2 0h1m10 0h1m5 0h1m9 0h1m10 0h1m-79 1h1m15 0h1m21 0h1m2 0h1m5 0h1m2 0h1m1 0h1m6 0h1m6 0h1m2 0h1m24 0h1m-94 1h1m10 0h2m34 0h1m13 0h1m2 0h1m8 0h1m6 0h1m18 0h1m-116 1h1m9 0h1m18 0h2m12 0h1m4 0h1m3 0h1m21 0h1m4 0h1m10 0h1m4 0h1m21 0h1m-140 1h1m32 0h1m60 0h1m8 0h1m-105 1h1m34 0h1m6 0h1m24 0h1m18 0h1m4 0h1m35 0h1m4 0h1m-89 1h1m16 0h1m13 0h1m19 0h1m7 0h1m21 0h1m23 0h1m-125 1h1m12 0h1m4 0h1m5 0h1m7 0h1m27 0h1m19 0h1m8 0h1m2 0h1m5 0h1m-101 1h1m6 0h1m19 0h1m1 0h1m2 0h1m2 0h2m8 0h1m11 0h1m5 0h1m5 0h1m8 0h1m9 0h1m6 0h1m-87 1h1m16 0h1m1 0h1m5 0h1m3 0h1m5 0h1m1 0h1m11 0h1m1 0h1m15 0h1m8 0h1m35 0h1m-118 1h1m3 0h1m1 0h1m36 0h1m17 0h1m3 0h1m36 0h1m10 0h1m-126 1h1m13 0h1m21 0h1m1 0h1m12 0h2m3 0h1m14 0h1m4 0h1m13 0h1m2 0h1m17 0h1m-99 1h1m16 0h1m4 0h1m1 0h1m4 0h1m12 0h1m17 0h1m1 0h1m7 0h1m5 0h1m-89 1h1m2 0h1m9 0h1m6 0h1m6 0h1m4 0h1m4 0h1m6 0h1m3 0h1m13 0h1m26 0h1m21 0h1m-100 1h1m13 0h1m1 0h1m5 0h2m4 0h1m4 0h1m14 0h1m15 0h1m2 0h1m23 0h1m-99 1h1m10 0h1m4 0h1m3 0h1m6 0h1m35 0h1m19 0h1m12 0h1m18 0h1m-103 1h1m44 0h1m8 0h1m12 0h1m1 0h1m7 0h1m3 0h1m18 0h1m28 0h1m2 0h1m-141 1h1m3 0h1m12 0h1m12 0h1m11 0h1m4 0h1m13 0h1m1 0h1m12 0h1m3 0h1m7 0h1m17 0h1m4 0h1m-115 1h1m6 0h1m7 0h1m9 0h1m11 0h1m34 0h1m28 0h1m5 0h1m-110 1h1m15 0h1m3 0h1m1 0h1m5 0h1m9 0h1m49 0h1m15 0h1m38 0h1m-120 1h1m1 0h1m34 0h1m15 0h1m1 0h1m16 0h1m6 0h1m7 0h1m8 0h1m-124 1h1m13 0h1m6 0h1m1 0h1m16 0h2m1 0h1m15 0h1m7 0h1m42 0h1m20 0h1m-135 1h1m21 0h1m4 0h1m6 0h1m4 0h1m20 0h1m10 0h1m9 0h1m5 0h1m1 0h1m21 0h1m-108 1h1m16 0h1m25 0h2m3 0h1m1 0h1m12 0h1m10 0h1m10 0h1m29 0h1m-103 1h2m17 0h1m1 0h1m23 0h1m2 0h1m11 0h1m8 0h1m5 0h1m10 0h1m8 0h1m-122 1h1m20 0h1m3 0h1m3 0h1m15 0h2m17 0h1m1 0h1m9 0h1m23 0h1m12 0h1m3 0h1m2 0h1m5 0h1m7 0h1m23 0h1m-154 1h1m25 0h1m2 0h1m7 0h1m8 0h1m3 0h1m1 0h1m14 0h1m4 0h1m21 0h1m18 0h1m14 0h1m-105 1h1m1 0h1m8 0h1m11 0h1m13 0h1m16 0h1m6 0h1m6 0h1m1 0h1m19 0h1m16 0h1m15 0h1m-141 1h1m7 0h1m10 0h1m7 0h1m38 0h1m9 0h1m20 0h1m38 0h1m-119 1h1m17 0h1m21 0h2m14 0h1m12 0h1m5 0h1m1 0h1m16 0h1m18 0h1m-144 1h1m8 0h1m16 0h1m26 0h1m8 0h1m4 0h1m2 0h1m9 0h1m13 0h1m4 0h1m27 0h1m3 0h1m5 0h1m4 0h1m-117 1h1m35 0h2m18 0h1m9 0h1m3 0h1m3 0h1m11 0h1m7 0h1m5 0h1m-121 1h1m16 0h1m8 0h1m18 0h1m26 0h1m6 0h1m7 0h2m6 0h1m6 0h1m4 0h1m19 0h1m9 0h1m-139 1h1m18 0h1m25 0h1m51 0h1m4 0h1m29 0h1m11 0h1m5 0h1m-142 1h1m49 0h1m2 0h1m27 0h1m9 0h1m2 0h1m5 0h1m8 0h1m-115 1h1m7 0h1m6 0h1m25 0h1m2 0h1m8 0h1m5 0h2m10 0h3m13 0h1m3 0h1m3 0h1m3 0h1m21 0h1m2 0h1m-122 1h1m5 0h1m4 0h1m30 0h1m1 0h1m30 0h1m2 0h1m15 0h2m8 0h1m26 0h1m-147 1h1m61 0h1m16 0h1m2 0h1m20 0h1m1 0h2m8 0h1m12 0h1m-106 1h1m48 0h1m20 0h1m4 0h1m1 0h1m40 0h1m1 0h1m-125 1h1m6 0h1m30 0h1m5 0h1m35 0h1m9 0h1m3 0h1m-100 1h1m6 0h1m10 0h1m29 0h1m6 0h1m1 0h1m2 0h1m9 0h1m7 0h1m28 0h1m1 0h1m17 0h1m4 0h1m-127 1h1m2 0h1m28 0h1m4 0h2m2 0h1m8 0h2m4 0h1m2 0h1m5 0h1m12 0h1m1 0h1m12 0h1m16 0h1m1 0h1m3 0h1m6 0h1m13 0h1m-98 1h1m32 0h1m5 0h1m11 0h1m4 0h1m10 0h1m16 0h1m11 0h1m-144 1h1m2 0h1m5 0h1m3 0h1m39 0h1m18 0h1m7 0h1m5 0h1m26 0h1m27 0h1m-143 1h1m4 0h1m8 0h1m2 0h1m24 0h2m19 0h1m13 0h1m20 0h1m8 0h1m8 0h1m5 0h1m8 0h1m11 0h1m-153 1h1m5 0h1m13 0h1m28 0h1m1 0h1m6 0h1m17 0h1m12 0h1m28 0h1m7 0h1m-79 1h1m3 0h1m13 0h1m9 0h1m27 0h1m2 0h1m15 0h1m16 0h1m4 0h1m-136 1h1m6 0h1m50 0h1m1 0h1m4 0h1m46 0h1m24 0h1m3 0h1m11 0h1m-162 1h1m17 0h1m4 0h1m24 0h1m7 0h1m10 0h1m3 0h1m21 0h1m13 0h1m19 0h1m2 0h1m-114 1h1m4 0h1m3 0h1m1 0h1m21 0h1m6 0h1m6 0h1m5 0h1m19 0h1m9 0h1m9 0h1m3 0h1m3 0h1m1 0h1m8 0h1m3 0h1m2 0h1m7 0h1m-136 1h1m1 0h1m13 0h1m13 0h2m8 0h1m1 0h2m15 0h1m28 0h1m13 0h1m9 0h1m8 0h2m9 0h1m-134 1h1m6 0h1m61 0h1m2 0h1m2 0h1m12 0h1m6 0h1m9 0h1m3 0h1m15 0h1m12 0h1m-157 1h1m21 0h1m1 0h1m4 0h1m13 0h1m16 0h1m3 0h1m14 0h1m25 0h1m9 0h1m1 0h1m3 0h1m2 0h1m9 0h1m19 0h1m14 0h1m-152 1h1m8 0h1m1 0h1m33 0h1m25 0h1m1 0h1m9 0h1m19 0h1m3 0h1m1 0h1m6 0h1m3 0h1m12 0h1m7 0h1m5 0h1m-157 1h1m11 0h2m9 0h1m2 0h1m20 0h1m2 0h1m33 0h1m30 0h1m-86 1h1m5 0h1m1 0h1m6 0h1m5 0h1m4 0h1m16 0h1m25 0h1m7 0h1m8 0h1m1 0h1m3 0h1m10 0h1m3 0h1m-152 1h1m8 0h1m31 0h1m2 0h1m7 0h1m1 0h2m16 0h1m31 0h1m10 0h1m9 0h1m6 0h1m12 0h1m9 0h1m9 0h1m-154 1h1m2 0h1m2 0h1m10 0h1m8 0h1m3 0h1m2 0h1m1 0h1m3 0h1m1 0h1m3 0h1m16 0h1m6 0h1m21 0h1m4 0h1m7 0h1m10 0h1m3 0h1m15 0h1m1 0h1m2 0h1m-150 1h1m6 0h1m8 0h1m3 0h1m3 0h1m6 0h1m6 0h2m6 0h1m3 0h1m8 0h1m1 0h1m19 0h1m5 0h1m16 0h1m16 0h1m35 0h1m-165 1h1m3 0h1m10 0h1m19 0h1m2 0h1m13 0h1m11 0h1m30 0h1m1 0h1m1 0h1m53 0h1m-146 1h1m25 0h1m34 0h1m2 0h1m16 0h1m14 0h1m49 0h1m2 0h1m7 0h1m6 0h1m-149 1h1m3 0h1m4 0h1m14 0h1m6 0h1m1 0h1m9 0h1m39 0h1m7 0h1m1 0h1m11 0h2m36 0h1m-148 1h1m4 0h1m8 0h1m9 0h1m12 0h1m17 0h1m6 0h1m7 0h1m2 0h1m3 0h1m3 0h1m-70 1h1m16 0h1m9 0h1m6 0h1m19 0h1m4 0h1m21 0h1m6 0h2m6 0h1m-126 1h1m2 0h1m18 0h1m2 0h1m11 0h1m17 0h1m34 0h1m23 0h1m-119 1h1m8 0h1m2 0h1m12 0h1m4 0h1m74 0h1m24 0h1m-123 1h1m15 0h2m6 0h1m5 0h1m3 0h1m1 0h1m9 0h1m19 0h1m21 0h1m3 0h1m57 0h1m1 0h1m-146 1h1m1 0h1m14 0h1m12 0h1m1 0h1m4 0h1m59 0h1m9 0h1m6 0h2m28 0h1m-140 1h1m2 0h1m22 0h1m9 0h1m21 0h1m4 0h1m9 0h1m10 0h1m10 0h1m12 0h1m1 0h1m2 0h1m-131 1h1m10 0h1m2 0h1m21 0h1m2 0h2m83 0h1m37 0h1m-146 1h1m3 0h2m1 0h1m94 0h1m1 0h1m41 0h1m-156 1h1m25 0h1m4 0h1m2 0h1m3 0h1m4 0h1m28 0h1m10 0h1m30 0h1m4 0h1m28 0h1m-132 1h1m3 0h1m24 0h1m19 0h1m36 0h1m14 0h1m26 0h1m22 0h1m-173 1h1m13 0h1m16 0h1m10 0h1m4 0h1m19 0h1m88 0h1m4 0h1m3 0h1m-165 1h1m5 0h1m24 0h1m1 0h1m3 0h1m5 0h1m5 0h1m47 0h1m54 0h1m-126 1h1m1 0h1m2 0h1m3 0h1m23 0h1m2 0h1m45 0h1m42 0h1m8 0h1m22 0h1m-183 1h1m8 0h1m4 0h1m24 0h1m74 0h1m-125 1h1m11 0h1m17 0h1m3 0h1m10 0h1m16 0h1m-30 1h1m4 0h1m87 0h1m4 0h1m37 0h1m-163 1h1m10 0h1m2 0h1m6 0h1m7 0h1m63 0h1m20 0h1m40 0h1m10 0h1m-154 1h1m68 0h1m32 0h1m10 0h1m25 0h1m1 0h1m-154 1h1m5 0h1m20 0h1m3 0h1m17 0h1m29 0h1m17 0h1m19 0h1m41 0h1m4 1h1m17 0h1m-180 1h1m3 0h1m103 0h1m3 0h1m38 0h1m-158 1h1m12 0h1m98 0h1m9 0h1m4 0h1m-87 1h1m46 0h1m18 0h1m45 0h1m5 0h1m-150 1h1m3 0h1m96 0h1m10 0h1m43 0h1m-59 1h1m7 0h1m8 0h1m2 0h1m3 0h1m17 0h1m1 0h1m9 0h1m-132 1h1m19 0h1m67 0h1m6 0h1m22 0h1m6 0h1m7 0h1m-37 1h1m5 0h1m16 0h2m15 0h1m-38 1h1m3 0h1m6 0h1m16 0h1m-35 1h1m3 0h1m1 0h1m9 0h1m3 0h1m5 0h1m6 0h1m-38 1h1m11 0h1m4 0h1m11 0h1m3 0h1m4 0h1m4 0h1m-50 1h1m10 0h1m5 0h1m1 0h1m5 0h1m3 0h1m3 0h1m1 0h1m2 0h1m-20 1h1m14 0h1m2 0h1m2 0h1m4 0h1m-35 1h1m4 0h1m13 0h1m9 0h1m23 0h1m-82 1h1m14 0h1m11 0h1m-107 1h1m35 0h1m77 0h1m11 0h1m8 0h1m1 0h1m-12 1h1m5 0h1m9 0h1m5 0h1m-39 1h1m5 0h1m11 0h2m2 0h1m-29 1h1m7 0h1m9 0h1m-6 1h1m1 0h1m16 0h1m14 0h1m-114 1h1m61 0h1m30 0h1m5 0h1m-78 1h1m33 0h1m33 0h1m13 0h1m-31 1h1m24 0h1m-67 1h1m38 0h1m9 0h1m6 0h1m-17 1h1m24 0h1m2 0h1m-19 1h1m-8 1h1m23 0h1m-30 1h1m12 0h3m24 0h1m1 0h1m-68 1h1m38 0h1m-114 1h1m110 0h1m4 0h1m3 0h1m-16 1h1m1 0h1m4 0h1m4 0h1m6 0h1m10 0h1m-45 1h1m22 0h1m18 0h1m-16 1h1m1 0h1m8 0h1m1 0h1m-26 1h1m5 0h1m3 1h1m10 0h1m-65 1h1m42 0h1m4 0h1m6 0h1m0 1h1m1 0h1m-4 1h1m11 0h1" stroke="#3a3a3a" stroke-width="1"/>
<path d="M133 585.5h1m-2 1h1m8 0h1m-2 1h1m-25 1h1m1 0h1m22 0h1m-27 1h1m39 0h1m-29 2h1m-25 1h1m14 0h1m2 1h1m29 0h1m-48 1h1m10 0h1m1 0h1m2 0h1m4 0h1m-26 1h1m15 0h1m5 0h1m1 0h1m45 0h1m-48 1h1m1 0h1m43 0h1m4 0h1m1 0h1m-57 1h1m2 0h1m6 0h1m32 0h1m13 0h1m-56 1h1m2 0h1m2 0h1m33 0h1m1 0h1m-38 1h1m1 0h1m27 0h1m26 0h1m1 0h1m-70 1h1m24 0h1m13 0h1m-56 1h1m21 0h1m4 0h1m14 0h1m6 0h1m-33 1h1m8 0h1m6 0h1m6 0h1m9 0h1m11 0h1m1 0h1m-56 1h1m8 0h1m20 0h1m25 0h1m2 0h1m-68 1h1m1 0h1m19 0h1m7 0h1m6 0h1m1 0h2m1 0h1m20 0h1m-57 1h1m4 0h1m3 0h1m18 0h1m2 0h1m25 0h1m-57 1h1m4 0h1m2 0h1m1 0h1m8 0h1m2 0h1m2 0h1m16 0h1m-51 1h1m14 0h1m11 0h1m8 0h1m2 0h1m6 0h1m-36 1h1m2 0h1m3 0h1m1 0h1m6 0h1m22 0h1m24 0h1m8 0h1m-85 1h1m5 0h1m3 0h1m2 0h1m16 0h1m39 0h1m5 0h1m-78 1h1m5 0h1m3 0h1m1 0h1m8 0h1m5 0h1m2 0h1m3 0h1m8 0h1m7 0h1m3 0h1m27 0h1m1 0h1m-79 1h2m2 0h1m33 0h1m1 0h1m2 0h1m7 0h1m9 0h1m2 0h1m9 0h1m-72 1h1m4 0h1m14 0h1m11 0h1m5 0h1m8 0h1m-55 1h1m3 0h1m8 0h1m2 0h2m8 0h1m1 0h1m1 0h2m5 0h1m3 0h1m1 0h1m6 0h1m1 0h1m1 0h1m1 0h1m7 0h2m1 0h1m3 0h1m1 0h1m5 0h1m-79 1h1m5 0h2m14 0h1m6 0h1m3 0h1m3 0h1m5 0h1m6 0h1m11 0h1m8 0h1m7 0h1m-81 1h1m8 0h1m23 0h1m18 0h1m2 0h1m1 0h1m13 0h1m5 0h1m8 0h1m1 0h1m3 0h1m-82 1h1m1 0h1m1 0h1m8 0h1m16 0h1m6 0h1m2 0h1m1 0h1m2 0h1m36 0h1m2 0h1m-93 1h1m19 0h1m1 0h1m4 0h2m5 0h1m13 0h1m2 0h1m6 0h1m10 0h1m2 0h1m8 0h1m11 0h1m-95 1h1m5 0h1m8 0h1m5 0h1m18 0h1m3 0h2m4 0h1m2 0h1m7 0h1m7 0h1m4 0h1m3 0h1m4 0h1m9 0h1m-96 1h1m2 0h1m20 0h1m6 0h1m1 0h1m11 0h1m2 0h1m16 0h1m11 0h1m6 0h1m1 0h1m9 0h1m-98 1h1m1 0h1m4 0h1m14 0h1m1 0h1m3 0h1m12 0h1m3 0h1m4 0h1m14 0h1m4 0h1m11 0h1m5 0h2m6 0h1m-104 1h1m5 0h1m3 0h1m23 0h1m4 0h1m2 0h1m7 0h1m15 0h1m7 0h3m1 0h1m2 0h1m5 0h1m5 0h1m3 0h1m1 0h1m4 0h1m-96 1h1m4 0h1m39 0h1m1 0h1m4 0h1m3 0h3m1 0h1m4 0h1m2 0h1m1 0h1m-79 1h1m30 0h1m7 0h1m1 0h1m2 0h1m7 0h1m10 0h1m2 0h1m3 0h1m1 0h1m1 0h1m4 0h1m1 0h1m3 0h1m4 0h1m2 0h1m19 0h1m-107 1h1m1 0h1m10 0h1m13 0h1m11 0h1m14 0h1m29 0h1m2 0h1m17 0h1m1 0h1m-107 1h1m26 0h1m2 0h1m9 0h1m6 0h1m7 0h1m1 0h1m5 0h1m3 0h1m1 0h1m3 0h1m5 0h1m-49 1h1m3 0h1m2 0h1m2 0h1m9 0h1m1 0h1m2 0h1m3 0h1m1 0h2m1 0h2m1 0h2m3 0h1m8 0h1m1 0h1m3 0h1m2 0h1m-96 1h1m6 0h1m30 0h1m6 0h1m2 0h1m1 0h1m8 0h1m2 0h2m1 0h1m19 0h1m12 0h2m9 0h1m1 0h1m-85 1h2m5 0h1m10 0h1m4 0h1m1 0h1m3 0h1m7 0h1m6 0h1m7 0h1m7 0h1m5 0h1m5 0h1m10 0h1m-78 1h1m9 0h1m3 0h1m9 0h1m2 0h1m3 0h1m2 0h2m3 0h1m14 0h1m13 0h1m9 0h1m-75 1h1m4 0h1m5 0h1m8 0h1m4 0h1m1 0h1m6 0h1m4 0h1m4 0h1m9 0h1m6 0h1m-98 1h1m1 0h1m20 0h1m3 0h2m8 0h1m16 0h1m2 0h1m2 0h1m13 0h1m8 0h1m3 0h1m8 0h1m4 0h1m-106 1h1m2 0h1m2 0h1m37 0h1m11 0h1m14 0h1m27 0h1m-68 1h1m5 0h1m5 0h1m2 0h1m1 0h1m1 0h1m3 0h1m1 0h1m2 0h2m1 0h1m9 0h3m2 0h1m12 0h1m5 0h1m-67 1h2m4 0h1m16 0h1m3 0h1m2 0h1m5 0h1m7 0h1m1 0h1m11 0h1m9 0h1m9 0h1m-108 1h1m1 0h1m25 0h1m1 0h1m2 0h1m12 0h1m2 0h1m5 0h1m2 0h1m20 0h2m34 0h1m-118 1h1m32 0h1m3 0h1m1 0h1m10 0h1m7 0h1m24 0h1m4 0h1m9 0h1m4 0h1m5 0h1m-118 1h1m6 0h1m3 0h2m30 0h2m12 0h1m29 0h1m7 0h1m1 0h1m15 0h1m1 0h1m2 0h1m2 0h1m-113 1h1m3 0h1m31 0h1m16 0h1m3 0h1m2 0h1m10 0h1m12 0h1m8 0h1m3 0h1m9 0h1m3 0h1m-114 1h1m2 0h1m45 0h1m2 0h1m11 0h1m7 0h1m2 0h1m6 0h1m23 0h1m-67 1h1m4 0h1m5 0h1m2 0h1m10 0h1m10 0h1m2 0h1m13 0h1m3 0h1m2 0h1m-102 1h1m44 0h1m1 0h1m23 0h1m18 0h1m1 0h2m3 0h1m-102 1h1m4 0h1m34 0h1m4 0h1m4 0h1m1 0h1m7 0h1m13 0h1m4 0h1m11 0h1m1 0h1m1 0h1m4 0h1m1 0h1m5 0h1m-97 1h1m35 0h1m12 0h1m11 0h1m1 0h1m18 0h1m7 0h1m-95 1h1m37 0h1m2 0h1m5 0h1m14 0h1m3 0h1m28 0h1m3 0h1m3 0h1m1 0h1m2 0h1m-109 1h1m31 0h1m36 0h1m4 0h1m9 0h1m5 0h1m1 0h1m3 0h1m1 0h1m10 0h1m1 0h2m-118 1h1m2 0h1m28 0h1m4 0h1m28 0h1m7 0h1m40 0h1m-119 1h1m1 0h1m68 0h1m3 0h1m24 0h2m3 0h1m2 0h1m1 0h1m3 0h1m9 0h1m3 0h1m-130 1h1m34 0h1m45 0h1m2 0h1m15 0h1m4 0h1m1 0h2m6 0h1m14 0h1m-129 1h1m35 0h1m41 0h1m1 0h1m14 0h1m4 0h1m3 0h1m9 0h1m1 0h1m1 0h1m-127 1h1m4 0h1m5 0h1m30 0h1m44 0h1m17 0h1m1 0h1m17 0h1m2 0h1m-126 1h1m1 0h1m28 0h1m1 0h1m33 0h1m31 0h1m7 0h1m15 0h1m-132 1h1m5 0h1m33 0h1m67 0h1m29 0h1m-140 1h1m1 0h1m10 0h2m28 0h1m1 0h1m3 0h1m1 0h1m55 0h1m5 0h1m22 0h1m-135 1h2m4 0h1m1 0h1m1 0h1m5 0h1m4 0h1m21 0h1m4 0h1m42 0h1m40 0h1m4 0h1m-145 1h1m8 0h1m12 0h1m4 0h1m2 0h1m109 0h1m3 0h1m-144 1h1m16 0h1m10 0h1m11 0h1m6 0h1m1 0h1m40 0h1m50 0h1m2 0h1m-150 1h1m15 0h1m22 0h1m4 0h1m1 0h2m1 0h1m5 0h1m38 0h1m14 0h1m11 0h1m1 0h1m-115 1h1m22 0h1m10 0h1m1 0h1m72 0h1m26 0h1m1 0h1m2 0h1m-150 1h1m17 0h1m6 0h1m5 0h1m7 0h2m7 0h1m96 0h1m2 0h1m8 0h1m-141 1h1m18 0h1m1 0h1m11 0h1m49 0h1m-80 1h1m9 0h1m17 0h1m66 0h1m32 0h1m2 0h1m-140 1h1m24 0h1m2 0h1m73 0h1m1 0h1m35 0h1m-146 1h1m1 0h1m4 0h1m3 0h1m4 0h1m15 0h1m1 0h1m7 0h1m60 0h1m6 0h1m32 0h1m-139 1h1m10 0h1m1 0h1m5 0h2m1 0h1m6 0h1m74 0h1m33 0h1m-151 1h1m6 0h1m4 0h1m3 0h1m2 0h1m1 0h2m3 0h1m2 0h2m2 0h1m4 0h1m76 0h1m34 0h1m-152 1h1m1 0h1m4 0h1m1 0h1m2 0h1m16 0h1m83 0h1m1 0h1m30 0h1m4 0h1m1 0h1m-153 1h1m6 0h1m8 0h1m1 0h1m94 0h1m37 0h1m1 0h1m-140 1h1m9 0h1m123 0h1m-136 1h2m100 0h1m2 0h1m-102 1h1m131 0h1m-122 1h1m90 0h1m-96 1h1m94 0h1m-3 1h1m1 0h1m29 0h1m-34 1h1m1 0h1m29 0h1m1 0h1m1 0h1m-134 1h1m97 0h1m36 0h1m-137 1h1m1 0h1m94 0h1m6 0h1m29 0h1m-134 1h1m95 0h1m3 0h1m3 0h1m27 0h1m2 0h1m-40 1h1m31 0h2m3 0h1m-33 2h1m2 0h1m28 0h1m-7 1h1m-28 1h1m4 0h1m26 0h1m-4 1h1m1 0h1m1 0h1m-31 1h1m28 0h1m-28 1h2m10 1h1m9 0h1m-26 1h1m1 0h1m3 0h1m17 0h1m-20 1h1m10 0h1m14 0h1m-32 1h1m5 0h1m3 1h1m-13 1h1m13 0h1m13 0h1m2 0h1m-31 1h1m9 0h1m4 0h1m1 0h1m1 0h1m9 0h1m-33 1h1m1 0h1m9 0h1m3 1h1m3 0h1m7 0h1m4 0h1m-20 1h1m9 0h2m-11 1h1m1 0h1m8 0h1m-11 1h1m1 0h1m5 0h1m5 0h1m-9 1h1m-11 1h1m2 0h1m7 0h1m1 0h1m-19 1h1m13 0h1m8 0h1m3 0h1m-15 1h2m8 1h1m3 0h1m-19 1h1m7 0h1m2 0h2m3 0h1m-14 1h1m10 0h1m-14 1h1m2 0h1m7 0h1m-8 1h1m7 1h1m-18 1h1m2 0h1m6 0h1m5 0h1m4 1h1m-7 1h1m3 0h1m2 0h1m-7 1h1m4 0h1m-5 2h1m-7 2h1" stroke="#666" stroke-width="1"/>
<path d="M228 548.5h2m-131 26h1m3 2h1m11 0h1m-2 1h1m0 1h1m-10 1h1m1 0h1m-3 1h1m1 0h1m18 0h1m-18 1h1m16 0h2m-34 1h1m12 0h1m1 0h1m15 0h1m-31 1h1m4 0h1m7 0h1m17 0h2m12 0h2m-43 1h1m1 0h1m17 0h2m50 0h1m-72 1h1m15 0h1m1 0h1m2 0h2m4 0h2m4 0h1m4 0h4m6 0h1m1 0h1m19 0h1m1 0h1m-68 1h1m11 0h1m1 0h3m1 0h1m3 0h1m1 0h1m3 0h3m12 0h1m1 0h1m20 0h1m-68 1h1m1 0h1m7 0h1m1 0h1m1 0h2m1 0h1m2 0h1m4 0h1m2 0h1m5 0h1m2 0h1m6 0h1m2 0h1m2 0h2m-51 1h1m7 0h1m6 0h3m1 0h1m2 0h3m1 0h1m9 0h2m6 0h2m4 0h1m-40 1h1m1 0h3m1 0h1m6 0h1m1 0h1m26 0h2m-63 1h1m15 0h1m1 0h2m1 0h1m1 0h2m5 0h2m11 0h3m12 0h1m4 0h1m-64 1h1m5 0h3m7 0h1m1 0h2m2 0h1m4 0h1m9 0h1m1 0h1m20 0h4m3 0h2m-61 1h1m7 0h1m5 0h4m1 0h2m1 0h1m3 0h1m1 0h1m2 0h1m3 0h2m7 0h1m1 0h1m4 0h1m9 0h1m-66 1h1m2 0h1m8 0h1m2 0h1m5 0h2m1 0h2m4 0h1m1 0h3m11 0h2m3 0h1m1 0h1m1 0h1m7 0h3m3 0h1m1 0h1m-75 1h1m2 0h1m11 0h1m12 0h1m4 0h2m7 0h2m4 0h1m1 0h1m2 0h2m1 0h1m3 0h2m7 0h3m6 0h1m-80 1h1m4 0h1m1 0h1m7 0h2m3 0h3m6 0h3m1 0h1m1 0h2m6 0h1m1 0h1m4 0h1m4 0h3m5 0h1m6 0h1m2 0h3m1 0h2m1 0h1m12 0h1m-93 1h1m26 0h2m2 0h1m2 0h1m1 0h2m2 0h2m2 0h1m3 0h2m3 0h1m6 0h2m1 0h1m5 0h1m2 0h1m6 0h1m10 0h2m-88 1h2m9 0h2m1 0h2m2 0h1m2 0h1m1 0h2m3 0h1m3 0h1m2 0h1m1 0h3m6 0h2m1 0h4m5 0h1m3 0h1m1 0h1m1 0h2m1 0h2m1 0h1m3 0h1m5 0h1m1 0h1m2 0h1m-89 1h1m9 0h2m2 0h1m1 0h1m2 0h1m2 0h1m1 0h1m11 0h1m1 0h1m1 0h2m4 0h1m1 0h2m3 0h3m1 0h2m5 0h1m2 0h1m6 0h1m1 0h2m3 0h1m1 0h1m1 0h1m-87 1h2m1 0h1m6 0h1m1 0h4m1 0h3m10 0h1m7 0h1m1 0h1m2 0h1m3 0h2m8 0h1m1 0h1m2 0h2m1 0h1m3 0h1m3 0h2m1 0h1m4 0h1m8 0h1m20 0h1m-113 1h1m2 0h1m3 0h1m4 0h2m2 0h1m1 0h1m3 0h1m5 0h1m2 0h1m2 0h2m7 0h1m7 0h1m3 0h1m2 0h1m7 0h1m2 0h1m4 0h1m1 0h2m5 0h1m1 0h1m6 0h1m19 0h1m-140 1h1m24 0h1m1 0h1m2 0h1m2 0h1m1 0h1m5 0h2m3 0h3m7 0h2m1 0h2m2 0h1m2 0h3m2 0h1m7 0h1m2 0h1m1 0h1m4 0h1m1 0h4m1 0h2m5 0h1m9 0h1m-113 1h1m23 0h1m1 0h1m1 0h4m1 0h1m1 0h1m1 0h4m1 0h2m1 0h1m2 0h5m8 0h2m1 0h1m6 0h1m1 0h1m1 0h1m4 0h1m1 0h1m4 0h1m5 0h3m1 0h1m4 0h2m5 0h3m1 0h1m11 0h1m-102 1h2m2 0h1m5 0h1m4 0h1m1 0h1m4 0h2m2 0h1m4 0h1m1 0h3m2 0h1m1 0h1m2 0h1m3 0h1m1 0h1m1 0h2m4 0h1m2 0h2m2 0h1m4 0h1m3 0h1m5 0h1m7 0h1m1 0h1m9 0h1m1 0h1m-103 1h1m3 0h1m3 0h2m1 0h1m3 0h1m1 0h1m6 0h1m3 0h1m1 0h2m5 0h3m9 0h1m1 0h2m9 0h1m7 0h2m8 0h1m5 0h2m1 0h1m4 0h1m5 0h1m6 0h2m-109 1h1m7 0h1m1 0h1m4 0h1m6 0h1m13 0h2m4 0h1m2 0h2m1 0h1m1 0h2m1 0h3m1 0h1m3 0h1m10 0h5m16 0h1m-91 1h2m5 0h2m2 0h2m6 0h1m3 0h1m9 0h1m3 0h2m2 0h1m2 0h1m8 0h1m1 0h1m9 0h1m4 0h2m1 0h1m12 0h1m8 0h2m7 0h2m-107 1h1m1 0h1m13 0h1m4 0h1m1 0h1m10 0h4m5 0h1m1 0h1m4 0h2m2 0h2m5 0h1m3 0h1m4 0h1m2 0h2m1 0h1m1 0h1m3 0h1m3 0h1m1 0h1m15 0h1m-109 1h1m1 0h2m1 0h2m1 0h2m2 0h4m3 0h1m2 0h3m16 0h2m3 0h1m3 0h3m2 0h2m2 0h1m5 0h2m1 0h1m1 0h1m2 0h1m1 0h3m1 0h2m9 0h1m2 0h1m1 0h1m4 0h2m5 0h4m-118 1h2m5 0h1m1 0h2m1 0h1m4 0h2m3 0h1m2 0h1m14 0h2m6 0h2m3 0h2m2 0h3m1 0h1m1 0h1m2 0h1m1 0h1m3 0h1m1 0h1m1 0h1m3 0h1m1 0h1m3 0h3m3 0h5m3 0h1m1 0h1m8 0h2m1 0h1m1 0h1m-107 1h2m15 0h1m16 0h1m3 0h1m1 0h2m1 0h1m7 0h2m2 0h2m3 0h1m4 0h1m4 0h1m1 0h2m2 0h1m1 0h2m1 0h1m8 0h1m1 0h1m10 0h3m-107 1h1m1 0h1m2 0h1m24 0h1m7 0h1m1 0h1m5 0h1m1 0h1m4 0h1m3 0h2m4 0h1m1 0h1m1 0h1m6 0h1m2 0h1m1 0h3m1 0h1m3 0h2m3 0h3m9 0h1m1 0h1m-108 1h1m2 0h1m3 0h2m1 0h1m1 0h1m8 0h1m8 0h1m1 0h1m8 0h3m1 0h1m3 0h1m1 0h1m6 0h2m5 0h2m1 0h2m3 0h1m3 0h4m6 0h2m4 0h1m1 0h1m2 0h4m1 0h1m1 0h1m1 0h1m4 0h1m-113 1h1m1 0h2m2 0h1m2 0h2m7 0h2m10 0h2m3 0h1m8 0h1m3 0h1m3 0h1m1 0h2m10 0h3m1 0h1m3 0h1m2 0h1m8 0h1m4 0h1m1 0h5m3 0h1m8 0h1m1 0h3m-115 1h3m1 0h1m6 0h2m4 0h2m15 0h1m6 0h1m1 0h2m2 0h2m5 0h1m6 0h2m2 0h1m2 0h1m1 0h1m5 0h1m1 0h1m3 0h1m2 0h1m6 0h2m3 0h2m1 0h4m4 0h1m1 0h4m-115 1h1m3 0h1m1 0h1m3 0h1m1 0h1m1 0h1m4 0h1m15 0h2m2 0h3m3 0h3m1 0h1m5 0h4m8 0h1m4 0h1m2 0h2m2 0h1m3 0h3m3 0h1m8 0h2m3 0h1m2 0h2m1 0h1m2 0h1m1 0h1m-115 1h1m3 0h1m1 0h1m3 0h1m2 0h2m11 0h1m8 0h2m3 0h1m3 0h2m2 0h1m3 0h4m3 0h1m3 0h1m3 0h1m3 0h1m2 0h1m3 0h1m4 0h2m5 0h2m3 0h3m1 0h2m3 0h1m3 0h1m3 0h1m1 0h1m-109 1h1m3 0h2m14 0h2m6 0h1m9 0h2m2 0h1m1 0h2m3 0h1m2 0h1m6 0h1m8 0h1m2 0h1m1 0h3m5 0h3m2 0h1m5 0h1m4 0h2m2 0h3m-106 1h2m1 0h1m1 0h1m1 0h1m36 0h2m1 0h1m14 0h2m2 0h1m3 0h1m3 0h2m4 0h1m2 0h1m1 0h1m2 0h2m5 0h4m1 0h1m2 0h1m2 0h1m-115 1h2m1 0h4m2 0h1m1 0h1m1 0h1m4 0h1m27 0h1m6 0h1m11 0h1m1 0h1m2 0h2m2 0h1m2 0h1m2 0h2m6 0h2m3 0h2m1 0h2m1 0h1m2 0h1m3 0h1m2 0h1m2 0h2m8 0h2m-122 1h1m4 0h2m2 0h1m4 0h2m3 0h1m24 0h2m4 0h2m14 0h1m3 0h2m3 0h1m4 0h1m5 0h2m1 0h2m1 0h1m1 0h1m9 0h1m1 0h1m2 0h1m-109 1h2m3 0h3m10 0h1m19 0h1m7 0h1m4 0h1m2 0h1m9 0h2m8 0h2m9 0h1m1 0h2m4 0h3m2 0h1m2 0h1m3 0h1m13 0h2m-119 1h2m1 0h1m1 0h3m25 0h2m1 0h6m2 0h1m7 0h1m5 0h1m4 0h3m5 0h1m1 0h1m7 0h2m1 0h1m1 0h1m2 0h2m2 0h1m4 0h1m2 0h2m1 0h3m5 0h2m1 0h2m-117 1h1m2 0h2m6 0h2m24 0h1m1 0h1m7 0h1m3 0h2m5 0h1m11 0h2m6 0h2m5 0h1m3 0h1m1 0h1m1 0h1m4 0h1m1 0h1m1 0h3m2 0h1m3 0h1m5 0h1m-118 1h1m3 0h5m29 0h3m2 0h2m1 0h1m4 0h1m6 0h2m7 0h1m1 0h1m5 0h3m1 0h1m4 0h2m1 0h2m1 0h1m7 0h1m2 0h1m3 0h1m1 0h1m1 0h3m1 0h1m-114 1h1m6 0h1m1 0h1m28 0h1m3 0h3m2 0h1m3 0h1m7 0h1m4 0h1m4 0h1m2 0h1m12 0h1m2 0h1m4 0h1m4 0h1m1 0h1m4 0h1m2 0h1m2 0h1m1 0h1m1 0h1m-115 1h1m2 0h1m2 0h1m34 0h1m4 0h1m10 0h3m3 0h1m3 0h1m16 0h2m8 0h1m3 0h1m2 0h3m4 0h2m5 0h1m8 0h1m-124 1h2m1 0h1m1 0h1m34 0h2m2 0h3m9 0h1m27 0h1m12 0h1m8 0h2m3 0h1m4 0h2m6 0h1m-129 1h1m1 0h3m38 0h3m4 0h1m11 0h2m16 0h1m7 0h6m2 0h1m5 0h1m1 0h1m5 0h1m1 0h1m1 0h1m1 0h1m4 0h1m5 0h2m-139 1h1m9 0h1m1 0h1m4 0h1m34 0h1m7 0h1m3 0h1m3 0h2m2 0h1m1 0h1m2 0h1m16 0h2m3 0h1m2 0h1m3 0h1m5 0h1m1 0h1m2 0h2m1 0h2m2 0h1m1 0h1m4 0h1m-131 1h1m10 0h1m1 0h4m35 0h2m9 0h1m3 0h1m2 0h3m3 0h3m3 0h1m1 0h1m4 0h1m16 0h1m4 0h3m2 0h1m3 0h1m3 0h1m5 0h1m17 0h1m-138 1h3m5 0h1m24 0h1m7 0h2m5 0h2m2 0h1m1 0h1m10 0h1m2 0h1m1 0h2m1 0h2m10 0h1m12 0h3m8 0h1m1 0h1m23 0h1m1 0h1m-137 1h1m2 0h2m29 0h1m5 0h2m1 0h1m8 0h1m1 0h2m3 0h2m6 0h1m1 0h1m1 0h2m6 0h2m4 0h1m7 0h2m3 0h1m4 0h2m1 0h1m1 0h1m1 0h2m8 0h1m1 0h1m11 0h1m1 0h1m-138 1h1m1 0h1m2 0h1m1 0h2m29 0h1m1 0h1m1 0h1m1 0h2m2 0h2m5 0h2m5 0h1m4 0h1m1 0h1m4 0h1m9 0h1m1 0h1m9 0h1m6 0h1m1 0h1m1 0h1m2 0h1m1 0h2m2 0h1m4 0h1m1 0h1m-129 1h1m7 0h2m33 0h1m4 0h2m4 0h3m13 0h1m2 0h2m3 0h2m9 0h1m8 0h1m2 0h1m2 0h2m2 0h1m1 0h1m1 0h1m2 0h1m3 0h2m1 0h1m1 0h1m1 0h3m-130 1h1m1 0h1m7 0h1m34 0h2m2 0h1m1 0h5m5 0h2m14 0h1m2 0h4m1 0h1m12 0h2m3 0h1m5 0h1m1 0h1m1 0h5m2 0h2m1 0h2m3 0h1m-129 1h1m1 0h1m3 0h1m43 0h1m1 0h2m1 0h1m4 0h1m2 0h4m1 0h1m5 0h1m2 0h3m2 0h3m6 0h1m2 0h1m3 0h1m1 0h2m1 0h1m2 0h1m1 0h3m6 0h1m1 0h2m1 0h1m2 0h1m1 0h1m-125 1h1m1 0h2m43 0h1m1 0h2m5 0h1m1 0h1m2 0h2m2 0h2m1 0h1m3 0h1m1 0h1m3 0h1m2 0h1m4 0h2m1 0h1m1 0h1m4 0h3m1 0h4m1 0h1m1 0h2m3 0h1m10 0h1m1 0h1m-134 1h2m4 0h1m1 0h1m3 0h1m3 0h3m34 0h2m1 0h2m5 0h1m1 0h2m6 0h1m3 0h1m1 0h1m3 0h2m12 0h1m2 0h1m6 0h1m5 0h3m4 0h1m4 0h1m3 0h1m1 0h1m1 0h1m1 0h1m11 0h1m-141 1h1m44 0h1m2 0h1m1 0h4m2 0h1m2 0h3m1 0h2m1 0h1m1 0h2m5 0h2m9 0h2m1 0h2m3 0h1m4 0h1m7 0h1m1 0h1m4 0h1m2 0h1m4 0h1m1 0h1m2 0h1m1 0h3m7 0h1m1 0h1m-149 1h2m1 0h1m4 0h1m43 0h1m2 0h1m4 0h1m2 0h1m4 0h5m2 0h1m1 0h1m1 0h3m5 0h1m3 0h1m2 0h1m2 0h1m2 0h3m8 0h2m1 0h1m5 0h1m1 0h2m6 0h2m1 0h4m9 0h2m-144 1h1m2 0h1m1 0h3m37 0h1m1 0h2m2 0h2m6 0h2m7 0h2m1 0h1m1 0h1m1 0h1m1 0h2m6 0h3m1 0h2m1 0h2m1 0h2m6 0h2m2 0h2m2 0h1m1 0h1m2 0h1m2 0h2m1 0h1m1 0h1m4 0h1m3 0h2m6 0h1m-139 1h1m47 0h1m6 0h1m1 0h1m1 0h2m3 0h1m5 0h1m1 0h2m3 0h1m3 0h1m1 0h1m1 0h5m7 0h2m1 0h1m9 0h1m1 0h1m5 0h2m1 0h1m1 0h1m1 0h1m1 0h1m-126 1h5m35 0h1m2 0h1m1 0h1m3 0h1m2 0h2m1 0h2m5 0h1m5 0h1m1 0h1m5 0h1m1 0h1m1 0h1m2 0h1m3 0h1m3 0h1m4 0h3m11 0h2m1 0h4m2 0h1m1 0h1m1 0h1m7 0h1m-134 1h1m1 0h1m39 0h4m3 0h1m4 0h1m6 0h1m1 0h2m1 0h1m3 0h1m1 0h1m1 0h1m2 0h1m2 0h1m2 0h1m1 0h3m1 0h1m1 0h1m1 0h4m3 0h1m4 0h1m1 0h1m2 0h1m8 0h3m1 0h2m2 0h4m2 0h1m-133 1h2m5 0h1m33 0h1m5 0h1m2 0h1m3 0h1m1 0h1m1 0h1m1 0h1m2 0h1m2 0h1m5 0h1m1 0h1m1 0h1m3 0h1m7 0h3m18 0h2m3 0h1m8 0h1m8 0h2m-143 1h2m7 0h1m1 0h1m8 0h3m33 0h2m1 0h1m2 0h5m1 0h2m3 0h1m1 0h1m5 0h1m1 0h1m4 0h1m3 0h3m5 0h2m3 0h2m1 0h1m1 0h1m1 0h2m5 0h1m3 0h1m8 0h1m3 0h3m4 0h1m1 0h1m-147 1h1m5 0h1m1 0h1m4 0h1m8 0h1m21 0h1m1 0h1m4 0h3m2 0h1m6 0h1m1 0h1m1 0h1m1 0h1m1 0h1m3 0h1m2 0h1m10 0h1m1 0h2m1 0h1m8 0h2m1 0h1m1 0h1m5 0h1m10 0h1m7 0h1m10 0h1m1 0h1m-147 1h1m2 0h1m3 0h1m38 0h1m3 0h1m3 0h1m1 0h1m6 0h1m1 0h3m1 0h1m1 0h1m7 0h2m3 0h1m1 0h3m6 0h2m2 0h2m1 0h1m2 0h1m1 0h2m16 0h1m6 0h1m2 0h1m1 0h1m5 0h1m1 0h1m-140 1h1m1 0h1m35 0h1m1 0h1m2 0h1m1 0h1m16 0h4m1 0h3m1 0h3m4 0h1m1 0h1m5 0h1m1 0h2m1 0h1m3 0h2m1 0h1m21 0h1m1 0h1m3 0h3m3 0h2m3 0h1m-144 1h1m3 0h2m1 0h1m4 0h2m33 0h1m1 0h1m2 0h1m15 0h1m1 0h2m6 0h1m1 0h1m1 0h1m1 0h1m6 0h3m1 0h1m1 0h1m1 0h2m2 0h3m24 0h1m1 0h1m3 0h3m3 0h1m-143 1h1m11 0h1m1 0h1m23 0h1m10 0h3m13 0h2m1 0h1m1 0h2m2 0h1m5 0h1m1 0h1m1 0h1m5 0h1m5 0h1m2 0h1m1 0h2m3 0h5m19 0h1m2 0h1m1 0h1m2 0h2m1 0h1m1 0h1m-147 1h1m3 0h1m4 0h1m3 0h1m1 0h3m19 0h1m16 0h1m2 0h1m14 0h1m1 0h1m1 0h1m8 0h1m1 0h1m4 0h4m4 0h1m1 0h1m1 0h2m7 0h1m22 0h1m1 0h1m2 0h1m1 0h2m1 0h1m-143 1h2m1 0h4m6 0h2m23 0h1m5 0h1m5 0h1m2 0h1m1 0h1m3 0h1m1 0h1m1 0h3m1 0h3m12 0h2m1 0h1m1 0h1m2 0h1m5 0h1m1 0h2m1 0h1m3 0h2m26 0h2m5 0h2m-152 1h4m7 0h2m4 0h1m5 0h1m23 0h2m4 0h2m3 0h1m1 0h6m1 0h3m1 0h1m4 0h1m15 0h1m1 0h1m1 0h2m4 0h1m1 0h1m2 0h1m4 0h1m2 0h2m25 0h2m7 0h1m-153 1h1m3 0h2m2 0h1m4 0h1m5 0h1m19 0h2m7 0h1m3 0h3m1 0h1m4 0h1m3 0h1m2 0h1m1 0h1m7 0h2m4 0h1m6 0h1m1 0h1m1 0h1m3 0h1m1 0h1m1 0h1m1 0h5m1 0h6m1 0h2m24 0h2m2 0h5m-157 1h2m1 0h2m8 0h2m1 0h3m3 0h1m10 0h1m17 0h1m1 0h1m4 0h1m2 0h2m2 0h4m3 0h1m1 0h1m6 0h2m4 0h1m1 0h1m1 0h1m3 0h1m2 0h1m4 0h2m4 0h1m3 0h1m4 0h6m28 0h1m1 0h2m1 0h2m-155 1h2m1 0h2m1 0h1m1 0h2m2 0h1m5 0h2m8 0h1m1 0h1m19 0h1m6 0h1m16 0h1m1 0h1m21 0h1m1 0h1m5 0h1m2 0h1m1 0h4m32 0h2m1 0h2m1 0h1m1 0h1m-158 1h1m1 0h2m3 0h1m4 0h1m1 0h1m1 0h1m13 0h2m15 0h1m2 0h3m3 0h1m2 0h1m16 0h1m1 0h1m1 0h2m17 0h3m5 0h1m1 0h1m1 0h4m2 0h1m28 0h1m1 0h1m3 0h6m-155 1h1m1 0h1m2 0h2m3 0h1m6 0h1m26 0h1m2 0h1m2 0h2m1 0h3m6 0h1m11 0h1m4 0h2m15 0h1m1 0h1m4 0h1m3 0h2m2 0h3m1 0h1m29 0h1m3 0h1m-153 1h1m1 0h2m1 0h1m3 0h1m3 0h1m3 0h1m2 0h3m9 0h1m1 0h2m2 0h1m2 0h3m2 0h4m3 0h1m2 0h1m6 0h1m1 0h1m15 0h1m1 0h2m14 0h1m3 0h1m1 0h1m1 0h1m6 0h1m1 0h1m1 0h1m31 0h1m2 0h1m1 0h1m1 0h1m1 0h1m-162 1h1m2 0h3m1 0h1m3 0h5m3 0h1m16 0h2m1 0h1m2 0h1m7 0h1m2 0h1m1 0h1m9 0h1m1 0h1m6 0h2m3 0h3m2 0h2m16 0h1m2 0h1m1 0h1m1 0h1m3 0h1m1 0h1m1 0h1m36 0h1m2 0h1m2 0h1m-162 1h2m4 0h1m3 0h2m4 0h1m20 0h1m2 0h1m8 0h2m1 0h1m2 0h1m11 0h1m15 0h1m1 0h1m1 0h1m16 0h2m8 0h1m1 0h3m1 0h1m37 0h1m1 0h1m2 0h1m1 0h1m-164 1h1m6 0h1m6 0h1m12 0h1m6 0h1m1 0h1m1 0h1m2 0h1m8 0h1m7 0h1m14 0h2m4 0h2m2 0h1m1 0h1m6 0h1m28 0h1m28 0h1m3 0h3m1 0h1m2 0h1m1 0h1m-157 1h1m1 0h1m1 0h1m1 0h2m5 0h2m17 0h3m3 0h1m5 0h1m5 0h1m1 0h1m24 0h1m6 0h1m1 0h1m18 0h1m1 0h4m36 0h1m1 0h1m1 0h1m2 0h2m-158 1h2m13 0h1m2 0h1m14 0h2m2 0h1m2 0h1m12 0h1m32 0h1m1 0h1m17 0h1m1 0h2m2 0h1m2 0h1m35 0h2m2 0h1m1 0h1m-164 1h1m1 0h1m4 0h2m5 0h1m7 0h1m2 0h1m1 0h1m1 0h1m3 0h1m3 0h1m2 0h1m2 0h2m1 0h1m45 0h1m1 0h1m17 0h1m1 0h1m5 0h2m36 0h1m2 0h1m1 0h1m-164 1h1m1 0h2m4 0h1m4 0h1m12 0h2m1 0h1m4 0h2m1 0h1m3 0h2m2 0h2m66 0h1m1 0h1m3 0h4m38 0h1m1 0h1m-164 1h1m1 0h1m5 0h6m21 0h2m79 0h1m2 0h1m34 0h2m2 0h1m2 0h2m-156 1h1m1 0h1m3 0h2m1 0h1m9 0h5m10 0h1m4 0h1m55 0h2m3 0h3m44 0h3m1 0h1m1 0h1m2 0h1m-164 1h1m1 0h2m3 0h1m1 0h4m1 0h1m1 0h1m5 0h2m3 0h1m1 0h1m1 0h1m10 0h1m6 0h1m57 0h1m13 0h1m30 0h1m1 0h1m1 0h1m1 0h1m2 0h3m-165 1h1m1 0h1m5 0h1m1 0h1m1 0h1m1 0h2m2 0h3m1 0h2m1 0h1m2 0h1m1 0h2m5 0h1m5 0h1m59 0h2m4 0h2m9 0h2m33 0h4m2 0h2m-160 1h2m6 0h3m2 0h1m5 0h1m2 0h1m5 0h2m1 0h1m3 0h1m81 0h2m1 0h1m31 0h2m1 0h1m-155 1h1m8 0h1m1 0h2m6 0h2m2 0h2m8 0h2m79 0h2m35 0h1m2 0h1m1 0h1m-157 1h1m21 0h1m90 0h1m6 0h1m29 0h1m3 0h1m2 0h1m-144 1h1m1 0h1m2 0h1m1 0h1m1 0h1m2 0h1m86 0h1m2 0h1m36 0h2m1 0h2m-150 1h2m4 0h1m1 0h1m9 0h1m84 0h1m1 0h1m4 0h1m37 0h1m-161 1h2m10 0h1m1 0h1m13 0h2m51 0h1m32 0h1m3 0h1m3 0h2m31 0h1m1 0h1m2 0h1m-80 1h1m39 0h1m36 0h2m-153 1h2m108 0h1m3 0h4m33 0h1m-48 1h1m5 0h5m2 0h1m-14 1h1m9 0h1m2 0h1m3 0h1m25 0h2m1 0h1m-147 1h2m96 0h2m9 0h1m1 0h1m5 0h1m24 0h2m-50 1h2m16 0h2m1 0h4m28 0h1m-39 1h3m1 0h2m29 0h1m3 0h1m1 0h1m-40 1h2m1 0h3m22 0h2m3 0h1m1 0h2m2 0h1m-42 1h2m1 0h3m1 0h4m25 0h1m-36 1h1m1 0h2m5 0h1m21 0h5m2 0h1m1 0h1m-40 1h1m1 0h1m5 0h1m21 0h1m1 0h1m4 0h1m2 0h1m-40 1h3m28 0h3m3 0h2m-46 1h2m7 0h4m12 0h1m14 0h1m2 0h1m-31 1h2m5 0h1m4 0h1m15 0h1m2 0h1m-45 1h2m3 0h1m1 0h1m2 0h3m1 0h1m1 0h1m5 0h1m2 0h1m10 0h1m7 0h1m-41 1h1m7 0h1m4 0h1m2 0h3m1 0h1m2 0h1m1 0h1m6 0h3m1 0h2m1 0h1m-39 1h1m2 0h1m1 0h2m1 0h2m8 0h2m3 0h2m5 0h1m1 0h1m3 0h3m-32 1h1m2 0h1m1 0h2m4 0h3m12 0h1m2 0h1m-30 1h3m3 0h1m1 0h1m1 0h1m2 0h2m4 0h1m5 0h2m1 0h1m1 0h2m2 0h1m-35 1h1m4 0h3m6 0h1m4 0h1m3 0h1m4 0h1m4 0h1m1 0h1m-35 1h2m1 0h2m1 0h1m3 0h1m2 0h1m2 0h1m2 0h1m7 0h1m1 0h2m1 0h1m1 0h1m-37 1h2m2 0h1m6 0h1m1 0h4m7 0h1m9 0h1m1 0h1m-34 1h2m1 0h1m1 0h2m10 0h1m7 0h1m1 0h2m-32 1h2m2 0h1m1 0h1m2 0h1m1 0h1m1 0h2m5 0h1m1 0h3m3 0h1m2 0h1m-31 1h2m5 0h1m3 0h1m1 0h1m1 0h1m3 0h2m2 0h1m3 0h1m1 0h1m11 0h2m-44 1h1m7 0h1m5 0h1m1 0h2m2 0h1m3 0h1m3 0h1m1 0h1m8 0h1m1 0h1m-33 1h2m1 0h1m2 0h1m1 0h1m1 0h2m3 0h1m3 0h2m1 0h2m6 0h1m1 0h3m-33 1h1m5 0h2m1 0h1m5 0h2m1 0h1m4 0h1m1 0h1m2 0h3m-36 1h1m1 0h1m11 0h1m2 0h1m1 0h1m1 0h1m2 0h3m1 0h1m5 0h1m-35 1h1m1 0h2m1 0h2m1 0h3m1 0h1m1 0h3m4 0h1m1 0h1m6 0h1m-25 1h2m7 0h2m4 0h2m1 0h2m2 0h2m-30 1h1m1 0h2m1 0h1m1 0h1m2 0h1m4 0h1m4 0h2m2 0h1m3 0h1m-22 1h1m3 0h2m5 0h1m7 0h1m1 0h1m-16 1h1m1 0h1m2 0h1m5 0h1m1 0h1m-12 1h1m3 0h3m-22 1h1m4 0h2m4 0h1m3 0h1m3 0h2m-10 1h1m1 0h1m1 0h3m2 0h1m-7 1h1m2 0h1m1 0h1m-7 1h1" stroke="#aaa" stroke-width="1"/>
<path d="M369 572.5h1m-3 1h1m1 0h1m-3 1h1m-5 1h1m3 0h1m4 0h3m-12 1h1m3 0h1m5 0h1m1 0h1m-8 1h1m4 0h1m1 0h1m-12 1h1m-1 1h1m3 0h1m5 0h1m-12 1h4m7 0h1m5 0h2m-18 1h1m5 0h1m3 0h1m-5 1h1m3 0h1m-6 2h1m5 0h1m-7 1h1m21 1h3m67 0h1m-87 1h1m85 0h1m-92 1h1m4 0h2m2 0h1m23 0h2m-44 1h1m8 0h1m4 0h1m3 0h1m70 0h2m-74 1h2m-14 1h1m3 0h1m44 0h1m-47 1h3m48 0h1m-51 1h1m4 0h2m43 0h1m37 0h2m-94 1h1m3 0h1m2 0h1m1 0h1m18 0h2m-34 1h2m2 0h1m5 0h1m6 0h2m42 0h1m-61 1h1m1 0h2m4 0h2m6 0h3m24 1h3m15 0h1m-64 1h2m9 0h3m14 0h2m5 0h1m-36 1h2m5 0h2m25 0h2m-33 1h3m1 0h1m7 0h1m44 0h1m5 0h2m-67 1h4m6 0h1m1 0h3m42 0h3m-53 1h2m1 0h2m3 0h1m35 0h2m-47 1h1m4 0h5m29 0h1m-47 1h1m2 0h1m3 0h1m8 0h1m25 0h2m2 0h1m2 0h2m10 0h1m-59 1h1m4 0h1m1 0h1m6 0h1m9 0h1m15 0h1m17 0h1m2 0h1m2 0h1m-68 1h2m1 0h1m4 0h1m1 0h1m16 0h1m36 0h2m-68 1h2m3 0h3m1 0h2m1 0h1m1 0h2m13 0h1m-30 1h1m4 0h1m2 0h1m1 0h4m3 0h1m-11 1h7m2 0h1m34 0h1m21 0h1m-68 1h2m1 0h1m1 0h1m4 0h1m16 0h1m22 0h2m15 0h1m-72 1h2m2 0h1m8 0h1m5 0h3m1 0h1m31 0h1m4 0h2m-62 1h2m1 0h1m4 0h2m1 0h1m1 0h2m8 0h1m-21 1h1m4 0h1m3 0h1m-9 1h2m2 0h1m3 0h1m3 0h2m30 0h2m-53 1h2m4 0h1m1 0h1m1 0h2m1 0h1m3 0h1m1 0h2m7 0h2m29 0h1m36 0h1m-91 1h4m4 0h2m1 0h1m26 0h1m-38 1h1m9 0h1m26 0h1m-38 1h2m7 0h2m3 0h1m4 0h1m39 0h2m14 0h1m-74 1h1m2 0h3m1 0h2m1 0h2m6 0h1m34 0h1m-57 1h1m1 0h2m3 0h1m2 0h4m42 0h1m-59 1h1m1 0h1m4 0h3m4 0h1m18 0h2m-36 1h2m6 0h1m1 0h3m1 0h2m65 0h1m-83 1h2m4 0h1m2 0h5m10 0h2m4 0h3m49 0h1m-83 1h1m4 0h2m2 0h1m1 0h2m1 0h2m1 0h1m6 0h1m5 0h1m20 0h1m19 0h1m3 0h1m-73 1h3m2 0h2m4 0h1m1 0h3m-16 1h3m1 0h1m1 0h7m2 0h3m26 0h1m-45 1h1m5 0h7m1 0h3m1 0h1m1 0h1m23 0h1m17 0h1m-64 1h3m3 0h4m2 0h3m1 0h1m1 0h4m21 0h1m1 0h2m16 0h1m5 0h1m3 0h2m-77 1h1m1 0h2m2 0h5m3 0h3m16 0h2m36 0h1m-80 1h2m6 0h3m4 0h5m2 0h5m1 0h1m5 0h2m6 0h3m8 0h2m21 0h3m-72 1h4m1 0h8m1 0h4m1 0h1m7 0h1m4 0h2m2 0h2m2 0h1m-39 1h7m1 0h11m3 0h2m3 0h1m2 0h1m4 0h1m2 0h1m6 0h2m22 0h1m12 0h1m-83 1h5m1 0h4m3 0h1m2 0h1m1 0h1m3 0h3m2 0h1m3 0h2m12 0h1m23 0h1m11 0h2m-85 1h1m1 0h5m1 0h4m3 0h4m2 0h2m3 0h1m15 0h1m25 0h1m12 0h1m1 0h1m13 0h2m4 0h1m-106 1h1m1 0h1m1 0h14m1 0h2m3 0h1m9 0h2m7 0h2m4 0h2m33 0h2m3 0h1m15 0h1m-103 1h4m1 0h6m1 0h4m1 0h1m2 0h2m2 0h2m15 0h1m3 0h3m3 0h1m5 0h1m3 0h2m7 0h1m3 0h1m10 0h2m-91 1h2m2 0h3m3 0h12m3 0h1m1 0h1m6 0h1m7 0h3m2 0h2m2 0h3m6 0h2m5 0h1m1 0h2m3 0h2m2 0h1m17 0h1m-97 1h1m3 0h16m1 0h1m2 0h1m12 0h1m19 0h2m4 0h2m1 0h3m5 0h1m2 0h2m5 0h1m4 0h2m3 0h1m1 0h1m-99 1h2m2 0h15m3 0h2m1 0h2m2 0h2m8 0h1m13 0h1m27 0h3m1 0h2m4 0h2m1 0h1m12 0h2m-109 1h4m2 0h17m2 0h5m23 0h1m9 0h2m11 0h2m4 0h1m3 0h1m2 0h2m3 0h1m13 0h1m3 0h2m-115 1h2m1 0h3m1 0h22m12 0h2m5 0h1m5 0h1m11 0h2m6 0h1m3 0h1m4 0h1m7 0h1m6 0h1m15 0h1m-115 1h1m3 0h1m1 0h19m3 0h1m3 0h2m14 0h2m4 0h2m14 0h1m4 0h3m6 0h1m1 0h3m7 0h3m15 0h2m-113 1h1m2 0h5m1 0h12m1 0h4m2 0h1m6 0h1m2 0h1m1 0h1m16 0h2m7 0h3m3 0h2m7 0h6m8 0h1m16 0h2m-121 1h2m5 0h1m1 0h2m1 0h18m1 0h2m2 0h1m3 0h2m4 0h3m2 0h3m13 0h1m1 0h1m7 0h1m2 0h2m4 0h1m2 0h1m4 0h2m6 0h4m10 0h2m-118 1h1m3 0h3m1 0h21m15 0h1m3 0h1m9 0h2m1 0h1m5 0h1m4 0h1m4 0h2m2 0h1m6 0h1m4 0h3m13 0h2m1 0h5m10 0h1m-128 1h1m3 0h9m1 0h15m15 0h1m25 0h1m8 0h2m7 0h1m2 0h6m11 0h1m3 0h4m1 0h2m8 0h1m-131 1h1m2 0h1m1 0h6m1 0h2m1 0h2m1 0h8m1 0h5m4 0h2m5 0h1m2 0h2m5 0h2m5 0h2m1 0h2m7 0h3m5 0h2m3 0h1m5 0h3m1 0h6m1 0h2m4 0h1m1 0h2m4 0h1m2 0h1m-122 1h3m2 0h3m3 0h1m2 0h1m2 0h12m1 0h3m2 0h3m2 0h2m3 0h2m9 0h2m1 0h1m3 0h1m3 0h2m1 0h1m9 0h2m1 0h1m2 0h1m2 0h12m2 0h2m1 0h1m1 0h1m1 0h1m1 0h2m1 0h3m2 0h3m-117 1h1m8 0h1m1 0h16m5 0h3m1 0h1m3 0h1m1 0h3m1 0h1m4 0h1m1 0h2m5 0h2m18 0h1m1 0h1m2 0h1m1 0h6m4 0h1m1 0h1m1 0h2m1 0h1m2 0h1m1 0h1m1 0h2m1 0h4m2 0h1m2 0h1m-130 1h3m9 0h5m1 0h14m3 0h1m5 0h1m5 0h2m2 0h1m1 0h1m1 0h2m2 0h1m2 0h1m11 0h2m4 0h2m1 0h3m1 0h1m5 0h3m2 0h3m2 0h25m1 0h1m-130 1h1m5 0h1m6 0h1m1 0h16m3 0h2m4 0h1m3 0h1m15 0h1m1 0h1m14 0h1m14 0h1m1 0h1m2 0h1m1 0h1m1 0h1m1 0h1m1 0h2m1 0h11m1 0h9m1 0h1m-132 1h2m5 0h1m1 0h1m6 0h4m1 0h13m5 0h1m5 0h2m12 0h1m1 0h1m7 0h1m8 0h1m11 0h4m1 0h1m2 0h5m1 0h1m1 0h2m1 0h19m3 0h2m-149 1h1m24 0h3m1 0h1m3 0h1m1 0h10m2 0h3m5 0h1m3 0h3m4 0h2m7 0h1m8 0h2m4 0h2m13 0h2m2 0h2m2 0h2m1 0h1m6 0h21m1 0h1m-146 1h1m14 0h2m1 0h2m1 0h3m1 0h3m1 0h4m1 0h18m5 0h2m1 0h1m10 0h3m1 0h1m22 0h2m4 0h2m5 0h5m1 0h4m3 0h21m1 0h3m-137 1h3m1 0h1m3 0h5m4 0h3m2 0h12m1 0h2m2 0h2m32 0h1m11 0h2m3 0h1m3 0h4m2 0h4m2 0h2m2 0h1m1 0h26m5 0h2m-147 1h2m2 0h1m3 0h2m3 0h2m1 0h1m1 0h2m2 0h4m1 0h1m1 0h7m1 0h2m30 0h3m1 0h1m1 0h1m16 0h2m2 0h3m3 0h1m1 0h1m1 0h1m4 0h30m-141 1h1m1 0h4m1 0h2m4 0h5m2 0h2m1 0h4m1 0h8m50 0h1m10 0h1m2 0h2m1 0h3m3 0h31m-146 1h1m6 0h1m1 0h1m1 0h3m1 0h2m2 0h3m2 0h4m1 0h1m4 0h6m1 0h3m10 0h2m41 0h1m7 0h2m3 0h1m2 0h1m3 0h33m1 0h1m1 0h2m-156 1h2m6 0h1m4 0h2m2 0h2m2 0h4m1 0h1m5 0h3m3 0h2m42 0h2m13 0h3m2 0h1m3 0h1m3 0h4m3 0h31m1 0h2m1 0h1m-142 1h2m1 0h1m4 0h5m1 0h1m4 0h1m2 0h1m3 0h4m41 0h1m5 0h1m14 0h1m14 0h23m1 0h6m2 0h2m-150 1h2m6 0h1m6 0h2m1 0h2m3 0h2m2 0h1m1 0h6m1 0h3m47 0h1m14 0h1m1 0h1m5 0h3m2 0h1m2 0h29m2 0h1m-149 1h1m2 0h1m2 0h3m3 0h1m2 0h4m1 0h3m1 0h1m1 0h2m1 0h5m3 0h1m4 0h1m31 0h1m11 0h1m11 0h2m3 0h2m9 0h2m2 0h29m1 0h1m-148 1h6m1 0h3m1 0h7m5 0h4m5 0h1m4 0h1m2 0h1m10 0h1m21 0h2m6 0h1m15 0h2m13 0h33m-145 1h1m1 0h1m4 0h3m1 0h1m4 0h2m3 0h2m1 0h3m1 0h1m3 0h3m2 0h1m1 0h1m3 0h1m16 0h2m29 0h1m6 0h1m4 0h1m3 0h2m4 0h4m1 0h25m4 0h1m-146 1h1m3 0h1m7 0h1m2 0h2m3 0h1m2 0h2m1 0h4m1 0h2m2 0h1m1 0h1m3 0h1m11 0h1m35 0h1m2 0h1m3 0h1m5 0h1m4 0h1m1 0h1m1 0h1m1 0h26m6 0h1m1 0h2m-143 1h2m16 0h1m3 0h1m1 0h3m1 0h1m6 0h1m37 0h1m10 0h1m1 0h1m9 0h1m3 0h2m1 0h1m4 0h25m2 0h1m3 0h1m2 0h3m-145 1h1m10 0h2m4 0h1m5 0h1m3 0h2m43 0h2m9 0h2m15 0h1m1 0h2m2 0h28m1 0h6m3 0h1m-156 1h2m9 0h1m15 0h2m4 0h1m4 0h1m1 0h1m71 0h4m1 0h32m5 0h2m-145 1h1m13 0h2m6 0h1m6 0h1m10 0h2m33 0h1m27 0h7m1 0h22m1 0h7m4 0h2m-153 1h1m1 0h2m8 0h1m5 0h4m80 0h1m8 0h5m1 0h28m-145 1h1m11 0h1m1 0h1m4 0h3m89 0h33m1 0h3m-136 1h2m1 0h1m3 0h1m92 0h2m1 0h1m1 0h26m-131 1h1m2 0h1m95 0h1m4 0h28m2 0h2m-160 1h2m121 0h1m1 0h31m4 0h2m2 0h1m4 0h1m-73 1h2m19 0h1m6 0h1m1 0h29m8 0h1m-47 1h1m6 0h1m1 0h26m3 0h1m-118 1h1m88 0h7m1 0h19m1 0h2m-119 1h1m85 0h2m2 0h7m1 0h17m1 0h2m-29 1h1m1 0h22m2 0h1m1 0h2m-32 1h27m2 0h2m-37 1h2m4 0h22m2 0h2m4 0h4m-33 1h27m-29 1h5m1 0h1m1 0h5m1 0h14m6 0h1m-34 1h2m3 0h1m2 0h5m1 0h10m2 0h1m1 0h2m1 0h1m1 0h1m4 0h1m-39 1h1m2 0h3m1 0h8m1 0h4m1 0h6m-25 1h2m2 0h1m1 0h12m1 0h1m2 0h2m1 0h3m3 0h1m-39 1h2m4 0h5m1 0h9m3 0h3m2 0h2m7 0h1m-38 1h1m4 0h3m3 0h5m1 0h4m2 0h1m1 0h1m1 0h2m1 0h2m-24 1h2m5 0h7m2 0h3m1 0h1m2 0h2m-24 1h1m2 0h1m2 0h4m1 0h2m1 0h2m2 0h1m1 0h1m2 0h2m-24 1h1m2 0h2m5 0h1m2 0h3m1 0h1m3 0h1m5 0h1m-39 1h1m13 0h2m1 0h3m1 0h1m1 0h2m2 0h3m2 0h1m5 0h3m-41 1h1m1 0h1m8 0h1m2 0h1m1 0h1m1 0h2m1 0h1m2 0h3m-27 1h1m1 0h2m7 0h2m3 0h1m1 0h1m3 0h1m3 0h1m1 0h2m-18 1h1m9 0h1m2 0h2m4 0h1m5 0h1m-14 1h3m1 0h2m1 0h2m4 0h1m-32 1h2m7 0h2m1 0h1m3 0h3m1 0h1m1 0h3m1 0h2m-131 1h1m112 0h1m1 0h1m3 0h1m2 0h2m1 0h1m4 0h1m7 0h1m-139 1h1m107 0h2m1 0h3m2 0h2m4 0h1m2 0h1m1 0h1m1 0h2m7 0h1m-28 1h1m1 0h1m2 0h3m2 0h3m-15 1h1m3 0h1m7 0h1m2 0h1m-8 1h2m3 0h3m4 0h2m9 0h2m-26 1h1m5 0h3m5 0h1m2 0h1m-18 1h1m5 0h2m7 0h3m-2 1h2m-7 1h1m1 0h2m1 0h1m2 0h3m-28 1h2m9 0h2m4 0h1m3 0h1m-13 1h1m1 0h1m1 0h1m2 0h2m3 0h1m-13 1h2m7 0h1m6 0h2m-17 1h1m6 0h3m1 0h2m-13 1h1m7 0h1m-6 1h2m1 0h1m3 0h2m5 0h4m-18 1h2m1 0h1m3 0h1m7 0h1m-15 1h1m2 0h1m-5 1h2m2 0h2" stroke="#111" stroke-width="1"/>
<path d="M394 549.5h1m48 3h1m-115 2h1m173 0h1m-128 1h1m127 0h1m-38 2h1m18 0h1m-167 1h1m117 0h1m-9 1h1m-50 1h1m120 0h1m-115 1h1m41 0h1m-11 3h1m16 0h1m-30 1h1m33 1h1m-62 3h1m30 2h1m23 0h1m-76 1h1m1 0h1m2 0h1m4 0h1m2 0h1m2 0h1m44 1h1m9 0h1m47 0h1m-111 1h1m4 0h1m40 0h1m31 0h1m-94 1h1m72 0h1m-61 1h2m4 0h1m2 0h1m18 0h1m-73 1h1m40 0h1m75 0h1m-83 1h1m7 0h1m14 0h1m21 0h1m-34 1h1m5 0h1m14 0h1m8 0h1m40 0h1m5 0h1m60 0h1m-150 1h1m65 0h1m12 0h1m-85 1h1m16 0h1m4 0h1m54 0h1m-74 1h1m20 0h1m-26 1h1m17 0h1m23 0h1m35 0h1m-73 1h1m3 0h1m1 0h1m10 0h1m5 0h1m11 0h1m2 0h1m4 0h1m5 0h1m18 0h1m-49 1h1m16 0h1m19 0h1m33 0h1m-90 1h1m55 0h1m75 0h1m-130 1h1m4 0h1m6 0h1m68 0h1m-95 1h1m8 0h1m5 0h1m24 0h1m35 0h1m-65 1h1m7 0h1m3 0h1m-21 1h1m6 0h1m16 0h1m21 0h1m20 0h1m8 0h1m-80 1h1m21 0h1m7 0h1m6 0h1m20 0h1m6 0h1m9 0h1m5 0h1m-115 1h1m52 0h1m4 0h1m29 0h1m1 0h1m39 0h1m-80 1h1m18 0h1m6 0h1m1 0h1m1 0h1m-45 1h1m26 0h1m21 0h1m34 0h1m12 0h1m-127 1h1m39 0h1m27 0h1m13 0h1m19 0h1m22 0h1m34 0h1m-146 1h1m30 0h1m28 0h1m7 0h1m8 0h1m7 0h1m-62 1h1m26 0h1m15 0h1m24 0h1m-70 1h1m13 0h1m17 0h1m10 0h1m15 0h1m-72 1h1m3 0h1m32 0h1m5 0h1m6 0h1m1 0h1m28 0h1m2 0h1m5 0h1m20 0h1m-97 1h1m37 0h1m4 0h1m40 0h1m-95 1h1m6 0h1m5 0h1m25 0h1m1 0h1m8 0h1m18 0h1m-56 1h1m1 0h1m4 0h1m-2 1h1m3 0h1m2 0h1m11 0h1m1 0h1m13 0h1m22 0h1m8 0h1m-65 1h1m12 0h1m19 0h1m16 0h1m8 0h1m8 0h1m16 0h1m13 0h1m-123 1h1m13 0h1m10 0h1m9 0h1m61 0h1m-101 1h1m9 0h2m42 0h1m3 0h1m17 0h1m8 0h1m3 0h1m12 0h1m-107 1h1m13 0h1m4 0h1m4 0h1m3 0h1m18 0h1m6 0h1m2 0h1m6 0h1m4 0h1m7 0h1m3 0h1m4 0h1m11 0h1m1 0h1m-115 1h1m21 0h1m4 0h1m1 0h1m37 0h1m22 0h1m6 0h1m-77 1h1m16 0h1m16 0h1m2 0h1m16 0h1m2 0h1m27 0h1m-79 1h1m32 0h1m3 0h1m14 0h1m7 0h1m25 0h1m-127 1h1m20 0h1m5 0h1m12 0h1m9 0h1m12 0h1m10 0h1m7 0h1m14 0h1m20 0h1m2 0h1m-56 1h1m10 0h1m13 0h1m37 0h1m13 0h1m-122 1h1m7 0h1m2 0h1m6 0h1m2 0h3m6 0h1m17 0h1m7 0h1m8 0h1m4 0h1m11 0h1m18 0h1m-90 1h1m31 0h1m19 0h1m12 0h1m-78 1h1m15 0h1m1 0h1m4 0h2m41 0h1m14 0h1m2 0h1m26 0h1m-113 1h1m22 0h1m2 0h1m7 0h1m6 0h1m4 0h1m12 0h1m5 0h1m7 0h1m18 0h1m21 0h1m41 0h1m-142 1h2m1 0h1m4 0h1m6 0h1m18 0h1m6 0h1m5 0h1m35 0h1m-87 1h1m30 0h1m7 0h1m8 0h1m4 0h1m2 0h1m16 0h1m3 0h1m-83 1h1m10 0h1m14 0h1m13 0h1m4 0h1m6 0h1m4 0h1m13 0h1m4 0h1m12 0h1m-117 1h1m54 0h1m14 0h1m9 0h1m7 0h1m11 0h1m-19 1h1m6 0h1m3 0h1m8 0h1m2 0h1m64 0h1m-143 1h1m10 0h1m2 0h1m23 0h1m4 0h1m12 0h1m33 0h1m1 0h1m7 0h1m2 0h1m-110 1h1m28 0h1m2 0h1m25 0h1m7 0h1m3 0h1m3 0h1m7 0h1m-60 1h1m4 0h1m24 0h1m25 0h1m-75 1h1m10 0h2m7 0h1m6 0h1m6 0h1m7 0h1m2 0h1m3 0h1m13 0h1m5 0h1m1 0h1m-77 1h1m10 0h1m4 0h1m1 0h1m45 0h1m16 0h1m7 0h1m6 0h1m-83 1h1m11 0h1m3 0h1m1 0h1m2 0h1m8 0h1m26 0h1m10 0h1m7 0h1m-84 1h1m1 0h1m13 0h1m14 0h1m12 0h1m18 0h1m-67 1h1m6 0h1m9 0h2m17 0h1m11 0h1m8 0h1m22 0h1m31 0h1m-112 1h1m10 0h1m46 0h1m7 0h1m22 0h1m-94 1h1m4 0h1m6 0h1m8 0h1m4 0h1m4 0h1m21 0h1m11 0h1m16 0h1m2 0h1m4 0h1m14 0h1m-99 1h1m9 0h1m16 0h1m24 0h1m6 0h1m27 0h1m33 0h1m-132 1h1m5 0h1m1 0h1m16 0h1m1 0h1m26 0h1m6 0h1m11 0h1m6 0h1m-90 1h1m26 0h1m22 0h1m4 0h1m3 0h1m39 0h1m2 0h1m17 0h1m-133 1h1m32 0h1m14 0h1m4 0h1m5 0h1m25 0h1m1 0h1m8 0h1m9 0h1m1 0h1m13 0h1m-79 1h1m4 0h1m19 0h1m3 0h1m31 0h2m20 0h1m2 0h1m22 0h1m-116 1h1m20 0h1m1 0h1m23 0h1m28 0h1m6 0h1m6 0h1m-119 1h1m21 0h1m16 0h1m8 0h1m49 0h1m7 0h1m10 0h1m-109 1h1m1 0h1m25 0h1m12 0h1m1 0h1m5 0h1m5 0h1m8 0h1m1 0h1m43 0h1m1 0h1m19 0h1m8 0h1m-157 1h1m20 0h2m4 0h2m17 0h2m36 0h1m7 0h1m4 0h1m23 0h1m16 0h1m9 0h1m-129 1h1m32 0h1m2 0h1m1 0h1m1 0h1m7 0h1m11 0h1m26 0h1m3 0h2m9 0h1m1 0h1m41 0h1m-119 1h2m7 0h1m9 0h1m5 0h1m11 0h1m1 0h1m13 0h1m2 0h1m2 0h1m6 0h1m1 0h1m6 0h1m17 0h1m5 0h1m-146 1h1m17 0h1m12 0h1m12 0h1m9 0h1m18 0h1m41 0h1m7 0h1m5 0h1m3 0h1m6 0h1m8 0h1m-123 1h1m18 0h1m25 0h1m35 0h1m4 0h1m12 0h1m1 0h1m16 0h1m-100 1h1m3 0h1m6 0h1m4 0h1m17 0h1m17 0h1m13 0h1m9 0h1m-119 1h1m5 0h1m17 0h1m22 0h1m10 0h1m1 0h1m4 0h1m9 0h1m1 0h1m11 0h1m23 0h1m3 0h1m9 0h1m6 0h1m-141 1h1m24 0h1m2 0h1m2 0h1m8 0h1m13 0h1m17 0h1m18 0h1m12 0h1m3 0h1m20 0h1m2 0h1m1 0h1m1 0h1m-135 1h1m5 0h1m13 0h1m1 0h1m16 0h1m9 0h1m3 0h1m9 0h1m12 0h1m2 0h1m3 0h1m3 0h1m9 0h1m17 0h1m19 0h1m6 0h1m1 0h1m-150 1h1m7 0h1m14 0h1m1 0h1m30 0h1m14 0h1m19 0h1m10 0h1m4 0h1m11 0h1m1 0h1m5 0h1m1 0h1m1 0h1m2 0h1m13 0h1m1 0h1m-153 1h1m11 0h1m1 0h1m11 0h1m7 0h1m15 0h2m2 0h1m2 0h1m2 0h1m8 0h1m7 0h1m9 0h1m17 0h2m7 0h1m30 0h1m-140 1h1m2 0h1m17 0h1m3 0h1m16 0h1m14 0h1m7 0h1m16 0h1m21 0h1m4 0h1m1 0h1m18 0h1m9 0h1m2 0h1m-139 1h1m24 0h1m15 0h2m15 0h1m11 0h1m20 0h1m1 0h1m5 0h1m8 0h1m4 0h1m-123 1h1m5 0h1m11 0h1m11 0h1m1 0h1m11 0h1m5 0h1m43 0h1m6 0h1m7 0h1m3 0h1m1 0h1m26 0h1m-125 1h1m7 0h1m36 0h1m12 0h1m1 0h1m64 0h1m-148 1h1m16 0h1m16 0h1m16 0h1m18 0h1m8 0h1m12 0h1m2 0h1m1 0h1m4 0h1m19 0h1m2 0h1m36 0h1m-153 1h1m3 0h2m8 0h1m2 0h1m4 0h2m6 0h1m14 0h1m2 0h1m3 0h1m9 0h1m38 0h1m3 0h1m1 0h1m3 0h1m44 0h1m-167 1h1m3 0h1m8 0h1m4 0h1m5 0h1m9 0h1m14 0h1m2 0h1m15 0h1m1 0h1m24 0h1m56 0h1m-152 1h1m7 0h1m4 0h1m22 0h1m8 0h1m11 0h1m15 0h1m9 0h1m6 0h1m1 0h1m3 0h3m6 0h1m1 0h1m13 0h1m-106 1h1m24 0h1m7 0h1m8 0h1m5 0h1m3 0h1m12 0h1m2 0h1m9 0h1m2 0h1m54 0h1m11 0h1m-156 1h1m7 0h1m13 0h1m4 0h1m1 0h1m7 0h1m3 0h1m4 0h1m11 0h1m12 0h1m7 0h1m6 0h1m49 0h1m13 0h1m2 0h1m-163 1h1m9 0h1m12 0h1m2 0h1m7 0h1m6 0h1m12 0h1m2 0h1m16 0h1m4 0h1m18 0h1m69 0h1m-176 1h1m4 0h1m30 0h1m1 0h1m12 0h2m25 0h1m5 0h1m5 0h1m2 0h1m31 0h2m3 0h1m41 0h1m-153 1h1m28 0h1m9 0h1m60 0h1m2 0h1m-115 1h1m2 0h1m20 0h1m3 0h1m3 0h1m21 0h1m8 0h1m12 0h1m12 0h1m3 0h1m28 0h1m37 0h1m-166 1h1m5 0h1m50 0h1m28 0h1m25 0h1m5 0h1m5 0h1m26 0h1m-129 1h1m7 0h1m1 0h1m7 0h1m3 0h1m79 0h1m-127 1h1m16 0h1m4 0h1m17 0h2m15 0h1m6 0h1m5 0h1m14 0h1m34 0h1m32 0h1m8 0h1m-148 1h1m9 0h1m1 0h1m16 0h1m22 0h1m13 0h1m2 0h1m22 0h1m4 0h1m5 0h1m5 0h1m32 0h1m-144 1h1m9 0h1m12 0h1m7 0h1m23 0h1m30 0h1m4 0h1m46 0h1m-145 1h1m1 0h1m7 0h1m9 0h1m66 0h1m13 0h1m1 0h1m6 0h1m10 0h1m-111 1h1m3 0h1m2 0h1m8 0h2m4 0h1m2 0h1m25 0h1m13 0h1m6 0h1m-65 1h1m68 0h1m32 0h1m40 0h1m-166 1h1m7 0h1m5 0h1m40 0h1m46 0h1m14 0h1m-109 1h1m3 0h1m5 0h1m6 0h1m8 0h1m29 0h1m38 0h1m5 0h1m41 0h1m-153 1h1m6 0h1m7 0h1m4 0h1m19 0h1m76 0h1m4 0h1m-125 1h1m6 0h1m11 0h1m1 0h1m9 0h1m2 0h1m116 0h1m17 0h1m-171 1h1m8 0h1m13 0h1m5 0h1m45 0h1m23 0h1m2 0h1m13 0h1m3 0h1m1 0h1m11 0h1m19 0h1m3 0h1m4 0h1m1 0h1m1 0h1m-153 1h1m12 0h1m3 0h1m41 0h1m10 0h1m67 0h1m10 0h1m1 0h1m-146 1h1m90 0h1m4 0h1m3 0h1m6 0h1m22 0h1m2 0h1m3 0h1m1 0h1m15 0h1m-143 1h1m39 0h1m6 0h1m27 0h1m6 0h1m39 0h1m9 0h1m-143 1h1m122 0h2m2 0h1m-84 1h1m45 0h1m3 0h1m6 0h1m33 0h1m3 0h1m-148 1h1m16 0h1m82 0h1m12 0h1m1 0h1m5 0h1m-134 1h1m3 0h1m16 0h1m64 0h1m29 0h1m1 0h1m15 0h1m10 0h2m-34 1h1m22 0h1m4 0h1m15 0h1m-155 1h1m62 0h1m58 0h1m2 0h1m12 0h1m-116 1h1m110 0h1m31 0h1m-149 1h1m93 0h1m17 0h1m7 0h1m1 0h1m2 0h1m6 0h1m-23 1h1m12 0h1m7 0h1m-43 1h1m10 0h1m1 0h1m12 0h1m-25 1h1m2 0h1m13 0h1m15 0h1m5 0h1m-43 1h1m11 0h1m3 0h1m2 0h1m23 0h1m-41 1h1m18 0h1m13 0h1m4 0h1m-26 1h1m15 0h1m6 0h1m3 0h1m5 0h1m-47 1h1m11 0h1m23 0h2m6 0h1m-103 1h1m58 0h1m4 0h1m16 0h1m1 0h1m5 0h1m5 0h1m8 0h1m-154 1h1m42 0h1m78 0h1m1 0h1m11 0h1m5 0h1m6 0h1m7 0h1m-107 1h1m67 0h1m1 0h1m21 0h1m-28 1h1m-13 1h1m4 0h1m39 0h1m5 0h1m-39 1h1m15 0h1m3 0h1m10 0h1m3 1h1m-97 1h1m71 0h1m13 0h1m-4 1h1m8 0h2m10 0h1m-128 1h1m93 0h1m12 0h1m-29 1h1m8 0h1m17 0h1m13 0h1m-16 1h1m8 0h1m14 0h1m-34 1h1m21 0h1m-16 1h1m1 0h1m2 0h1m12 0h1m6 0h1m-63 1h1m28 0h1m22 0h1m6 0h1m-10 1h1m7 0h1m-27 1h1m10 1h1m6 0h1m-126 1h1m95 0h1m5 0h1m9 0h2m7 0h1m-28 1h1m9 0h1m2 0h1m-72 1h1m56 0h1m14 0h1m2 0h1m4 0h1m2 0h1m1 0h1m-17 1h1m11 0h1m-132 1h1m121 0h1m5 0h1m-15 1h1m1 0h1m8 0h1" stroke="#3a3a3a" stroke-width="1"/>
<path d="M370 572.5h1m-3 3h1m6 0h1m0 1h1m-10 1h1m0 1h1m-2 1h1m2 8h1m5 0h1m-16 1h1m7 0h1m1 0h1m5 0h1m-18 1h1m1 0h1m13 0h1m1 0h1m-18 1h1m8 0h1m-2 1h1m1 0h1m-3 2h1m1 0h1m1 0h1m-2 1h1m1 0h1m-2 1h1m-12 1h1m48 0h1m-44 2h1m26 0h1m-29 2h1m1 0h1m4 0h2m-10 1h1m3 0h1m6 0h1m-7 1h1m3 0h1m-6 1h1m-11 1h1m15 0h1m1 0h1m-18 1h1m15 0h1m-18 1h1m2 0h1m1 0h1m4 0h1m53 0h1m-64 1h1m8 0h1m5 0h1m48 0h1m-66 1h1m12 0h1m1 0h1m1 0h1m32 0h1m-35 1h1m-8 1h1m-4 1h1m8 0h1m7 0h1m-13 1h1m1 0h1m-13 1h1m3 0h1m2 0h1m-5 1h1m6 0h1m45 0h1m-48 1h1m45 0h1m1 0h1m-56 1h1m53 0h1m-46 1h3m4 0h1m60 0h1m-74 1h1m10 0h1m6 0h1m-13 1h1m2 0h1m2 0h1m4 0h1m23 0h1m-39 1h1m1 0h1m-12 1h1m1 0h1m8 0h1m2 0h1m-2 1h1m56 1h1m-64 1h1m1 0h1m5 0h1m8 0h1m44 0h1m1 0h1m-63 1h4m5 0h1m51 0h1m-56 1h2m-16 1h1m5 0h1m15 0h1m46 0h1m-72 1h1m11 0h1m4 0h1m1 0h1m26 0h1m-48 1h1m13 0h1m3 0h1m2 0h1m24 0h1m24 0h1m-77 1h1m10 0h1m13 0h1m51 0h1m-26 1h1m23 0h1m-71 1h1m31 0h1m49 0h1m-77 1h1m9 0h1m1 0h1m7 0h1m2 0h1m4 0h1m32 0h1m-57 1h1m1 0h1m14 0h1m4 0h1m34 0h1m10 0h1m-82 1h1m26 0h1m25 0h1m22 0h1m5 0h1m-84 1h1m1 0h1m4 0h1m18 0h1m2 0h1m25 0h1m10 0h1m7 0h1m3 0h1m-73 1h2m15 0h1m1 0h1m1 0h2m3 0h1m11 0h1m9 0h1m10 0h1m1 0h1m8 0h1m1 0h1m18 0h1m-98 1h1m21 0h1m3 0h1m23 0h1m4 0h1m8 0h1m3 0h1m25 0h1m1 0h1m-98 1h2m15 0h1m1 0h1m2 0h1m55 0h1m17 0h1m-69 1h1m42 0h1m-76 1h1m2 0h1m3 0h1m22 0h1m2 0h1m2 0h1m19 0h1m9 0h1m9 0h1m1 0h1m4 0h1m1 0h1m7 0h1m6 0h1m1 0h1m-101 1h1m1 0h1m1 0h1m19 0h1m5 0h1m2 0h1m3 0h1m35 0h1m3 0h1m4 0h1m5 0h1m1 0h1m3 0h1m-92 1h2m26 0h1m2 0h1m6 0h1m5 0h1m15 0h1m7 0h1m1 0h1m22 0h1m16 0h1m-115 1h1m3 0h1m25 0h1m6 0h1m15 0h1m9 0h1m1 0h1m5 0h1m1 0h1m9 0h1m1 0h1m21 0h1m1 0h1m-108 1h1m21 0h1m6 0h1m4 0h1m7 0h1m7 0h1m2 0h1m5 0h1m2 0h1m9 0h2m8 0h1m2 0h1m3 0h1m11 0h1m2 0h1m5 0h1m-70 1h1m9 0h1m2 0h1m3 0h1m3 0h1m1 0h1m10 0h1m14 0h1m9 0h1m-107 1h1m33 0h2m17 0h1m1 0h1m8 0h1m2 0h1m6 0h2m4 0h1m1 0h1m14 0h1m7 0h1m7 0h1m-112 1h1m6 0h1m17 0h1m4 0h1m3 0h1m12 0h1m4 0h1m1 0h1m8 0h1m2 0h1m1 0h1m2 0h1m2 0h1m5 0h1m12 0h1m5 0h1m3 0h1m6 0h1m4 0h1m9 0h1m-133 1h2m4 0h1m1 0h1m4 0h1m1 0h1m18 0h1m1 0h1m5 0h1m3 0h1m3 0h1m1 0h1m14 0h1m1 0h1m9 0h2m7 0h1m9 0h2m8 0h1m1 0h1m12 0h1m9 0h1m-125 1h1m21 0h1m3 0h1m5 0h1m3 0h1m2 0h2m3 0h1m31 0h1m5 0h1m3 0h1m33 0h1m-98 1h1m2 0h1m2 0h1m1 0h1m3 0h1m7 0h1m5 0h1m1 0h1m25 0h1m3 0h1m3 0h1m6 0h1m1 0h1m2 0h1m23 0h1m-123 1h1m27 0h1m2 0h1m45 0h1m1 0h1m15 0h1m22 0h2m-125 1h3m4 0h1m2 0h1m13 0h1m4 0h1m53 0h1m3 0h1m9 0h1m1 0h1m25 0h1m-130 1h1m6 0h1m8 0h1m18 0h1m6 0h1m46 0h1m2 0h2m5 0h1m6 0h1m-113 1h1m5 0h3m5 0h2m1 0h1m17 0h1m6 0h1m45 0h1m1 0h1m1 0h1m12 0h2m3 0h1m-107 1h3m9 0h1m8 0h1m9 0h1m5 0h1m29 0h1m1 0h1m-66 1h1m8 0h2m7 0h1m8 0h1m48 0h1m1 0h1m8 0h1m1 0h1m3 0h1m3 0h1m-103 1h1m3 0h1m3 0h1m3 0h2m4 0h1m3 0h1m11 0h1m8 0h1m47 0h1m7 0h1m1 0h2m-98 1h1m3 0h1m4 0h1m1 0h1m2 0h1m9 0h1m3 0h1m43 0h1m14 0h1m10 0h1m36 0h1m-135 1h2m5 0h1m1 0h1m2 0h1m1 0h1m4 0h1m4 0h1m41 0h1m18 0h1m9 0h1m-108 1h1m8 0h1m26 0h1m34 0h1m71 0h1m-146 1h1m2 0h1m4 0h1m9 0h1m8 0h1m5 0h1m1 0h1m4 0h1m68 0h1m36 0h1m-137 1h1m11 0h1m5 0h1m4 0h2m1 0h1m2 0h1m1 0h1m61 0h1m41 0h1m-145 1h1m4 0h1m7 0h2m2 0h1m10 0h1m5 0h1m2 0h1m1 0h1m61 0h1m1 0h1m4 0h1m2 0h1m30 0h1m-137 1h1m5 0h1m2 0h1m4 0h1m2 0h1m2 0h1m4 0h1m3 0h1m1 0h1m64 0h1m8 0h1m35 0h1m-143 1h1m7 0h1m7 0h1m2 0h1m3 0h1m7 0h1m53 0h1m18 0h1m30 0h1m2 0h1m1 0h1m1 0h1m-125 1h1m8 0h1m73 0h1m4 0h1m-90 1h1m5 0h1m1 0h1m2 0h1m1 0h1m71 0h1m38 0h1m-144 1h1m9 0h1m9 0h1m59 0h1m25 0h1m7 0h1m-116 1h1m4 0h1m7 0h1m7 0h1m58 0h1m63 0h1m-135 1h1m3 0h1m128 0h1m-124 1h1m89 0h1m2 0h1m28 0h1m2 0h2m-35 1h1m1 0h1m41 0h1m-146 1h1m99 0h1m-102 1h1m132 0h1m-133 1h1m101 0h1m27 0h2m-29 1h1m37 0h1m1 0h1m-40 1h1m7 0h1m20 0h1m8 0h1m-41 1h1m26 0h1m4 1h1m0 2h1m4 1h1m-40 1h1m3 0h2m2 0h1m19 0h1m2 0h1m1 0h1m-31 1h1m3 0h1m-6 1h1m3 0h1m16 0h1m3 0h1m-21 1h1m10 0h2m4 0h1m2 0h1m5 0h1m-38 1h1m8 0h1m28 0h1m-26 1h1m10 0h1m5 0h2m-21 1h1m2 0h2m10 0h2m1 0h1m2 0h1m-23 1h1m1 0h1m3 0h3m3 0h2m3 0h1m12 0h1m-30 1h1m4 0h1m8 0h2m3 0h2m1 0h1m7 0h1m-30 1h1m4 0h1m10 0h1m3 0h1m7 0h1m-24 1h1m9 0h1m-7 1h1m2 0h1m3 0h1m-7 1h1m7 0h1m5 0h1m1 0h1m-12 1h1m9 0h1m-27 1h1m3 0h1m13 0h2m-18 1h1m12 0h1m2 0h1m1 0h1m-20 1h1m2 0h1m4 1h2m3 0h1m-7 1h1m0 1h1m7 0h1m3 0h1m-6 1h1m0 1h1m3 0h1m4 0h1m-9 1h1m1 0h1m2 0h1m1 0h1m-11 1h1m5 0h1m2 0h1m-13 1h1m1 0h1m1 0h1m3 0h1m-8 1h1m1 0h1m13 0h1m-19 1h1m7 3h1m3 0h1m-4 1h1m-2 2h1" stroke="#666" stroke-width="1"/>
<path d="M504 554.5h1m-2 1h1m-74 5h1m-62 11h1m-8 1h1m4 0h2m-3 1h1m1 0h1m1 0h2m2 0h2m-10 1h1m1 0h2m1 0h4m-13 1h1m1 0h1m1 0h1m2 0h3m-10 1h1m1 0h1m1 0h1m5 0h1m-10 1h2m1 0h1m2 0h1m2 0h1m1 0h1m1 0h1m-14 1h1m1 0h2m6 0h3m65 0h2m-84 1h2m2 0h1m1 0h2m2 0h1m3 0h1m1 0h1m4 0h3m-16 1h2m1 0h4m1 0h1m1 0h1m-19 1h2m2 0h1m1 0h2m2 0h1m1 0h1m1 0h1m1 0h1m4 0h2m-27 1h1m13 0h1m1 0h3m1 0h1m56 0h2m-65 1h2m3 0h2m20 0h1m1 0h1m-33 1h1m1 0h1m1 0h1m3 0h1m1 0h1m20 0h2m-31 1h1m1 0h1m4 0h1m15 0h3m3 0h1m1 0h1m19 0h1m-2 1h1m41 0h1m1 0h1m-101 1h2m3 0h1m6 0h1m2 0h1m1 0h1m11 0h3m9 0h2m55 0h1m1 0h1m-98 1h3m6 0h1m3 0h1m1 0h1m69 0h2m-88 1h1m4 0h1m1 0h1m2 0h1m5 0h1m22 0h2m-40 1h2m8 0h3m2 0h1m34 0h1m18 0h1m15 0h2m-87 1h1m1 0h1m7 0h1m1 0h3m31 0h1m2 0h1m1 0h1m3 0h1m13 0h1m-69 1h1m5 0h2m1 0h2m14 0h1m18 0h1m1 0h1m2 0h1m3 0h1m1 0h1m36 0h2m-86 1h1m19 0h2m3 0h1m1 0h1m17 0h1m1 0h1m-60 1h2m1 0h1m1 0h1m1 0h1m1 0h1m4 0h1m2 0h2m15 0h3m24 0h1m30 0h1m3 0h2m-99 1h1m2 0h2m1 0h1m2 0h2m3 0h1m2 0h1m2 0h1m12 0h3m15 0h1m9 0h1m1 0h1m5 0h1m24 0h1m-92 1h1m2 0h4m2 0h1m4 0h1m26 0h4m13 0h3m5 0h1m-70 1h3m1 0h3m3 0h5m3 0h3m7 0h2m5 0h1m8 0h1m3 0h2m1 0h1m10 0h1m1 0h1m-66 1h1m2 0h1m5 0h1m21 0h1m5 0h2m6 0h5m1 0h1m12 0h2m10 0h1m-77 1h1m2 0h5m2 0h1m1 0h3m14 0h3m5 0h1m1 0h1m6 0h1m1 0h1m17 0h3m-70 1h5m7 0h1m5 0h1m17 0h2m1 0h2m7 0h1m1 0h1m9 0h2m1 0h1m3 0h1m2 0h1m-69 1h1m6 0h2m1 0h1m28 0h1m8 0h1m3 0h2m7 0h1m4 0h2m-67 1h4m1 0h2m9 0h1m1 0h1m18 0h1m1 0h1m13 0h1m3 0h3m-61 1h1m2 0h1m2 0h1m1 0h1m2 0h1m5 0h1m2 0h1m1 0h1m16 0h1m1 0h3m1 0h1m1 0h1m1 0h2m1 0h2m1 0h1m-55 1h2m1 0h1m1 0h1m1 0h1m3 0h3m8 0h2m1 0h2m6 0h1m6 0h1m2 0h2m1 0h1m6 0h1m5 0h1m1 0h1m4 0h1m-67 1h2m1 0h1m1 0h2m1 0h1m1 0h1m6 0h1m4 0h1m2 0h1m1 0h1m6 0h1m6 0h1m1 0h1m4 0h2m3 0h2m4 0h1m1 0h2m1 0h2m1 0h1m3 0h1m8 0h1m15 0h1m-101 1h2m6 0h1m5 0h3m2 0h2m8 0h1m1 0h1m20 0h1m5 0h1m5 0h1m4 0h2m5 0h1m23 0h1m-101 1h1m3 0h2m11 0h1m11 0h1m1 0h1m16 0h1m4 0h1m4 0h1m9 0h1m2 0h1m3 0h1m1 0h1m16 0h1m-95 1h1m4 0h1m1 0h1m8 0h1m32 0h1m9 0h1m12 0h1m4 0h1m-77 1h1m1 0h1m2 0h2m7 0h2m17 0h2m15 0h1m1 0h1m3 0h2m1 0h1m12 0h1m1 0h1m-74 1h3m1 0h1m6 0h1m2 0h1m1 0h2m2 0h3m8 0h1m1 0h1m7 0h1m7 0h2m3 0h1m2 0h2m1 0h3m8 0h1m1 0h1m11 0h1m-86 1h1m2 0h2m3 0h3m1 0h2m2 0h1m8 0h1m5 0h3m6 0h1m3 0h1m10 0h1m1 0h4m2 0h1m-76 1h2m10 0h1m2 0h1m1 0h1m1 0h2m7 0h1m2 0h5m1 0h1m19 0h1m11 0h1m1 0h1m1 0h2m-61 1h2m2 0h1m7 0h2m1 0h2m14 0h1m10 0h1m4 0h2m2 0h1m4 0h1m-70 1h1m7 0h4m6 0h2m1 0h1m1 0h1m1 0h1m1 0h1m2 0h1m6 0h2m26 0h2m14 0h2m22 0h1m-107 1h1m11 0h1m2 0h1m10 0h1m1 0h1m2 0h1m8 0h1m4 0h2m14 0h2m2 0h2m38 0h1m1 0h1m5 0h1m-113 1h1m8 0h2m8 0h2m6 0h3m7 0h3m12 0h1m1 0h1m10 0h1m39 0h1m6 0h1m-95 1h1m8 0h1m7 0h1m13 0h1m2 0h1m1 0h1m3 0h3m3 0h1m10 0h2m-62 1h1m5 0h4m2 0h2m2 0h1m2 0h1m14 0h1m1 0h1m6 0h1m1 0h1m2 0h1m13 0h1m5 0h1m6 0h1m1 0h1m-78 1h2m2 0h1m11 0h1m1 0h2m2 0h1m11 0h2m13 0h1m2 0h1m2 0h1m1 0h1m2 0h2m1 0h1m4 0h1m7 0h1m-79 1h2m1 0h1m2 0h2m3 0h1m4 0h1m3 0h1m1 0h2m9 0h3m1 0h1m7 0h1m1 0h1m7 0h1m1 0h1m1 0h1m5 0h1m1 0h3m-67 1h4m4 0h2m2 0h1m16 0h1m2 0h3m9 0h1m1 0h1m4 0h1m3 0h1m8 0h1m-70 1h1m2 0h1m2 0h1m1 0h1m8 0h1m6 0h2m4 0h4m1 0h2m14 0h1m4 0h2m2 0h2m10 0h2m7 0h1m1 0h1m3 0h1m-89 1h1m2 0h1m2 0h1m1 0h2m5 0h5m4 0h1m2 0h1m2 0h1m3 0h1m17 0h2m22 0h1m5 0h1m1 0h1m-85 1h1m1 0h1m2 0h1m2 0h1m11 0h1m2 0h2m5 0h1m1 0h2m11 0h1m5 0h1m1 0h1m11 0h1m9 0h1m1 0h1m-77 1h3m17 0h2m1 0h2m5 0h1m12 0h1m7 0h1m13 0h1m9 0h1m-74 1h1m18 0h3m22 0h1m1 0h1m15 0h3m5 0h1m7 0h1m-80 1h1m3 0h1m1 0h1m37 0h2m1 0h1m11 0h1m3 0h1m1 0h1m8 0h2m2 0h1m-82 1h1m2 0h1m3 0h3m16 0h1m4 0h1m3 0h2m7 0h1m1 0h1m16 0h1m2 0h1m1 0h1m3 0h1m1 0h1m1 0h1m-83 1h2m1 0h1m8 0h2m12 0h1m2 0h3m2 0h4m5 0h2m4 0h1m4 0h3m3 0h1m7 0h2m6 0h2m2 0h1m2 0h2m-86 1h1m4 0h1m2 0h1m3 0h2m7 0h2m7 0h1m3 0h1m4 0h4m3 0h1m6 0h1m7 0h1m20 0h2m-83 1h2m1 0h1m1 0h2m20 0h3m1 0h3m1 0h2m1 0h1m2 0h2m2 0h2m1 0h1m4 0h1m1 0h1m9 0h1m10 0h2m12 0h4m-90 1h2m1 0h1m20 0h1m1 0h1m3 0h2m1 0h2m2 0h1m1 0h1m1 0h2m1 0h1m4 0h1m2 0h2m6 0h1m12 0h1m1 0h1m9 0h1m2 0h1m-90 1h1m1 0h4m11 0h1m7 0h3m4 0h1m3 0h1m6 0h2m1 0h1m3 0h1m1 0h2m1 0h1m18 0h1m1 0h1m8 0h2m2 0h1m11 0h2m-102 1h3m1 0h1m11 0h1m5 0h2m2 0h3m1 0h1m3 0h3m6 0h2m1 0h1m3 0h2m18 0h1m16 0h1m14 0h1m2 0h1m1 0h1m-108 1h1m21 0h1m3 0h1m1 0h1m5 0h1m2 0h1m5 0h1m2 0h1m2 0h1m2 0h1m4 0h1m7 0h2m4 0h1m4 0h1m10 0h1m1 0h1m1 0h1m8 0h2m3 0h1m1 0h1m-108 1h1m21 0h1m3 0h1m7 0h3m4 0h3m2 0h3m3 0h3m5 0h1m1 0h1m6 0h2m2 0h1m11 0h2m4 0h3m3 0h1m1 0h2m-102 1h1m2 0h2m18 0h1m8 0h1m3 0h1m1 0h1m3 0h1m4 0h1m2 0h2m3 0h1m2 0h3m2 0h4m7 0h1m2 0h1m7 0h1m1 0h1m2 0h3m1 0h3m1 0h1m2 0h1m-103 1h2m2 0h1m19 0h1m2 0h1m2 0h1m1 0h5m1 0h1m1 0h1m3 0h4m1 0h2m3 0h3m4 0h4m7 0h1m2 0h1m1 0h2m3 0h2m1 0h1m1 0h2m1 0h1m2 0h3m5 0h2m4 0h2m-116 1h1m5 0h1m27 0h2m2 0h2m1 0h1m3 0h1m1 0h1m11 0h1m1 0h1m2 0h1m1 0h3m1 0h4m1 0h3m5 0h2m1 0h1m4 0h1m2 0h1m1 0h2m2 0h1m1 0h2m4 0h1m1 0h1m5 0h1m2 0h2m11 0h1m-129 1h1m35 0h1m1 0h1m3 0h3m5 0h1m4 0h1m1 0h1m1 0h3m3 0h1m2 0h2m8 0h1m2 0h1m2 0h1m1 0h3m1 0h2m2 0h3m1 0h1m1 0h1m1 0h1m1 0h2m4 0h1m1 0h1m4 0h1m9 0h1m-96 1h1m2 0h1m3 0h1m7 0h1m1 0h1m1 0h1m3 0h1m8 0h3m5 0h1m2 0h1m2 0h1m2 0h1m6 0h3m5 0h4m15 0h1m1 0h2m8 0h2m-129 1h2m29 0h1m6 0h1m4 0h4m1 0h2m2 0h1m1 0h2m6 0h3m1 0h1m1 0h2m1 0h1m1 0h1m21 0h1m5 0h2m1 0h2m9 0h1m2 0h1m3 0h1m-125 1h2m1 0h2m1 0h1m26 0h2m2 0h1m2 0h2m1 0h2m3 0h4m1 0h1m1 0h2m1 0h2m6 0h2m1 0h1m11 0h1m3 0h3m6 0h1m1 0h3m1 0h1m2 0h4m5 0h1m1 0h3m6 0h1m5 0h1m-131 1h1m2 0h2m1 0h2m26 0h1m2 0h1m1 0h1m3 0h3m3 0h2m3 0h1m4 0h1m1 0h1m3 0h2m5 0h1m1 0h2m3 0h1m2 0h1m2 0h1m1 0h1m3 0h2m3 0h2m1 0h1m1 0h1m4 0h5m4 0h1m2 0h1m1 0h2m-123 1h1m1 0h3m26 0h1m1 0h3m5 0h1m2 0h1m1 0h2m4 0h4m7 0h1m1 0h1m3 0h1m1 0h2m1 0h1m2 0h1m5 0h1m3 0h2m3 0h1m6 0h1m3 0h5m11 0h1m7 0h1m1 0h1m-133 1h1m2 0h1m1 0h3m25 0h1m3 0h3m1 0h1m4 0h2m1 0h1m4 0h2m3 0h1m1 0h1m1 0h2m6 0h1m4 0h1m4 0h1m3 0h1m1 0h1m3 0h1m1 0h2m8 0h3m3 0h1m3 0h3m7 0h1m6 0h1m1 0h1m-145 1h1m10 0h2m1 0h2m29 0h4m5 0h2m1 0h2m2 0h1m1 0h3m2 0h1m6 0h1m2 0h3m1 0h1m5 0h2m5 0h2m3 0h3m14 0h4m4 0h3m6 0h1m1 0h1m6 0h1m-144 1h1m13 0h2m4 0h1m3 0h1m20 0h1m9 0h1m2 0h4m1 0h1m1 0h1m3 0h1m5 0h2m9 0h1m2 0h1m5 0h2m16 0h1m6 0h1m4 0h1m4 0h1m4 0h1m1 0h1m8 0h1m-152 1h1m9 0h4m2 0h1m4 0h1m5 0h3m19 0h1m2 0h1m8 0h1m9 0h1m2 0h1m2 0h3m1 0h1m7 0h3m1 0h1m5 0h3m4 0h1m11 0h1m22 0h1m1 0h2m1 0h1m1 0h1m-149 1h1m7 0h3m1 0h1m2 0h1m6 0h1m1 0h1m2 0h1m26 0h2m4 0h1m12 0h2m2 0h1m1 0h1m2 0h2m3 0h1m4 0h2m4 0h1m7 0h2m9 0h2m29 0h2m-141 1h3m3 0h1m1 0h2m2 0h1m1 0h3m1 0h2m19 0h1m4 0h2m4 0h1m3 0h2m2 0h2m2 0h2m1 0h1m4 0h1m6 0h1m3 0h3m1 0h1m1 0h2m1 0h3m3 0h2m5 0h1m-106 1h3m7 0h1m3 0h1m1 0h1m2 0h1m1 0h3m18 0h2m4 0h1m2 0h2m2 0h1m2 0h3m1 0h1m3 0h1m1 0h1m1 0h3m3 0h1m1 0h1m3 0h2m1 0h1m1 0h1m16 0h2m32 0h1m2 0h1m-151 1h1m1 0h1m13 0h5m4 0h1m5 0h1m20 0h1m1 0h2m1 0h3m3 0h1m2 0h1m2 0h1m2 0h4m1 0h3m1 0h2m4 0h1m8 0h1m1 0h3m2 0h1m4 0h1m4 0h1m6 0h1m2 0h1m24 0h2m-150 1h1m1 0h1m10 0h3m41 0h1m4 0h1m4 0h3m5 0h1m1 0h2m1 0h1m4 0h2m4 0h2m3 0h3m2 0h1m1 0h2m3 0h2m12 0h2m26 0h1m5 0h2m-158 1h1m10 0h1m16 0h1m5 0h1m16 0h1m5 0h3m1 0h1m8 0h5m2 0h1m1 0h4m1 0h2m1 0h1m7 0h1m1 0h1m7 0h2m4 0h2m38 0h1m-153 1h1m10 0h1m10 0h2m27 0h3m16 0h2m8 0h1m7 0h1m6 0h1m1 0h4m2 0h1m3 0h1m4 0h2m5 0h2m1 0h1m34 0h2m-158 1h1m3 0h1m3 0h3m10 0h2m26 0h2m6 0h1m1 0h3m6 0h1m1 0h1m9 0h5m8 0h1m1 0h1m6 0h4m4 0h1m7 0h2m32 0h3m3 0h2m-161 1h1m3 0h2m1 0h1m4 0h1m10 0h1m12 0h1m2 0h1m28 0h3m12 0h1m1 0h1m1 0h2m3 0h1m1 0h3m5 0h1m1 0h2m3 0h2m2 0h1m6 0h2m34 0h1m1 0h1m-152 1h1m1 0h2m1 0h1m1 0h3m3 0h1m3 0h1m8 0h1m2 0h1m3 0h2m5 0h2m2 0h1m6 0h1m1 0h2m6 0h1m12 0h1m1 0h2m1 0h1m2 0h1m4 0h1m1 0h2m1 0h1m5 0h2m3 0h1m1 0h1m45 0h3m3 0h1m-160 1h5m1 0h1m3 0h1m4 0h1m12 0h1m16 0h1m4 0h1m1 0h3m9 0h1m10 0h1m1 0h1m3 0h1m5 0h1m1 0h2m1 0h3m2 0h3m4 0h3m3 0h2m1 0h1m2 0h2m30 0h2m2 0h1m6 0h1m-165 1h1m5 0h1m2 0h1m2 0h3m1 0h2m3 0h1m6 0h2m2 0h2m13 0h1m1 0h1m6 0h2m21 0h1m7 0h1m4 0h1m1 0h1m10 0h3m1 0h1m1 0h1m7 0h2m1 0h2m30 0h1m1 0h1m-157 1h1m5 0h1m2 0h1m2 0h1m4 0h2m1 0h2m25 0h1m2 0h1m7 0h2m19 0h2m1 0h2m4 0h2m2 0h1m1 0h1m9 0h1m2 0h1m1 0h1m6 0h1m1 0h1m4 0h1m32 0h1m-151 1h2m18 0h4m5 0h1m1 0h3m6 0h1m5 0h1m5 0h1m1 0h1m7 0h2m8 0h3m2 0h1m4 0h1m1 0h1m1 0h2m10 0h1m2 0h1m2 0h1m4 0h2m1 0h2m35 0h1m-152 1h2m1 0h1m3 0h3m4 0h1m1 0h2m6 0h1m9 0h2m4 0h1m5 0h1m1 0h1m3 0h1m1 0h2m3 0h1m3 0h1m12 0h3m6 0h1m8 0h1m1 0h1m4 0h1m1 0h1m6 0h1m4 0h1m32 0h1m1 0h1m1 0h3m-156 1h1m1 0h1m3 0h1m1 0h1m1 0h1m2 0h2m5 0h1m3 0h1m3 0h1m11 0h1m4 0h1m1 0h1m1 0h1m3 0h1m5 0h1m1 0h1m3 0h2m28 0h1m1 0h2m1 0h1m1 0h1m1 0h1m5 0h1m1 0h1m2 0h1m31 0h2m2 0h1m4 0h2m-164 1h2m16 0h1m2 0h1m1 0h1m4 0h4m3 0h1m2 0h2m10 0h1m2 0h1m1 0h1m1 0h2m7 0h1m24 0h1m1 0h1m10 0h1m1 0h1m7 0h1m1 0h1m1 0h1m4 0h3m27 0h1m2 0h1m3 0h1m3 0h1m-157 1h2m6 0h1m1 0h1m1 0h2m1 0h3m6 0h1m1 0h1m2 0h1m5 0h1m1 0h1m2 0h1m35 0h1m8 0h1m10 0h1m19 0h1m35 0h2m2 0h1m-151 1h1m1 0h1m1 0h1m1 0h1m3 0h1m1 0h1m3 0h2m1 0h1m3 0h1m5 0h1m5 0h1m9 0h2m7 0h3m14 0h1m5 0h2m1 0h1m7 0h2m2 0h1m52 0h1m4 0h2m-158 1h3m2 0h1m2 0h1m1 0h1m1 0h1m6 0h2m2 0h2m3 0h1m3 0h1m1 0h1m1 0h1m1 0h2m1 0h1m18 0h1m24 0h1m12 0h1m4 0h2m2 0h1m2 0h1m1 0h1m41 0h2m-155 1h1m2 0h1m4 0h1m5 0h2m1 0h1m9 0h2m3 0h1m2 0h2m13 0h2m8 0h2m39 0h1m3 0h1m1 0h1m5 0h2m35 0h2m3 0h2m-154 1h1m1 0h3m1 0h1m12 0h1m63 0h2m18 0h1m7 0h1m37 0h1m-149 1h1m5 0h1m4 0h1m4 0h1m1 0h1m1 0h1m124 0h1m-158 1h2m11 0h1m3 0h1m5 0h1m1 0h2m1 0h1m1 0h2m75 0h1m14 0h1m1 0h1m1 0h1m29 0h2m2 0h2m-158 1h1m6 0h2m5 0h2m7 0h1m69 0h2m8 0h1m13 0h2m34 0h3m3 0h1m1 0h1m2 0h1m1 0h1m-171 1h4m6 0h1m1 0h1m5 0h1m1 0h1m96 0h1m1 0h1m2 0h1m1 0h1m35 0h2m1 0h1m1 0h1m3 0h1m-169 1h1m1 0h1m6 0h2m8 0h1m1 0h1m74 0h2m18 0h1m1 0h1m1 0h1m2 0h1m32 0h1m6 0h1m-163 1h1m6 0h1m13 0h1m5 0h1m3 0h1m4 0h1m1 0h1m34 0h1m42 0h1m3 0h1m1 0h3m31 0h1m-129 1h1m7 0h1m1 0h1m35 0h1m40 0h2m2 0h4m2 0h1m31 0h1m4 0h1m3 0h1m-94 1h1m41 0h1m7 0h1m1 0h1m30 0h1m1 0h1m6 0h1m-50 1h1m1 0h3m2 0h1m27 0h2m4 0h1m-41 1h1m5 0h1m27 0h1m1 0h1m4 0h1m-45 1h1m1 0h1m1 0h2m3 0h1m30 0h3m-43 1h1m1 0h1m5 0h1m28 0h3m1 0h2m1 0h1m-44 1h2m3 0h1m1 0h1m3 0h1m3 0h1m27 0h1m2 0h1m1 0h1m-158 1h2m115 0h1m1 0h1m25 0h3m1 0h1m1 0h1m3 0h2m-44 1h2m3 0h1m22 0h1m8 0h1m1 0h1m-41 1h1m2 0h1m2 0h1m21 0h1m4 0h3m4 0h1m-38 1h1m2 0h1m4 0h2m10 0h2m9 0h1m2 0h1m-32 1h4m2 0h2m1 0h1m8 0h1m10 0h2m1 0h1m-43 1h1m10 0h1m1 0h2m2 0h1m10 0h1m7 0h1m3 0h2m-44 1h3m4 0h1m4 0h1m3 0h1m9 0h2m9 0h2m1 0h2m1 0h2m1 0h1m-44 1h1m2 0h1m1 0h1m8 0h1m2 0h1m6 0h1m1 0h1m11 0h2m1 0h1m-39 1h1m1 0h1m1 0h1m5 0h2m2 0h1m6 0h1m1 0h2m3 0h1m5 0h1m1 0h2m1 0h2m-44 1h1m2 0h1m1 0h1m6 0h1m1 0h1m2 0h3m3 0h1m1 0h1m1 0h2m5 0h2m1 0h3m1 0h1m3 0h1m-45 1h1m4 0h2m5 0h1m1 0h1m1 0h1m2 0h1m1 0h2m3 0h1m3 0h1m1 0h2m5 0h1m1 0h1m2 0h2m-47 1h1m9 0h3m2 0h3m1 0h2m1 0h1m1 0h1m2 0h1m17 0h1m-37 1h1m2 0h1m1 0h1m1 0h1m1 0h1m2 0h1m1 0h1m1 0h1m12 0h1m6 0h2m-141 1h1m1 0h1m100 0h3m1 0h1m2 0h3m2 0h1m1 0h3m1 0h2m2 0h1m3 0h1m2 0h1m5 0h1m1 0h1m-141 1h1m1 0h1m105 0h1m6 0h2m2 0h2m1 0h1m2 0h1m6 0h1m5 0h1m1 0h1m-38 1h2m4 0h1m1 0h1m3 0h2m3 0h2m3 0h2m1 0h1m1 0h2m3 0h1m-27 1h1m1 0h1m1 0h1m1 0h1m1 0h1m3 0h1m4 0h1m3 0h2m4 0h1m4 0h2m-33 1h1m3 0h2m4 0h1m1 0h1m3 0h1m2 0h1m2 0h1m1 0h2m4 0h1m-25 1h1m2 0h1m2 0h1m9 0h2m1 0h1m5 0h2m-29 1h3m1 0h1m3 0h1m4 0h1m3 0h1m-9 1h2m3 0h1m2 0h2m3 0h3m-28 1h2m9 0h2m1 0h1m9 0h1m3 0h1m-19 1h1m4 0h2m1 0h1m1 0h1m3 0h4m-28 1h2m6 0h1m6 0h1m4 0h1m1 0h1m2 0h2m10 0h2m-35 1h2m2 0h1m6 0h2m2 0h1m1 0h2m-12 1h1m8 0h1m4 0h2m6 0h1m-25 1h1m1 0h1m1 0h2m1 0h2m1 0h4m3 0h5m3 0h1m-23 1h1m2 0h1m1 0h3m5 0h2m-15 1h1m2 0h1m3 0h1m6 0h2m1 0h2m-36 1h1m7 0h1m11 0h2m3 0h1m-28 1h1m1 0h1m7 0h1m4 0h1m2 0h2m2 0h2m2 0h1m1 0h1m-28 1h1m9 0h2m1 0h1m4 0h4m2 0h1m1 0h1m-13 1h1m7 0h1m1 0h1m-18 2h1" stroke="#aaa" stroke-width="1"/>
<path d="M73.2 210.8v2.2M58.5 197.5h-2.2M81.8 210.8v2.2M58.5 189.7h-2.2M87.9 210.8v2.2M58.5 184.2h-2.2M92.6 210.8v2.2M58.5 179.9h-2.2M96.5 210.8v2.2M58.5 176.4h-2.2M99.7 210.8v2.2M58.5 173.4h-2.2M102.5 210.8v2.2M58.5 170.9h-2.2M105.0 210.8v2.2M58.5 168.6h-2.2M107.3 210.8v4.2M58.5 166.6h-4.2M122.0 210.8v2.2M58.5 153.3h-2.2M130.5 210.8v2.2M58.5 145.5h-2.2M136.6 210.8v2.2M58.5 140.0h-2.2M141.4 210.8v2.2M58.5 135.7h-2.2M145.2 210.8v2.2M58.5 132.2h-2.2M148.5 210.8v2.2M58.5 129.2h-2.2M151.3 210.8v2.2M58.5 126.7h-2.2M153.8 210.8v2.2M58.5 124.4h-2.2M156.1 210.8v4.2M58.5 122.4h-4.2M170.7 210.8v2.2M58.5 109.1h-2.2M179.3 210.8v2.2M58.5 101.3h-2.2M185.4 210.8v2.2M58.5 95.8h-2.2M190.1 210.8v2.2M58.5 91.5h-2.2M194.0 210.8v2.2M58.5 88.0h-2.2M197.3 210.8v2.2M58.5 85.0h-2.2M200.1 210.8v2.2M58.5 82.5h-2.2M202.6 210.8v2.2M58.5 80.2h-2.2M204.8 210.8v4.2M58.5 78.2h-4.2M219.5 210.8v2.2M58.5 64.9h-2.2M228.1 210.8v2.2M58.5 57.1h-2.2M234.2 210.8v2.2M58.5 51.6h-2.2M238.9 210.8v2.2M58.5 47.3h-2.2M242.8 210.8v2.2M58.5 43.8h-2.2M246.0 210.8v2.2M58.5 40.8h-2.2M248.9 210.8v2.2M58.5 38.3h-2.2M251.4 210.8v2.2M58.5 36.0h-2.2M58.5 210.8v3.8M58.5 210.8h-3.8M253.6 210.8v3.8M58.5 34.0h-3.8" stroke="#222" stroke-width="1.15" fill="none"/>
<rect x="58.5" y="34.0" width="195.1" height="176.8" fill="none" stroke="#1c1c1c" stroke-width="1.45"/>
<path d="M65.5 52.5H240.2" stroke="#5a5a5a" stroke-width="1.25" fill="none" stroke-dasharray="6.5 5.43"/>
<path d="M240.2 52.5V128.8" stroke="#5a5a5a" stroke-width="1.25" fill="none" stroke-dasharray="6.8 5.6"/>
<path d="M67.3 128.8H240.2" stroke="#5a5a5a" stroke-width="1.25" fill="none" stroke-dasharray="6.5 5.43"/>
<path d="M65.5 58.5V128.8" stroke="#5a5a5a" stroke-width="1.25" fill="none" stroke-dasharray="6.2 5.6"/>
<text transform="translate(51.54 225.52) scale(0.773 1)" font-family="Liberation Sans" font-weight="normal" font-style="normal" font-size="9.50" fill="#111"  stroke="#111" stroke-width="0.18">10</text>
<text transform="translate(60.20 220.72) scale(0.800 1)" font-family="Liberation Sans" font-weight="normal" font-style="normal" font-size="8.87" fill="#111" stroke="#111" stroke-width="0.18">0</text>
<text transform="translate(100.31 225.52) scale(0.773 1)" font-family="Liberation Sans" font-weight="normal" font-style="normal" font-size="9.50" fill="#111"  stroke="#111" stroke-width="0.18">10</text>
<text transform="translate(108.71 220.81) scale(0.800 1)" font-family="Liberation Sans" font-weight="normal" font-style="normal" font-size="9.13" fill="#111" stroke="#111" stroke-width="0.18">1</text>
<text transform="translate(149.09 225.52) scale(0.773 1)" font-family="Liberation Sans" font-weight="normal" font-style="normal" font-size="9.50" fill="#111"  stroke="#111" stroke-width="0.18">10</text>
<text transform="translate(157.67 220.81) scale(0.800 1)" font-family="Liberation Sans" font-weight="normal" font-style="normal" font-size="9.00" fill="#111" stroke="#111" stroke-width="0.18">2</text>
<text transform="translate(197.86 225.52) scale(0.773 1)" font-family="Liberation Sans" font-weight="normal" font-style="normal" font-size="9.50" fill="#111"  stroke="#111" stroke-width="0.18">10</text>
<text transform="translate(206.54 220.72) scale(0.800 1)" font-family="Liberation Sans" font-weight="normal" font-style="normal" font-size="8.87" fill="#111" stroke="#111" stroke-width="0.18">3</text>
<text transform="translate(246.64 225.52) scale(0.773 1)" font-family="Liberation Sans" font-weight="normal" font-style="normal" font-size="9.50" fill="#111"  stroke="#111" stroke-width="0.18">10</text>
<text transform="translate(255.42 220.81) scale(0.800 1)" font-family="Liberation Sans" font-weight="normal" font-style="normal" font-size="9.13" fill="#111" stroke="#111" stroke-width="0.18">4</text>
<text transform="translate(51.32 216.52) rotate(-90) scale(0.720 1)" font-family="Liberation Sans" font-weight="normal" font-style="normal" font-size="9.50" fill="#111"  stroke="#111" stroke-width="0.18">10</text>
<text transform="translate(46.02 207.41) rotate(-90) scale(0.782 1)" font-family="Liberation Sans" font-weight="normal" font-style="normal" font-size="9.50" fill="#111"  stroke="#111" stroke-width="0.18">0</text>
<text transform="translate(51.32 172.32) rotate(-90) scale(0.720 1)" font-family="Liberation Sans" font-weight="normal" font-style="normal" font-size="9.50" fill="#111"  stroke="#111" stroke-width="0.18">10</text>
<text transform="translate(46.11 163.48) rotate(-90) scale(0.779 1)" font-family="Liberation Sans" font-weight="normal" font-style="normal" font-size="9.77" fill="#111"  stroke="#111" stroke-width="0.18">1</text>
<text transform="translate(51.32 128.12) rotate(-90) scale(0.720 1)" font-family="Liberation Sans" font-weight="normal" font-style="normal" font-size="9.50" fill="#111"  stroke="#111" stroke-width="0.18">10</text>
<text transform="translate(46.11 119.09) rotate(-90) scale(0.780 1)" font-family="Liberation Sans" font-weight="normal" font-style="normal" font-size="9.63" fill="#111"  stroke="#111" stroke-width="0.18">2</text>
<text transform="translate(51.32 83.92) rotate(-90) scale(0.720 1)" font-family="Liberation Sans" font-weight="normal" font-style="normal" font-size="9.50" fill="#111"  stroke="#111" stroke-width="0.18">10</text>
<text transform="translate(46.02 74.79) rotate(-90) scale(0.782 1)" font-family="Liberation Sans" font-weight="normal" font-style="normal" font-size="9.50" fill="#111"  stroke="#111" stroke-width="0.18">3</text>
<text transform="translate(51.32 39.72) rotate(-90) scale(0.720 1)" font-family="Liberation Sans" font-weight="normal" font-style="normal" font-size="9.50" fill="#111"  stroke="#111" stroke-width="0.18">10</text>
<text transform="translate(46.11 30.48) rotate(-90) scale(0.785 1)" font-family="Liberation Sans" font-weight="normal" font-style="normal" font-size="9.77" fill="#111"  stroke="#111" stroke-width="0.18">4</text>
<text transform="translate(143.53 233.72) scale(0.953 1)" font-family="Liberation Sans" font-weight="normal" font-style="normal" font-size="8.65" fill="#111"  stroke="#111" stroke-width="0.18">CFSE</text>
<text transform="translate(37.78 155.58) rotate(-90) scale(1.288 1)" font-family="Liberation Sans" font-weight="normal" font-style="normal" font-size="6.43" fill="#111"  stroke="#111" stroke-width="0.18">IFN-gamma-APC</text>
<text transform="translate(87.44 29.83) scale(1.081 1)" font-family="Liberation Sans" font-weight="normal" font-style="normal" font-size="8.33" fill="#111"  stroke="#111" stroke-width="0.18">GIMcDC 3×10^5 Tcells06.002</text>
<text transform="translate(69.78 71.29) scale(1.032 1)" font-family="Liberation Sans" font-weight="bold" font-style="normal" font-size="16.11" fill="#111"  stroke="#111" stroke-width="0.5">0.5%</text>
<path d="M318.1 209.0v2.2M303.2 195.8h-2.2M326.8 209.0v2.2M303.2 188.1h-2.2M333.0 209.0v2.2M303.2 182.7h-2.2M337.8 209.0v2.2M303.2 178.4h-2.2M341.7 209.0v2.2M303.2 175.0h-2.2M345.0 209.0v2.2M303.2 172.0h-2.2M347.9 209.0v2.2M303.2 169.5h-2.2M350.4 209.0v2.2M303.2 167.3h-2.2M352.6 209.0v4.2M303.2 165.3h-4.2M367.5 209.0v2.2M303.2 152.1h-2.2M376.2 209.0v2.2M303.2 144.4h-2.2M382.4 209.0v2.2M303.2 138.9h-2.2M387.2 209.0v2.2M303.2 134.7h-2.2M391.1 209.0v2.2M303.2 131.3h-2.2M394.4 209.0v2.2M303.2 128.3h-2.2M397.3 209.0v2.2M303.2 125.8h-2.2M399.8 209.0v2.2M303.2 123.6h-2.2M402.1 209.0v4.2M303.2 121.5h-4.2M417.0 209.0v2.2M303.2 108.4h-2.2M425.7 209.0v2.2M303.2 100.7h-2.2M431.9 209.0v2.2M303.2 95.2h-2.2M436.7 209.0v2.2M303.2 91.0h-2.2M440.6 209.0v2.2M303.2 87.5h-2.2M443.9 209.0v2.2M303.2 84.6h-2.2M446.8 209.0v2.2M303.2 82.1h-2.2M449.3 209.0v2.2M303.2 79.8h-2.2M451.6 209.0v4.2M303.2 77.8h-4.2M466.4 209.0v2.2M303.2 64.7h-2.2M475.1 209.0v2.2M303.2 57.0h-2.2M481.3 209.0v2.2M303.2 51.5h-2.2M486.1 209.0v2.2M303.2 47.3h-2.2M490.0 209.0v2.2M303.2 43.8h-2.2M493.3 209.0v2.2M303.2 40.9h-2.2M496.2 209.0v2.2M303.2 38.3h-2.2M498.7 209.0v2.2M303.2 36.1h-2.2M303.2 209.0v3.8M303.2 209.0h-3.8M501.0 209.0v3.8M303.2 34.1h-3.8" stroke="#222" stroke-width="1.15" fill="none"/>
<rect x="303.2" y="34.1" width="197.8" height="174.9" fill="none" stroke="#1c1c1c" stroke-width="1.45"/>
<path d="M311.8 53.1H486.5" stroke="#5a5a5a" stroke-width="1.25" fill="none" stroke-dasharray="6.5 5.43"/>
<path d="M486.5 53.1V129.0" stroke="#5a5a5a" stroke-width="1.25" fill="none" stroke-dasharray="6.8 5.6"/>
<path d="M313.6 129.0H486.5" stroke="#5a5a5a" stroke-width="1.25" fill="none" stroke-dasharray="6.5 5.43"/>
<path d="M311.8 59.1V129.0" stroke="#5a5a5a" stroke-width="1.25" fill="none" stroke-dasharray="6.2 5.6"/>
<text transform="translate(296.24 223.72) scale(0.773 1)" font-family="Liberation Sans" font-weight="normal" font-style="normal" font-size="9.50" fill="#111"  stroke="#111" stroke-width="0.18">10</text>
<text transform="translate(304.90 218.92) scale(0.800 1)" font-family="Liberation Sans" font-weight="normal" font-style="normal" font-size="8.87" fill="#111" stroke="#111" stroke-width="0.18">0</text>
<text transform="translate(345.69 223.72) scale(0.773 1)" font-family="Liberation Sans" font-weight="normal" font-style="normal" font-size="9.50" fill="#111"  stroke="#111" stroke-width="0.18">10</text>
<text transform="translate(354.08 219.01) scale(0.800 1)" font-family="Liberation Sans" font-weight="normal" font-style="normal" font-size="9.13" fill="#111" stroke="#111" stroke-width="0.18">1</text>
<text transform="translate(395.14 223.72) scale(0.773 1)" font-family="Liberation Sans" font-weight="normal" font-style="normal" font-size="9.50" fill="#111"  stroke="#111" stroke-width="0.18">10</text>
<text transform="translate(403.72 219.01) scale(0.800 1)" font-family="Liberation Sans" font-weight="normal" font-style="normal" font-size="9.00" fill="#111" stroke="#111" stroke-width="0.18">2</text>
<text transform="translate(444.59 223.72) scale(0.773 1)" font-family="Liberation Sans" font-weight="normal" font-style="normal" font-size="9.50" fill="#111"  stroke="#111" stroke-width="0.18">10</text>
<text transform="translate(453.27 218.92) scale(0.800 1)" font-family="Liberation Sans" font-weight="normal" font-style="normal" font-size="8.87" fill="#111" stroke="#111" stroke-width="0.18">3</text>
<text transform="translate(494.04 223.72) scale(0.773 1)" font-family="Liberation Sans" font-weight="normal" font-style="normal" font-size="9.50" fill="#111"  stroke="#111" stroke-width="0.18">10</text>
<text transform="translate(502.82 219.01) scale(0.800 1)" font-family="Liberation Sans" font-weight="normal" font-style="normal" font-size="9.13" fill="#111" stroke="#111" stroke-width="0.18">4</text>
<text transform="translate(296.02 214.72) rotate(-90) scale(0.720 1)" font-family="Liberation Sans" font-weight="normal" font-style="normal" font-size="9.50" fill="#111"  stroke="#111" stroke-width="0.18">10</text>
<text transform="translate(290.72 205.61) rotate(-90) scale(0.782 1)" font-family="Liberation Sans" font-weight="normal" font-style="normal" font-size="9.50" fill="#111"  stroke="#111" stroke-width="0.18">0</text>
<text transform="translate(296.02 171.00) rotate(-90) scale(0.720 1)" font-family="Liberation Sans" font-weight="normal" font-style="normal" font-size="9.50" fill="#111"  stroke="#111" stroke-width="0.18">10</text>
<text transform="translate(290.81 162.16) rotate(-90) scale(0.779 1)" font-family="Liberation Sans" font-weight="normal" font-style="normal" font-size="9.77" fill="#111"  stroke="#111" stroke-width="0.18">1</text>
<text transform="translate(296.02 127.27) rotate(-90) scale(0.720 1)" font-family="Liberation Sans" font-weight="normal" font-style="normal" font-size="9.50" fill="#111"  stroke="#111" stroke-width="0.18">10</text>
<text transform="translate(290.81 118.24) rotate(-90) scale(0.780 1)" font-family="Liberation Sans" font-weight="normal" font-style="normal" font-size="9.63" fill="#111"  stroke="#111" stroke-width="0.18">2</text>
<text transform="translate(296.02 83.55) rotate(-90) scale(0.720 1)" font-family="Liberation Sans" font-weight="normal" font-style="normal" font-size="9.50" fill="#111"  stroke="#111" stroke-width="0.18">10</text>
<text transform="translate(290.72 74.41) rotate(-90) scale(0.782 1)" font-family="Liberation Sans" font-weight="normal" font-style="normal" font-size="9.50" fill="#111"  stroke="#111" stroke-width="0.18">3</text>
<text transform="translate(296.02 39.82) rotate(-90) scale(0.720 1)" font-family="Liberation Sans" font-weight="normal" font-style="normal" font-size="9.50" fill="#111"  stroke="#111" stroke-width="0.18">10</text>
<text transform="translate(290.81 30.58) rotate(-90) scale(0.785 1)" font-family="Liberation Sans" font-weight="normal" font-style="normal" font-size="9.77" fill="#111"  stroke="#111" stroke-width="0.18">4</text>
<text transform="translate(389.58 231.92) scale(0.953 1)" font-family="Liberation Sans" font-weight="normal" font-style="normal" font-size="8.65" fill="#111"  stroke="#111" stroke-width="0.18">CFSE</text>
<text transform="translate(282.48 154.73) rotate(-90) scale(1.288 1)" font-family="Liberation Sans" font-weight="normal" font-style="normal" font-size="6.43" fill="#111"  stroke="#111" stroke-width="0.18">IFN-gamma-APC</text>
<text transform="translate(327.89 30.13) scale(1.121 1)" font-family="Liberation Sans" font-weight="normal" font-style="normal" font-size="7.92" fill="#111"  stroke="#111" stroke-width="0.18">TNP McDC 3×10^5 Tcells09.002</text>
<text transform="translate(314.41 70.69) scale(1.032 1)" font-family="Liberation Sans" font-weight="bold" font-style="normal" font-size="16.11" fill="#111"  stroke="#111" stroke-width="0.5">1.0%</text>
<path d="M73.5 462.1v2.2M58.6 448.8h-2.2M82.2 462.1v2.2M58.6 441.1h-2.2M88.4 462.1v2.2M58.6 435.6h-2.2M93.2 462.1v2.2M58.6 431.3h-2.2M97.1 462.1v2.2M58.6 427.8h-2.2M100.4 462.1v2.2M58.6 424.9h-2.2M103.3 462.1v2.2M58.6 422.3h-2.2M105.8 462.1v2.2M58.6 420.0h-2.2M108.1 462.1v4.2M58.6 418.0h-4.2M123.0 462.1v2.2M58.6 404.8h-2.2M131.7 462.1v2.2M58.6 397.0h-2.2M137.9 462.1v2.2M58.6 391.5h-2.2M142.7 462.1v2.2M58.6 387.2h-2.2M146.6 462.1v2.2M58.6 383.7h-2.2M149.9 462.1v2.2M58.6 380.8h-2.2M152.8 462.1v2.2M58.6 378.2h-2.2M155.3 462.1v2.2M58.6 376.0h-2.2M157.6 462.1v4.2M58.6 374.0h-4.2M172.5 462.1v2.2M58.6 360.7h-2.2M181.2 462.1v2.2M58.6 352.9h-2.2M187.4 462.1v2.2M58.6 347.4h-2.2M192.2 462.1v2.2M58.6 343.1h-2.2M196.1 462.1v2.2M58.6 339.7h-2.2M199.4 462.1v2.2M58.6 336.7h-2.2M202.3 462.1v2.2M58.6 334.1h-2.2M204.8 462.1v2.2M58.6 331.9h-2.2M207.1 462.1v4.2M58.6 329.9h-4.2M222.0 462.1v2.2M58.6 316.6h-2.2M230.7 462.1v2.2M58.6 308.8h-2.2M236.9 462.1v2.2M58.6 303.3h-2.2M241.7 462.1v2.2M58.6 299.1h-2.2M245.6 462.1v2.2M58.6 295.6h-2.2M248.9 462.1v2.2M58.6 292.6h-2.2M251.8 462.1v2.2M58.6 290.1h-2.2M254.3 462.1v2.2M58.6 287.8h-2.2M58.6 462.1v3.8M58.6 462.1h-3.8M256.6 462.1v3.8M58.6 285.8h-3.8" stroke="#222" stroke-width="1.15" fill="none"/>
<rect x="58.6" y="285.8" width="198.0" height="176.3" fill="none" stroke="#1c1c1c" stroke-width="1.45"/>
<path d="M66.3 306.0H240.2" stroke="#5a5a5a" stroke-width="1.25" fill="none" stroke-dasharray="6.5 5.43"/>
<path d="M240.2 306.0V381.5" stroke="#5a5a5a" stroke-width="1.25" fill="none" stroke-dasharray="6.8 5.6"/>
<path d="M68.1 381.5H240.2" stroke="#5a5a5a" stroke-width="1.25" fill="none" stroke-dasharray="6.5 5.43"/>
<path d="M66.3 312.0V381.5" stroke="#5a5a5a" stroke-width="1.25" fill="none" stroke-dasharray="6.2 5.6"/>
<text transform="translate(51.64 476.82) scale(0.773 1)" font-family="Liberation Sans" font-weight="normal" font-style="normal" font-size="9.50" fill="#111"  stroke="#111" stroke-width="0.18">10</text>
<text transform="translate(60.30 472.02) scale(0.800 1)" font-family="Liberation Sans" font-weight="normal" font-style="normal" font-size="8.87" fill="#111" stroke="#111" stroke-width="0.18">0</text>
<text transform="translate(101.14 476.82) scale(0.773 1)" font-family="Liberation Sans" font-weight="normal" font-style="normal" font-size="9.50" fill="#111"  stroke="#111" stroke-width="0.18">10</text>
<text transform="translate(109.53 472.11) scale(0.800 1)" font-family="Liberation Sans" font-weight="normal" font-style="normal" font-size="9.13" fill="#111" stroke="#111" stroke-width="0.18">1</text>
<text transform="translate(150.64 476.82) scale(0.773 1)" font-family="Liberation Sans" font-weight="normal" font-style="normal" font-size="9.50" fill="#111"  stroke="#111" stroke-width="0.18">10</text>
<text transform="translate(159.22 472.11) scale(0.800 1)" font-family="Liberation Sans" font-weight="normal" font-style="normal" font-size="9.00" fill="#111" stroke="#111" stroke-width="0.18">2</text>
<text transform="translate(200.14 476.82) scale(0.773 1)" font-family="Liberation Sans" font-weight="normal" font-style="normal" font-size="9.50" fill="#111"  stroke="#111" stroke-width="0.18">10</text>
<text transform="translate(208.82 472.02) scale(0.800 1)" font-family="Liberation Sans" font-weight="normal" font-style="normal" font-size="8.87" fill="#111" stroke="#111" stroke-width="0.18">3</text>
<text transform="translate(249.64 476.82) scale(0.773 1)" font-family="Liberation Sans" font-weight="normal" font-style="normal" font-size="9.50" fill="#111"  stroke="#111" stroke-width="0.18">10</text>
<text transform="translate(258.42 472.11) scale(0.800 1)" font-family="Liberation Sans" font-weight="normal" font-style="normal" font-size="9.13" fill="#111" stroke="#111" stroke-width="0.18">4</text>
<text transform="translate(51.42 467.82) rotate(-90) scale(0.720 1)" font-family="Liberation Sans" font-weight="normal" font-style="normal" font-size="9.50" fill="#111"  stroke="#111" stroke-width="0.18">10</text>
<text transform="translate(46.12 458.71) rotate(-90) scale(0.782 1)" font-family="Liberation Sans" font-weight="normal" font-style="normal" font-size="9.50" fill="#111"  stroke="#111" stroke-width="0.18">0</text>
<text transform="translate(51.42 423.75) rotate(-90) scale(0.720 1)" font-family="Liberation Sans" font-weight="normal" font-style="normal" font-size="9.50" fill="#111"  stroke="#111" stroke-width="0.18">10</text>
<text transform="translate(46.21 414.91) rotate(-90) scale(0.779 1)" font-family="Liberation Sans" font-weight="normal" font-style="normal" font-size="9.77" fill="#111"  stroke="#111" stroke-width="0.18">1</text>
<text transform="translate(51.42 379.67) rotate(-90) scale(0.720 1)" font-family="Liberation Sans" font-weight="normal" font-style="normal" font-size="9.50" fill="#111"  stroke="#111" stroke-width="0.18">10</text>
<text transform="translate(46.21 370.64) rotate(-90) scale(0.780 1)" font-family="Liberation Sans" font-weight="normal" font-style="normal" font-size="9.63" fill="#111"  stroke="#111" stroke-width="0.18">2</text>
<text transform="translate(51.42 335.60) rotate(-90) scale(0.720 1)" font-family="Liberation Sans" font-weight="normal" font-style="normal" font-size="9.50" fill="#111"  stroke="#111" stroke-width="0.18">10</text>
<text transform="translate(46.12 326.46) rotate(-90) scale(0.782 1)" font-family="Liberation Sans" font-weight="normal" font-style="normal" font-size="9.50" fill="#111"  stroke="#111" stroke-width="0.18">3</text>
<text transform="translate(51.42 291.52) rotate(-90) scale(0.720 1)" font-family="Liberation Sans" font-weight="normal" font-style="normal" font-size="9.50" fill="#111"  stroke="#111" stroke-width="0.18">10</text>
<text transform="translate(46.21 282.28) rotate(-90) scale(0.785 1)" font-family="Liberation Sans" font-weight="normal" font-style="normal" font-size="9.77" fill="#111"  stroke="#111" stroke-width="0.18">4</text>
<text transform="translate(145.08 485.02) scale(0.953 1)" font-family="Liberation Sans" font-weight="normal" font-style="normal" font-size="8.65" fill="#111"  stroke="#111" stroke-width="0.18">CFSE</text>
<text transform="translate(37.88 407.13) rotate(-90) scale(1.288 1)" font-family="Liberation Sans" font-weight="normal" font-style="normal" font-size="6.43" fill="#111"  stroke="#111" stroke-width="0.18">IFN-gamma-APC</text>
<text transform="translate(87.79 282.23) scale(1.034 1)" font-family="Liberation Sans" font-weight="normal" font-style="normal" font-size="8.46" fill="#111"  stroke="#111" stroke-width="0.18">40L/P2DC 3×10^5 Tcells15.002</text>
<text transform="translate(71.91 326.29) scale(1.028 1)" font-family="Liberation Sans" font-weight="bold" font-style="normal" font-size="16.17" fill="#111"  stroke="#111" stroke-width="0.5">1.5%</text>
<path d="M322.3 460.8v2.2M307.4 447.7h-2.2M331.0 460.8v2.2M307.4 440.0h-2.2M337.2 460.8v2.2M307.4 434.5h-2.2M342.0 460.8v2.2M307.4 430.3h-2.2M345.9 460.8v2.2M307.4 426.8h-2.2M349.2 460.8v2.2M307.4 423.9h-2.2M352.1 460.8v2.2M307.4 421.4h-2.2M354.6 460.8v2.2M307.4 419.1h-2.2M356.9 460.8v4.2M307.4 417.1h-4.2M371.8 460.8v2.2M307.4 404.0h-2.2M380.5 460.8v2.2M307.4 396.3h-2.2M386.7 460.8v2.2M307.4 390.9h-2.2M391.5 460.8v2.2M307.4 386.6h-2.2M395.4 460.8v2.2M307.4 383.2h-2.2M398.7 460.8v2.2M307.4 380.3h-2.2M401.6 460.8v2.2M307.4 377.7h-2.2M404.1 460.8v2.2M307.4 375.5h-2.2M406.4 460.8v4.2M307.4 373.5h-4.2M421.2 460.8v2.2M307.4 360.4h-2.2M430.0 460.8v2.2M307.4 352.7h-2.2M436.1 460.8v2.2M307.4 347.2h-2.2M440.9 460.8v2.2M307.4 343.0h-2.2M444.8 460.8v2.2M307.4 339.5h-2.2M448.2 460.8v2.2M307.4 336.6h-2.2M451.0 460.8v2.2M307.4 334.1h-2.2M453.6 460.8v2.2M307.4 331.8h-2.2M455.8 460.8v4.2M307.4 329.9h-4.2M470.7 460.8v2.2M307.4 316.7h-2.2M479.4 460.8v2.2M307.4 309.0h-2.2M485.6 460.8v2.2M307.4 303.6h-2.2M490.4 460.8v2.2M307.4 299.3h-2.2M494.3 460.8v2.2M307.4 295.9h-2.2M497.6 460.8v2.2M307.4 293.0h-2.2M500.5 460.8v2.2M307.4 290.4h-2.2M503.0 460.8v2.2M307.4 288.2h-2.2M307.4 460.8v3.8M307.4 460.8h-3.8M505.3 460.8v3.8M307.4 286.2h-3.8" stroke="#222" stroke-width="1.15" fill="none"/>
<rect x="307.4" y="286.2" width="197.9" height="174.6" fill="none" stroke="#1c1c1c" stroke-width="1.45"/>
<path d="M313.5 304.0H487.3" stroke="#5a5a5a" stroke-width="1.25" fill="none" stroke-dasharray="6.5 5.43"/>
<path d="M487.3 304.0V379.5" stroke="#5a5a5a" stroke-width="1.25" fill="none" stroke-dasharray="6.8 5.6"/>
<path d="M315.3 379.5H487.3" stroke="#5a5a5a" stroke-width="1.25" fill="none" stroke-dasharray="6.5 5.43"/>
<path d="M313.5 310.0V379.5" stroke="#5a5a5a" stroke-width="1.25" fill="none" stroke-dasharray="6.2 5.6"/>
<text transform="translate(300.44 475.52) scale(0.773 1)" font-family="Liberation Sans" font-weight="normal" font-style="normal" font-size="9.50" fill="#111"  stroke="#111" stroke-width="0.18">10</text>
<text transform="translate(309.10 470.72) scale(0.800 1)" font-family="Liberation Sans" font-weight="normal" font-style="normal" font-size="8.87" fill="#111" stroke="#111" stroke-width="0.18">0</text>
<text transform="translate(349.91 475.52) scale(0.773 1)" font-family="Liberation Sans" font-weight="normal" font-style="normal" font-size="9.50" fill="#111"  stroke="#111" stroke-width="0.18">10</text>
<text transform="translate(358.31 470.81) scale(0.800 1)" font-family="Liberation Sans" font-weight="normal" font-style="normal" font-size="9.13" fill="#111" stroke="#111" stroke-width="0.18">1</text>
<text transform="translate(399.39 475.52) scale(0.773 1)" font-family="Liberation Sans" font-weight="normal" font-style="normal" font-size="9.50" fill="#111"  stroke="#111" stroke-width="0.18">10</text>
<text transform="translate(407.97 470.81) scale(0.800 1)" font-family="Liberation Sans" font-weight="normal" font-style="normal" font-size="9.00" fill="#111" stroke="#111" stroke-width="0.18">2</text>
<text transform="translate(448.86 475.52) scale(0.773 1)" font-family="Liberation Sans" font-weight="normal" font-style="normal" font-size="9.50" fill="#111"  stroke="#111" stroke-width="0.18">10</text>
<text transform="translate(457.54 470.72) scale(0.800 1)" font-family="Liberation Sans" font-weight="normal" font-style="normal" font-size="8.87" fill="#111" stroke="#111" stroke-width="0.18">3</text>
<text transform="translate(498.34 475.52) scale(0.773 1)" font-family="Liberation Sans" font-weight="normal" font-style="normal" font-size="9.50" fill="#111"  stroke="#111" stroke-width="0.18">10</text>
<text transform="translate(507.12 470.81) scale(0.800 1)" font-family="Liberation Sans" font-weight="normal" font-style="normal" font-size="9.13" fill="#111" stroke="#111" stroke-width="0.18">4</text>
<text transform="translate(300.22 466.52) rotate(-90) scale(0.720 1)" font-family="Liberation Sans" font-weight="normal" font-style="normal" font-size="9.50" fill="#111"  stroke="#111" stroke-width="0.18">10</text>
<text transform="translate(294.92 457.41) rotate(-90) scale(0.782 1)" font-family="Liberation Sans" font-weight="normal" font-style="normal" font-size="9.50" fill="#111"  stroke="#111" stroke-width="0.18">0</text>
<text transform="translate(300.22 422.87) rotate(-90) scale(0.720 1)" font-family="Liberation Sans" font-weight="normal" font-style="normal" font-size="9.50" fill="#111"  stroke="#111" stroke-width="0.18">10</text>
<text transform="translate(295.01 414.03) rotate(-90) scale(0.779 1)" font-family="Liberation Sans" font-weight="normal" font-style="normal" font-size="9.77" fill="#111"  stroke="#111" stroke-width="0.18">1</text>
<text transform="translate(300.22 379.22) rotate(-90) scale(0.720 1)" font-family="Liberation Sans" font-weight="normal" font-style="normal" font-size="9.50" fill="#111"  stroke="#111" stroke-width="0.18">10</text>
<text transform="translate(295.01 370.19) rotate(-90) scale(0.780 1)" font-family="Liberation Sans" font-weight="normal" font-style="normal" font-size="9.63" fill="#111"  stroke="#111" stroke-width="0.18">2</text>
<text transform="translate(300.22 335.57) rotate(-90) scale(0.720 1)" font-family="Liberation Sans" font-weight="normal" font-style="normal" font-size="9.50" fill="#111"  stroke="#111" stroke-width="0.18">10</text>
<text transform="translate(294.92 326.44) rotate(-90) scale(0.782 1)" font-family="Liberation Sans" font-weight="normal" font-style="normal" font-size="9.50" fill="#111"  stroke="#111" stroke-width="0.18">3</text>
<text transform="translate(300.22 291.92) rotate(-90) scale(0.720 1)" font-family="Liberation Sans" font-weight="normal" font-style="normal" font-size="9.50" fill="#111"  stroke="#111" stroke-width="0.18">10</text>
<text transform="translate(295.01 282.68) rotate(-90) scale(0.785 1)" font-family="Liberation Sans" font-weight="normal" font-style="normal" font-size="9.77" fill="#111"  stroke="#111" stroke-width="0.18">4</text>
<text transform="translate(393.83 483.72) scale(0.953 1)" font-family="Liberation Sans" font-weight="normal" font-style="normal" font-size="8.65" fill="#111"  stroke="#111" stroke-width="0.18">CFSE</text>
<text transform="translate(286.68 406.68) rotate(-90) scale(1.288 1)" font-family="Liberation Sans" font-weight="normal" font-style="normal" font-size="6.43" fill="#111"  stroke="#111" stroke-width="0.18">IFN-gamma-APC</text>
<text transform="translate(334.19 282.83) scale(1.045 1)" font-family="Liberation Sans" font-weight="normal" font-style="normal" font-size="8.46" fill="#111"  stroke="#111" stroke-width="0.18">40L McDC 3×10^5 Tcells12.002</text>
<text transform="translate(315.93 322.09) scale(0.999 1)" font-family="Liberation Sans" font-weight="bold" font-style="normal" font-size="16.40" fill="#111"  stroke="#111" stroke-width="0.5">12.0%</text>
<path d="M74.4 718.2v2.2M59.5 705.0h-2.2M83.1 718.2v2.2M59.5 697.3h-2.2M89.3 718.2v2.2M59.5 691.9h-2.2M94.0 718.2v2.2M59.5 687.6h-2.2M98.0 718.2v2.2M59.5 684.2h-2.2M101.3 718.2v2.2M59.5 681.2h-2.2M104.1 718.2v2.2M59.5 678.7h-2.2M106.7 718.2v2.2M59.5 676.5h-2.2M108.9 718.2v4.2M59.5 674.5h-4.2M123.8 718.2v2.2M59.5 661.3h-2.2M132.5 718.2v2.2M59.5 653.6h-2.2M138.7 718.2v2.2M59.5 648.1h-2.2M143.5 718.2v2.2M59.5 643.9h-2.2M147.4 718.2v2.2M59.5 640.4h-2.2M150.7 718.2v2.2M59.5 637.5h-2.2M153.6 718.2v2.2M59.5 634.9h-2.2M156.1 718.2v2.2M59.5 632.7h-2.2M158.3 718.2v4.2M59.5 630.7h-4.2M173.2 718.2v2.2M59.5 617.5h-2.2M181.9 718.2v2.2M59.5 609.8h-2.2M188.1 718.2v2.2M59.5 604.4h-2.2M192.9 718.2v2.2M59.5 600.1h-2.2M196.8 718.2v2.2M59.5 596.7h-2.2M200.1 718.2v2.2M59.5 593.7h-2.2M203.0 718.2v2.2M59.5 591.2h-2.2M205.5 718.2v2.2M59.5 589.0h-2.2M207.8 718.2v4.2M59.5 587.0h-4.2M222.7 718.2v2.2M59.5 573.8h-2.2M231.4 718.2v2.2M59.5 566.1h-2.2M237.5 718.2v2.2M59.5 560.6h-2.2M242.3 718.2v2.2M59.5 556.4h-2.2M246.2 718.2v2.2M59.5 552.9h-2.2M249.5 718.2v2.2M59.5 550.0h-2.2M252.4 718.2v2.2M59.5 547.4h-2.2M254.9 718.2v2.2M59.5 545.2h-2.2M59.5 718.2v3.8M59.5 718.2h-3.8M257.2 718.2v3.8M59.5 543.2h-3.8" stroke="#222" stroke-width="1.15" fill="none"/>
<rect x="59.5" y="543.2" width="197.7" height="175.0" fill="none" stroke="#1c1c1c" stroke-width="1.45"/>
<path d="M67.0 562.3H241.0" stroke="#5a5a5a" stroke-width="1.25" fill="none" stroke-dasharray="6.5 5.43"/>
<path d="M241.0 562.3V638.5" stroke="#5a5a5a" stroke-width="1.25" fill="none" stroke-dasharray="6.8 5.6"/>
<path d="M68.8 638.5H241.0" stroke="#5a5a5a" stroke-width="1.25" fill="none" stroke-dasharray="6.5 5.43"/>
<path d="M67.0 568.3V638.5" stroke="#5a5a5a" stroke-width="1.25" fill="none" stroke-dasharray="6.2 5.6"/>
<text transform="translate(52.54 732.92) scale(0.773 1)" font-family="Liberation Sans" font-weight="normal" font-style="normal" font-size="9.50" fill="#111"  stroke="#111" stroke-width="0.18">10</text>
<text transform="translate(61.20 728.12) scale(0.800 1)" font-family="Liberation Sans" font-weight="normal" font-style="normal" font-size="8.87" fill="#111" stroke="#111" stroke-width="0.18">0</text>
<text transform="translate(101.96 732.92) scale(0.773 1)" font-family="Liberation Sans" font-weight="normal" font-style="normal" font-size="9.50" fill="#111"  stroke="#111" stroke-width="0.18">10</text>
<text transform="translate(110.36 728.21) scale(0.800 1)" font-family="Liberation Sans" font-weight="normal" font-style="normal" font-size="9.13" fill="#111" stroke="#111" stroke-width="0.18">1</text>
<text transform="translate(151.39 732.92) scale(0.773 1)" font-family="Liberation Sans" font-weight="normal" font-style="normal" font-size="9.50" fill="#111"  stroke="#111" stroke-width="0.18">10</text>
<text transform="translate(159.97 728.21) scale(0.800 1)" font-family="Liberation Sans" font-weight="normal" font-style="normal" font-size="9.00" fill="#111" stroke="#111" stroke-width="0.18">2</text>
<text transform="translate(200.81 732.92) scale(0.773 1)" font-family="Liberation Sans" font-weight="normal" font-style="normal" font-size="9.50" fill="#111"  stroke="#111" stroke-width="0.18">10</text>
<text transform="translate(209.49 728.12) scale(0.800 1)" font-family="Liberation Sans" font-weight="normal" font-style="normal" font-size="8.87" fill="#111" stroke="#111" stroke-width="0.18">3</text>
<text transform="translate(250.24 732.92) scale(0.773 1)" font-family="Liberation Sans" font-weight="normal" font-style="normal" font-size="9.50" fill="#111"  stroke="#111" stroke-width="0.18">10</text>
<text transform="translate(259.02 728.21) scale(0.800 1)" font-family="Liberation Sans" font-weight="normal" font-style="normal" font-size="9.13" fill="#111" stroke="#111" stroke-width="0.18">4</text>
<text transform="translate(52.32 723.92) rotate(-90) scale(0.720 1)" font-family="Liberation Sans" font-weight="normal" font-style="normal" font-size="9.50" fill="#111"  stroke="#111" stroke-width="0.18">10</text>
<text transform="translate(47.02 714.81) rotate(-90) scale(0.782 1)" font-family="Liberation Sans" font-weight="normal" font-style="normal" font-size="9.50" fill="#111"  stroke="#111" stroke-width="0.18">0</text>
<text transform="translate(52.32 680.17) rotate(-90) scale(0.720 1)" font-family="Liberation Sans" font-weight="normal" font-style="normal" font-size="9.50" fill="#111"  stroke="#111" stroke-width="0.18">10</text>
<text transform="translate(47.11 671.33) rotate(-90) scale(0.779 1)" font-family="Liberation Sans" font-weight="normal" font-style="normal" font-size="9.77" fill="#111"  stroke="#111" stroke-width="0.18">1</text>
<text transform="translate(52.32 636.42) rotate(-90) scale(0.720 1)" font-family="Liberation Sans" font-weight="normal" font-style="normal" font-size="9.50" fill="#111"  stroke="#111" stroke-width="0.18">10</text>
<text transform="translate(47.11 627.39) rotate(-90) scale(0.780 1)" font-family="Liberation Sans" font-weight="normal" font-style="normal" font-size="9.63" fill="#111"  stroke="#111" stroke-width="0.18">2</text>
<text transform="translate(52.32 592.67) rotate(-90) scale(0.720 1)" font-family="Liberation Sans" font-weight="normal" font-style="normal" font-size="9.50" fill="#111"  stroke="#111" stroke-width="0.18">10</text>
<text transform="translate(47.02 583.54) rotate(-90) scale(0.782 1)" font-family="Liberation Sans" font-weight="normal" font-style="normal" font-size="9.50" fill="#111"  stroke="#111" stroke-width="0.18">3</text>
<text transform="translate(52.32 548.92) rotate(-90) scale(0.720 1)" font-family="Liberation Sans" font-weight="normal" font-style="normal" font-size="9.50" fill="#111"  stroke="#111" stroke-width="0.18">10</text>
<text transform="translate(47.11 539.68) rotate(-90) scale(0.785 1)" font-family="Liberation Sans" font-weight="normal" font-style="normal" font-size="9.77" fill="#111"  stroke="#111" stroke-width="0.18">4</text>
<text transform="translate(145.83 741.12) scale(0.953 1)" font-family="Liberation Sans" font-weight="normal" font-style="normal" font-size="8.65" fill="#111"  stroke="#111" stroke-width="0.18">CFSE</text>
<text transform="translate(38.78 663.88) rotate(-90) scale(1.288 1)" font-family="Liberation Sans" font-weight="normal" font-style="normal" font-size="6.43" fill="#111"  stroke="#111" stroke-width="0.18">IFN-gamma-APC</text>
<text transform="translate(89.46 539.23) scale(1.049 1)" font-family="Liberation Sans" font-weight="normal" font-style="normal" font-size="8.46" fill="#111"  stroke="#111" stroke-width="0.18">E.coliDC 3×10^5 Tcells18.002</text>
<text transform="translate(70.86 582.09) scale(1.029 1)" font-family="Liberation Sans" font-weight="bold" font-style="normal" font-size="16.40" fill="#111"  stroke="#111" stroke-width="0.5">20.0%</text>
<path d="M328.5 721.1v2.2M313.6 707.8h-2.2M337.3 721.1v2.2M313.6 700.0h-2.2M343.4 721.1v2.2M313.6 694.5h-2.2M348.3 721.1v2.2M313.6 690.2h-2.2M352.2 721.1v2.2M313.6 686.7h-2.2M355.5 721.1v2.2M313.6 683.8h-2.2M358.4 721.1v2.2M313.6 681.2h-2.2M360.9 721.1v2.2M313.6 678.9h-2.2M363.2 721.1v4.2M313.6 676.9h-4.2M378.1 721.1v2.2M313.6 663.6h-2.2M386.8 721.1v2.2M313.6 655.8h-2.2M393.0 721.1v2.2M313.6 650.3h-2.2M397.8 721.1v2.2M313.6 646.0h-2.2M401.8 721.1v2.2M313.6 642.6h-2.2M405.1 721.1v2.2M313.6 639.6h-2.2M407.9 721.1v2.2M313.6 637.0h-2.2M410.5 721.1v2.2M313.6 634.8h-2.2M412.8 721.1v4.2M313.6 632.8h-4.2M427.7 721.1v2.2M313.6 619.5h-2.2M436.4 721.1v2.2M313.6 611.7h-2.2M442.6 721.1v2.2M313.6 606.2h-2.2M447.4 721.1v2.2M313.6 601.9h-2.2M451.3 721.1v2.2M313.6 598.4h-2.2M454.6 721.1v2.2M313.6 595.4h-2.2M457.5 721.1v2.2M313.6 592.9h-2.2M460.1 721.1v2.2M313.6 590.6h-2.2M462.3 721.1v4.2M313.6 588.6h-4.2M477.2 721.1v2.2M313.6 575.3h-2.2M486.0 721.1v2.2M313.6 567.5h-2.2M492.2 721.1v2.2M313.6 562.0h-2.2M497.0 721.1v2.2M313.6 557.7h-2.2M500.9 721.1v2.2M313.6 554.2h-2.2M504.2 721.1v2.2M313.6 551.2h-2.2M507.1 721.1v2.2M313.6 548.7h-2.2M509.6 721.1v2.2M313.6 546.4h-2.2M313.6 721.1v3.8M313.6 721.1h-3.8M511.9 721.1v3.8M313.6 544.4h-3.8" stroke="#222" stroke-width="1.15" fill="none"/>
<rect x="313.6" y="544.4" width="198.3" height="176.7" fill="none" stroke="#1c1c1c" stroke-width="1.45"/>
<path d="M321.2 564.1H494.8" stroke="#5a5a5a" stroke-width="1.25" fill="none" stroke-dasharray="6.5 5.43"/>
<path d="M494.8 564.1V640.5" stroke="#5a5a5a" stroke-width="1.25" fill="none" stroke-dasharray="6.8 5.6"/>
<path d="M323.0 640.5H494.8" stroke="#5a5a5a" stroke-width="1.25" fill="none" stroke-dasharray="6.5 5.43"/>
<path d="M321.2 570.1V640.5" stroke="#5a5a5a" stroke-width="1.25" fill="none" stroke-dasharray="6.2 5.6"/>
<text transform="translate(306.64 735.82) scale(0.773 1)" font-family="Liberation Sans" font-weight="normal" font-style="normal" font-size="9.50" fill="#111"  stroke="#111" stroke-width="0.18">10</text>
<text transform="translate(315.30 731.02) scale(0.800 1)" font-family="Liberation Sans" font-weight="normal" font-style="normal" font-size="8.87" fill="#111" stroke="#111" stroke-width="0.18">0</text>
<text transform="translate(356.21 735.82) scale(0.773 1)" font-family="Liberation Sans" font-weight="normal" font-style="normal" font-size="9.50" fill="#111"  stroke="#111" stroke-width="0.18">10</text>
<text transform="translate(364.61 731.11) scale(0.800 1)" font-family="Liberation Sans" font-weight="normal" font-style="normal" font-size="9.13" fill="#111" stroke="#111" stroke-width="0.18">1</text>
<text transform="translate(405.79 735.82) scale(0.773 1)" font-family="Liberation Sans" font-weight="normal" font-style="normal" font-size="9.50" fill="#111"  stroke="#111" stroke-width="0.18">10</text>
<text transform="translate(414.37 731.11) scale(0.800 1)" font-family="Liberation Sans" font-weight="normal" font-style="normal" font-size="9.00" fill="#111" stroke="#111" stroke-width="0.18">2</text>
<text transform="translate(455.36 735.82) scale(0.773 1)" font-family="Liberation Sans" font-weight="normal" font-style="normal" font-size="9.50" fill="#111"  stroke="#111" stroke-width="0.18">10</text>
<text transform="translate(464.04 731.02) scale(0.800 1)" font-family="Liberation Sans" font-weight="normal" font-style="normal" font-size="8.87" fill="#111" stroke="#111" stroke-width="0.18">3</text>
<text transform="translate(504.94 735.82) scale(0.773 1)" font-family="Liberation Sans" font-weight="normal" font-style="normal" font-size="9.50" fill="#111"  stroke="#111" stroke-width="0.18">10</text>
<text transform="translate(513.72 731.11) scale(0.800 1)" font-family="Liberation Sans" font-weight="normal" font-style="normal" font-size="9.13" fill="#111" stroke="#111" stroke-width="0.18">4</text>
<text transform="translate(306.42 726.82) rotate(-90) scale(0.720 1)" font-family="Liberation Sans" font-weight="normal" font-style="normal" font-size="9.50" fill="#111"  stroke="#111" stroke-width="0.18">10</text>
<text transform="translate(301.12 717.71) rotate(-90) scale(0.782 1)" font-family="Liberation Sans" font-weight="normal" font-style="normal" font-size="9.50" fill="#111"  stroke="#111" stroke-width="0.18">0</text>
<text transform="translate(306.42 682.65) rotate(-90) scale(0.720 1)" font-family="Liberation Sans" font-weight="normal" font-style="normal" font-size="9.50" fill="#111"  stroke="#111" stroke-width="0.18">10</text>
<text transform="translate(301.21 673.81) rotate(-90) scale(0.779 1)" font-family="Liberation Sans" font-weight="normal" font-style="normal" font-size="9.77" fill="#111"  stroke="#111" stroke-width="0.18">1</text>
<text transform="translate(306.42 638.47) rotate(-90) scale(0.720 1)" font-family="Liberation Sans" font-weight="normal" font-style="normal" font-size="9.50" fill="#111"  stroke="#111" stroke-width="0.18">10</text>
<text transform="translate(301.21 629.44) rotate(-90) scale(0.780 1)" font-family="Liberation Sans" font-weight="normal" font-style="normal" font-size="9.63" fill="#111"  stroke="#111" stroke-width="0.18">2</text>
<text transform="translate(306.42 594.30) rotate(-90) scale(0.720 1)" font-family="Liberation Sans" font-weight="normal" font-style="normal" font-size="9.50" fill="#111"  stroke="#111" stroke-width="0.18">10</text>
<text transform="translate(301.12 585.16) rotate(-90) scale(0.782 1)" font-family="Liberation Sans" font-weight="normal" font-style="normal" font-size="9.50" fill="#111"  stroke="#111" stroke-width="0.18">3</text>
<text transform="translate(306.42 550.12) rotate(-90) scale(0.720 1)" font-family="Liberation Sans" font-weight="normal" font-style="normal" font-size="9.50" fill="#111"  stroke="#111" stroke-width="0.18">10</text>
<text transform="translate(301.21 540.88) rotate(-90) scale(0.785 1)" font-family="Liberation Sans" font-weight="normal" font-style="normal" font-size="9.77" fill="#111"  stroke="#111" stroke-width="0.18">4</text>
<text transform="translate(400.23 744.02) scale(0.953 1)" font-family="Liberation Sans" font-weight="normal" font-style="normal" font-size="8.65" fill="#111"  stroke="#111" stroke-width="0.18">CFSE</text>
<text transform="translate(292.88 665.93) rotate(-90) scale(1.288 1)" font-family="Liberation Sans" font-weight="normal" font-style="normal" font-size="6.43" fill="#111"  stroke="#111" stroke-width="0.18">IFN-gamma-APC</text>
<text transform="translate(337.88 540.43) scale(1.241 1)" font-family="Liberation Sans" font-weight="normal" font-style="normal" font-size="7.92" fill="#111"  stroke="#111" stroke-width="0.18">E/P2 DC 3×10^5 Tcells21.002</text>
<text transform="translate(321.11 582.09) scale(1.012 1)" font-family="Liberation Sans" font-weight="bold" font-style="normal" font-size="16.40" fill="#111"  stroke="#111" stroke-width="0.5">14.8%</text>
</svg></body></html>
